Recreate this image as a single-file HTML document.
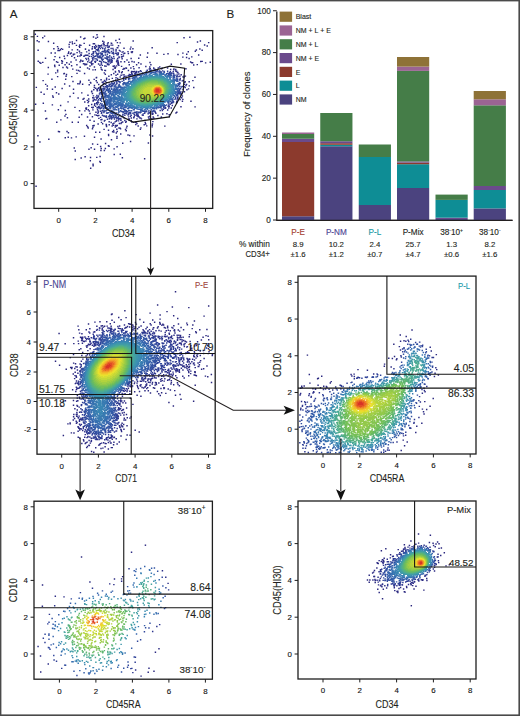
<!DOCTYPE html><html><head><meta charset="utf-8"><style>html,body{margin:0;padding:0;background:#fff;width:520px;height:716px;overflow:hidden}svg{display:block}</style></head><body><svg width="520" height="716" viewBox="0 0 520 716" font-family="'Liberation Sans', sans-serif">
<rect x="0" y="0" width="520" height="716" fill="#fff"/>
<g fill="none" stroke-width="1.45"><path stroke="#2a267c" d="M143.9 158.8h1.45m-110 27.5h1.45"/><path stroke="#2a277d" d="M34.6 34.3h1.45m7.8 1.8h1.45m-8.6 0.3h1.45m3.9 1.4h1.45m-7 2.9h1.45m94.5 0.3h1.45m-95.6 0.7h1.45m168.2 0.9h1.45m-2.9 3.4h1.45m-56.5 1.8h1.45m-5.9 5.1h1.45m7.8 0.3h1.45m9.6 0.6h1.45m-5.6 0.6h1.45m-18.1 2.8h1.45m61.6 5h1.45m-6.1 0.7h1.45m-12.1 14.4h1.45m-160.1 10.1h1.45m153.2 13.9h1.45m-156.8 2.9h1.45m158 2.7h1.45m-151.1 4.2h1.45m-0.2 7.4h1.45m-2.4 0.4h1.45m9.6 3.3h1.45m106.6 3.9h1.45m-107.8 5.3h1.45m-0.5 0.3h1.45m89.1 3.2h1.45m-113.5 0.8h1.45m113.2 0.3h1.45m-85.8 1.2h1.45m-4.4 0.5h1.45m-17.9 1.6h1.45m80.3 2.2h1.45m-92.1 0.4h1.45m107 1h1.45m-29.5 11.3h1.45m0.6 3.5h1.45m-48.6 1.7h1.45m14 8.8h1.45"/><path stroke="#2a277f" d="M96.3 34.7h1.45m5.5 1.7h1.45m-24.8 0.5h1.45m11.4 0.1h1.45m2.6 0.2h1.45m90.9 0.1h1.45m-7.3 0.5h1.45m-100.6 0.4h1.45m-2.4 0.5h1.45m34 0.6h1.45m-44.3 1.2h1.45m122.4 0.4h1.45m-153.4 0.6h1.45m22.4 0.4h1.45m123.8-0h1.45m-129 0.4h1.45m105.8 0.3h1.45m-125 0.7h1.45m17.4 0.4h1.45m-4.8 0.7h1.45m134 0.6h1.45m-148.5 1.6h1.45m71.9 0.5h1.45m-74 1.4h1.45m1.6 0.1h1.45m-9 0.2h1.45m77.6-0h1.45m65.5 0.2h1.45m-140.9 0.8h1.45m134.5 0.2h1.45m-159.7 0.2h1.45m162.6-0h1.45m-145.6 0.2h1.45m-0 0.2h1.45m134.4 0.7h1.45m-141.6 1.6h1.45m-5.4 0.1h1.45m130.2 0.1h1.45m2.4 1.1h1.45m-10.2 0.3h1.45m-39.1 0.5h1.45m56.9-0h1.45m-145.1 1.6h1.45m135.3 0.3h1.45m-10.4 0.2h1.45m2.3 0.4h1.45m-142.5 0.8h1.45m91.8-0h1.45m48.9 0.2h1.45m-136.5 1.2h1.45m-17.3 1.6h1.45m162.5 0.1h1.45m-2.9 0.1h1.45m-145.6 0.2h1.45m132.6 0.3h1.45m-149.3 0.4h1.45m13.6-0h1.45m-19.6 0.1h1.45m108.9-0h1.45m-12.9 0.2h1.45m52.6-0h1.45m-2.2 0.1h1.45m-152.5 0.5h1.45m138.6 0.7h1.45m-11 0.2h1.45m24.5 0.4h1.45m-5 0.4h1.45m-140.5 0.3h1.45m3.1-0h1.45m-5.8 1.1h1.45m-8 1h1.45m13.2 0.1h1.45m121.5 1.2h1.45m-114.6 0.4h1.45m-16.6 1.1h1.45m-1.4 1.7h1.45m-3.4 1h1.45m7.2 0.5h1.45m11.2-0h1.45m6.1 0.1h1.45m-22.1 0.3h1.45m-17.3 0.3h1.45m17 0.3h1.45m-1.9 1.8h1.45m-9.9 0.4h1.45m12.7-0h1.45m-21.3 2.7h1.45m12.3-0h1.45m-24 1.3h1.45m148.3-0h1.45m-114 0.6h1.45m-8.8 0.2h1.45m5.8 1.2h1.45m-3.8 1.2h1.45m0.2 0.1h1.45m-16.3 0.2h1.45m16.5 0.1h1.45m-38.4 0.2h1.45m0.2 1.7h1.45m20.8-0h1.45m-15.8 0.9h1.45m137.1 0.6h1.45m-133.1 1h1.45m-16.3 0.5h1.45m24.8 0.1h1.45m-22.5 0.1h1.45m-12.8 2.9h1.45m13.9 0.5h1.45m15.6 0.5h1.45m-16.2 0.8h1.45m-16.1 0.2h1.45m7.1 1.7h1.45m15.9 0.6h1.45m-18.3 0.7h1.45m23.5 0.9h1.45m-11.5 3.8h1.45m-26.2 1.3h1.45m7.6 1.7h1.45m6.8 0.7h1.45m118.9 1.2h1.45m-107.5 0.6h1.45m-18 2.4h1.45m5.5 0.8h1.45m12.8 0.1h1.45m95.8 1.6h1.45m-2.3 0.8h1.45m-111.5 1.3h1.45m-2.4 1.7h1.45m102.9 0.7h1.45m-91.6 0.4h1.45m-13.2 0.5h1.45m-8 2.2h1.45m10 2.3h1.45m4.5 0.1h1.45m72.5 2.9h1.45m-67 0.4h1.45m-0.5 1.1h1.45m63.1 0.2h1.45m-65.4 1.2h1.45m50.7 1.2h1.45m-74.8 2.2h1.45m-0 1.3h1.45m58.1 2.3h1.45m0.2 0.4h1.45m2.9 0.4h1.45m-51 0.3h1.45m31.1 0.3h1.45m-42.3 0.4h1.45m16.9 0.3h1.45m-24.5 0.7h1.45m44 0.3h1.45m-6.9 1.6h1.45m9.8 3.4h1.45m-18.6 0.3h1.45m-14.4 0.5h1.45m3.5 0.4h1.45m9.4 1.4h1.45m-0.8 0.5h1.45m-9.9 0.3h1.45m15 0.1h1.45m-27.4 1h1.45m-18.3 0.4h1.45m25.5 0.4h1.45m2.7-0h1.45m7.3 0.4h1.45m-26.6 0.3h1.45m4.1-0h1.45m8.4 1.3h1.45m-4.9 0.1h1.45m-27.1 0.4h1.45m37.5 3.5h1.45m-15.6 2.1h1.45m-16.4 0.1h1.45m10.2 0.7h1.45m-7.7 0.2h1.45m-10.8 0.5h1.45m7.7 2.7h1.45m8.1 0.6h1.45m-1 1h1.45m-8.7 1.8h1.45m-1.4 1.5h1.45"/><path stroke="#2b2880" d="M95.2 38.3h1.45m18.5 2.2h1.45m0.1 2.1h1.45m1.3 0.3h1.45m-47 0.5h1.45m8.1 0h1.45m-5.8 1.6h1.45m-4.8 0.4h1.45m3 0h1.45m-3.1 1h1.45m-11.5 0.6h1.45m59.7 2h1.45m-69.2 0.4h1.45m8.1 0.5h1.45m54.4 1.7h1.45m58.8 0.1h1.45m-57.3 0.1h1.45m-2.5 0.2h1.45m-64.1 0.1h1.45m61.8 0.4h1.45m-62.2 0.5h1.45m-4.4 0.4h1.45m0.6 0.4h1.45m2.8 0.3h1.45m-2.7 0.2h1.45m-1.3 0.4h1.45m-7.5 0.7h1.45m-4.7 0.8h1.45m6.2 0h1.45m-13.6 1.2h1.45m13.4 0.3h1.45m-11.3 0.7h1.45m65 0.1h1.45m-70.9 2.2h1.45m68.9 0.7h1.45m-71 0.1h1.45m7.1 0.4h1.45m61.7-0h1.45m-6.8 0.3h1.45m-63.5 0.6h1.45m-6.2 0.5h1.45m77.5 0.6h1.45m-73.1 0.4h1.45m-5.7 0.4h1.45m10.4-0h1.45m50.9 0.1h1.45m5.9-0h1.45m12.8-0h1.45m-80.7 0.9h1.45m60.3 0.9h1.45m-68.2 0.3h1.45m12.1 0.4h1.45m-14.1 0.6h1.45m18.6 0.1h1.45m0.3 1h1.45m-14.2 1.1h1.45m0.4 0.3h1.45m-0 0.7h1.45m104.1 5h1.45m-90.3 1.4h1.45m-1.7 0.2h1.45m-3.6 1.7h1.45m-6.7 0.8h1.45m98.8 1.5h1.45m-100.2 0.7h1.45m-1.1 0.6h1.45m-3 1.8h1.45m98.6 1.1h1.45m-2.2 3h1.45m-108.2 4h1.45m0.8 5.7h1.45m-2.4 0.7h1.45m97.9 2h1.45m-99.1 0.8h1.45m0.3 5.8h1.45m-2.1 0.3h1.45m-1.1 1.1h1.45m-2.8 1.6h1.45m80.6 2.9h1.45m-86.7 0.7h1.45m86.1 0.3h1.45m-9.3 2.1h1.45m-75.3 0.1h1.45m72.3 0.4h1.45m-72.7 2.8h1.45m61.4 1.4h1.45m-9.1 0.9h1.45m5.8 1.4h1.45m-8.2 0.1h1.45m-11.4 0.6h1.45m7 0.2h1.45m-51.6 0.7h1.45m-2.1 0.2h1.45m-1.9 0.1h1.45m52.3 0.1h1.45m-10 0.1h1.45m-46.7 1.4h1.45m32.2 0.5h1.45m12.9 0h1.45m-49.9 0.9h1.45m31.6 0.8h1.45m-0.7 1.2h1.45m-10.5 0.8h1.45m-6.1 0.2h1.45m-0.2 0.2h1.45m-19.5 0.3h1.45m2.5 0h1.45m15.1 0.6h1.45m3 1.1h1.45m-13.6 0.4h1.45m-1.4 1h1.45m-9 3.6h1.45"/><path stroke="#2b2982" d="M102 41.3h1.45m-0.5 0.8h1.45m-1 0h1.45m2.6 0.7h1.45m1.6 0.3h1.45m-1 0.3h1.45m-19.8 0.4h1.45m-0.3 0h1.45m22.6 2h1.45m-40.3 1.5h1.45m42.9 0.9h1.45m-47.9 1.6h1.45m0.4 1.5h1.45m-3.8 1.3h1.45m1.4 0.3h1.45m47 0.6h1.45m-48.9 1.2h1.45m-2.4 1.3h1.45m-3.7 0.3h1.45m-3.1 3.7h1.45m49.5 0h1.45m-47.7 0.2h1.45m0.7 0.8h1.45m-2.1 0.2h1.45m-3.6 0.6h1.45m43 0h1.45m-42.5 2h1.45m-0.4 0.1h1.45m-0 0.3h1.45m-0.8 0h1.45m-1.5 0.2h1.45m-1.7 0.2h1.45m-2.9 0.1h1.45m32.5 0.5h1.45m-30.3 0.8h1.45m30.1 0.4h1.45m22.8 0.2h1.45m12.5 0.4h1.45m-45.7 0.3h1.45m22.1 0.4h1.45m-14.6 0.2h1.45m3.5 0.2h1.45m-5.9 0.1h1.45m-12.7 0.2h1.45m7.3 0.1h1.45m-0.9 0.2h1.45m8 0.1h1.45m38.6 0.3h1.45m-74 0.2h1.45m20.1 0.1h1.45m51.3 0.1h1.45m-64.1 0.1h1.45m-19.2 0.2h1.45m-3.8 0.1h1.45m79.2 0h1.45m-72.9 0.1h1.45m1.2 0.4h1.45m-0.8 0.1h1.45m21.5 0h1.45m-11 0.3h1.45m-4.9 0.8h1.45m5.4 0.1h1.45m-8.2 0.3h1.45m2.4 0.1h1.45m0.8 0.7h1.45m-18.8 0.1h1.45m-0.4 1.3h1.45m74.4 0.5h1.45m1.5 1.5h1.45m-89.3 4.6h1.45m-0.5 1.7h1.45m87.9 1.9h1.45m-93.6 1.1h1.45m90.1 0.1h1.45m-93.1 2h1.45m-2 2.2h1.45m91.7 0h1.45m-96.6 1.4h1.45m-1.6 0.6h1.45m-5.1 3.5h1.45m-0.7 3.7h1.45m92.7 0.4h1.45m-97 1h1.45m-0.1 0.8h1.45m-2.1 1.4h1.45m-0.8 3.1h1.45m1.6 1.7h1.45m78.1 0.6h1.45m-84.5 1.7h1.45m78 0.4h1.45m-79.8 1h1.45m-0.8 2.5h1.45m71.3 0.4h1.45m-6.3 1.5h1.45m-66.9 1.2h1.45m59.3 0.3h1.45m-5.6 1.3h1.45m3.4 0h1.45m-3.4 0.5h1.45m-8.5 1.6h1.45m-52.2 0.9h1.45m40.5 0.7h1.45m-5.7 0.1h1.45m0.5 0.3h1.45m0.4 0.2h1.45m-0.1 0.9h1.45m-40.3 0.5h1.45m16.8 2.1h1.45m9.2 0.2h1.45m-21.9 0.3h1.45m7.3 0.5h1.45m2.2 0.9h1.45m-0.2 0.3h1.45m-1.1 0.6h1.45m-5.2 0.4h1.45m-14.2 0.1h1.45m3 0.9h1.45m3.6 0.3h1.45"/><path stroke="#2b2a83" d="M102.6 43.7h1.45m2.8 0.2h1.45m-5.3 0.1h1.45m-1 0.5h1.45m5.5 0.6h1.45m0.1-0h1.45m-24.5 0.1h1.45m4.7 0.2h1.45m-4.7 1.3h1.45m23.3 0.9h1.45m-1 0.1h1.45m-33.7 1.3h1.45m-1.4 0.4h1.45m32.4 1h1.45m-0.6 0.7h1.45m1.5 0.8h1.45m-2.5 0.2h1.45m-42 0.8h1.45m41.7 0.3h1.45m-2.6 0.7h1.45m-3.5 0.7h1.45m-41.6 0.7h1.45m1.7 0.6h1.45m37.4 0.1h1.45m-40.9 0.3h1.45m36.6 0.5h1.45m-1.9 0.3h1.45m-37.1 1.3h1.45m34.8 0.3h1.45m-37 0.8h1.45m-0.2 2.2h1.45m31.7 0h1.45m-5.3 0.3h1.45m-0.3 0h1.45m-29.9 0.4h1.45m0 0.9h1.45m25.7 0.1h1.45m-27 0.4h1.45m23.3 0.1h1.45m-0.9 0.6h1.45m-27.9 0.2h1.45m6.8 0.5h1.45m15.2 0.7h1.45m-3.6 0.2h1.45m-9.9 0.2h1.45m5.7-0h1.45m-20.2 0.7h1.45m53.9 0.1h1.45m-50.2 0.3h1.45m-1.5 0.1h1.45m12.1 0.4h1.45m51.6 0.2h1.45m1.6 1.4h1.45m3.6 1.6h1.45m-0.4 0.2h1.45m-43.7 0.1h1.45m0.6 0h1.45m-6.2 0.1h1.45m-0.1 0.3h1.45m-0.1 0h1.45m-4.5 0.4h1.45m45 0.2h1.45m-2 0.3h1.45m-65 0.8h1.45m63.6 0.5h1.45m-62.6 0.2h1.45m-7.8 0.5h1.45m10.3 0.2h1.45m-0.3 0h1.45m-9.6 0.4h1.45m3.6-0h1.45m-13.7 1h1.45m72.6 0.6h1.45m-0.4 0.7h1.45m-78.8 0.6h1.45m-7 1.5h1.45m80.7 0.9h1.45m0.5 1.1h1.45m-1.9 0.6h1.45m-1.7 1.9h1.45m-87.2 0.3h1.45m85 3h1.45m-91 0.8h1.45m-0 1.1h1.45m85.9 2.4h1.45m-93.4 1.8h1.45m-0.5 2.3h1.45m87.5 0.2h1.45m-91.1 1.6h1.45m87.2 0.1h1.45m-1.1 0h1.45m-89.2 0.2h1.45m84.7 1.5h1.45m-88.3 0.8h1.45m-1.6 0.8h1.45m82.1 1.2h1.45m-1.6 0.7h1.45m-86.3 1.5h1.45m79.2 1h1.45m-80.6 1.8h1.45m-1.9 0.6h1.45m74.6 0.1h1.45m-77.3 1.9h1.45m1.6 2.3h1.45m-2.5 2.7h1.45m0.2 0.3h1.45m0.8 0.2h1.45m-2.4 0.4h1.45m50.6 0.4h1.45m-2.9 0.8h1.45m-10 1h1.45m-0.7 0h1.45m-10.8 0.1h1.45m-33.9 0.3h1.45m36.6 0.5h1.45m3.1 0h1.45m-13.6 0.1h1.45m-2.2 0.1h1.45m-0.9 0.3h1.45m-28.7 0.2h1.45m-2.3 0.2h1.45m26.6 0.2h1.45m0.7 0.8h1.45m-28.3 0.2h1.45m20.4 0.5h1.45m-5 0.5h1.45m1.6 0.3h1.45m-25.7 0.1h1.45m18.6 0.2h1.45m-9.1 0.7h1.45m5.7 0.2h1.45m-3.1 0.1h1.45m-18.2 0.2h1.45m8.7 0.3h1.45m-7.9 0.3h1.45m-1.6 0.2h1.45m1.6 0.1h1.45m2.9 0.7h1.45m0.6 0h1.45m0.2 0.1h1.45m-12.3 0.1h1.45m4.3 0.5h1.45"/><path stroke="#2c2e88" d="M100.9 45.3h1.45m-4.7 0.1h1.45m-0 0.3h1.45m4.6 0h1.45m0.2 0.1h1.45m-4.9 0.1h1.45m-4.9 0.2h1.45m7.2 0.2h1.45m-16.1 0.4h1.45m0.4 0.1h1.45m-1.2 0.1h1.45m0.7 0.1h1.45m8.6 0.3h1.45m-15 0.7h1.45m-2 0.2h1.45m-3.9 0.2h1.45m17.3 0.1h1.45m0.3 0.1h1.45m-22.2 0.4h1.45m22.5 0.6h1.45m-28.7 0.6h1.45m-1.2 0.4h1.45m25.5 0.5h1.45m-30.8 0.8h1.45m29.8 1h1.45m-1 0.1h1.45m-30.7 0.5h1.45m27.6 1.1h1.45m-33.1 0.6h1.45m-0.2-0h1.45m-3.8 0.1h1.45m2.4 1.1h1.45m28.3 0.6h1.45m-1.3 0.2h1.45m-1.5 0.3h1.45m-32.2 0.8h1.45m27.8 0.2h1.45m-30.3 1.5h1.45m2.6-0h1.45m22.7 0.3h1.45m-0.5 0.2h1.45m-2.4 0.4h1.45m-26.7 0.3h1.45m23.4 0.2h1.45m-23.1 0.1h1.45m-5 0.6h1.45m2.5 0.2h1.45m15.1-0h1.45m-2.9 0.8h1.45m-1.4-0h1.45m-4.1 0.4h1.45m-10.7 0.5h1.45m1.3 0.1h1.45m4.7 0.5h1.45m0.1-0h1.45m-1.9 0.1h1.45m-7.7 0.7h1.45m1 0.6h1.45m47.5 2h1.45m3.1 0.1h1.45m2.4 0.1h1.45m-13.3 0.6h1.45m2.3 0.1h1.45m6.2 0h1.45m-13.8 0.1h1.45m-10.3 1.8h1.45m31.3 0.9h1.45m-35.8 0.1h1.45m-3.9 0.4h1.45m-2.2 0.1h1.45m-5.4 1.4h1.45m1.4 0.3h1.45m-6.7 0.4h1.45m-0 0.3h1.45m-3 0.3h1.45m-2.2 0.8h1.45m-1.8 0.1h1.45m-3.6 0.3h1.45m52.4 0.1h1.45m-57.1 0.2h1.45m-1.3 0.3h1.45m-5.6 0.3h1.45m-5.6 0.7h1.45m6 0h1.45m-12.6 0.6h1.45m3.9 0.2h1.45m-10 0.8h1.45m-4 0.3h1.45m-3.5 0.7h1.45m-1.5 0.5h1.45m76.3 0h1.45m-78.1 0.5h1.45m-3.5 0.6h1.45m-2.7 0.2h1.45m-0.4 1.6h1.45m79.4 3h1.45m-86.6 1h1.45m-2 0.5h1.45m-2.4 0.9h1.45m84.1 0.4h1.45m-87.3 0.1h1.45m-1.5 1h1.45m-1.1 0.2h1.45m83.1 1h1.45m-1.7 1.9h1.45m-86.4 1.6h1.45m-2.2 1.7h1.45m-0.7 1.4h1.45m-3.9 1.2h1.45m0.1 0.3h1.45m79.7 0h1.45m-1.8 1.8h1.45m-81.7 1.6h1.45m-3.2 0.3h1.45m-1.7 1.5h1.45m-0.4 1.2h1.45m72.2 0.1h1.45m-5 1.5h1.45m-2.1 0.2h1.45m-3.1 1.1h1.45m-67.3 0.3h1.45m63.4 0.9h1.45m-65.7 0.6h1.45m55.7 1.2h1.45m-58.5 0.1h1.45m56.2 0.9h1.45m-59.5 0.1h1.45m53.5 0.2h1.45m-1.3 0h1.45m-1.7 0.6h1.45m-11.8 0.9h1.45m-6.9 0.2h1.45m4.8 0h1.45m-9.6 0.1h1.45m1.8 0.3h1.45m-2.8 0.2h1.45m-7.8 0.4h1.45m5.9 0.2h1.45m-5.1 0.3h1.45m-7.1 0.1h1.45m9.2 0.1h1.45m-40.1 0.4h1.45m31.7 0.4h1.45m-11.1 0.3h1.45m-4.7 1.9h1.45m-1.3 0.2h1.45m-17.5 0.2h1.45m10.4 0.1h1.45m6.6 0.1h1.45m-7.7 0.3h1.45m-3.9 0.4h1.45m-8.4 0.4h1.45m4.5 0.2h1.45m-5.4 0.6h1.45"/><path stroke="#2d368e" d="M100.8 47.1h1.45m-1.3 0h1.45m4.7 0h1.45m-1.3 0.1h1.45m-10.1 0.1h1.45m4.7 0.6h1.45m-4.1 0.3h1.45m-5.9 0.3h1.45m2.9 0h1.45m-3.7 0.1h1.45m2.8 0.5h1.45m2.2 0.3h1.45m-13.6 0.4h1.45m-0.1 0h1.45m-0.6 0h1.45m9 0h1.45m3.1 0.2h1.45m-17.3 0.6h1.45m-3.6 0.9h1.45m14.6 0.1h1.45m-19.7 0.2h1.45m-1-0h1.45m18.3 0.4h1.45m-21.4 0.6h1.45m21.6 0.4h1.45m-2.2 0.1h1.45m-23.8 0.4h1.45m18.9 0h1.45m-22.8 0.2h1.45m-0.9-0h1.45m19.1 0.1h1.45m-23.3 0.4h1.45m23.9 0.3h1.45m-0.8 0.1h1.45m-1.6 0.1h1.45m-25.8 0.8h1.45m-3.3 0.7h1.45m20.9 0.2h1.45m-21.9 1.1h1.45m-2.3 0.4h1.45m18.5 0.3h1.45m-1.4 0.1h1.45m0.3 0.1h1.45m-20.5 0.1h1.45m-3.8 0.4h1.45m15.8 0.2h1.45m0.2 0.2h1.45m-15.7 0.6h1.45m-1.5 0.1h1.45m10.6 0.1h1.45m1.4 0.5h1.45m-5.7 0.2h1.45m1.2-0h1.45m-12.5 0.2h1.45m10.6-0h1.45m-17.4 0.2h1.45m3.9 0.1h1.45m1.2 0.3h1.45m3.9-0h1.45m-1.9 0.1h1.45m-4.8 0.5h1.45m-0.5 0.3h1.45m-6.1 0.1h1.45m52.3 6.6h1.45m-9.5 0.8h1.45m-7.5 1.4h1.45m27.7 0.1h1.45m-33.5 0.3h1.45m-3.8 1.4h1.45m36.3 0.2h1.45m-39.8 0.1h1.45m-1.5 0.1h1.45m-4.5 0.4h1.45m-1.6 0.7h1.45m43.6 0.2h1.45m-48.6 0.4h1.45m-1.4 0.8h1.45m46.6 0.2h1.45m-53.7 1.9h1.45m53 0.2h1.45m-58.1 0.8h1.45m54.9 0.3h1.45m-65.7 0.2h1.45m0.5 0.7h1.45m-3.7 0.1h1.45m-3.5 0.4h1.45m-8.4 1.7h1.45m1.3 0.1h1.45m-6.9 1.4h1.45m0.5 0.1h1.45m-5 1.5h1.45m-1.4-0h1.45m0.1 0.5h1.45m77.2 0.2h1.45m-83.4 0.6h1.45m-1.4 0.6h1.45m-2.1 1.4h1.45m0.2 0.1h1.45m-3.3 1.2h1.45m79 1.8h1.45m-1 0.3h1.45m-1.8 0.6h1.45m-1.2 1.7h1.45m-83.2 1h1.45m-1.9 0.3h1.45m-1.7 0.6h1.45m78.6 0.2h1.45m-1.9 0.3h1.45m-81.1 0.2h1.45m78.4 0.1h1.45m-81.8 0.2h1.45m79.1 1h1.45m-2 0.1h1.45m-80.3 0.9h1.45m-2.2 1.3h1.45m-1.4 1.4h1.45m-2.6 0.3h1.45m0.4-0h1.45m-2.6 0.1h1.45m-1.2 0h1.45m72.2 0.3h1.45m-2.6 1.1h1.45m-74.4 0.2h1.45m70.2 1.3h1.45m-2.2 0.5h1.45m-71.1 0.4h1.45m-0.1 0.4h1.45m-4.2 0.7h1.45m66.8-0h1.45m-68.5 0.1h1.45m-0.5 0.2h1.45m59.5 2.4h1.45m-61.2 0.7h1.45m-0.1 1h1.45m46.5 0.8h1.45m-0.4-0h1.45m-50.6 0.1h1.45m41.6 0.1h1.45m-44.7 0.2h1.45m45.3 0.3h1.45m1.3 0.3h1.45m-15.8 0.1h1.45m0.1 0h1.45m-5.4 0.1h1.45m-7 0.2h1.45m6.7 0h1.45m-3.9 0.1h1.45m-7.7 0.6h1.45m-27.1 0.2h1.45m21 0.1h1.45m4.9 0h1.45m-29.2 0.6h1.45m-0.5 0.1h1.45m15.8 0.3h1.45m-17.8 0.1h1.45m15.3 0h1.45m-0.6 0.1h1.45m-18.1 0.1h1.45m-1.3 0.6h1.45m-1.3 0h1.45m10.1 0.6h1.45m-9.5 0.2h1.45m0.2 0h1.45m3.7 0h1.45m2.5 0.4h1.45m-12.9 0.1h1.45m8 0h1.45m-10.9 0.1h1.45m6 0h1.45m1.4 0.1h1.45m-9.6 0.2h1.45m1.5 0.1h1.45m-8.5 0.2h1.45m9.9 0h1.45"/><path stroke="#2e3e95" d="M103.9 50.2h1.45m1.3 0.3h1.45m-4.3 0.3h1.45m-0.4 0.1h1.45m-8.1 0.1h1.45m7.1 0.3h1.45m-6.3 0.3h1.45m-0.7 0h1.45m3.8 0h1.45m-6.8 0.1h1.45m2.9 0h1.45m-1.2 0h1.45m-7.2 0.1h1.45m-0.3 0h1.45m-0.6 0h1.45m-1.9 0.1h1.45m0.9 0.1h1.45m1.1 0.2h1.45m-4.7 0.5h1.45m2.9 0h1.45m-10.6 0.2h1.45m-5.8 0.1h1.45m11.8 0.1h1.45m1.6-0h1.45m-15.1 0.1h1.45m0.7 0.2h1.45m9.8-0h1.45m-16.9 0.1h1.45m4.1 0.3h1.45m-6.7 0.3h1.45m-0.1-0h1.45m-1.9 0.1h1.45m1.7-0h1.45m4.8-0h1.45m-11.8 0.8h1.45m3.7 0.1h1.45m1.7-0h1.45m3 0.6h1.45m-10.8 0.2h1.45m-6 0.1h1.45m0.6-0h1.45m-4.1 0.2h1.45m2.8-0h1.45m-1.2-0h1.45m5.7 0.1h1.45m-5.8 0.4h1.45m3.1-0h1.45m-14.2 0.1h1.45m6.6-0h1.45m-6.3 0.2h1.45m9.8-0h1.45m-10.5 0.1h1.45m10.2 0.2h1.45m-12.2 0.2h1.45m9.2-0h1.45m-13.9 0.1h1.45m8.7 0.2h1.45m-10.5 0.1h1.45m-0-0h1.45m2.1 0.1h1.45m0.8 0.1h1.45m-2.6 0.1h1.45m-6 0.2h1.45m-6.2 0.6h1.45m8.9 0.1h1.45m-6.7 0.1h1.45m-0.2 0.1h1.45m2.6 0.1h1.45m-0.1 0.5h1.45m-7.5 0.6h1.45m47.2 9.7h1.45m-2.5 0.1h1.45m3.2-0h1.45m-4.2 0.1h1.45m4-0h1.45m-4.7 0.1h1.45m-0-0h1.45m-1.5 0.2h1.45m5.6 0.2h1.45m-4.3 0.1h1.45m6.4 0.2h1.45m-22.8 0.2h1.45m-1.4 0.1h1.45m16.4 0.1h1.45m-19.3 0.1h1.45m21.9 1.1h1.45m-1.2-0h1.45m-28.6 0.1h1.45m25.7 0h1.45m0.3 0.1h1.45m-1.1 0.4h1.45m-2.2 0.3h1.45m-34.8 0.6h1.45m-1.8 0.1h1.45m-3.3 0.3h1.45m36.5 0.2h1.45m-0.2 0.3h1.45m-42.9 0.2h1.45m-1.2 0.5h1.45m-3.2 0.4h1.45m43.5 0h1.45m-1.8 0.1h1.45m-49.6 1.9h1.45m-4.1 1.1h1.45m52.6 0.7h1.45m-57.5 0.1h1.45m-3.1 1.2h1.45m-4.4 0.1h1.45m-2.2 0.1h1.45m-3.3 0.1h1.45m-6.3 0.4h1.45m7 0h1.45m-1.7 0.4h1.45m-6.9 0.3h1.45m-1.8 0.4h1.45m1.4 0h1.45m61.6 0h1.45m-69.2 0.2h1.45m-0.1 0.3h1.45m-1.8 0.2h1.45m-3.8 0.1h1.45m4.2 0h1.45m-8.1 0.7h1.45m-2.2 0.1h1.45m-4.1 0.9h1.45m-0.6 0h1.45m-1.5 0.2h1.45m-2 0.4h1.45m-2.8 0.5h1.45m-0.1 0.1h1.45m73 0.2h1.45m-78.7 0.9h1.45m-2.5 0.4h1.45m-0.5 0.2h1.45m-0.6 0.1h1.45m74.4 0.1h1.45m-77.1 0.2h1.45m-3.4 0.1h1.45m-3.1 1.3h1.45m0.1 0.9h1.45m75.6 0.8h1.45m-79.8 0.3h1.45m-2.9 0.2h1.45m0.3 0.6h1.45m-2.1 0.2h1.45m76.6 0.1h1.45m-1.3 0h1.45m-1 0.2h1.45m-81.9 0.3h1.45m0.5 0.5h1.45m-3.2 3.9h1.45m74.5 0h1.45m-76.5 0.4h1.45m73 0.6h1.45m-75.9 0.8h1.45m71.5 1.5h1.45m-2.6 0.2h1.45m-0.2 0.1h1.45m-3.3 0.5h1.45m-0.5 0.4h1.45m-73.4 0.6h1.45m66.3 0.5h1.45m-1.1 0.1h1.45m-70.8 0.8h1.45m0.9 2.3h1.45m60.5 0.3h1.45m-64.8 0.8h1.45m-0.8 0h1.45m-2.3 0.5h1.45m60.2 0.2h1.45m-61.1 1.8h1.45m-0 0.1h1.45m48.9 0.1h1.45m-0.5 0.2h1.45m-3.6 0.3h1.45m-50.2 0.3h1.45m42.8 0.2h1.45m2.5 0h1.45m-9 0.1h1.45m-11.1 0.1h1.45m13 0.1h1.45m-20.4 0.1h1.45m2.4 0.1h1.45m-0.8 0h1.45m-0.8 0h1.45m-33.3 0.1h1.45m24.1 0.2h1.45m-24.3 0.3h1.45m18.5 0h1.45m8.8 0h1.45m-12.5 0.1h1.45m1.4 0h1.45m-4.4 0.1h1.45m5.9 0h1.45m-8.2 0.1h1.45m-3 0.3h1.45m0.5 0h1.45m2.2 0.1h1.45m-0.9 0.1h1.45m11 0h1.45m-21.7 0.3h1.45m-5 0.7h1.45m-11 0.1h1.45m11.4 0h1.45m-8.4 0.3h1.45m-7.6 0.1h1.45m4.7 0.1h1.45m2.6 0h1.45m-1.3 0h1.45m-15.1 0.5h1.45m1.9 0h1.45m-0.3 0h1.45m1.4 0.1h1.45m-4 0.2h1.45m-0.8 0h1.45m-4.5 0.3h1.45m-1.2 0.2h1.45m8 0h1.45m-3.7 0.3h1.45m-6.7 0.3h1.45m2.8 0h1.45m-3.6 0.1h1.45m-2.7 0.4h1.45m1.3 0h1.45m1.5 0h1.45"/><path stroke="#30479c" d="M102.7 55.4h1.45m54.2 15.7h1.45m-4.5 0.1h1.45m3.4 0.4h1.45m-11.6 0.2h1.45m4.5 0h1.45m-0.4 0.1h1.45m-12.6 0.7h1.45m-1.2 0h1.45m-3.2 0.1h1.45m-0.6 0.1h1.45m22.4 0.6h1.45m-2.5 0.4h1.45m0.3 0.3h1.45m-32.1 0.1h1.45m28.8 0h1.45m-33.4 0.5h1.45m-1.2 0.3h1.45m33.6 0.6h1.45m-0.5 0.5h1.45m1.1 1.8h1.45m-1.7 0.2h1.45m-48.4 0.2h1.45m-1.3 0.4h1.45m46.4 0.5h1.45m-1.9 0.3h1.45m-50.1 0.2h1.45m-6.2 2.7h1.45m54.3 0.2h1.45m-56.8 0.2h1.45m-1.8 0.2h1.45m-2.3 0.8h1.45m54.7 0h1.45m-67.1 0.3h1.45m4.2 0.4h1.45m58.9 0h1.45m-68 0.2h1.45m0.9 0.2h1.45m-4.5 0.4h1.45m-2.3 0.1h1.45m-0.4 0.1h1.45m1 0.2h1.45m-7.1 0.1h1.45m1.2 0h1.45m-5.7 0.6h1.45m2.6 0h1.45m-4.3 0.2h1.45m69.4 0h1.45m-74 0.2h1.45m2 0h1.45m-5.9 0.3h1.45m-0.3 1.1h1.45m70.7 1.1h1.45m-74.2 0.3h1.45m70.9 0.1h1.45m-1.1 0h1.45m-76.8 0.1h1.45m-2.4 0.5h1.45m74.9 0.5h1.45m-1.9 0.2h1.45m-2 1.1h1.45m-76.2 0.6h1.45m-2.8 0.1h1.45m-0.9 0.2h1.45m0.6 0h1.45m72.1 0.3h1.45m-76.9 0.5h1.45m73.2 0.4h1.45m-2 0.4h1.45m-1.1 0.2h1.45m-1.3 0.7h1.45m-2.6 0.3h1.45m-75.9 0.1h1.45m-0.9 0.2h1.45m-2.5 0.6h1.45m72.5 0.9h1.45m-75.2 0.5h1.45m-1.1 0.1h1.45m-1.5 0.1h1.45m-1.8 0.5h1.45m69.5 1.7h1.45m-72.5 0.7h1.45m-1 2.8h1.45m-1.9 0.9h1.45m-1.8 0.6h1.45m0.9 0.1h1.45m-1.8 0.2h1.45m60.5 0h1.45m-64.1 0.3h1.45m59.5 0.4h1.45m-1 0.1h1.45m-62.1 0.2h1.45m0 0.6h1.45m-2.5 1h1.45m-1.4 0h1.45m-1.4 0.4h1.45m-2.2 0.1h1.45m2.3 1.4h1.45m45.4 0h1.45m-29.6 0.3h1.45m-0.5 0.1h1.45m-21.8 0.2h1.45m-2.9 0.1h1.45m20.3 0h1.45m18.1 0h1.45m4.4 0h1.45m-6.9 0.1h1.45m-1.4 0.1h1.45m-4.2 0.1h1.45m-0.5 0.1h1.45m-25 0.1h1.45m2.4 0h1.45m-4.5 0.1h1.45m-0.2 0.2h1.45m1.9 0h1.45m-0.3 0h1.45m7.8 0h1.45m7.5 0.1h1.45m-24.6 0.2h1.45m-0.4 0.2h1.45m13.4 0h1.45m-0.2 0h1.45m-0.4 0h1.45m-5.6 0.4h1.45m1.9 0h1.45m-33.1 0.1h1.45m-2.2 0.1h1.45m9.1 0.1h1.45m-3.4 0.1h1.45m-6.3 0.1h1.45m2.2 0.1h1.45m-9.5 0.1h1.45m4.7 0.2h1.45m0.3 0.1h1.45m-3.6 0.2h1.45m0.8 0.8h1.45m0.7 0.1h1.45m-6.4 0.6h1.45m0 0.5h1.45"/><path stroke="#3151a1" d="M150.2 72.1h1.45m8.7 0h1.45m-10.1 0.2h1.45m10.5 0h1.45m-17 0.2h1.45m9.1 0h1.45m-11.7 0.1h1.45m10.2 0h1.45m-0.9 0h1.45m-15.1 0.2h1.45m2.2 0.2h1.45m15.1 0.3h1.45m-26 0.5h1.45m21.9 0h1.45m0.9 0.5h1.45m-2 0.5h1.45m0.2 0.2h1.45m-31.8 0.3h1.45m30.3 0h1.45m-35.2 0.1h1.45m-1.6 0.2h1.45m31.8 0.1h1.45m-35.8 0.4h1.45m-1.7 0.3h1.45m-2.6 0.3h1.45m36.6 0.1h1.45m-39.8 0.3h1.45m38 0h1.45m-42.5 0.5h1.45m40 0.3h1.45m-41.9 0.1h1.45m37.5 0h1.45m-42.4 0.2h1.45m42.4 1.3h1.45m-0.6 1.1h1.45m-1.5 0.4h1.45m-0.6 0.1h1.45m-1.3 0.2h1.45m-55.2 2.3h1.45m53 0h1.45m-2 0.1h1.45m-56.3 1h1.45m-5.5 0.4h1.45m58 0h1.45m-1.9 0.4h1.45m-61.2 0.4h1.45m-0.5 0.1h1.45m-4.9 0.2h1.45m-3.1 0.4h1.45m4.3 0.1h1.45m-5.5 0.2h1.45m1.5 0h1.45m-2.8 0.5h1.45m-3.1 0.5h1.45m-5.7 0.4h1.45m1.1 0h1.45m62.9 0h1.45m-70.7 0.2h1.45m68 0.1h1.45m-70.5 0.5h1.45m0.8 0.1h1.45m-1.6 0.1h1.45m-4.8 0.1h1.45m-1.9 0.2h1.45m-1.1 0.2h1.45m-0.7 0.1h1.45m-4 0.4h1.45m-0 0.6h1.45m69 0h1.45m-70.8 0.1h1.45m67.1 0.1h1.45m-73.9 0.2h1.45m1.9 0.1h1.45m-4.4 0.4h1.45m70.1 0.6h1.45m-74.1 0.8h1.45m71.8 0.5h1.45m-74.1 0.2h1.45m0 0h1.45m-3.7 1h1.45m70.9 0h1.45m-72.8 0.2h1.45m-1.4 0.3h1.45m-0.9 0.1h1.45m-1.7 0.7h1.45m-2.5 0.6h1.45m-1.8 0.3h1.45m-0.7 0.4h1.45m66 1.6h1.45m-1.1 0h1.45m-2.2 0.5h1.45m-0.6 0.3h1.45m-69.4 1.6h1.45m64.2 0.1h1.45m-68 0.2h1.45m62.6 0.5h1.45m-0.9 0.1h1.45m-1.7 0.3h1.45m-64.7 1.6h1.45m-0.7 0h1.45m-2.9 0.4h1.45m60.6 0.3h1.45m-62.1 0.6h1.45m55.9 0h1.45m-0.2 0.3h1.45m-60.9 0.6h1.45m55.1 0.1h1.45m-1.9 0.2h1.45m-3.1 0.6h1.45m-55.1 0.2h1.45m53.1 0h1.45m-0.9 0.1h1.45m-55.2 0.1h1.45m-2.6 0.1h1.45m-2.1 0.2h1.45m49.5 0h1.45m-50.9 0.1h1.45m-1.8 0.1h1.45m0.2 0.5h1.45m47 0h1.45m-34.3 0.4h1.45m-0.5 0h1.45m-1.9 0.2h1.45m-0.7 0.5h1.45m-17.9 0.2h1.45m1.4 0.3h1.45m36.1 0h1.45m-29.7 0.3h1.45m2.3 0h1.45m2.7 0h1.45m-0.2 0h1.45m0.2 0.1h1.45m-1.3 0.1h1.45m-14.3 0.1h1.45m-7.8 0.1h1.45m26.9 0h1.45m0.7 0.3h1.45m-32.3 0.1h1.45m-3.5 0.3h1.45m-0.6 0.1h1.45m1 0h1.45m-4.6 0.1h1.45m0 0h1.45m6.1 0h1.45m-10.2 0.6h1.45m2.4 0h1.45m-5.3 0.1h1.45m0.5 0.1h1.45"/><path stroke="#335aa7" d="M153 72.1h1.45m-0 0h1.45m-3.2 0.1h1.45m0.2 0.4h1.45m-1.1 0h1.45m-3.8 0.2h1.45m9 0.4h1.45m-1.3 0.1h1.45m-1.8 0.1h1.45m-18.5 0.1h1.45m16.1 0.4h1.45m-21 0.6h1.45m20.5 0h1.45m-25.5 0.3h1.45m-2.8 0.3h1.45m-1.8 0.2h1.45m-0.6 0.4h1.45m27.1 0.1h1.45m-35.3 1.9h1.45m-3.5 0.9h1.45m-1.1 0h1.45m38.3 0.8h1.45m0.3 0.7h1.45m-2.1 0.1h1.45m-0.2 0.8h1.45m-47.9 0.3h1.45m-2.7 0.5h1.45m-2.1 0.6h1.45m-1.7 0.2h1.45m-3.8 0.4h1.45m-0.4 0h1.45m-0.5 0h1.45m-2.1 0.4h1.45m-1.4 0.2h1.45m-3.1 0.8h1.45m50.5 1.5h1.45m-1.2 0.1h1.45m-58.4 0.2h1.45m55.7 0h1.45m-1.6 0.3h1.45m-57 0.7h1.45m-5 0.1h1.45m1 0.1h1.45m-2.1 0.2h1.45m-0.7 0.1h1.45m-5.5 0.5h1.45m-1.8 0.4h1.45m59.4 0.4h1.45m-60.8 0.1h1.45m-4.5 0.2h1.45m-2.7 0.2h1.45m62.2 0h1.45m-65 0.1h1.45m1.1 0.1h1.45m-0.1 0.1h1.45m-5 0.2h1.45m61.9 0h1.45m-65.5 0.2h1.45m-0.8 0.2h1.45m0.2 0h1.45m-6.8 0.2h1.45m1.2 0h1.45m0.9 0.2h1.45m-7.3 0.5h1.45m-0.9 0.2h1.45m-0.1 0.4h1.45m-0.2 0h1.45m-1.1 0h1.45m-1.5 0.1h1.45m61.9 0.1h1.45m-69.4 0.1h1.45m0.3 0.2h1.45m-1.4 0.3h1.45m-2.2 0.8h1.45m-0.1 0.1h1.45m-2.4 0.1h1.45m-1.8 0.4h1.45m64.9 0.2h1.45m-70.6 1.2h1.45m-0.1 0.2h1.45m64.9 0h1.45m-67.2 0.1h1.45m64.8 0.5h1.45m-68.5 0.4h1.45m-2.2 0.1h1.45m-1.7 0.8h1.45m65.1 0h1.45m-69.7 0.5h1.45m0.1 1.3h1.45m-2.2 0.3h1.45m64.5 0h1.45m-67.6 0.8h1.45m0.4 0h1.45m-4 0.4h1.45m62.2 0.6h1.45m-62.4 0.2h1.45m59.8 0.1h1.45m-64.5 0.1h1.45m-0.6 0.1h1.45m-3.1 0.1h1.45m0.4 0.3h1.45m-1.4 0.3h1.45m-3.4 0.6h1.45m-1 0h1.45m0.6 0.7h1.45m-2.6 0.2h1.45m56.3 0.6h1.45m-59.2 0.1h1.45m-0.9 0.1h1.45m-1.3 0h1.45m1.3 0.4h1.45m51 0h1.45m-3.5 0.8h1.45m-53.2 0.1h1.45m-0.7 0.5h1.45m-0.2 0h1.45m-2.1 0.1h1.45m13.9 0.1h1.45m-13.5 0.1h1.45m0.5 0h1.45m-0.5 0h1.45m40.5 0h1.45m-46.3 0.1h1.45m2.3 0h1.45m6.4 0.1h1.45m-1.7 0.1h1.45m-0.1 0.1h1.45m30.2 0h1.45m-0.5 0.2h1.45m-38.9 0.1h1.45m-12.4 0.2h1.45m-0.9 0h1.45m2 0h1.45m5 0h1.45m1.2 0.1h1.45m7.3 0h1.45m-23.6 0.1h1.45m42.2 0h1.45m-36.6 0.1h1.45m1.2 0.1h1.45m5.2 0h1.45m-7.6 0.1h1.45m4.8 0h1.45m25.5 0h1.45m-46.3 0.1h1.45m7.1 0h1.45m3.5 0h1.45m-6.1 0.1h1.45m8.5 0.1h1.45m-20 0.1h1.45m1.4 0h1.45m7.4 0h1.45m31.5 0h1.45m-40.8 0.1h1.45m17.3 0h1.45m-16.7 0.1h1.45m30.8 0.5h1.45m-1 0h1.45m-39.2 0.1h1.45m-0.5 0h1.45m0.2 0h1.45m15.5 0.1h1.45m-0.6 0h1.45m-17.3 0.2h1.45m21.6 0.5h1.45m-0.7 0.1h1.45m-1 0.1h1.45m-3.1 0.1h1.45m-0.9 0.1h1.45"/><path stroke="#3564ad" d="M158.6 73.1h1.45m0.7 0.1h1.45m-12.3 0.1h1.45m8.6 0.1h1.45m-1.2 0h1.45m-1.6 0.1h1.45m-11.2 0.1h1.45m3.4 0h1.45m-2.3 0.2h1.45m-1.2 0h1.45m0.3 0.1h1.45m-12.5 0.2h1.45m-0.9 0.1h1.45m15.2 0.1h1.45m-18.7 0.4h1.45m17.2 0.2h1.45m-1 0.1h1.45m2.2 0.7h1.45m-2.3 0.1h1.45m-28.5 0.5h1.45m26.9 0.2h1.45m0.4 0.7h1.45m-36.8 0.9h1.45m36.3 1h1.45m-1.4 0.1h1.45m-40.9 0.4h1.45m-2.7 0.7h1.45m40 0h1.45m-1.3 0.2h1.45m-1.4 0.2h1.45m-47.6 1.7h1.45m-2.4 1.3h1.45m0.1 0h1.45m-1.3 0.2h1.45m-4 0.3h1.45m48.2 0.3h1.45m-0.9 0.9h1.45m-1.3 0.4h1.45m-1.3 0.2h1.45m-54.2 1h1.45m-3.3 0.7h1.45m-1 0h1.45m52.4 0.9h1.45m-56.9 0.3h1.45m-0.5 0.1h1.45m-2.7 0.2h1.45m53.7 0.2h1.45m-0.5 0.1h1.45m-58.7 0.2h1.45m-1.8 0.7h1.45m-1.6 0.1h1.45m-3.6 0.1h1.45m1.7 0.1h1.45m-4 0.1h1.45m-0.9 0.5h1.45m-3.9 0.2h1.45m-0.6 0h1.45m-3.2 0.2h1.45m58.9 0.1h1.45m-62.4 0.2h1.45m0.2 0h1.45m-2.3 0.2h1.45m-0.8 0h1.45m-0.3 0h1.45m-0.4 0.1h1.45m-6.2 0.3h1.45m-1.1 0h1.45m0.8 0.1h1.45m58.6 0.6h1.45m-65 0.2h1.45m1.5 0h1.45m-3.7 0.1h1.45m61.2 0h1.45m-61.1 0.1h1.45m-2.1 0.4h1.45m-5.6 0.1h1.45m1 0.1h1.45m0.3 0h1.45m-4.1 0.1h1.45m1.5 0h1.45m-3.8 0.3h1.45m-3.2 0.3h1.45m0.4 0h1.45m-5.8 0.1h1.45m62.9 0.1h1.45m-61.7 0.1h1.45m58.7 0h1.45m-1.6 0.1h1.45m-65.6 0.1h1.45m1 0h1.45m0.9 0.1h1.45m-1.4 0.3h1.45m-4 0.2h1.45m-3.9 0.3h1.45m-0.9 0.6h1.45m-0.6 0h1.45m-3.7 0.3h1.45m-0.7 0.3h1.45m0.4 0.2h1.45m-0.3 0.1h1.45m-1.4 0.2h1.45m-2.7 0.4h1.45m59.9 0.3h1.45m-62.9 0.1h1.45m-3 0.1h1.45m60 0.2h1.45m-60.5 0.1h1.45m-3 0.2h1.45m-1.1 0h1.45m-0.6 0.1h1.45m-1.8 0.2h1.45m58.6 0.1h1.45m-64.1 0.2h1.45m2.4 0.1h1.45m55.7 0.3h1.45m-61.3 0.2h1.45m0.1 0h1.45m-1.8 0.4h1.45m55.5 0.1h1.45m-58.3 0.1h1.45m-1 0.2h1.45m-1.9 0.1h1.45m-0.8 0.1h1.45m55 0.2h1.45m-59.6 0.1h1.45m-2.8 0.3h1.45m-1.4 0.6h1.45m1.1 0.3h1.45m2.2 0h1.45m-0.5 0.1h1.45m-1.5 0.1h1.45m-7.2 0.1h1.45m4.6 0.2h1.45m-8.1 0.2h1.45m2.2 0h1.45m-2 0.1h1.45m2.9 0h1.45m45.4 0h1.45m-54.1 0.1h1.45m0.6 0h1.45m8.5 0h1.45m39.2 0.1h1.45m-45.9 0.1h1.45m1.6 0h1.45m-4.2 0.1h1.45m0.6 0.1h1.45m0 0h1.45m-14.7 0.1h1.45m52.4 0h1.45m-44.4 0.1h1.45m1.4 0h1.45m37.9 0h1.45m-54.2 0.1h1.45m-0 0h1.45m1.6 0h1.45m0.3 0h1.45m2.5 0h1.45m41.9 0h1.45m-49.4 0.1h1.45m3.2 0h1.45m2.2 0.1h1.45m-3.5 0.1h1.45m2.5 0h1.45m-15.6 0.1h1.45m-1.4 0h1.45m6.4 0.1h1.45m-7 0.1h1.45m2.4 0h1.45m0 0h1.45m40.1 0h1.45m-51.3 0.1h1.45m7.3 0h1.45m3.4 0.1h1.45m-14.6 0.1h1.45m7.7 0h1.45m-11 0.1h1.45m-0.1 0h1.45m4.9 0h1.45m1.2 0.1h1.45m-0.1 0h1.45m37.8 0h1.45m-42 0.1h1.45m36.3 0h1.45m-47.5 0.1h1.45m3.7 0h1.45m-1.3 0.2h1.45m-7.3 0.1h1.45m7.4 0h1.45m2.5 0h1.45m-0.1 0.3h1.45m-16 0.1h1.45m2.6 0h1.45m9.4 0h1.45m-5.7 0.1h1.45m-0.9 0h1.45m-7.8 0.1h1.45m11.6 0.1h1.45m25.4 0h1.45m-26.5 0.1h1.45m-1.9 0.2h1.45m21.6 0h1.45m-26.8 0.1h1.45m-0.1 0h1.45m24.3 0.1h1.45m-25.5 0.1h1.45m22.7 0h1.45m-26.6 0.2h1.45m-0.3 0.1h1.45m1.5 0h1.45m-0.8 0.1h1.45m-2.2 0.2h1.45m16.4 0h1.45m-1.5 0h1.45m-13.6 0.8h1.45m-3.9 0.1h1.45m2.3 0h1.45m-3.7 0.1h1.45m4.2 0h1.45m-6.3 0.2h1.45m5.5 0.1h1.45m-7.4 0.1h1.45m1.9 0.3h1.45"/><path stroke="#366fb0" d="M162.1 74h1.45m-14.8 0.2h1.45m8.9 0h1.45m1.5 0h1.45m-3.3 0.1h1.45m-3 0.1h1.45m-10.9 0.2h1.45m10.6 0.2h1.45m2 0.5h1.45m-1.1 0.2h1.45m-21.4 0.4h1.45m-6.1 0.3h1.45m25 0.1h1.45m-0.1 0.2h1.45m-29.2 0.1h1.45m24.9 0.1h1.45m-1.7 0.3h1.45m1.2 0h1.45m-32 0.6h1.45m28.7 0h1.45m-33.7 0.6h1.45m31.4 0.5h1.45m-36.3 1.2h1.45m-2.1 0.1h1.45m37.4 0.1h1.45m-41.6 0.1h1.45m38.3 0.4h1.45m-40.9 0.1h1.45m38.6 0h1.45m-43.4 0.7h1.45m40.6 0h1.45m-0.9 0.2h1.45m-43.2 0.2h1.45m-3.3 0.3h1.45m41.9 0.6h1.45m-44.9 0.2h1.45m-2.3 1h1.45m-4.5 1.2h1.45m-1.5 0.1h1.45m-0.6 0h1.45m-2.1 0.4h1.45m-1.2 0h1.45m-2.5 0.1h1.45m48.3 0h1.45m-49.7 0.1h1.45m46.5 0.1h1.45m-50.9 0.1h1.45m47.9 0.9h1.45m-52.5 0.7h1.45m-0.1 0h1.45m-1.6 0.2h1.45m48.8 0h1.45m-52.9 0.3h1.45m-1.3 0h1.45m-2.5 0.4h1.45m50.2 0h1.45m-54.5 0.6h1.45m51.6 0.3h1.45m-0.8 0.1h1.45m-55 0.1h1.45m-0.2 0.2h1.45m-1.1 0h1.45m-3.5 1.2h1.45m-3 0.1h1.45m0.2 0.3h1.45m-4 0.7h1.45m-0.1 0.1h1.45m-0.9 0h1.45m-4 0.1h1.45m0.3 0h1.45m-1.4 0h1.45m-3.6 0.2h1.45m0.5 0.2h1.45m-3 0.2h1.45m0.9 0h1.45m52.3 0h1.45m-57.8 0.2h1.45m-0.6 0.1h1.45m-3.1 0.1h1.45m55.3 0h1.45m-59.7 0.7h1.45m-1 0h1.45m1.6 0.3h1.45m-1.2 0h1.45m-4.7 0.1h1.45m55 0.6h1.45m-56.2 0.2h1.45m-5.1 0.3h1.45m2.5 0h1.45m-2.7 0.2h1.45m-4.5 0.1h1.45m-0.9 0.3h1.45m-2.5 0.4h1.45m-0.3 0.2h1.45m3.1 0h1.45m-2.4 0.1h1.45m-5.6 0.1h1.45m-2.6 0.2h1.45m56.2 0h1.45m-56 0.4h1.45m-3 0.1h1.45m0.2 0h1.45m-1.4 0.1h1.45m-4.9 0.2h1.45m56.2 0.1h1.45m-59.7 0.1h1.45m-0.1 0h1.45m0.5 0h1.45m-0.1 0h1.45m-4.4 0.1h1.45m4.1 0h1.45m49.2 0h1.45m-58.1 0.1h1.45m4 0h1.45m-2.8 0.1h1.45m-5.9 0.1h1.45m55.7 0.1h1.45m-52.5 0.1h1.45m-8 0.1h1.45m0.6 0.1h1.45m1.4 0h1.45m51.3 0h1.45m-56.6 0.3h1.45m52.4 0h1.45m-52.8 0.2h1.45m-6.5 0.1h1.45m2.5 0h1.45m-1.5 0.2h1.45m-3.8 0.1h1.45m-0.8 0h1.45m-2.5 0.2h1.45m1.4 0.1h1.45m1.2 0.2h1.45m-0.1 0.2h1.45m-3.8 0.1h1.45m48.7 0h1.45m-52.3 0.4h1.45m-6.4 0.3h1.45m-1.2 0h1.45m6.5 0.1h1.45m-8.4 0.1h1.45m-0.8 0.1h1.45m-2.7 0.1h1.45m2.4 0h1.45m-2.9 0.2h1.45m3.5 0.1h1.45m0.7 0.1h1.45m40 0h1.45m-45.9 0.1h1.45m-3.5 0.1h1.45m-6.2 0.1h1.45m4.3 0.2h1.45m-4.1 0.1h1.45m5.1 0h1.45m-3.6 0.2h1.45m-4.2 0.1h1.45m43.9 0h1.45m-46.2 0.1h1.45m-0.1 0.1h1.45m1.5 0.1h1.45m38.9 0h1.45m-48.3 0.1h1.45m3.8 0h1.45m-2.5 0.1h1.45m-2.2 0.1h1.45m-1.6 0.1h1.45m1.2 0.1h1.45m-4.4 0.1h1.45m-3.4 0.1h1.45m42.5 0h1.45m-1.3 0h1.45m-37 0.8h1.45m32.4 0.3h1.45m-33.9 0.1h1.45m-1.2 0h1.45m-2.2 0.2h1.45m-0.2 0.2h1.45m-1.8 0.1h1.45m-0.9 0h1.45m-2.6 0.3h1.45m1.4 0.2h1.45m-2.4 0.1h1.45m-1.5 0h1.45m26.4 0.2h1.45m-7.1 0.6h1.45m-17.3 0.1h1.45m14.5 0h1.45m-0.7 0h1.45m-20.4 0.1h1.45m-0.5 0h1.45m15.6 0.1h1.45m0.4 0.2h1.45m-1.2 0.1h1.45m-2.3 0.1h1.45m-1.2 0h1.45m-18.6 0.1h1.45m-4.5 0.1h1.45m3.1 0.1h1.45m9 0h1.45m1 0.1h1.45m-5.5 0.2h1.45m-1.2 0h1.45m-0.6 0h1.45m-11.7 0.1h1.45m3.9 0h1.45m3.5 0h1.45m-0.7 0.1h1.45m-2 0.1h1.45m-12 0.1h1.45m4.6 0.1h1.45"/><path stroke="#387ab1" d="M155.4 74.1h1.45m-0.9 0.1h1.45m-5 0.2h1.45m-0.2 0.1h1.45m1.8 0.2h1.45m-3.8 0.1h1.45m-7.8 0.5h1.45m-3.4 0.1h1.45m0.5 0.1h1.45m-1.3 0.1h1.45m10.6 0h1.45m-19.2 0.5h1.45m-0.2 0.1h1.45m19.7 0h1.45m-22.6 0.2h1.45m20 0.2h1.45m-24 0.2h1.45m-1.2 0h1.45m21.6 0.1h1.45m-27.4 0.2h1.45m-1.6 0.1h1.45m-1 0.6h1.45m-4.5 0.8h1.45m30.2 0.3h1.45m-1.1 0.1h1.45m-34.7 1h1.45m-3.7 0.1h1.45m-1 0h1.45m34.6 0.1h1.45m-0.1 0h1.45m-39.4 0.1h1.45m35.7 0.1h1.45m-37.5 0.2h1.45m34.1 0.1h1.45m-38.2 0.1h1.45m-0.5 0.2h1.45m36 0h1.45m-1.8 0.9h1.45m-42.4 0.5h1.45m40.9 0.7h1.45m-1.4 0.2h1.45m-2.2 0.2h1.45m-44 0.2h1.45m-1.4 0h1.45m-2.8 0.3h1.45m42.8 0h1.45m-0.1 0.5h1.45m-2.2 0.2h1.45m-46.8 0.5h1.45m-1.8 0.4h1.45m-2.6 1.3h1.45m-2.7 0.9h1.45m-3.3 1.3h1.45m49.2 0.1h1.45m-53.2 1h1.45m-0.6 0h1.45m49 0.3h1.45m-1.7 0.3h1.45m-52.3 0.3h1.45m50 0.8h1.45m-53.9 0.1h1.45m0.2 0.5h1.45m-2.2 0.3h1.45m48.4 0h1.45m-50.7 0.1h1.45m-2.6 0.2h1.45m-2.3 0.2h1.45m50.1 0.5h1.45m-0.9 0.1h1.45m-1.9 0.1h1.45m-52.9 0.1h1.45m-1.2 0.1h1.45m49.1 0.1h1.45m-51.5 0.3h1.45m-1.3 0.1h1.45m-2.8 0.2h1.45m-1.1 0.1h1.45m-1.6 0.6h1.45m-1.5 0.4h1.45m48.1 0h1.45m-50.8 0.2h1.45m48.2 0.1h1.45m-1.7 0.5h1.45m-0.9 0h1.45m-2.5 0.2h1.45m-50.3 0.1h1.45m-2.8 0.1h1.45m-0.9 0h1.45m-1.4 0h1.45m-0.7 0h1.45m46.7 0.1h1.45m-50.5 0.1h1.45m0.3 0h1.45m-1.9 0.4h1.45m46.5 0.1h1.45m-2 0.3h1.45m-49.2 0.2h1.45m-2.4 0.2h1.45m47.3 0h1.45m-49.7 0.2h1.45m-2.8 0.1h1.45m-0.9 0h1.45m0.7 0.1h1.45m-2 0.1h1.45m-3.6 0.3h1.45m-0.9 0h1.45m-1 0.2h1.45m-0.6 0.2h1.45m0.5 0.3h1.45m41.2 0h1.45m-2 0.1h1.45m-46.1 0.4h1.45m43.8 0.2h1.45m-45.9 0.5h1.45m-0.8 0h1.45m-1.3 0.2h1.45m-0.5 0h1.45m-3.2 0.2h1.45m41.7 0.2h1.45m-42.8 0.3h1.45m37.2 1.1h1.45m-38.5 0.1h1.45m34.5 0.1h1.45m-36.3 0.2h1.45m34.6 0.3h1.45m-36.4 0.1h1.45m31.3 0h1.45m-34.1 0.1h1.45m-1.3 0.1h1.45m31.2 0h1.45m-34.2 0.3h1.45m-1.7 0.3h1.45m-1 0h1.45m-1 0h1.45m1.7 0.1h1.45m22.9 0.1h1.45m-0.4 0.1h1.45m-2 0.3h1.45m-27.1 0.2h1.45m-1 0h1.45m-3.8 0.1h1.45m-0.5 0h1.45m3.3 0.3h1.45m-2.6 0.2h1.45m19.6 0h1.45m-22.7 0.1h1.45m-1 0h1.45m-2.8 0.3h1.45m20.4 0h1.45m-21.9 0.1h1.45m-3.3 0.1h1.45m0.8 0h1.45m4.2 0.1h1.45m-2.5 0.1h1.45m10.1 0h1.45m-4 0.1h1.45m-11.5 0.1h1.45m-2.8 0.1h1.45m2.5 0h1.45m5.1 0h1.45m-1.2 0.1h1.45m-0 0h1.45m0.6 0.1h1.45m-14.2 0.1h1.45m8.1 0.1h1.45m-12.1 0.1h1.45m7.7 0h1.45"/><path stroke="#3985b3" d="M156.8 75.1h1.45m-2.6 0.2h1.45m2.1 0h1.45m-9.5 0.1h1.45m-1.3 0.1h1.45m-3 0.1h1.45m-1.3 0h1.45m5.5 0.1h1.45m1.6 0h1.45m-2.8 0.1h1.45m-5.4 0.1h1.45m2.7 0h1.45m-8.9 0.1h1.45m-1.2 0h1.45m1.6 0h1.45m3.8 0h1.45m-14.1 0.2h1.45m-2.5 0.1h1.45m-3.3 0.2h1.45m-0.9 0h1.45m15 0.3h1.45m-0.1 0h1.45m1.7 0.2h1.45m-24 0.1h1.45m-3 0.3h1.45m22.5 0h1.45m-24.6 0.1h1.45m22.5 0.6h1.45m-27.7 0.1h1.45m-2.5 0.2h1.45m-0.8 0.6h1.45m-3 0.3h1.45m-2.8 0.3h1.45m-0.5 0h1.45m-1.5 0h1.45m-1.9 0.2h1.45m-1.2 0h1.45m30.1 0.2h1.45m-34.5 0.2h1.45m-3.9 1.1h1.45m35.5 0.2h1.45m-39.3 0.5h1.45m-2 0.8h1.45m-1.3 0h1.45m-0.6 0.1h1.45m37.7 0.3h1.45m-1.8 0.3h1.45m-42.3 0.5h1.45m40 0.5h1.45m-1.2 0.2h1.45m-1.1 0.8h1.45m-47.2 1.2h1.45m-1 0.3h1.45m43.8 0h1.45m-1.6 0.3h1.45m-48.5 0.8h1.45m45.2 0.1h1.45m-1 0.9h1.45m-2.1 0.2h1.45m-49.5 0.4h1.45m-0.4 0h1.45m46.2 0h1.45m-2.2 0.7h1.45m-1.3 0.1h1.45m-48.7 0.5h1.45m46.5 0h1.45m-51.3 0.1h1.45m-1 0h1.45m-0.5 0.3h1.45m-2.5 0.1h1.45m-0.9 0.2h1.45m-1.1 0.1h1.45m46.1 0.3h1.45m-1.4 0.6h1.45m-50.1 0.6h1.45m46.6 0h1.45m-49.4 0.1h1.45m-0.8 0.3h1.45m-2.8 0.1h1.45m47.5 0h1.45m-50 0.1h1.45m-0.8 0h1.45m44.9 0.2h1.45m-47.5 0.1h1.45m-2.8 0.2h1.45m-1.3 0h1.45m-0.4 0h1.45m-2.6 0.3h1.45m45.3 0.3h1.45m-1 0.5h1.45m-48.8 0.1h1.45m-1.5 0.1h1.45m45.6 0.8h1.45m-47 0.7h1.45m42.2 0.8h1.45m-1.4 0.4h1.45m-1.9 0.2h1.45m-46.4 0.1h1.45m0.2 0.1h1.45m-1.4 0.3h1.45m-2.3 0.1h1.45m40.5 0.1h1.45m0 0.1h1.45m-45.1 0.1h1.45m42.5 0h1.45m-2.2 0.1h1.45m-43.6 0.1h1.45m-0.4 0h1.45m-2 0.1h1.45m40.8 0.2h1.45m-3.6 0.4h1.45m-42.7 0.2h1.45m39.5 0h1.45m-2 0.4h1.45m-39.5 0.3h1.45m36.9 0.3h1.45m-4 0.5h1.45m-1 0.3h1.45m-35.9 0.1h1.45m-3.5 0.5h1.45m1.8 0.1h1.45m29.4 0h1.45m-1.2 0h1.45m-33.5 0.3h1.45m-1.1 0.2h1.45m29.7 0.2h1.45m-32.9 0.1h1.45m-0.6 0h1.45m-0.8 0.2h1.45m-1.2 0.1h1.45m-0.3 0h1.45m25.7 0.1h1.45m-3.1 0.4h1.45m-25.4 0.4h1.45m20 0h1.45m-23.4 0.4h1.45m20.1 0h1.45m-23.5 0.2h1.45m22.4 0h1.45m-3 0.1h1.45m-19.1 0.3h1.45m12 0h1.45m-0.7 0h1.45m-15.7 0.1h1.45m-0.6 0.7h1.45m2.8 0.2h1.45m-0.6 0h1.45m0.5 0.1h1.45m-2.3 0.4h1.45m0.5 0.1h1.45m-5.8 0.1h1.45"/><path stroke="#3b8fb1" d="M159.9 76.1h1.45m-0.7 0h1.45m-13.2 0.1h1.45m-0.8 0h1.45m7.5 0.1h1.45m-0.4 0h1.45m-1.1 0h1.45m-1.1 0h1.45m-0.9 0.3h1.45m-1.3 0.1h1.45m-13.4 0.1h1.45m-1.3 0.1h1.45m7.2 0h1.45m-15.7 0.1h1.45m3.8 0h1.45m8.7 0h1.45m2.2 0h1.45m-19.1 0.2h1.45m-1.2 0h1.45m-2.9 0.1h1.45m-0.2 0h1.45m17.3 0h1.45m-2.5 0.1h1.45m-19 0.1h1.45m16.1 0.1h1.45m-1.1 0.3h1.45m-22.3 0.9h1.45m22.5 0h1.45m-26.6 0.2h1.45m23.9 0.2h1.45m-29.3 0.1h1.45m-0.9 0h1.45m-2 0.1h1.45m27.1 0h1.45m-0.9 0h1.45m-2.6 0.1h1.45m-0.4 0.1h1.45m-30.5 0.1h1.45m26.5 0.1h1.45m-33.1 1.3h1.45m-1.5 0h1.45m-1.8 0.2h1.45m34.2 0h1.45m-36.6 0.1h1.45m-1.9 0.2h1.45m33.6 0h1.45m-0.3 0.4h1.45m-38.6 0.5h1.45m-1 0.2h1.45m-1.6 0.1h1.45m-2.4 0.9h1.45m-3.7 0.5h1.45m-0.7 0.5h1.45m39.4 0h1.45m-2.1 1h1.45m-1.3 0.1h1.45m-1.2 0.5h1.45m-44.5 0.2h1.45m41.2 0h1.45m-44.4 0.3h1.45m41.4 0.2h1.45m-44.6 0.5h1.45m-2 0.1h1.45m43 0.2h1.45m-45.5 0.4h1.45m-3.2 0.2h1.45m0.1 0h1.45m-1.6 0.1h1.45m-2.2 0.2h1.45m43.6 0.1h1.45m-46.6 0.7h1.45m-1.8 0.4h1.45m43.7 0h1.45m-47.5 0.4h1.45m44.9 1.2h1.45m-2.6 0.9h1.45m-1.1 0.1h1.45m-47.4 1h1.45m43.9 0.1h1.45m-47.4 0.1h1.45m44.7 0h1.45m-47.7 0.4h1.45m-1.6 0.3h1.45m-1.2 0.3h1.45m-1.1 0h1.45m-3.1 0.4h1.45m-0.7 0h1.45m-2 0.1h1.45m-0.7 0h1.45m-1.3 0h1.45m-1.1 0.1h1.45m-2.3 0.3h1.45m-1.2 0h1.45m-0.4 0.3h1.45m-2.7 0.1h1.45m-1.1 0.4h1.45m-1.8 0.1h1.45m-0.3 0.1h1.45m42.2 0h1.45m-46.4 0.1h1.45m-1.2 0.1h1.45m-0.9 0.1h1.45m41.2 0.5h1.45m-42.6 0.6h1.45m39.1 0h1.45m-0.5 0h1.45m-44.7 0.6h1.45m-0.9 0.1h1.45m-0.8 0.8h1.45m37.7 0.1h1.45m-40.7 0.7h1.45m-0.1 0h1.45m-2.1 0.1h1.45m-0.6 0.1h1.45m-2.3 0.1h1.45m34.4 0.5h1.45m-2.2 0.2h1.45m-1.1 0.2h1.45m-0.5 0h1.45m-2.7 0.1h1.45m-36.3 0.1h1.45m31.5 0.5h1.45m-0.8 0.3h1.45m-2.1 0.1h1.45m-0.9 0.3h1.45m-1.8 0.1h1.45m-30.9 0.1h1.45m-1 0h1.45m-2 0.1h1.45m26 0.4h1.45m-28.4 0.1h1.45m25.8 0.1h1.45m-3.8 0.3h1.45m-0.9 0.1h1.45m-1.5 0h1.45m-2.5 0.2h1.45m-0.6 0.4h1.45m-5.7 0.4h1.45m-1.7 0.2h1.45m-1.3 0.1h1.45m-16.6 0.1h1.45m-2 0.2h1.45m-0.7 0h1.45m-1.8 0.2h1.45m3.4 0h1.45m-3.1 0.1h1.45m1 0h1.45m3.2 0h1.45m1.3 0h1.45m-9.8 0.1h1.45m-1.1 0h1.45m0.5 0h1.45m-0.1 0h1.45m-0.3 0h1.45m-0.8 0h1.45m-0.7 0h1.45m-5.7 0.1h1.45m-2.3 0.1h1.45m0.1 0h1.45m-3.3 0.2h1.45m4.1 0h1.45m-0.4 0h1.45m-4.8 0.1h1.45m-0 0h1.45m0.1 0h1.45m-3.3 0.1h1.45"/></g>
<g fill="none" stroke-width="1" transform="translate(0 .5)"><path stroke="#3b8fb1" d="M151 76h1"/><path stroke="#3e96ab" d="M152 76h6m-12 1h3m11 0h3m-20 1h2m19 0h2m-26 1h2m24 0h1m-29 1h2m27 0h2m-33 1h2m31 0h1m-35 1h1m34 0h1m-37 1h1m35 0h1m-39 1h1m38 0h1m-41 1h1m39 0h1m-42 1h1m40 0h1m-43 1h2m40 0h1m-43 1h1m41 0h1m-44 1h1m42 0h1m-45 1h2m42 0h1m-45 1h1m43 0h1m-46 1h2m42 0h1m-45 1h1m43 0h1m-45 1h1m42 0h1m-44 1h1m41 0h1m-43 1h1m41 0h1m-43 1h2m39 0h1m-41 1h1m37 0h2m-40 1h2m35 0h1m-37 1h2m33 0h1m-35 1h2m30 0h1m-32 1h2m27 0h1m-28 1h2m22 0h2m-24 1h3m16 0h2m-17 1h5m4 0h5"/><path stroke="#419da4" d="M149 77h11m-15 1h2m14 0h3m-22 1h2m20 0h2m-26 1h1m25 0h1m-29 1h1m28 0h2m-33 1h1m31 0h2m-35 1h1m33 0h1m-37 1h2m35 0h1m-39 1h1m37 0h1m-40 1h1m38 0h1m-40 1h1m38 0h1m-41 1h1m-2 1h1m40 0h1m-42 1h1m40 0h1m-43 1h1m41 0h1m-43 1h1m40 0h1m-43 1h2m40 0h1m-43 1h2m39 0h1m-42 1h2m38 0h1m-41 1h2m38 0h1m-40 1h1m37 0h1m-39 1h2m34 0h1m-36 1h1m33 0h1m-34 1h1m30 0h2m-32 1h2m27 0h1m-29 1h2m23 0h2m-25 1h2m18 0h2m-19 1h3m10 0h3m-10 1h4"/><path stroke="#44a49d" d="M147 78h4m7 0h3m-17 1h2m16 0h2m-23 1h2m21 0h2m-27 1h2m25 0h1m-30 1h2m28 0h1m-32 1h1m31 0h1m-34 1h1m33 0h1m-37 1h2m34 0h1m-38 1h2m35 0h1m-38 1h1m-2 1h1m38 0h1m-41 1h1m38 0h1m-40 1h1m38 0h1m-41 1h1m39 0h1m-41 1h1m38 0h1m-40 1h1m38 0h1m-40 1h1m37 0h1m-39 1h1m36 0h1m-38 1h1m36 0h1m-38 1h1m34 0h2m-36 1h1m32 0h1m-34 1h2m30 0h1m-32 1h2m27 0h1m-28 1h1m24 0h2m-26 1h2m19 0h2m-21 1h3m13 0h2m-14 1h10"/><path stroke="#4bab92" d="M151 78h7m-12 1h2m12 0h2m-19 1h2m18 0h1m-23 1h1m22 0h2m-27 1h1m26 0h1m-30 1h1m29 0h1m-32 1h1m30 0h2m-34 1h1m32 0h1m-35 1h1m33 0h1m-36 1h1m34 0h2m-38 1h1m36 0h1m-39 1h1m36 0h1m-38 1h1m36 0h1m-39 1h1m37 0h1m-39 1h1m-1 1h1m36 0h1m-38 1h1m35 0h1m-37 1h1m34 0h1m-36 1h1m34 0h1m-36 1h2m31 0h1m-33 1h1m30 0h1m-31 1h1m27 0h2m-29 1h1m25 0h1m-26 1h2m20 0h2m-22 1h2m15 0h2m-16 1h5m3 0h5"/><path stroke="#55b081" d="M148 79h12m-15 1h2m13 0h3m-21 1h2m19 0h1m-24 1h2m22 0h2m-28 1h2m25 0h2m-30 1h1m28 0h1m-31 1h1m30 0h1m-33 1h1m31 0h1m-34 1h1m32 0h1m-35 1h1m34 0h1m-37 1h1m34 0h1m-36 1h1m34 0h1m-37 1h1m35 0h1m-37 1h1m35 0h1m-37 1h1m34 0h1m-36 1h1m33 0h1m-35 1h1m-1 1h2m30 0h2m-33 1h1m29 0h1m-31 1h2m27 0h1m-29 1h2m24 0h1m-26 1h2m21 0h2m-23 1h2m16 0h2m-18 1h4m8 0h3m-9 1h3"/><path stroke="#5eb571" d="M147 80h4m6 0h3m-16 1h2m15 0h2m-21 1h1m20 0h1m-24 1h1m23 0h1m-27 1h2m25 0h1m-29 1h1m28 0h1m-31 1h1m29 0h1m-32 1h1m30 0h1m-33 1h1m31 0h2m-35 1h2m31 0h1m-34 1h1m32 0h1m-35 1h2m32 0h1m-35 1h1m33 0h1m-35 1h1m32 0h1m-34 1h1m-1 1h1m31 0h1m-32 1h1m-1 1h1m27 0h1m-28 1h1m24 0h2m-26 1h1m22 0h1m-23 1h2m17 0h2m-19 1h3m11 0h2m-12 1h8"/><path stroke="#68bb61" d="M151 80h6m-11 1h3m9 0h3m-18 1h2m16 0h2m-22 1h2m19 0h2m-24 1h1m23 0h1m-27 1h2m24 0h2m-29 1h1m27 0h1m-30 1h1m28 0h1m-31 1h1m-1 1h1m-2 1h1m-1 1h1m30 0h1m-33 1h2m30 0h1m-33 1h1m-1 1h1m30 0h1m-32 1h2m28 0h1m-30 1h1m27 0h1m-29 1h2m24 0h1m-26 1h2m21 0h1m-23 1h2m18 0h2m-20 1h3m12 0h2m-14 1h11"/><path stroke="#75c056" d="M149 81h9m-13 1h3m10 0h3m-18 1h2m16 0h1m-21 1h2m19 0h2m-24 1h1m22 0h1m-26 1h2m24 0h1m-28 1h2m-3 1h2m27 0h1m-30 1h1m28 0h1m-31 1h1m29 0h1m-31 1h1m-1 1h1m-2 1h2m28 0h1m-31 1h2m27 0h1m-29 1h1m-1 1h2m24 0h1m-26 1h1m22 0h1m-23 1h2m17 0h2m-20 1h3m12 0h3m-15 1h4m3 0h5"/><path stroke="#84c450" d="M148 82h10m-13 1h2m11 0h3m-18 1h2m16 0h1m-21 1h2m19 0h1m-23 1h1m22 0h1m-25 1h1m24 0h1m-27 1h1m25 0h1m-28 1h1m-2 1h2m-2 1h1m-1 1h1m27 0h1m-29 1h1m-1 1h1m-1 1h2m24 0h1m-26 1h1m22 0h1m-24 1h2m18 0h2m-20 1h2m13 0h2m-15 1h4m5 0h3m-8 1h3"/><path stroke="#93c949" d="M147 83h11m-13 1h2m13 0h1m-18 1h2m-4 1h2m-3 1h2m-3 1h2m-3 1h2m24 0h1m-27 1h1m25 0h1m-28 1h2m25 0h1m-28 1h2m-2 1h2m24 0h1m-27 1h2m-1 1h1m-1 1h2m-1 1h3m12 0h3m-16 1h4m5 0h4m-9 1h5"/><path stroke="#a2ce43" d="M147 84h13m-15 1h3m13 0h1m-19 1h3m16 0h1m-21 1h2m19 0h1m-23 1h2m-3 1h2m-3 1h2m-2 1h2m-2 1h1m-1 1h2m-2 1h2m21 0h1m-24 1h3m19 0h1m-22 1h3m15 0h2m-18 1h12m-9 1h5"/><path stroke="#b3d33d" d="M148 85h6m6 0h1m-15 1h6m-8 1h3m-4 1h2m18 0h1m-22 1h2m-3 1h2m-2 1h2m-3 1h3m20 0h1m-23 1h2m-2 1h3m-2 1h4m5 0h2m-10 1h15"/><path stroke="#c5d838" d="M154 85h2m3 0h1m-8 1h2m7 0h1m-15 1h5m10 0h1m-18 1h6m-7 1h7m12 0h1m-21 1h7m13 0h1m-21 1h7m13 0h1m-21 1h8m-8 1h9m-8 1h9m-7 1h5m2 0h2m5 0h1"/><path stroke="#d6dd33" d="M156 85h3m-5 1h1m-3 1h1m-2 1h1m-1 1h1m-2 1h2m-2 1h2m-1 1h1m0 1h1m9 0h1m-10 1h1m7 0h1m-7 1h1m3 0h1"/><path stroke="#e8e22e" d="M160 86h1m-8 1h1m-2 1h1m9 0h1m-11 1h1m-1 3h1m3 3h3"/><path stroke="#eed62c" d="M155 86h1m5 1h1m-9 1h1m8 1h1m-11 1h1m-1 1h1m9 1h1m-10 1h1m0 1h1m5 0h1"/><path stroke="#f0c62b" d="M156 86h4m-6 1h1m7 3h1m-1 1h1m-10 1h1m7 1h1m-7 1h1"/><path stroke="#f2b52a" d="M160 87h1m0 1h1m-9 1h1m-1 1h1m-1 1h1m0 2h1m1 1h1m2 0h1"/><path stroke="#f19d29" d="M155 87h1m-2 1h1m6 1h1m-1 3h1m-2 1h1m-4 1h2"/><path stroke="#ee8128" d="M156 87h4m0 1h1m-7 1h1m6 1h1m-1 1h1m-8 1h1m0 1h1m3 0h1"/><path stroke="#e96627" d="M155 88h1m3 0h1m0 1h1m-7 1h1m-1 1h1m5 0h1m-6 1h1m4 0h1m-5 1h3"/><path stroke="#e14d26" d="M156 88h3m-4 1h1m3 0h1m-5 1h1m3 0h2m-6 1h1m3 0h1m-4 1h4"/><path stroke="#d93426" d="M156 89h3m-3 1h3m-3 1h3"/></g>
<g fill="none" stroke-width="1.45"><path stroke="#2a267c" d="M174.8 291.8h1.45m31.7 14.1h1.45m-154.6 55.4h1.45m2.6 4h1.45m132.6 36h1.45"/><path stroke="#2a277d" d="M156.9 304.9h1.45m13.3 2h1.45m15 0.7h1.45m-65.4 3.1h1.45m40.7 0.9h1.45m-18.4 1.5h1.45m-39.4 0.8h1.45m-2.1 0.6h1.45m23.2 0.1h1.45m66.5 1.5h1.45m-11.1 4.8h1.45m-136.8 12.5h1.45m13 21h1.45m-4.7 3.2h1.45m1.9 5.5h1.45m-4.4 4.3h1.45m-0.1-0h1.45m-1.8 1.2h1.45m-6.9 0.6h1.45m143.7 5.3h1.45m-1.3 7.9h1.45m-32.9 12.1h1.45m-6 0.7h1.45m4 4h1.45m-117 1.6h1.45m-3.7 0.5h1.45m104.3 1.2h1.45m3 3.4h1.45m-113.2 0.3h1.45m72.1 24.1h1.45m2.6 1.7h1.45m-77.3 3.5h1.45"/><path stroke="#2a277f" d="M159.4 314.9h1.45m12.1 0.8h1.45m-56.4 1.7h1.45m5.9 0.2h1.45m50.2 0.9h1.45m-19.1 0.6h1.45m-21.6 0.4h1.45m-20.3 0.2h1.45m-10.5 0.6h1.45m-13.5 1.5h1.45m-6.5 0.3h1.45m90.4 1h1.45m-99.7 0.9h1.45m97.4 0.8h1.45m4 0.1h1.45m-116.2 1.2h1.45m127.4 3.4h1.45m-8.6 0.2h1.45m4.8 5.9h1.45m0.6 0.6h1.45m-0.8 3.5h1.45m-145 4h1.45m12.6 6h1.45m131.8 4.9h1.45m-132.1 0.8h1.45m129 0h1.45m-138.2 8.4h1.45m-2.2 4.7h1.45m129.2 7.6h1.45m0.9 0.7h1.45m-14 8.5h1.45m-17.3 0.4h1.45m-12.6 3.3h1.45m0.7 1h1.45m2.9 0.6h1.45m-18.8 0.9h1.45m2.8 1.3h1.45m-12.6 0.3h1.45m13.9 0.3h1.45m-8.5 0.4h1.45m-23.1 1.5h1.45m21.7 0.3h1.45m-20.8 0.6h1.45m-12 2h1.45m1.1 6.2h1.45m-3.2 12.5h1.45m-62.5 6.1h1.45m-1.4 0.8h1.45m-3.7 0.1h1.45m2 9h1.45m54.3 2.1h1.45m1.5 0.2h1.45m-5.4 4.4h1.45m-36 12h1.45m11.1 0.4h1.45m-11.8 0.3h1.45"/><path stroke="#2b2880" d="M152 320h1.45m-47.4 1.8h1.45m6.1 0.4h1.45m27.9 0h1.45m9.5 0h1.45m-20.6 0.2h1.45m22.8 0.1h1.45m-1 0.9h1.45m-11.4 0.4h1.45m26.8 0.2h1.45m-19.8 0.2h1.45m1.3 0.1h1.45m9.5 1.5h1.45m5.8 1.6h1.45m9.7 1.2h1.45m-10.1 1.1h1.45m-106.2 0.1h1.45m115.5 2h1.45m-0.9 1h1.45m5.3 4.5h1.45m-131 0.5h1.45m126.4 2.1h1.45m-129 3.7h1.45m133 0.1h1.45m-2.1 1.7h1.45m-0.7 0.7h1.45m-3.3 1.8h1.45m0.4 0.7h1.45m-129 0.2h1.45m121 1.7h1.45m4.3 1.3h1.45m-127.8 0.7h1.45m119.5 0.9h1.45m3.1 0.2h1.45m-5.5 4.9h1.45m1.4 7.4h1.45m-132.4 0.9h1.45m126.2 2h1.45m-3.5 0.5h1.45m-8 2.4h1.45m-1.8 0.2h1.45m-121 0.3h1.45m118.6 0.3h1.45m-123.4 1.5h1.45m119.5 1h1.45m-0.2 0.3h1.45m-8.2 0.5h1.45m6.2 0h1.45m-20.4 7h1.45m-7.9 1.1h1.45m5.6 0.5h1.45m-5.8 0.3h1.45m-12.3 0.5h1.45m-10.8 2.5h1.45m8.9 0h1.45m-0.9 0.3h1.45m-11.2 0.3h1.45m4.9 0.2h1.45m1.5 0h1.45m-18.6 0.1h1.45m-75.6 1.1h1.45m70.9 1h1.45m1.9 0h1.45m-19.9 0.6h1.45m8.2 0.1h1.45m-6.3 0.4h1.45m-6.2 1.9h1.45m-57.9 6.7h1.45m-1.4 4.8h1.45m52.3 12.5h1.45m1.2 0.4h1.45m-58.1 1.8h1.45m52.3 5.9h1.45m-54.5 7.1h1.45m2.8 4.4h1.45m39.6 4.6h1.45m-38.9 1.5h1.45m2 0.1h1.45m30.4 0.4h1.45m-5 0.8h1.45m-26.1 0.6h1.45m-1 0.3h1.45m-3.4 0.9h1.45m-2.2 1.1h1.45m23.2 0h1.45m-0.5 0h1.45m-18 0.1h1.45m5.7 0.4h1.45m-3.3 0.3h1.45m5.9 0.5h1.45"/><path stroke="#2b2982" d="M127.9 323.6h1.45m-19.8 0.2h1.45m17.7 0.2h1.45m5.5 0.1h1.45m-7.5 0.2h1.45m-7.3 0.7h1.45m6.8 0h1.45m16.9 0h1.45m11.1 0h1.45m-3.2 0.3h1.45m-60.8 0.4h1.45m37.1 0.2h1.45m-41.3 0.1h1.45m-5.8 0.2h1.45m69.3 0.1h1.45m-10.9 0.4h1.45m4.7 0.8h1.45m6.2 0h1.45m-19.7 0.1h1.45m-1.7 0.2h1.45m12.8 0h1.45m-11.7 0.1h1.45m6.6 0.1h1.45m6 0.1h1.45m-84.6 0.7h1.45m-5 0.9h1.45m86.8 0.1h1.45m2.3 0.1h1.45m-5.6 0.7h1.45m-0.9 0.3h1.45m3.5 0.2h1.45m-101.5 2h1.45m0.9 0.6h1.45m106.2 0.9h1.45m-1.8 2.2h1.45m-110.1 0.5h1.45m-3.8 3.8h1.45m117.9 0.6h1.45m-116.6 1.6h1.45m-5.3 0.3h1.45m119 0.6h1.45m-4.5 0.2h1.45m-1 1h1.45m-111 1.9h1.45m110.3 2.9h1.45m-112.2 0.4h1.45m110.9 0.4h1.45m-4 3.1h1.45m1.2 1.4h1.45m-4.4 1.1h1.45m-2.8 1.5h1.45m-114.6 1h1.45m116.3 1.5h1.45m-120.7 0.7h1.45m117 1h1.45m-3.2 0.6h1.45m-119.4 1.1h1.45m117.8 0.7h1.45m-6.3 0.2h1.45m2.8 1.5h1.45m-2 0.1h1.45m-122.5 0.5h1.45m116.6 0.6h1.45m-7.2 1.9h1.45m-113.5 0.5h1.45m108.9 0.1h1.45m1.6 1h1.45m-3.6 0.4h1.45m-1.3 0.9h1.45m0.4 1.2h1.45m-117.1 2h1.45m106.3 0.7h1.45m-7.3 1.4h1.45m5.8 0.2h1.45m-111 0.7h1.45m93.1 1h1.45m-1.2 0.1h1.45m-3.2 0.5h1.45m2.2 0.4h1.45m-8.6 0.5h1.45m-4.7 0.2h1.45m9 1.1h1.45m-17.4 0.1h1.45m-0.7 0.3h1.45m1.2 0.2h1.45m-84.9 0.6h1.45m79.4-0h1.45m-5.4 0.3h1.45m2.8 0.6h1.45m-2.9 0.6h1.45m-10 0.2h1.45m-10.7 0.1h1.45m1.4-0h1.45m8.4 0.1h1.45m-10.8 0.4h1.45m3.5 0.8h1.45m-9.3 0.2h1.45m5.8 0.1h1.45m-14.9 0.1h1.45m9.1 0.3h1.45m4.2 0.2h1.45m-5.5 0.3h1.45m-6.7 0.6h1.45m-64.1 2.9h1.45m49.8-0h1.45m-3.4 2.3h1.45m-2.1 7.2h1.45m-0.2 2.1h1.45m-0.5 5h1.45m-53.2 0.7h1.45m47.9 3.8h1.45m0.8 1.9h1.45m-54.1 0.1h1.45m-1.7 2.2h1.45m49.3 1.6h1.45m-51.2 0.1h1.45m48 1.5h1.45m0.1-0h1.45m-50.6 3.3h1.45m45.8 1.3h1.45m-1.2 4.7h1.45m-4.1 0.9h1.45m-44.6 1.1h1.45m42 0.3h1.45m-2 4.5h1.45m-42.8 1.9h1.45m35.1 0.9h1.45m-34.2 0.9h1.45m-1.1 1.2h1.45m1.9 1.2h1.45m25.3 0.2h1.45m-29.3 0.5h1.45m23 0.1h1.45m-0.9-0h1.45m-22.2 0.2h1.45m6.9 2h1.45m5 1.6h1.45"/><path stroke="#2b2a83" d="M118.9 325.9h1.45m-13.9 0.2h1.45m-4 0.1h1.45m27 0h1.45m-23.4 0.1h1.45m5.3 0.1h1.45m8.2 0.1h1.45m6.2 0.2h1.45m-7 0.2h1.45m-27.6 0.2h1.45m34.1 0.1h1.45m6.7-0h1.45m-22.1 0.2h1.45m-2.2 0.1h1.45m5.6 0.2h1.45m-34.8 0.2h1.45m45.1 0.9h1.45m5.4 0.4h1.45m-4.8 0.4h1.45m17.3 0.6h1.45m-10.7 0.3h1.45m5.8 0.2h1.45m2.5 0h1.45m-15.7 0.1h1.45m3.7 0.3h1.45m-73.6 0.9h1.45m74.8 0.5h1.45m8.3 0.5h1.45m-7.2 0.3h1.45m8.2 1.9h1.45m-6.3 0.1h1.45m1.7 0h1.45m1.9 0.1h1.45m-1.8 1.5h1.45m-96.7 0.1h1.45m-3.6 0.3h1.45m98.9-0h1.45m-103 0.1h1.45m98.1-0h1.45m-101.2 0.3h1.45m96.2-0h1.45m-97.9 0.9h1.45m-2.3 0.1h1.45m-0.9 1.4h1.45m99.9 0.3h1.45m-103.5 0.2h1.45m0.3 0.6h1.45m-0.9-0h1.45m99.9-0h1.45m-102.4 0.3h1.45m104.4-0h1.45m-5.1 0.4h1.45m-99.4 2.4h1.45m-2.2 1.1h1.45m-1.8 0.3h1.45m102 0.1h1.45m-105.9 0.2h1.45m106.7-0h1.45m-5.6 1.1h1.45m-0.1 1.2h1.45m-103.1 0.4h1.45m99-0h1.45m-1.7 1.2h1.45m0.1 0.2h1.45m1 1.6h1.45m-1.1 1.6h1.45m0.3 0.5h1.45m-3.7 0.2h1.45m-108.2 0.8h1.45m104.9 0.8h1.45m1.7-0h1.45m-112.3 0.4h1.45m106.3 0.4h1.45m-0.8 0.4h1.45m-6.6 2.2h1.45m-1 0.2h1.45m1.4 0.1h1.45m0.4 0.7h1.45m-6.9 1.5h1.45m1.4 0.2h1.45m-4.2 0.3h1.45m3.4 1h1.45m-5 0.4h1.45m1.6 0.4h1.45m-6.1 0.6h1.45m-4 0.4h1.45m-3.7 1.2h1.45m1.8 0.3h1.45m0.8 0.2h1.45m-1.7 0.4h1.45m-4.2 0.1h1.45m-3.1 0.4h1.45m2.2 0.1h1.45m-3 1.1h1.45m-5.5 1.4h1.45m-5.1 0.3h1.45m-1.6 1.2h1.45m-1.1 0.8h1.45m-103 0.9h1.45m93.9 0.7h1.45m-3.6 0.4h1.45m0.1 1.1h1.45m1.6 0.4h1.45m-100.9 0.1h1.45m94.4 0.1h1.45m-5.4 0.3h1.45m-93.5 0.4h1.45m-1.1 0.5h1.45m92.1 0.8h1.45m-9.7 0.6h1.45m1.6 0.2h1.45m-5.7 0.6h1.45m0.2 1.2h1.45m-87.2 0.3h1.45m70.6 1.4h1.45m0.1 0.1h1.45m1-0h1.45m-77.9 0.5h1.45m59.5 0.2h1.45m-4.1 0.5h1.45m10.9 0.3h1.45m-7.2 0.7h1.45m3.5 0.3h1.45m-14.8 1h1.45m-3.5 0.5h1.45m-55.6 0.9h1.45m-1 0.7h1.45m50.1 0.3h1.45m-53.4 1.3h1.45m49.6 0.3h1.45m-5 4.3h1.45m-48 1.2h1.45m43.6 0.8h1.45m-46.6 1.9h1.45m-0.9 2.7h1.45m42.5 0.1h1.45m-46.6 0.4h1.45m44.9 1.4h1.45m-47.4 2.7h1.45m-0.9 0.8h1.45m44.4 3.3h1.45m-47.6 0.4h1.45m44 0h1.45m-47.3 2.5h1.45m44.1 0.5h1.45m-46.8 1.4h1.45m-2.2 0.1h1.45m46.1 0.6h1.45m-47.8 1.1h1.45m-2.3 0.2h1.45m-1.9 5h1.45m-0.6 1.2h1.45m43.6 0.8h1.45m-2.3 1.7h1.45m-0.6 0.9h1.45m-1.6 0.6h1.45m-45.3 0.1h1.45m43.1 0.1h1.45m-46.1 0.2h1.45m-1.3 0.1h1.45m40.4 0.5h1.45m-42.4 0.5h1.45m-1.7 0.3h1.45m-0 0.3h1.45m39.2 0.9h1.45m-42.7 0.4h1.45m3.6 7.3h1.45m28.2-0h1.45m-1.9 0.2h1.45m-3.1 1.9h1.45m-24.6 1.2h1.45m19.4 0.6h1.45m-20.2 0.5h1.45m15.7 0.8h1.45m-6.2 0.3h1.45m-3.5 0.4h1.45m2.3 0.4h1.45m-6.6 0.1h1.45m4.5 0h1.45m-7.9 1.1h1.45"/><path stroke="#2c2e88" d="M107.2 328h1.45m26 0h1.45m-37 0.1h1.45m1 0h1.45m5.6 0h1.45m-0.6 0.1h1.45m-0.2-0h1.45m5.6-0h1.45m5 0.1h1.45m-6.5 0.3h1.45m-1-0h1.45m0.4-0h1.45m10.5 0.2h1.45m2-0h1.45m-41.7 0.6h1.45m3.4-0h1.45m28.4-0h1.45m9.6 0.4h1.45m-11.5 0.1h1.45m-32.3 0.1h1.45m-7 0.3h1.45m45.8 0.4h1.45m2.7-0h1.45m1.7 0.6h1.45m-57.9 0.4h1.45m51.7 0.1h1.45m-54.7 0.2h1.45m-2.5 0.1h1.45m58.3-0h1.45m-1.3-0h1.45m-0.4 0.8h1.45m-66.2 0.1h1.45m62.9 0.7h1.45m13.8 0.5h1.45m-5.6 0.5h1.45m5.1 1.3h1.45m-6.1 0.1h1.45m-4.2 0.3h1.45m-77.3 0.3h1.45m75.8 0.1h1.45m4 0.2h1.45m-2.3 0.1h1.45m5.6 0.1h1.45m-10.4 0.3h1.45m0.3 0.1h1.45m-0.4 0.2h1.45m4.9 0.2h1.45m-93.4 0.3h1.45m85.4 0.2h1.45m-86.4 0.1h1.45m-0.3 0.5h1.45m-3.6 0.1h1.45m92.7 0.2h1.45m-2 0.1h1.45m-4 0.1h1.45m-1.7 0.4h1.45m3.4-0h1.45m-93.9 0.1h1.45m86.3 0.1h1.45m-93.1 0.8h1.45m94.8 0.6h1.45m-93.7 0.1h1.45m88.6 1.3h1.45m-90.3 0.2h1.45m86.9-0h1.45m0.3-0h1.45m-2.3 0.2h1.45m3.3 0.1h1.45m-96.2 0.8h1.45m92.3-0h1.45m-95.8 0.4h1.45m92.8-0h1.45m-4 0.1h1.45m-90.5 0.4h1.45m0.1 1.1h1.45m89 0.2h1.45m1.6 0.1h1.45m-2.1 0.5h1.45m-0.6 4.6h1.45m-1.3 0.6h1.45m-0.2 0.3h1.45m-4.4 0.1h1.45m-2 0.8h1.45m-97.4 0.4h1.45m96 4.5h1.45m-0.9 0.5h1.45m-5.2 0.8h1.45m3.1 0.2h1.45m-1.9 0.5h1.45m-6.8 0.8h1.45m3.3 0.8h1.45m-5.2 0.9h1.45m-103.9 1.7h1.45m97.5 0.1h1.45m0 0.3h1.45m-101.7 0.1h1.45m99.8-0h1.45m-5.7 0.4h1.45m3.6 0.9h1.45m-2 0.2h1.45m-103.9 0.8h1.45m99.6 0.8h1.45m-6.6 0.5h1.45m-3.4 0.4h1.45m1.8-0h1.45m-6.9 0.1h1.45m5.9 0.4h1.45m-5.3 0.7h1.45m0.4-0h1.45m-2.9 0.1h1.45m0.3 0.5h1.45m-8.7 0.1h1.45m-1.7 0.2h1.45m4.4 0.6h1.45m-4.5 0.3h1.45m-7 0.7h1.45m0.2-0h1.45m-1.3 1.4h1.45m-11.7 0.5h1.45m3.2 0.1h1.45m1 0.2h1.45m2.3-0h1.45m-9 0.8h1.45m-9.7 0.5h1.45m6.2-0h1.45m-4.6 0.1h1.45m3.8 0.2h1.45m-10.7 1.1h1.45m0.1 0.2h1.45m-5 0.4h1.45m-2.5 0.5h1.45m-4.9 0.2h1.45m0.9 0.1h1.45m-1 0.4h1.45m-9.5 0.5h1.45m3.5 0.5h1.45m1.5 0.3h1.45m-8.3 0.1h1.45m-3.6 0.3h1.45m-2.8 0.1h1.45m-4.3 0.1h1.45m-1.4 0.1h1.45m6.7 0.3h1.45m-12.5 0.3h1.45m-58.4 1.1h1.45m49.9 2.7h1.45m-51.6 2.3h1.45m-2.9 0.2h1.45m47.6 0.4h1.45m-2.4 1.8h1.45m-2.9 0.7h1.45m-3.4 2.1h1.45m-44.1 0.7h1.45m-1.6 3h1.45m-1.2 1.3h1.45m39.8-0h1.45m-1.6 1.8h1.45m-1.4 1.6h1.45m-1.1 4.7h1.45m-43.4 0.6h1.45m40 1.7h1.45m-0.5 1.8h1.45m-43.4 1.6h1.45m39.6 2.9h1.45m-42.9 1h1.45m-2.5 1.6h1.45m-0.9 0.3h1.45m0.5 1.5h1.45m-2.6 0.3h1.45m-1.5 1.4h1.45m-1.4 3h1.45m0.4 0.3h1.45m-2.5 0.9h1.45m37.6 0.4h1.45m-0.9 1.2h1.45m-4.2 1.4h1.45m-37.3 0.6h1.45m-0.1 1.5h1.45m32.4 0.5h1.45m-2.1 0.1h1.45m-32.5 0.6h1.45m-1 2.9h1.45m25.7 1.5h1.45m-25.8 0.4h1.45m21.9 0.2h1.45m-25.1 0.2h1.45m0.6 0.1h1.45m20.7-0h1.45m-26.4 0.6h1.45m21.7 0.1h1.45m-0.5 0.4h1.45m-21.3 0.1h1.45m16.8-0h1.45m-4.6 1.3h1.45m0.1 0.5h1.45m-18 0.4h1.45m-1.4 0.3h1.45"/><path stroke="#2d368e" d="M109.9 329.1h1.45m-1.2 0.2h1.45m2.7 0h1.45m-4.6 0.1h1.45m1.9-0h1.45m5.6 0.4h1.45m-12.5 0.1h1.45m-13.3 0.2h1.45m20.5 0h1.45m-9.1 0.1h1.45m6.7-0h1.45m0.2 0.1h1.45m-16.1 0.1h1.45m11.5-0h1.45m-20.1 0.1h1.45m2-0h1.45m2.4-0h1.45m9.5 0.1h1.45m-8.7 0.1h1.45m19.8 0.1h1.45m7.9 0.9h1.45m-2.8 0.5h1.45m-2.8 0.2h1.45m6.1 0.1h1.45m-5.3 0.2h1.45m-3.3 0.2h1.45m0 0.1h1.45m6 0.4h1.45m-7 0.1h1.45m0.7 0.2h1.45m-57.6 0.5h1.45m56.1 0.1h1.45m-1.6 0.5h1.45m0.4 0.6h1.45m-60.2 0.6h1.45m60.3-0h1.45m-2.4 0.1h1.45m2.1 0.1h1.45m-0.9-0h1.45m-66.2 0.1h1.45m60.6-0h1.45m4.7 0.1h1.45m-10 0.1h1.45m4.9 0.1h1.45m-2.1 0.1h1.45m-6.7 0.2h1.45m2.8 0.6h1.45m-68.4 0.3h1.45m62.5 0.1h1.45m5-0h1.45m-3.1 0.6h1.45m0.9 0.1h1.45m-74.6 0.1h1.45m78-0h1.45m-10.5 0.1h1.45m5.1 0.8h1.45m-5.6 0.1h1.45m7.3 0.4h1.45m-5.2 0.4h1.45m-3.8 0.3h1.45m3.9-0h1.45m2.9 0.1h1.45m-6.4 0.1h1.45m-2 0.2h1.45m-80 0.3h1.45m79.5-0h1.45m-5.1 0.1h1.45m5.1-0h1.45m-82.1 0.1h1.45m-1.8 0.2h1.45m81.2 0.1h1.45m-8 0.2h1.45m-77.3 0.5h1.45m75.7 0.2h1.45m3.3-0h1.45m-3.2 0.5h1.45m-80.2 0.3h1.45m-0.3 0.4h1.45m80.2 0.3h1.45m-84.8 0.1h1.45m80.6 0.8h1.45m-1.3-0h1.45m-83.4 0.1h1.45m-0.2-0h1.45m80.7 1.6h1.45m0.4 0.8h1.45m-3.6 0.2h1.45m2.6 1.1h1.45m-89.1 0.5h1.45m84 0.1h1.45m0.3 2.7h1.45m-2.6 0.6h1.45m-91.1 0.2h1.45m89.2 0.1h1.45m-1.2 0.1h1.45m0.2 0.2h1.45m-2.7 0.3h1.45m-1.9 0.4h1.45m-2.8 1h1.45m1.3 0.6h1.45m-5.5 1.7h1.45m1.9 0.1h1.45m-2.5 0.2h1.45m1.3 0.1h1.45m-1.6 0.2h1.45m-98.3 0.3h1.45m90.8 0.4h1.45m1 0.3h1.45m-2 0.4h1.45m-3.3 0.6h1.45m-0.7 0.2h1.45m-4.9 1.2h1.45m-2.3 0.3h1.45m2.1-0h1.45m-0.9 0.1h1.45m-97.4 1.4h1.45m92 0.2h1.45m1 0.1h1.45m-7 1.1h1.45m-2.6 0.3h1.45m1.7 0.1h1.45m0.7-0h1.45m-6.6 0.4h1.45m0.2 0.3h1.45m-0.1 0.4h1.45m-96.2 0.1h1.45m90.8 0.1h1.45m-3.9 1.5h1.45m-1-0h1.45m1-0h1.45m-6.5 1.1h1.45m-7.4 0.3h1.45m4-0h1.45m-7.6 0.1h1.45m1.8 0.1h1.45m-3.2 0.3h1.45m3.3 0.5h1.45m-2.1 0.2h1.45m-89.1 0.2h1.45m80.3 0.1h1.45m5.5-0h1.45m-90.4 0.5h1.45m76.1 0.1h1.45m7.5 0.2h1.45m-2.7 0.1h1.45m-4.5 0.2h1.45m-9.1 0.9h1.45m-1.2 0.3h1.45m-1.8 0.3h1.45m4.8-0h1.45m-6.6 0.2h1.45m-5.2 0.5h1.45m0.1 0.2h1.45m-1.8 0.8h1.45m-4.4 1.1h1.45m0.8 0.1h1.45m-8.2 1.3h1.45m-4.9 0.5h1.45m2.2 0.2h1.45m-2.4 0.4h1.45m2.8 0.2h1.45m-13.8 0.1h1.45m3.6-0h1.45m0.4 0.1h1.45m-7.9 0.9h1.45m-60 1h1.45m-1 0.5h1.45m-1.5 0.5h1.45m-2 0.8h1.45m51.7 0.3h1.45m-54.6 0.9h1.45m-1.2 0.7h1.45m50.3 0.2h1.45m-4.3 1.1h1.45m-49.3 1.3h1.45m43.6 1.6h1.45m-2.8 1.8h1.45m-44.3 0.4h1.45m-1.1 2h1.45m-1.5 0.5h1.45m37.2 0.6h1.45m-39.2 1.7h1.45m-2 3.1h1.45m36.3 1.7h1.45m-1.6 2.6h1.45m-0.2-0h1.45m-2.2 1h1.45m-39 0.3h1.45m36.8 0.2h1.45m-40.1 0.1h1.45m-1.3 0.5h1.45m35.6 2.2h1.45m-0.6 0.4h1.45m-39.9 0.7h1.45m36.3 0.1h1.45m-0.5 0.4h1.45m-3 0.4h1.45m-0.6 0.4h1.45m-39.4 1.8h1.45m-0.7 0.3h1.45m35.3 0.7h1.45m-0 0.5h1.45m-2.9 3h1.45m-38.9 1.8h1.45m35.8-0h1.45m-38.4 1h1.45m-1.2 0.1h1.45m-0.3 0.4h1.45m-2.3 0.3h1.45m35.6 2.4h1.45m-2.3 0.5h1.45m-1.7 1h1.45m-35.9 2.7h1.45m-1.4 0.7h1.45m-1.5 1.1h1.45m0.5 1.4h1.45m-1.1 0.1h1.45m-0.3 1.4h1.45m26.2 0.7h1.45m-29.2 0.8h1.45m0.2 0.5h1.45m-2.2 0.6h1.45m22.1 1h1.45m-0.9 0.7h1.45m-4.7 1.4h1.45m-13.8 0.2h1.45m-2.9 0.6h1.45m10.6-0h1.45m-0.7-0h1.45m-15.8 0.4h1.45m6 0.3h1.45m-0-0h1.45m2.8-0h1.45m-11 0.3h1.45m-1.4 0.1h1.45m-2.8 0.2h1.45m-0.8 0.3h1.45m1.6-0h1.45m-3.2 0.1h1.45m5.9 0.2h1.45"/><path stroke="#2e3e95" d="M118 331.1h1.45m-2.2 0.1h1.45m-1.4 0.1h1.45m2.2-0h1.45m8.7-0h1.45m-22.5 0.1h1.45m13.6-0h1.45m-19.7 0.1h1.45m16.7-0h1.45m-0.2-0h1.45m-24.2 0.1h1.45m6.3-0h1.45m-0.2 0.3h1.45m-11.6 0.1h1.45m21.7 0.4h1.45m-25.5 0.2h1.45m21.7 0.3h1.45m-2.8 0.1h1.45m4.8-0h1.45m5.8 0.1h1.45m-1.6 0.1h1.45m4 0.6h1.45m-41.5 0.2h1.45m-5 1.1h1.45m-3.7 0.1h1.45m46.8-0h1.45m-1.1 0.1h1.45m2 0.5h1.45m-5 0.1h1.45m1.5 0.2h1.45m-55.8 0.1h1.45m2.4 0.3h1.45m49.9 0.4h1.45m-56.3 0.2h1.45m57.7 0.1h1.45m-1.8 0.1h1.45m-61.3 0.4h1.45m57.1 0.1h1.45m-56.8 0.7h1.45m-4.6 0.1h1.45m58.4-0h1.45m-60.1 0.2h1.45m-0.2 0.3h1.45m57.7 0.1h1.45m-0.1-0h1.45m-62.4 0.5h1.45m58.8 0.9h1.45m-1.1 0.2h1.45m-2.6 0.2h1.45m8.5-0h1.45m-70 0.5h1.45m-3.5 0.1h1.45m-0.3 0.2h1.45m-1.6 0.2h1.45m0.8 0.5h1.45m58.8 0.1h1.45m-63.2 0.2h1.45m0.9-0h1.45m62.4 0.1h1.45m-65 0.1h1.45m66.7-0h1.45m-69.8 0.1h1.45m63.4-0h1.45m-0.9 0.2h1.45m-66.9 0.2h1.45m59.3 0.3h1.45m2.3-0h1.45m-4.9 0.1h1.45m-63.4 0.5h1.45m73.1-0h1.45m-2.8 0.1h1.45m-6 0.8h1.45m2.6 0.4h1.45m0.3 0.2h1.45m-8.8 0.1h1.45m4.2 0.5h1.45m1.9 0.1h1.45m-2 0.2h1.45m-5.5 0.1h1.45m0.7 0.8h1.45m1 0.1h1.45m0.4 0.6h1.45m-6.3 0.6h1.45m1.4 0.1h1.45m-1.5 0.1h1.45m-3.4 0.1h1.45m2.9 0.2h1.45m-1.1 0.4h1.45m-7.5 0.5h1.45m3.4 0.3h1.45m-1.1 0.1h1.45m-0.4-0h1.45m-6.5 0.3h1.45m-79.4 0.5h1.45m-0.9-0h1.45m78.3 0.4h1.45m-2.9 0.3h1.45m-81.3 0.4h1.45m79.1 0.5h1.45m0.8 0.5h1.45m0.7 0.1h1.45m-0.8-0h1.45m-5.2 0.5h1.45m-85.8 0.8h1.45m84.4-0h1.45m-1.2 0.5h1.45m-1.7 0.8h1.45m-5.7 0.2h1.45m-1.7 0.1h1.45m2.2 0.2h1.45m-1.2-0h1.45m-2.4 0.2h1.45m1.4-0h1.45m-5.8 0.7h1.45m-1.3 0.5h1.45m-0.3-0h1.45m1.2 0.7h1.45m-91.3 0.6h1.45m82 0.4h1.45m-0.9 0.7h1.45m0.8 1h1.45m-7.3 0.6h1.45m-1.4 0.7h1.45m1.5-0h1.45m-6.5 0.2h1.45m1.9-0h1.45m1.5 0.2h1.45m-7.5 0.4h1.45m-1.5 0.4h1.45m1.3 0.2h1.45m0.6 0.2h1.45m-4.6 0.6h1.45m-4.2 0.2h1.45m-4.6 0.1h1.45m-0.2-0h1.45m-1.3-0h1.45m-1.6 0.8h1.45m-1.2 0.3h1.45m-2.5 0.3h1.45m0.9 0.3h1.45m-0.6 0.4h1.45m-7.3 0.4h1.45m-2.6 0.1h1.45m2.8 0.2h1.45m-81.5 0.5h1.45m77.5-0h1.45m-3.4 0.1h1.45m-5 0.4h1.45m-1.1-0h1.45m-0.6 0.4h1.45m-76.8 0.2h1.45m74.9 0.1h1.45m-0.4 0.4h1.45m-1.3 0.1h1.45m-5.8 0.3h1.45m-4.3 0.4h1.45m-72.4 0.2h1.45m-1.6 0.2h1.45m-1.1 0.3h1.45m70.2 0.9h1.45m-3.2 0.3h1.45m-2.9 1.5h1.45m-4.6 0.4h1.45m-1.6 0.1h1.45m1.6 0.1h1.45m-6.2 0.5h1.45m0.3-0h1.45m-0-0h1.45m-3.7 0.7h1.45m-8.6 1h1.45m2.7-0h1.45m-6.2 0.1h1.45m3.8-0h1.45m-64 1.7h1.45m51.4 1.6h1.45m-3.4 1.8h1.45m-3.4 1h1.45m-50.6 0.3h1.45m47 0.9h1.45m-7.1 5.3h1.45m-6.1 4.6h1.45m-2.1 1.5h1.45m-35.8 1h1.45m-1.6 0.9h1.45m-1.9 0.5h1.45m33.7 0.2h1.45m-35.6 0.5h1.45m31.3 2.1h1.45m0.2 0.8h1.45m-36.7 0.3h1.45m33.5 0.4h1.45m-2.4 0.6h1.45m-1.3 0.1h1.45m-0.9 2h1.45m-36.6 4.1h1.45m-1.3 0.2h1.45m33.4 4.2h1.45m-36.1 0.7h1.45m32.1 0.1h1.45m-0.9 0.3h1.45m-0.2 0.3h1.45m-1.3 0.7h1.45m-2.5 0.4h1.45m-2.3 0.7h1.45m-34.7 0.4h1.45m33 0.2h1.45m-2.3 0.6h1.45m-35.2 0.1h1.45m33.8 0.2h1.45m-35.4 1.1h1.45m30.6 0.1h1.45m-0.5 0.3h1.45m-35 1.7h1.45m-0.8 0.3h1.45m-1.7 0.7h1.45m-0.3 0.2h1.45m29.6 0.1h1.45m-32.3 1.9h1.45m27.8 0.1h1.45m-0-0h1.45m-33 0.9h1.45m0.7 0.2h1.45m-1.6 1.4h1.45m26.8-0h1.45m-4 0.6h1.45m-1 0.5h1.45m-26.2 0.3h1.45m22.5 0.9h1.45m-0.2 0.5h1.45m-27 0.3h1.45m1.1 0.9h1.45m18 0.3h1.45m-0.2 0.1h1.45m-21.1 0.4h1.45m-4.2 0.1h1.45m-0.6 0.3h1.45m-1.4 0.3h1.45m-0.8 0.3h1.45m1.3 0.1h1.45m11.6 0.9h1.45m1.6 0.1h1.45m-18 0.2h1.45m1.7 1h1.45m1.2-0h1.45m-0.6 0.4h1.45m1.8 0.4h1.45m-8.3 0.1h1.45m2.8 0.1h1.45m-7.3 0.1h1.45m4.5 0.3h1.45m-2.1 0.4h1.45m-0.1-0h1.45m-0.5-0h1.45"/><path stroke="#30479c" d="M121.2 332.4h1.45m-13.2 0.2h1.45m-1 0.2h1.45m1.9 0.2h1.45m0.1 0.1h1.45m2.3 0h1.45m-9 0.1h1.45m20.8 0.1h1.45m-11.7 0.2h1.45m9.2 0.1h1.45m-5.2 0.1h1.45m4.3-0h1.45m-25.2 0.1h1.45m4.8-0h1.45m13.6 0.1h1.45m-31.6 0.1h1.45m6.7-0h1.45m4.9-0h1.45m8-0h1.45m8.2 0.1h1.45m1.9-0h1.45m-10.1 0.1h1.45m-23.8 0.2h1.45m19.5-0h1.45m1.9 0.1h1.45m-4.2 0.1h1.45m-29.8 0.2h1.45m2.6-0h1.45m-5.5 0.2h1.45m35-0h1.45m-40.4 0.1h1.45m0.1-0h1.45m3.4 0.3h1.45m-6.3 0.1h1.45m40.8-0h1.45m-42.7 0.1h1.45m0.4 0.1h1.45m34.1 0.1h1.45m-39.2 0.9h1.45m-2.7 0.2h1.45m-2.1 0.2h1.45m-0.8 0.4h1.45m46.4 0.5h1.45m-51.4 0.2h1.45m49.8 0.2h1.45m-49.6 0.1h1.45m-3.5 0.3h1.45m-2.1 0.5h1.45m49.2-0h1.45m-52.7 0.4h1.45m1.4 0.1h1.45m-2.3 0.2h1.45m46.8 0.6h1.45m2.3-0h1.45m-54.1 0.3h1.45m52.7 0.1h1.45m-54.1 0.3h1.45m49.8 0.3h1.45m-56.6 0.1h1.45m52.5 0.1h1.45m-2.1 0.2h1.45m3.6 0.2h1.45m-57.4 0.5h1.45m54.5 0.8h1.45m0.9 0.2h1.45m-4.5 0.2h1.45m-2.6 0.2h1.45m1.6-0h1.45m-58.4 0.1h1.45m57 0.2h1.45m-61.1 0.1h1.45m-0.1-0h1.45m53.9-0h1.45m-59.3 0.8h1.45m58.3 0.4h1.45m-60.3 0.3h1.45m56.8-0h1.45m3.7-0h1.45m-1.4 0.5h1.45m-1 0.1h1.45m-0.6 0.2h1.45m-5.6 0.4h1.45m1.6-0h1.45m-5.1 0.3h1.45m-0.8-0h1.45m-63.9 0.4h1.45m66.3-0h1.45m-7.2 0.2h1.45m-2.1 0.5h1.45m1.2-0h1.45m-66.8 0.3h1.45m66.1-0h1.45m-0.9 0.1h1.45m-2 0.1h1.45m-69.6 0.2h1.45m65.8 0.6h1.45m-2.4 0.2h1.45m4 0.3h1.45m-8.6 0.1h1.45m-0.6 0.2h1.45m0.9-0h1.45m-0.4-0h1.45m-1.7 0.1h1.45m4 0.1h1.45m-2.3 0.1h1.45m-9 0.5h1.45m3.1 0.2h1.45m-73.5 0.5h1.45m69.4 0.3h1.45m2.8 0.4h1.45m-77.6 0.2h1.45m-1.4 0.3h1.45m71.4 0.2h1.45m1.4-0h1.45m-8.4 0.1h1.45m5.5-0h1.45m-6.9 0.1h1.45m3.1-0h1.45m0 0.3h1.45m-1.8 0.6h1.45m-7.6 0.1h1.45m6.6 0.1h1.45m-7.5 0.6h1.45m4.9 0.2h1.45m-8.5 0.1h1.45m3.3 0.1h1.45m0.6 0.2h1.45m-6.2 0.1h1.45m-3.4 0.2h1.45m2.1 0.2h1.45m-5.8 0.3h1.45m-1.4-0h1.45m-0.8 0.4h1.45m-3.8 0.1h1.45m-0.8-0h1.45m4-0h1.45m-0.5-0h1.45m-6.3 0.1h1.45m3.3 0.7h1.45m-6.5 0.1h1.45m-3.6 0.1h1.45m2.8-0h1.45m-2.2 0.4h1.45m-77.9 0.5h1.45m70.7-0h1.45m3.1 0.4h1.45m-1-0h1.45m-7.5 0.4h1.45m3.7 0.4h1.45m0.6-0h1.45m-2.6 0.5h1.45m-80.6 0.2h1.45m72.2 0.2h1.45m-3.7 1h1.45m-0.9-0h1.45m-0.7-0h1.45m-1.2 0.2h1.45m-2.3 0.1h1.45m-2.3 0.5h1.45m2 0.5h1.45m-6 0.1h1.45m3.7-0h1.45m-7.8 0.5h1.45m-1.1 1h1.45m-2.3 0.1h1.45m-1.4-0h1.45m-0.7-0h1.45m-2.2 0.6h1.45m-0.3 0.6h1.45m-4.1 0.9h1.45m-0.6-0h1.45m-2.9 0.4h1.45m-1.2 0.3h1.45m-71.2 0.2h1.45m67.4 0.3h1.45m-70.6 0.3h1.45m68.9 0.2h1.45m-72.1 0.2h1.45m67.4 0.3h1.45m-2.7 0.3h1.45m-0.7 0.6h1.45m-4.5 0.4h1.45m-3 1h1.45m-2.8 1.3h1.45m1 0.4h1.45m-2.1 0.1h1.45m-2.1 0.1h1.45m-0.7-0h1.45m-67.8 0.1h1.45m57.6 0.7h1.45m-0.1 0.3h1.45m-62.1 0.1h1.45m56.7 0.5h1.45m1.4 0.2h1.45m-4.9 0.7h1.45m-58.1 0.4h1.45m53.1 0.7h1.45m-6.1 4h1.45m-51.5 0.1h1.45m48.3 0.3h1.45m-2.6 0.2h1.45m-50.2 0.3h1.45m46.8 0.9h1.45m-2 0.1h1.45m-49.2 0.3h1.45m45.6 0.3h1.45m-1.3 0.4h1.45m-49 2h1.45m-1.6 0.4h1.45m42.5 1.2h1.45m-2.2 0.5h1.45m-3.6 1.4h1.45m-40.9 0.4h1.45m-0.6-0h1.45m37.4 0.1h1.45m-2 0.1h1.45m-40.5 0.1h1.45m37.1 1.3h1.45m-2.4 0.7h1.45m-1.8 0.2h1.45m-38.4 0.1h1.45m-0.6 0.2h1.45m-0.6 0.2h1.45m32.2 0.8h1.45m-1.4 0.4h1.45m-35.4 0.5h1.45m-2 1.4h1.45m0.2 0.5h1.45m28 0.2h1.45m-0.6 0.2h1.45m-1.1 0.7h1.45m-2.7 0.9h1.45m-30.5 1h1.45m-1.6 0.4h1.45m-1.6 0.6h1.45m28.3-0h1.45m-1-0h1.45m-30.7 0.1h1.45m28.3-0h1.45m-1.7 1h1.45m-32.3 0.5h1.45m-1.7 0.3h1.45m0.2 0.5h1.45m27.1 1h1.45m-0.7 1h1.45m-0.8 2.2h1.45m-1.9 0.5h1.45m-1.2 1.7h1.45m-1.9 0.1h1.45m0.2 1h1.45m-34 0.4h1.45m-0.6-0h1.45m-2 0.9h1.45m30 1.3h1.45m-1.9 0.4h1.45m-0.9 0.2h1.45m-33 0.5h1.45m-0.9 0.2h1.45m28.7-0h1.45m-1.9 0.5h1.45m-1.2 0.1h1.45m-32.1 0.1h1.45m29.2 0.6h1.45m-30.7 0.9h1.45m28.3 0.1h1.45m-32.1 0.3h1.45m-0.2-0h1.45m-2.4 0.2h1.45m-2.3 0.1h1.45m28.7 0.5h1.45m-30.4 1h1.45m28.6 0.7h1.45m-3.4 0.4h1.45m-0.1 0.4h1.45m-31.2 0.3h1.45m26.5 0.4h1.45m-28.4 0.6h1.45m26.5 0.4h1.45m-0.7 0.4h1.45m-29.3 1.8h1.45m23.6 0.1h1.45m-1.3 0.1h1.45m-1.6 0.5h1.45m-25.5 0.3h1.45m-1.9 0.1h1.45m-1.9 0.2h1.45m-1.1-0h1.45m0.1 0.6h1.45m21 0.1h1.45m-1.2-0h1.45m-24.3 0.3h1.45m19.8 0.7h1.45m-22.5 0.1h1.45m20.8 0.5h1.45m-23.9 0.6h1.45m-0.7 0.3h1.45m-2.5 0.8h1.45m18.5 0.1h1.45m-20.7 0.6h1.45m19.6 0.1h1.45m-3.6 0.1h1.45m-19.1 0.1h1.45m-0.8 0.3h1.45m16.4 0.6h1.45m-17.1 0.4h1.45m1 0.4h1.45m10.9-0h1.45m-3.9 0.2h1.45m-10 0.2h1.45m0.2-0h1.45m-4.6 0.2h1.45m-3.1 0.3h1.45m-0.5 0.1h1.45m2.4 0.2h1.45m3.4 0.1h1.45m-10.3 0.1h1.45m2 0.1h1.45m-1.4-0h1.45m0.9 0.2h1.45m-5.7 0.3h1.45m1.2 0.2h1.45m1.5 0.8h1.45"/><path stroke="#3151a1" d="M112.5 334h1.45m0.8 0h1.45m-1.5 0.3h1.45m1.1 0.1h1.45m-1-0h1.45m0.6 0.2h1.45m6.5 0.1h1.45m-7.5 0.1h1.45m1.2 0.1h1.45m-7.8 0.1h1.45m-6 0.1h1.45m1.6-0h1.45m6-0h1.45m9.5-0h1.45m-10.6 0.1h1.45m-14.2 0.1h1.45m1-0h1.45m2.6 0.1h1.45m-0.9 0.1h1.45m1.6-0h1.45m-15.5 0.1h1.45m18.1-0h1.45m-13.8 0.2h1.45m6.2-0h1.45m-18.6 0.1h1.45m19-0h1.45m0.9-0h1.45m9 0.2h1.45m-5.8 0.3h1.45m0.4 0.1h1.45m2.4-0h1.45m-7.9 0.1h1.45m3.5 0.1h1.45m-36.3 0.3h1.45m-3.8 0.1h1.45m-0.7 0.2h1.45m35.2-0h1.45m-37.2 0.2h1.45m-1.8 0.1h1.45m0.8-0h1.45m35.3-0h1.45m-1.4-0h1.45m-1.1 0.5h1.45m0.8-0h1.45m-1.3 0.1h1.45m-41.7 0.1h1.45m-0.7-0h1.45m38.3 0.1h1.45m-4.1 0.1h1.45m-0.1 0.2h1.45m-1.7 0.5h1.45m-43.8 0.1h1.45m0.1 0.2h1.45m0.1-0h1.45m39.5 0.4h1.45m-44.4 0.2h1.45m41.4-0h1.45m-43.2 0.1h1.45m41.3 0.4h1.45m-46.2 0.4h1.45m0-0h1.45m-2.9 0.1h1.45m-1 0.2h1.45m43.4 0.5h1.45m-47.5 0.3h1.45m48-0h1.45m-2.3 0.3h1.45m-50.6 0.6h1.45m48.4 0.1h1.45m-50.1 0.1h1.45m47 0.1h1.45m-1.4-0h1.45m-1.7 0.2h1.45m-0.1 0.9h1.45m-3.4 0.1h1.45m1.7 0.7h1.45m-3.5 0.1h1.45m-1.3-0h1.45m-0.2 0.1h1.45m-0.5 0.4h1.45m-0.5 1h1.45m-2.4 0.5h1.45m-0.3-0h1.45m-2.1 0.7h1.45m0.8-0h1.45m-60 0.1h1.45m-0.7 0.1h1.45m56.8-0h1.45m-1.9 0.1h1.45m-60.8 0.9h1.45m-1.8 0.2h1.45m54.9 0.3h1.45m1.1-0h1.45m-59.9 0.1h1.45m59.9 0.5h1.45m-4.2 0.8h1.45m-1.2-0h1.45m0.9 0.4h1.45m-1.2 0.4h1.45m-2.4 0.2h1.45m-2 0.2h1.45m-2.8 0.1h1.45m-3.4 0.2h1.45m4.7-0h1.45m-1.7 0.3h1.45m-1 0.2h1.45m-4.4 0.5h1.45m1.4 0.5h1.45m-1.2 0.2h1.45m-69.2 0.4h1.45m61.3 0.4h1.45m-1.1-0h1.45m3.3-0h1.45m-5.1 0.2h1.45m-0.2 0.4h1.45m-3.2 0.5h1.45m-67.4 0.4h1.45m68-0h1.45m-70.8 0.3h1.45m62.8 0.8h1.45m1.2-0h1.45m-3.7 0.1h1.45m0.5 0.1h1.45m-2.8 0.1h1.45m0-0h1.45m1-0h1.45m-5.4 0.5h1.45m0.9 0.1h1.45m-3.6 0.2h1.45m-0.1 0.1h1.45m-70.7 0.5h1.45m65.7 0.1h1.45m-1.5 0.5h1.45m1.5 0.2h1.45m-5.1 0.1h1.45m0.6 0.5h1.45m-70.8 0.2h1.45m64.7-0h1.45m-0.6 0.2h1.45m-1 0.1h1.45m-2.3 0.1h1.45m-1 0.1h1.45m0.4-0h1.45m-4.4 0.5h1.45m-68.5 0.2h1.45m68 0.1h1.45m-2.5 0.5h1.45m-70 0.2h1.45m-0.8-0h1.45m-3.1 0.3h1.45m66.2 0.8h1.45m-1.4 0.2h1.45m-68.6 0.4h1.45m65.5-0h1.45m-2 0.5h1.45m-1.2 0.1h1.45m-2.7 0.3h1.45m1.4 0.1h1.45m-3 0.5h1.45m-2.5 0.3h1.45m-0.9 0.2h1.45m-0.7 0.2h1.45m-3.5 0.4h1.45m-0.7-0h1.45m-4.4 0.8h1.45m-66.5 0.3h1.45m65.7-0h1.45m-3 0.7h1.45m-2.7 0.1h1.45m-2.1 1.6h1.45m-65.4 0.2h1.45m-2 0.2h1.45m60.3 0.5h1.45m-5.4 0.8h1.45m-0.1 0.1h1.45m-1.1 0.6h1.45m-1.2 0.3h1.45m-2.4 0.3h1.45m-6.6 0.5h1.45m0.7-0h1.45m-58.4 0.5h1.45m-1.3 0.2h1.45m-1.8 0.7h1.45m54.2 0.2h1.45m-3.7 0.2h1.45m-1.2 0.1h1.45m-55.1 0.6h1.45m-0.7 0.2h1.45m-2.1 0.4h1.45m46.9 3.9h1.45m-1.4 0.6h1.45m-49.6 0.1h1.45m-1.8 0.3h1.45m45.9 0.1h1.45m-2.6 0.9h1.45m-46.8 2.4h1.45m-1.7 0.3h1.45m-1.1 1.9h1.45m37.3 1.5h1.45m-39.8 0.5h1.45m34.2 1.4h1.45m-35.4 2.8h1.45m28.9 1.1h1.45m-1.7 0.1h1.45m-30.1 0.1h1.45m-1.8 0.4h1.45m27.5 0.1h1.45m-30.2 0.7h1.45m27 0.7h1.45m-29.1 0.1h1.45m25.9 0.3h1.45m-1.6 0.2h1.45m-2.7 0.8h1.45m0.4 1.1h1.45m-2.2 0.1h1.45m-1.1 0.1h1.45m-3 1.5h1.45m0.4 1.3h1.45m-3.3 0.1h1.45m-0.3 0.7h1.45m-1.4 0.1h1.45m-28.5 0.3h1.45m-0.9 0.2h1.45m25.7 0.1h1.45m-30 0.2h1.45m-0.9 0.1h1.45m26.1-0h1.45m-1.7 0.9h1.45m-28.8 2.4h1.45m26.3 0.1h1.45m-0.7 0.2h1.45m-30.5 0.7h1.45m-0.4 0.8h1.45m27 0.3h1.45m-30.8 0.2h1.45m27.4-0h1.45m-2.7 0.3h1.45m-29.4 0.7h1.45m-0.4 0.4h1.45m27.2-0h1.45m-30.5 0.9h1.45m26.6 0.2h1.45m-29.7 0.4h1.45m-1.9 0.9h1.45m26.6 0.4h1.45m-0.5 0.3h1.45m-28.9 1.1h1.45m-0.4 0.8h1.45m24.7 0.6h1.45m-28.8 1h1.45m24-0h1.45m-0.5 0.2h1.45m-26.7 0.2h1.45m-2.7 0.2h1.45m-1.6 0.2h1.45m24.7 2.4h1.45m-3.8 1.6h1.45m-22.5 0.7h1.45m20.4-0h1.45m-1.1-0h1.45m-24.1 0.1h1.45m-0.5 0.1h1.45m-2.9 0.1h1.45m-0.7-0h1.45m20.2-0h1.45m-22 0.2h1.45m-1.9 0.2h1.45m20.4-0h1.45m-2.5 0.8h1.45m-21.3 0.2h1.45m-1.2 0.1h1.45m-2.1 0.3h1.45m-2.9 0.1h1.45m20.4 0.1h1.45m-22.7 0.2h1.45m17.6 0.1h1.45m-20.2 0.2h1.45m18.3-0h1.45m-21.7 0.2h1.45m16.7 0.6h1.45m-1 0.1h1.45m-18.2 0.3h1.45m-0.8-0h1.45m16.2-0h1.45m-3.6 0.2h1.45m-17.6 0.2h1.45m-0.4-0h1.45m-1.3-0h1.45m12.6 0.3h1.45m-1.5 0.1h1.45m1.4 0.1h1.45m-18.4 0.1h1.45m-2.6 0.2h1.45m2.4 0.1h1.45m-2.9 0.7h1.45m-0.5 0.3h1.45m-1-0h1.45m8.6-0h1.45m-0.6-0h1.45m-14.3 0.4h1.45m11.2 0.6h1.45m-6 0.1h1.45m2.8-0h1.45m-9.4 0.2h1.45m7.2 0.1h1.45m-11.2 0.1h1.45m1.5-0h1.45m-5.9 0.2h1.45m9.2 0.2h1.45m-7.8 0.4h1.45m0.9 0.3h1.45m-0 0.1h1.45m-7.7 0.1h1.45m0.8-0h1.45m-0.3-0h1.45m-4.3 0.1h1.45m4.1 0.1h1.45"/><path stroke="#335aa7" d="M114 336h1.45m12 0h1.45m-4.3 0.1h1.45m-8.6 0.2h1.45m0.1 0h1.45m9.4 0h1.45m-14.5 0.1h1.45m-0.2-0h1.45m3.6-0h1.45m-12.7 0.1h1.45m0.3-0h1.45m-0.2-0h1.45m-4.4 0.1h1.45m15.2-0h1.45m-15.1 0.1h1.45m8.6-0h1.45m-8.7 0.1h1.45m-7 0.2h1.45m23.2 0.1h1.45m-0.8-0h1.45m-0.8-0h1.45m-24.5 0.1h1.45m20.4-0h1.45m-29.2 0.1h1.45m20.7 0.1h1.45m1.5-0h1.45m-26.9 0.1h1.45m23.8-0h1.45m-3.6 0.1h1.45m1.2-0h1.45m1.9 0.1h1.45m-1-0h1.45m-27.2 0.1h1.45m-4 0.1h1.45m2.3-0h1.45m17.5-0h1.45m3.3-0h1.45m-29.7 0.1h1.45m-3.4 0.1h1.45m28.2-0h1.45m2.2 0.2h1.45m-5.6 0.1h1.45m-30.3 0.2h1.45m2.9 0.1h1.45m25.9 0.1h1.45m-34.1 0.4h1.45m31.7-0h1.45m1.9-0h1.45m-37.6 0.2h1.45m34.2 0.4h1.45m-1.1 0.4h1.45m-38.5 0.1h1.45m35.1 0.2h1.45m-38.7 0.3h1.45m-0.9-0h1.45m-1.9 0.1h1.45m0.4 0.1h1.45m35.6 0.5h1.45m-1.7 0.4h1.45m-1.4-0h1.45m-0.6 1h1.45m-43.2 0.1h1.45m43.2 0.1h1.45m-46.6 0.1h1.45m41.7 0.1h1.45m-0.8-0h1.45m-1.2-0h1.45m-44.7 0.6h1.45m-1.4-0h1.45m42.9 1.2h1.45m-47.6 0.1h1.45m-1.4 0.3h1.45m44.1-0h1.45m-1.2-0h1.45m-48.2 0.9h1.45m47.6 0.1h1.45m-2.1 0.2h1.45m-3.2 0.1h1.45m-0.5 0.8h1.45m-0.6 0.1h1.45m-1.5 0.3h1.45m0.1 0.4h1.45m-54.8 0.6h1.45m50.9-0h1.45m0.4 0.3h1.45m-55.3 0.3h1.45m52.4-0h1.45m0.1 0.7h1.45m-3.6 1.2h1.45m-1.3 0.1h1.45m-1.1 0.1h1.45m-2.6 0.7h1.45m0.4 2.5h1.45m-62.3 0.3h1.45m58.1 0.1h1.45m1.7-0h1.45m-63.7 0.4h1.45m57.1 0.8h1.45m2.4 0.2h1.45m-4.5 0.4h1.45m0.4 0.2h1.45m-2.5 0.2h1.45m-1.6 0.5h1.45m-1.8 0.2h1.45m0.2 0.3h1.45m-3.8 0.1h1.45m-0.2-0h1.45m-1.1 1.7h1.45m-1.7 0.3h1.45m-66.1 0.4h1.45m60.9 0.5h1.45m-64.4 0.9h1.45m62.6-0h1.45m-3.5 0.1h1.45m-2 0.1h1.45m-63.3 0.1h1.45m63.3 0.1h1.45m-66.4 0.4h1.45m-1.6 0.2h1.45m62.6 0.7h1.45m-1.5 0.1h1.45m-4.6 1.1h1.45m-0.3 0.1h1.45m-3.4 0.9h1.45m0.5 0.6h1.45m-65.4 0.3h1.45m59.2-0h1.45m1.1 0.3h1.45m-4.1 0.6h1.45m-1.7 0.2h1.45m-61.7 0.3h1.45m60.2-0h1.45m-0.2 0.1h1.45m-4.3 0.3h1.45m-1.1 0.2h1.45m-63.4 0.3h1.45m60.3 0.1h1.45m-62.7 0.3h1.45m58.1-0h1.45m0.6-0h1.45m-1.1-0h1.45m-2.9 0.1h1.45m-2.8 0.2h1.45m-2.4 0.6h1.45m-2.1 0.5h1.45m-2.9 0.3h1.45m-59.1 0.4h1.45m53.5-0h1.45m-0.1 0.3h1.45m-2.2 0.2h1.45m-56.6 0.1h1.45m52.5-0h1.45m-1.6 0.4h1.45m-55.7 2h1.45m49.9 0.4h1.45m-52.4 0.1h1.45m49 0.8h1.45m-1.5 0.1h1.45m-2.2 0.1h1.45m-2.7 0.8h1.45m-1.1 0.8h1.45m-1.4-0h1.45m-51.6 2.3h1.45m44.5 2.3h1.45m-2.6 0.3h1.45m-45.1 0.2h1.45m-1.4 1.5h1.45m41.8 0.2h1.45m-44.9 0.8h1.45m38.7 2h1.45m-1 0.3h1.45m-2.5 0.4h1.45m-39.7 0.1h1.45m34.4 1.1h1.45m-37.7 0.4h1.45m34.3 0.3h1.45m-35.7 0.4h1.45m-0.8 1.7h1.45m-0.7 2.4h1.45m-0.9 0.6h1.45m-0.8 0.9h1.45m22.9 1.1h1.45m-0.7 0.2h1.45m-2.8 0.1h1.45m-0.8-0h1.45m-26 0.4h1.45m-0.1 0.7h1.45m-1.4-0h1.45m20.1 0.9h1.45m-23.5 1.1h1.45m21.8 0.1h1.45m-24.1 0.1h1.45m20.6 1.5h1.45m-24 0.1h1.45m21.5-0h1.45m-23.7 0.1h1.45m20.7 0.4h1.45m-1.1 1.1h1.45m-1 0.7h1.45m-26.1 0.1h1.45m0.3 1.3h1.45m-2.2 1h1.45m-1.8 0.2h1.45m-0.5 0.1h1.45m-2.1 0.1h1.45m22.2 0.6h1.45m-1.2 0.4h1.45m-2.1 0.3h1.45m-0.9-0h1.45m-1 0.3h1.45m-1-0h1.45m-25.8 0.5h1.45m-2.9 0.6h1.45m-0.9 0.1h1.45m-0.3 0.1h1.45m20.9-0h1.45m-0.2 0.4h1.45m-1.6 0.4h1.45m-0.6 0.1h1.45m-26 0.2h1.45m21.8 0.1h1.45m-0.7-0h1.45m-2.4 0.5h1.45m-0.7 0.1h1.45m-25.8 0.3h1.45m-0.3 0.1h1.45m21.1 0.6h1.45m-25.6 0.1h1.45m23.7 0.3h1.45m-25.2 0.2h1.45m-2.2 0.3h1.45m-1.1 0.7h1.45m-1.5 0.4h1.45m22.8-0h1.45m-1.2 0.1h1.45m-26.3 0.1h1.45m22.7-0h1.45m-23.9 0.5h1.45m-1.9 0.4h1.45m-2.4 0.1h1.45m21.6 0.1h1.45m-23 0.1h1.45m-2.3 0.1h1.45m21.2 0.9h1.45m-23.1 0.1h1.45m19.8 0.4h1.45m-22.9 0.6h1.45m-2.8 0.3h1.45m20.7-0h1.45m-1.6 0.8h1.45m-2.5 0.6h1.45m-21.6 0.3h1.45m0.1 0.6h1.45m-1.8 0.9h1.45m-0.8 0.2h1.45m-2.4 0.1h1.45m17.4-0h1.45m-2.3 0.9h1.45m-0.8 0.2h1.45m-0.9 0.6h1.45m-18.4 0.4h1.45m-1.4 0.6h1.45m-0.7 0.7h1.45m-0.8 0.2h1.45m-1.8 0.9h1.45m-1-0h1.45m-1.4-0h1.45m-0.2-0h1.45m-3.1 0.4h1.45m9.1 0.4h1.45m0.9-0h1.45m-5 0.1h1.45m-6 0.1h1.45m2.7 0.2h1.45m-3.2 0.2h1.45m-6.9 0.1h1.45m1.3 0.4h1.45m3.5 0.2h1.45m-0.1-0h1.45m-2 0.1h1.45m-0.9-0h1.45m-3.3 0.3h1.45m0-0h1.45m-4.5 0.7h1.45m-0.9 0.3h1.45m-4.8 0.1h1.45m1.7 0.1h1.45"/><path stroke="#3564ad" d="M118.4 337h1.45m8.2 0h1.45m-9.6 0.5h1.45m-0.2 0h1.45m-5.2 0.1h1.45m0.9 0h1.45m1.5 0h1.45m-6.8 0.1h1.45m1.4 0.2h1.45m1.8-0h1.45m-10.7 0.2h1.45m3.5 0.1h1.45m13.2-0h1.45m0.7-0h1.45m-20.2 0.3h1.45m8.8 0.1h1.45m3.1-0h1.45m-0.2-0h1.45m-17.9 0.1h1.45m0.6-0h1.45m-1.4 0.1h1.45m-3.7 0.2h1.45m-5.8 0.1h1.45m-0.3 0.2h1.45m18.5-0h1.45m0.4-0h1.45m-26.4 0.2h1.45m-0.4-0h1.45m-2.5 0.2h1.45m-1.5 0.1h1.45m0.5-0h1.45m23.8 0.2h1.45m-30.1 0.6h1.45m28.9 0.2h1.45m0.4-0h1.45m-1.4 0.2h1.45m-35.6 0.1h1.45m31.9-0h1.45m0.4-0h1.45m-1.6 0.1h1.45m-1.5 0.1h1.45m-1.3-0h1.45m-36.2 0.1h1.45m-0 0.1h1.45m-3.7 0.2h1.45m33.9 0.1h1.45m-35.7 0.2h1.45m-3.4 0.1h1.45m-0.4 0.5h1.45m34.7-0h1.45m-0.4-0h1.45m-3.5 0.1h1.45m-35.7 0.2h1.45m-4.1 0.1h1.45m0.2-0h1.45m-3 0.1h1.45m36.6 0.3h1.45m0.3 0.2h1.45m-40.8 0.1h1.45m-3.2 0.6h1.45m38.5-0h1.45m-41.1 0.1h1.45m40.3 0.3h1.45m-0.4 0.8h1.45m-3.7 0.1h1.45m-1.4 0.2h1.45m-1.5-0h1.45m0.7 0.1h1.45m-46.9 0.2h1.45m-0.6-0h1.45m-2.2 0.1h1.45m-2.2 1.2h1.45m43.7 0.4h1.45m-47.2 0.2h1.45m-2.2 0.2h1.45m46-0h1.45m-0.9 0.2h1.45m-48.7 0.3h1.45m45.6-0h1.45m-50.2 0.4h1.45m48.2 0.2h1.45m-0.2 0.5h1.45m-52.5 0.4h1.45m47.8 0.4h1.45m1 0.6h1.45m-3.3 0.3h1.45m-1.1 0.1h1.45m-2.1 0.3h1.45m-1.1 0.1h1.45m-0.3 0.2h1.45m-2.5 0.2h1.45m-1.1 0.3h1.45m-53.9 0.2h1.45m52.5 0.2h1.45m-1.6 0.1h1.45m-56.1 0.3h1.45m51.4 0.2h1.45m-1.8 0.1h1.45m1-0h1.45m-57.7 0.4h1.45m53.8 0.8h1.45m-2 0.1h1.45m-0.8 0.3h1.45m-1.2 0.3h1.45m-1.8 0.4h1.45m-58.6 0.2h1.45m54.2 0.9h1.45m-58 0.1h1.45m-1.9 0.5h1.45m55.2 0.3h1.45m-59.2 0.2h1.45m59-0h1.45m-2.2 0.1h1.45m-2.9 0.4h1.45m-59.8 0.1h1.45m57.5-0h1.45m-59.7 0.1h1.45m56.1 0.3h1.45m0.9 0.4h1.45m-2.8 0.3h1.45m-3.8 1.3h1.45m0.3 0.5h1.45m-0.5 0.1h1.45m-3.7 0.6h1.45m-0.3 0.1h1.45m-3 0.4h1.45m-1.9 0.6h1.45m-60.8 0.1h1.45m58.5 0.2h1.45m-0.3-0h1.45m-63.3 0.1h1.45m58.7-0h1.45m-1.2-0h1.45m-62.1 0.6h1.45m-1.4-0h1.45m-1.4 0.1h1.45m59.8 0.2h1.45m-62.8 0.2h1.45m-1.5 0.2h1.45m56.5 1.1h1.45m-60.2 0.2h1.45m57.7 0.3h1.45m-3.6 0.5h1.45m-58.5 0.1h1.45m54.8 0.3h1.45m-0.8 1.1h1.45m-3 0.1h1.45m-1.2 0.1h1.45m-1.1 0.3h1.45m-58.8 0.1h1.45m53.5-0h1.45m-0.6-0h1.45m0-0h1.45m-5.4 1h1.45m-54 0.1h1.45m50.3 0.6h1.45m-0.8 0.4h1.45m-2.7 0.6h1.45m-54.3 1.5h1.45m49.9-0h1.45m-52 1.1h1.45m46.7 0.4h1.45m-0.9 0.7h1.45m-2.8 0.3h1.45m-2.3 1.1h1.45m-1.4-0h1.45m-1 0.5h1.45m-1.4 0.2h1.45m-49.5 0.5h1.45m-2 0.5h1.45m45.9 0.5h1.45m-48.8 0.7h1.45m44 1.1h1.45m-46.7 0.5h1.45m42.7 0.8h1.45m-2.3 1.1h1.45m-44.2 0.4h1.45m40.5 0.9h1.45m-43.5 1.3h1.45m-1.4-0h1.45m37.2 1.2h1.45m-38.6 0.2h1.45m33.8 0.8h1.45m-35.6 1.7h1.45m-1.6 0.3h1.45m29.7 0.6h1.45m-3.1 1.1h1.45m-30 0.1h1.45m25.4 1.2h1.45m-0.6 0.3h1.45m-2.1 0.1h1.45m-2.6 0.2h1.45m-0.9-0h1.45m-0.6 0.5h1.45m-27.8 0.2h1.45m22.6 1.4h1.45m-1.6 0.5h1.45m-0.8 0.1h1.45m-3.3 1.9h1.45m-22.3 0.1h1.45m18.8 1.2h1.45m-21.2 0.7h1.45m-0.2 0.1h1.45m-3.1 0.1h1.45m18.4 0.3h1.45m-20.8 0.4h1.45m-0.8 0.2h1.45m-1.7 0.6h1.45m16.6 0.2h1.45m-20 0.1h1.45m-1.2 0.4h1.45m-0.7 0.1h1.45m18.4 0.1h1.45m-4 0.2h1.45m-1.4-0h1.45m-0.1-0h1.45m-20 0.1h1.45m17.4-0h1.45m-1.5 0.4h1.45m-1.7 0.5h1.45m-1.3 0.4h1.45m-0.4 0.3h1.45m-1.4 0.2h1.45m-22.9 0.8h1.45m-0.6 0.1h1.45m-1.4 0.3h1.45m-1.8 0.1h1.45m-0.5-0h1.45m17.7 0.8h1.45m-21.7 0.1h1.45m18.7 0.3h1.45m-1.6 0.6h1.45m-0.8 0.4h1.45m-21.8 0.6h1.45m-0.5 0.2h1.45m18.6 0.2h1.45m-23.4 0.1h1.45m-0.7-0h1.45m18 0.1h1.45m-21.3 0.6h1.45m-1.6 0.2h1.45m19.7 0.4h1.45m-2.4 0.2h1.45m-19.9 0.4h1.45m16.9 0.1h1.45m-20.9 0.1h1.45m-2.2 0.6h1.45m20.4 0.3h1.45m-3 0.1h1.45m-21.8 0.1h1.45m-0.7 0.8h1.45m-0.8 0.3h1.45m-2.1 0.4h1.45m19.1 0.2h1.45m-22 0.2h1.45m-0.6-0h1.45m-1.8 0.2h1.45m-1 0.6h1.45m-0.3-0h1.45m16.7-0h1.45m-20.1 0.1h1.45m-0.8 0.1h1.45m-2.8 0.1h1.45m16.9-0h1.45m-1.3-0h1.45m-19.3 0.2h1.45m-2.5 0.4h1.45m-0.8-0h1.45m-1.5 0.1h1.45m15.8 0.2h1.45m0.1-0h1.45m-1.7 0.3h1.45m-1.2 0.1h1.45m-3.5 0.7h1.45m-18.1 0.1h1.45m15.1 0.2h1.45m-18 0.2h1.45m-0.7 0.1h1.45m15 0.1h1.45m-0 0.2h1.45m-21 0.3h1.45m0.6 0.2h1.45m-2.1 0.3h1.45m13.4 0.7h1.45m-15.2 0.1h1.45m12 0.1h1.45m-0.3 0.4h1.45m0.1 0.2h1.45m-17.7 0.2h1.45m-0.3 0.2h1.45m13-0h1.45m-3 0.4h1.45m-0.5 0.2h1.45m-16.2 0.2h1.45m13.3 0.2h1.45m-1.9 0.1h1.45m-15.6 0.2h1.45m9.8 0.4h1.45m0.6 0.5h1.45m-12.4 0.5h1.45m-3.3 0.2h1.45m1.7-0h1.45m7.3 0.1h1.45m-9.2 0.1h1.45m2 0.2h1.45m-4.5 0.2h1.45m-3.6 0.3h1.45m5.8-0h1.45m-0.1-0h1.45m-2.5 0.2h1.45m-10 0.1h1.45m-1-0h1.45m4.9-0h1.45m-1.1-0h1.45m0.1-0h1.45m-10 0.1h1.45m2.4-0h1.45m2.3 0.2h1.45m-6.3 0.4h1.45m-1-0h1.45m-0.5 0.1h1.45m4.1 0.1h1.45m-9.4 0.2h1.45m-0.4 0.2h1.45m1 0.3h1.45m-1.6 0.1h1.45m-0.3 0.1h1.45m-0.8 0.2h1.45m-1.4-0h1.45m-3.9 0.1h1.45"/><path stroke="#366fb0" d="M122.8 338.1h1.45m-1.8 0.1h1.45m3.3 0.1h1.45m-9.1 0.2h1.45m4.5-0h1.45m-3.9 0.1h1.45m-9.2 0.5h1.45m0.9-0h1.45m4-0h1.45m1-0h1.45m4.5-0h1.45m-0.9-0h1.45m-1-0h1.45m-19.2 0.1h1.45m11.6-0h1.45m-0.2-0h1.45m-1.3-0h1.45m-0.4-0h1.45m-16.7 0.1h1.45m11.3-0h1.45m-1.5-0h1.45m-11.2 0.1h1.45m-3.2 0.1h1.45m-0.9-0h1.45m12.1-0h1.45m-15.8 0.1h1.45m5.5-0h1.45m-0.6 0.1h1.45m1.5-0h1.45m0.2 0.1h1.45m2.7-0h1.45m-1.5 0.3h1.45m-1.2-0h1.45m-21.1 0.4h1.45m-2.6 0.1h1.45m0.5-0h1.45m16.8 0.1h1.45m-20.8 0.1h1.45m21.4-0h1.45m-27.5 0.2h1.45m-0.4-0h1.45m-1.3-0h1.45m-2.9 0.2h1.45m-0 0.1h1.45m-1.2-0h1.45m24.7-0h1.45m-26.7 0.6h1.45m26 0.1h1.45m-30.9 0.1h1.45m-1.9 0.4h1.45m30.4-0h1.45m-4.3 0.2h1.45m-2.1 0.1h1.45m1.6 0.1h1.45m-2.7 1h1.45m-1.3-0h1.45m1.8 0.2h1.45m-37.9 0.1h1.45m-1.9 0.2h1.45m-1.6 0.4h1.45m34.6-0h1.45m-38.3 0.3h1.45m-1.4 0.1h1.45m-1.5 0.2h1.45m36.7 0.1h1.45m-2.7 0.2h1.45m0.7 0.1h1.45m-42.5 0.2h1.45m40.4 0.4h1.45m-2.9 0.2h1.45m-42.6 0.3h1.45m-1.1 0.3h1.45m-2.7 0.7h1.45m-1.1-0h1.45m42.5 0.4h1.45m-47.5 1.1h1.45m-1 0.5h1.45m45 0.1h1.45m-2.7 0.1h1.45m-1.4 0.3h1.45m-0.9 0.3h1.45m-2.8 0.3h1.45m-0.4-0h1.45m-0 0.1h1.45m-4.2 0.1h1.45m0.4 0.1h1.45m-2.3 0.1h1.45m-0.7-0h1.45m-2.2 0.1h1.45m-49.5 0.6h1.45m47.2 0.6h1.45m-51.6 0.4h1.45m-1.2 0.6h1.45m49.2-0h1.45m-1.4-0h1.45m-53.6 0.6h1.45m-1-0h1.45m49.5 0.1h1.45m-1 0.1h1.45m-1.7 0.1h1.45m-2.2 0.1h1.45m-1 0.3h1.45m-53.6 0.4h1.45m-1.6 0.5h1.45m52.6 0.4h1.45m-1.9 0.2h1.45m-0.8 0.2h1.45m-3.7 0.2h1.45m-1.4-0h1.45m0.1 1h1.45m-2.8 0.1h1.45m-56.9 0.9h1.45m53.8 0.1h1.45m-1.4 0.7h1.45m-0.2 0.8h1.45m-2.1 0.2h1.45m-0.6-0h1.45m-3.6 0.3h1.45m0.6-0h1.45m-4.4 0.1h1.45m-56.9 0.3h1.45m-0.8 0.3h1.45m53.3-0h1.45m-1.4-0h1.45m0.6-0h1.45m-1.4-0h1.45m-4 0.5h1.45m1 0.1h1.45m-60.2 0.1h1.45m57 0.1h1.45m-1.2 0.2h1.45m-3.6 0.3h1.45m-57.7 0.3h1.45m-1.1 0.5h1.45m-1.8 0.1h1.45m54.2 0.1h1.45m-0.8-0h1.45m-1.7 0.4h1.45m-1.8 0.2h1.45m-3.8 0.6h1.45m-1.2-0h1.45m-0.2 0.4h1.45m-2.8 0.2h1.45m-1.4 0.3h1.45m-57.4 0.3h1.45m52.7-0h1.45m-55 0.4h1.45m52.5-0h1.45m-0.3-0h1.45m-2.3 0.1h1.45m-5 1.2h1.45m-1.4 0.2h1.45m-0.9 0.5h1.45m-53.9 0.7h1.45m49.3 0.7h1.45m-0.8 0.2h1.45m-2.4 0.1h1.45m-0.8-0h1.45m-1.3-0h1.45m-4 0.7h1.45m-0.7 0.3h1.45m-0.4 0.4h1.45m-4 0.7h1.45m-50.5 0.2h1.45m48.1-0h1.45m-2.2 1.1h1.45m-2.3 0.2h1.45m-1.3 0.1h1.45m-50.2 0.8h1.45m45.6 1.2h1.45m-48.7 0.4h1.45m45.6-0h1.45m-48.9 0.3h1.45m45 0.2h1.45m-1.5 0.1h1.45m-1.3 0.4h1.45m-1.2 0.1h1.45m-1.6 1h1.45m-47.3 0.2h1.45m44.3-0h1.45m-1.3-0h1.45m-47.5 1.1h1.45m42.2 0.1h1.45m-44.9 0.1h1.45m42.2 0.7h1.45m-45.9 0.6h1.45m-1.5 0.2h1.45m41.8 0.1h1.45m-1 0.1h1.45m-44.2 0.2h1.45m-2.4 0.1h1.45m-0.3 2.6h1.45m-1.1 0.2h1.45m35.4 1.3h1.45m-38.6 0.4h1.45m-0.8-0h1.45m34.1 0.5h1.45m-1.2 0.8h1.45m-3.4 0.6h1.45m-1.5 0.2h1.45m-2.3 0.2h1.45m-2.2 0.2h1.45m-32.9 0.1h1.45m-0.4 0.7h1.45m-2 0.4h1.45m27.9 0.6h1.45m-3.9 1.5h1.45m-0.8-0h1.45m-1.3-0h1.45m-0.7 0.2h1.45m-2.2 0.2h1.45m-0.6-0h1.45m-1.4-0h1.45m-29.1 0.1h1.45m24.1 0.4h1.45m-26 0.2h1.45m23.2-0h1.45m-1.3 0.1h1.45m-25.4 0.5h1.45m-0.9 0.4h1.45m-2.5 0.2h1.45m-0.5 0.5h1.45m-1.1 0.2h1.45m19.1 0.4h1.45m-22.5 0.4h1.45m-0.6-0h1.45m18.2 0.8h1.45m-2.2 0.1h1.45m-2.2 0.4h1.45m-1 0.3h1.45m-2.3 0.1h1.45m-18.3 0.2h1.45m-1.4 0.1h1.45m15.1-0h1.45m-16.6 0.5h1.45m14.2 0.2h1.45m-2.3 0.1h1.45m-1.6 0.1h1.45m0.2 0.3h1.45m-1.9 0.1h1.45m-18.6 0.1h1.45m13.8-0h1.45m-16.7 0.4h1.45m-0.3 0.5h1.45m13.4 0.2h1.45m-17.6 0.2h1.45m-1.4-0h1.45m1.3-0h1.45m11 0.4h1.45m-0.3 0.1h1.45m-1.4-0h1.45m-2.2 0.1h1.45m-15.1 0.2h1.45m-1.7 0.2h1.45m12.3-0h1.45m-15.6 0.2h1.45m-0.8 0.1h1.45m11.8-0h1.45m-14.3 0.1h1.45m12.6-0h1.45m-2.5 0.3h1.45m-1-0h1.45m-14.7 0.3h1.45m11 0.2h1.45m-14.6 0.1h1.45m-1.1 0.1h1.45m11.2 0.1h1.45m-14.5 0.1h1.45m-3.1 0.1h1.45m-0.8 0.3h1.45m0.5 0.3h1.45m12-0h1.45m-1.6 0.4h1.45m-15.8 0.2h1.45m13 0.3h1.45m-1.7 0.3h1.45m-0.3-0h1.45m-18.2 0.1h1.45m13.9 0.4h1.45m-0.1 0.6h1.45m-18.1 0.4h1.45m-0.7-0h1.45m15.1-0h1.45m-17.3 0.1h1.45m13.2 0.3h1.45m-1.2 0.2h1.45m-0.6 1.1h1.45m-2.6 0.3h1.45m-16.7 0.4h1.45m13.9-0h1.45m-16.9 0.1h1.45m13.6-0h1.45m-16 0.6h1.45m-1.9 0.1h1.45m-2.6 0.5h1.45m16.3 0.4h1.45m-2.8 0.3h1.45m-0.3 0.3h1.45m-2.1 0.3h1.45m-1.9 0.1h1.45m-17.5 0.1h1.45m-1.5 0.5h1.45m14.8 0.2h1.45m-3.1 0.3h1.45m1.3 0.3h1.45m-2.2 0.6h1.45m-16 0.2h1.45m-2 0.3h1.45m14.5 0.1h1.45m-2.9 0.2h1.45m-1.6 0.1h1.45m-15.3 0.2h1.45m-2.8 1.1h1.45m-0.5-0h1.45m-0.6 0.1h1.45m11.6 0.2h1.45m-3 0.1h1.45m0.7-0h1.45m-3.7 0.1h1.45m-0.2 0.2h1.45m-2 0.1h1.45m-0.6 0.2h1.45m-1 0.1h1.45m-15.3 0.4h1.45m10.3-0h1.45m-11 0.5h1.45m8.1 0.1h1.45m-11.1 0.1h1.45m-3.4 0.1h1.45m-1.4 0.1h1.45m11.3-0h1.45m-0.9-0h1.45m-14.9 0.1h1.45m-1.7 0.2h1.45m9.5-0h1.45m1.2 0.7h1.45m-14.6 0.1h1.45m-0.3 0.1h1.45m0.1-0h1.45m6.7-0h1.45m-0.5-0h1.45m-13 0.1h1.45m1.4-0h1.45m-3.8 0.1h1.45m1 0.3h1.45m7.6-0h1.45m-2 0.1h1.45m-3.6 0.1h1.45m-0.1 0.1h1.45m-11.1 0.1h1.45m1.1 0.1h1.45m0.3 0.3h1.45m-5.1 0.2h1.45m-1.2-0h1.45m1.3-0h1.45m-4.5 0.2h1.45m-0.9-0h1.45m-1.6 0.1h1.45m-0.6-0h1.45m5-0h1.45m-9.6 0.3h1.45m8-0h1.45m-1.4-0h1.45m-3.2 0.1h1.45m-4.3 0.1h1.45m0.8 0.1h1.45m-6.8 0.1h1.45m-1-0h1.45m4.1-0h1.45m-8.7 0.1h1.45m2.9 0.2h1.45m-4.2 0.2h1.45m0.3 0.3h1.45m2.6 0.3h1.45m-3.5 0.1h1.45m0.6-0h1.45m-6.5 0.2h1.45m-0.4 0.7h1.45m-0.8 0.1h1.45m-1.2-0h1.45m0 0.1h1.45m-1.2 0.3h1.45"/><path stroke="#387ab1" d="M126.9 340h1.45m0.6 0h1.45m0.5 0.2h1.45m-9.2 0.1h1.45m4.8 0h1.45m-14.1 0.1h1.45m2.6 0.1h1.45m5.3-0h1.45m-5.8 0.1h1.45m5-0h1.45m-5.2 0.1h1.45m-5.1 0.2h1.45m-10.7 0.2h1.45m17.4 0.1h1.45m1.1 0.1h1.45m-23 0.2h1.45m1.4 0.1h1.45m14.9-0h1.45m-17.9 0.1h1.45m13.6-0h1.45m-17.1 0.1h1.45m18.8-0h1.45m-4.3 0.2h1.45m2.2 0.2h1.45m-2.1 0.1h1.45m-26.4 0.4h1.45m-1.2 0.1h1.45m23.7-0h1.45m-0.8 0.2h1.45m-28.4 0.1h1.45m25.4 0.2h1.45m-29.4 0.2h1.45m-1.3-0h1.45m26.6 0.1h1.45m-0.2-0h1.45m-0-0h1.45m-31 0.1h1.45m25.8 0.1h1.45m-1-0h1.45m-28.6 0.1h1.45m24.1-0h1.45m0.9-0h1.45m0.1 0.2h1.45m-1.4 0.5h1.45m-1.4-0h1.45m-33.2 0.1h1.45m29.5-0h1.45m-33 0.1h1.45m30.3-0h1.45m-33.6 0.2h1.45m-1.8 0.1h1.45m31.8 0.2h1.45m-0.5 1h1.45m-0 1.5h1.45m-2.6 0.8h1.45m-41.3 0.1h1.45m-1.2-0h1.45m40.2 0.6h1.45m-44.1 0.2h1.45m39.4 0.2h1.45m-1-0h1.45m-42.8 0.1h1.45m40.6 1h1.45m-0.6 0.4h1.45m-1.9 0.1h1.45m-45.2 0.3h1.45m42.3 0.3h1.45m-46.6 0.6h1.45m-1.7 0.3h1.45m-1.9 0.7h1.45m46.2 0.1h1.45m-3.4 0.2h1.45m-49 0.2h1.45m-1.3 0.1h1.45m-1.5-0h1.45m47.9-0h1.45m-2.1 0.3h1.45m-0.6 0.1h1.45m-2.8 0.2h1.45m-0.3 0.1h1.45m-3.6 0.3h1.45m1.1-0h1.45m-3.7 0.7h1.45m-0.3-0h1.45m-2 0.2h1.45m0.2-0h1.45m-4.3 0.3h1.45m-0.7 0.2h1.45m-52.1 0.5h1.45m49.1 0.1h1.45m-1.1 0.6h1.45m-52.1 0.1h1.45m48.8 0.2h1.45m-1 0.7h1.45m-0.5-0h1.45m-0.8-0h1.45m-5.1 0.5h1.45m0.1 0.1h1.45m-2.5 0.4h1.45m-0.4 0.3h1.45m-1.8 0.3h1.45m-1.3 0.1h1.45m-0.3 0.1h1.45m-55.4 1h1.45m49.4 0.2h1.45m-0.4 0.2h1.45m-53.3 0.1h1.45m51.3 0.1h1.45m-3.8 0.3h1.45m-0.4 0.1h1.45m-1.3 0.4h1.45m-2.1 0.1h1.45m-2.2 0.1h1.45m-0.5 0.1h1.45m-1.4 0.7h1.45m-1 0.1h1.45m-2.8 0.3h1.45m-53.7 0.1h1.45m50.1-0h1.45m-53.5 0.2h1.45m51.4 0.1h1.45m-54.6 0.5h1.45m51.4-0h1.45m-2.7 0.5h1.45m-54 0.1h1.45m50.5 0.6h1.45m-3.3 0.4h1.45m-52.1 0.6h1.45m-1 0.2h1.45m-1.4 0.8h1.45m46.6-0h1.45m-50 0.1h1.45m-1.3 0.5h1.45m47.8 0.4h1.45m-1.5 0.3h1.45m-2.8 1h1.45m-50.4 0.4h1.45m-1.1 0.4h1.45m46-0h1.45m-1.7 0.1h1.45m-50.1 2h1.45m-1.3-0h1.45m44.2 1.5h1.45m-46.8 0.1h1.45m44.4 0.5h1.45m-1.2 0.3h1.45m-48.1 0.2h1.45m43.3 0.2h1.45m-1.2 0.1h1.45m-45.8 0.4h1.45m-2.2 0.4h1.45m-1.3 0.2h1.45m-1.4 0.5h1.45m-1.6 0.2h1.45m42.5 0.3h1.45m-45 0.3h1.45m41.5 0.4h1.45m-44.5 0.1h1.45m-1.9 0.5h1.45m-1.4 0.2h1.45m-1.3 0.5h1.45m40.8-0h1.45m-1.3 0.2h1.45m-3.8 1.8h1.45m-1.9 0.7h1.45m-1.6 0.6h1.45m-2.9 0.8h1.45m-1.1 0.4h1.45m-38.4 1.1h1.45m-1.9 0.1h1.45m33.4 0.1h1.45m-36.1 0.1h1.45m-1.4 0.4h1.45m-0.5 0.2h1.45m-1.3 2.1h1.45m-0.7 0.2h1.45m-1.3 0.5h1.45m27.7 0.1h1.45m-30.2 1.1h1.45m-1.2 0.1h1.45m24.6-0h1.45m-0.6-0h1.45m-2.4 0.2h1.45m-27.3 0.5h1.45m-1.6 0.3h1.45m-0.7-0h1.45m-1.4-0h1.45m21.9 0.2h1.45m-1.3 0.2h1.45m-24.4 0.4h1.45m-1.1 0.8h1.45m-1.6 0.2h1.45m20.5 0.1h1.45m-22.9 0.5h1.45m-1.5 0.1h1.45m-1.1-0h1.45m18.3 0.2h1.45m-0.7 0.1h1.45m-21 0.3h1.45m-1.4 0.6h1.45m-2.6 0.1h1.45m16.9-0h1.45m-2.9 0.2h1.45m-15.7 0.2h1.45m-2.3 0.2h1.45m15.1-0h1.45m-4.7 0.6h1.45m0.3-0h1.45m-1.8 0.1h1.45m-1.3 0.1h1.45m-1.8 0.1h1.45m-15.6 0.1h1.45m12.3 0.4h1.45m-2.2 0.1h1.45m-13.4 0.1h1.45m10.2-0h1.45m-0.3 0.5h1.45m-13.9 0.3h1.45m11.5-0h1.45m-12.6 0.4h1.45m-3 0.1h1.45m-2.1 0.2h1.45m-0.6-0h1.45m-1.8 0.1h1.45m10.1 0.1h1.45m-4.3 0.3h1.45m-1.4 0.2h1.45m0.1 0.4h1.45m-0.8 0.1h1.45m-10.1 0.1h1.45m6.9-0h1.45m-11.7 0.1h1.45m1.1 0.2h1.45m4 0.1h1.45m0 0.1h1.45m-10.2 0.1h1.45m5.8 0.3h1.45m1.9-0h1.45m-11.1 0.1h1.45m-0.7-0h1.45m4.3-0h1.45m-0.2-0h1.45m-8.5 0.1h1.45m-0.3 0.1h1.45m3.3-0h1.45m-7.2 0.4h1.45m3.7-0h1.45m-0.4-0h1.45m-0.5-0h1.45m-8.8 0.1h1.45m5.7-0h1.45m-0.1-0h1.45m-8.8 0.2h1.45m3-0h1.45m0.3-0h1.45m-0.1 0.4h1.45m-12.1 0.2h1.45m9.2-0h1.45m-0.9-0h1.45m-12.2 0.2h1.45m-1.4 0.2h1.45m7.2 0.1h1.45m-0.8-0h1.45m-9.9 0.1h1.45m6 0.1h1.45m-2.4 0.2h1.45m1-0h1.45m-10.5 0.2h1.45m-2.9 0.1h1.45m8.8-0h1.45m-1.4-0h1.45m-9.9 0.1h1.45m-1.5 0.2h1.45m5.4-0h1.45m-0.2 0.2h1.45m-10.1 0.3h1.45m-1-0h1.45m6.4 0.5h1.45m-1.2 0.2h1.45m-12 0.1h1.45m0.9-0h1.45m-4.2 0.1h1.45m-0.7-0h1.45m0.5-0h1.45m6.1-0h1.45m1.1-0h1.45m-1.2 0.1h1.45m-4.6 0.1h1.45m-0.4-0h1.45m-1.7 0.1h1.45m-8.7 0.1h1.45m-4 0.2h1.45m0.9 0.1h1.45m8.8-0h1.45m-12 0.3h1.45m-3.9 0.1h1.45m-0.7 0.1h1.45m10.2 0.1h1.45m-12.7 0.2h1.45m9.2-0h1.45m-10.3 0.1h1.45m8.1 0.1h1.45m-4.2 0.1h1.45m1.1-0h1.45m-3 0.1h1.45m-11.4 0.1h1.45m-1.4 0.1h1.45m-0.3-0h1.45m-3.5 0.6h1.45m-1-0h1.45m-1.2 0.1h1.45m10.2 0.5h1.45m-4.1 0.1h1.45m-0.6 0.2h1.45m-0.8-0h1.45m-13 0.1h1.45m9.6-0h1.45m-10.6 0.1h1.45m9.5 0.1h1.45m-13.5 0.1h1.45m8.7-0h1.45m0.1 0.2h1.45m-13.9 0.1h1.45m1.5-0h1.45m6.5-0h1.45m-0.7-0h1.45m-0.8-0h1.45m-12.3 0.1h1.45m-0.1 0.1h1.45m-3 0.2h1.45m0.1 0.1h1.45m6.9-0h1.45m-13 0.2h1.45m-1-0h1.45m-0.9 0.2h1.45m0.2 0.2h1.45m-2.1 0.2h1.45m-0.4 0.1h1.45m-4.4 0.3h1.45m-1.2-0h1.45m10.1 0.1h1.45m-1.2 0.1h1.45m-3.1 0.1h1.45m-1.5 0.1h1.45m-10.4 0.2h1.45m-1.4 0.1h1.45m9.9-0h1.45m-10.4 0.1h1.45m4.7-0h1.45m-8 0.1h1.45m6.1-0h1.45m-0-0h1.45m-10.2 0.1h1.45m6.9 0.3h1.45m-11.1 0.1h1.45m-0.9-0h1.45m-0.6-0h1.45m7.4-0h1.45m-13.3 0.1h1.45m7.1-0h1.45m-7.6 0.2h1.45m6.8-0h1.45m-10.6 0.1h1.45m-1.7 0.1h1.45m0.9 0.1h1.45m4.4 0.1h1.45m-10.6 0.1h1.45m-1.6 0.1h1.45m9.1 0.3h1.45m-10.6 0.1h1.45m7.1-0h1.45m-1-0h1.45m-7.8 0.1h1.45m2-0h1.45m-4.5 0.3h1.45m-0.2-0h1.45m0.9-0h1.45m-5.1 0.1h1.45m5-0h1.45m-7 0.1h1.45m2.8-0h1.45m-10.4 0.1h1.45m6.5-0h1.45m-6.3 0.1h1.45m-0.7-0h1.45m4.4-0h1.45m-1.8 0.1h1.45m-9.8 0.1h1.45m4.7-0h1.45m0.1 0.1h1.45m-2.7 0.1h1.45m-0.3-0h1.45m-0.4-0h1.45m-5 0.1h1.45m-1.2-0h1.45m-1-0h1.45m-1-0h1.45m-6.7 0.2h1.45m1.8-0h1.45m-0.3-0h1.45m2.2-0h1.45m-9.8 0.1h1.45m-1.4-0h1.45m2.7 0.2h1.45m1 0.1h1.45m-0.4 0.3h1.45m-6.7 0.1h1.45m0.8-0h1.45m-2.5 0.2h1.45m-4 0.5h1.45m-0.5-0h1.45m3.6-0h1.45m-5.4 0.1h1.45m-2 0.1h1.45m-0.7-0h1.45m-0.9-0h1.45m-4.8 0.1h1.45m2.1 0.1h1.45m-0.3-0h1.45m-1.3-0h1.45m-5.2 0.4h1.45m-0.4 0.1h1.45m0.7-0h1.45m-4.4 0.2h1.45m1.9 0.2h1.45m-1.3 0.2h1.45m-0.8-0h1.45m-3.9 0.2h1.45m0.3-0h1.45m-4.8 0.3h1.45m1.3-0h1.45m-1.4-0h1.45m-4.4 0.1h1.45m0.6-0h1.45m-0.3 0.5h1.45m-4.9 0.1h1.45m0.5-0h1.45"/><path stroke="#3985b3" d="M116.8 341.1h1.45m13.6 1.3h1.45m-0.4 0.1h1.45m-20.5 0.3h1.45m-4.5 0.6h1.45m22.7 0.5h1.45m-2.1 0.1h1.45m2.2 1.9h1.45m-0.4 0.3h1.45m-1.5 0.5h1.45m-0.1 2.3h1.45m-1.1 0.1h1.45m-0.2 1.1h1.45m-1.5 0.4h1.45m-1.9 0.2h1.45m-0.7 0.4h1.45m-2 0.5h1.45m-1.4 1.3h1.45m-1 0.5h1.45m-2.2 1.7h1.45m-1.3 0.1h1.45m-0.7 1.3h1.45m-2.4 0.8h1.45m-1.3 1.4h1.45m-52.4 1.2h1.45m48.1 2h1.45m-1.4-0h1.45m-1.7 0.2h1.45m-1.7 0.1h1.45m-52.1 0.9h1.45m48.8-0h1.45m-2.8 1.5h1.45m-2.5 0.5h1.45m-2.6 1.2h1.45m-1.6 0.2h1.45m-1.3 0.1h1.45m-1.4-0h1.45m-51.2 2.4h1.45m46.7-0h1.45m-49.9 0.1h1.45m46.6-0h1.45m-49.2 0.5h1.45m45.2 0.7h1.45m-49.4 1.9h1.45m44.8 0.7h1.45m-4.8 4.3h1.45m-1 0.7h1.45m-45 6.4h1.45m-0.8 0.2h1.45m31.3 3.1h1.45m-31.5 2.7h1.45m21.9 2.1h1.45m-1.6 0.3h1.45m-22.6 0.4h1.45m18.9 0.1h1.45m-22.1 0.4h1.45m15.4 1.3h1.45m-15.9 0.4h1.45m-1.4 0.4h1.45m-1.3 0.2h1.45m0.3 1.5h1.45m-0.1 0.7h1.45m5.6 0.4h1.45m-0.4 0.3h1.45m-7.9 0.1h1.45m3.1 0.1h1.45m-3.9 0.4h1.45m-3 0.1h1.45m-0.9 0.2h1.45m2.6 0h1.45m-5.8 0.1h1.45m-1.2-0h1.45m-0.7 0.1h1.45m-2.7 0.8h1.45m1.1-0h1.45m-1.9 0.3h1.45m-2.1 0.1h1.45m-0.2-0h1.45m-2.8 0.2h1.45m-1.6 0.6h1.45m-2.4 0.5h1.45m0.8 0.1h1.45m-3 0.2h1.45m-0.8 0.2h1.45m-2.9 0.3h1.45m-1.3-0h1.45m-0.6 0.1h1.45m-1-0h1.45m-0.8-0h1.45m-0.6 0.6h1.45m-1.7 0.1h1.45m-4.2 0.1h1.45m-0.9 0.2h1.45m-1.7 0.4h1.45m-1.3 0.1h1.45m-0.5 0.1h1.45m1.7 0.1h1.45m-6.4 0.1h1.45m3.4 0.1h1.45m-3.5 0.1h1.45m-1.4 0.2h1.45m0.4 0.3h1.45m-4.6 0.1h1.45m0.7-0h1.45m-2.4 0.2h1.45m0.4 0.1h1.45m-6.8 0.1h1.45m3.9 0.1h1.45m-2.1 0.3h1.45m-4.8 0.2h1.45m-2.5 0.2h1.45m1.8 0.1h1.45m-0.5-0h1.45m-2.8 0.1h1.45m0.6 0.1h1.45m-4.2 0.2h1.45m-0.8 0.4h1.45m0.7-0h1.45m-3.4 0.1h1.45m-2.9 0.1h1.45m-1.4 0.2h1.45m-0.1 0.2h1.45m-0.2-0h1.45m-3.3 0.3h1.45m1.4 0.2h1.45m-2.4 0.1h1.45m-5.3 0.4h1.45m-1.4-0h1.45m0.1 0.1h1.45m-0 0.2h1.45m-2.8 0.2h1.45m-0.2 0.1h1.45m-0.8 0.3h1.45m-1.5 0.1h1.45m-3.9 0.1h1.45m-2.4 0.3h1.45m3-0h1.45m-5.5 0.2h1.45m-0.3-0h1.45m1.2 0.1h1.45m-6.2 0.4h1.45m3.4 0.1h1.45m-3.7 0.1h1.45m-1.8 0.2h1.45m0-0h1.45m-5.1 0.1h1.45m-0.8 0.1h1.45m-0.9 0.1h1.45m1.7 0.2h1.45m-3.8 0.2h1.45m-3.8 0.1h1.45m1.1 0.2h1.45m0.8 0.3h1.45m-2.5 0.1h1.45m-2.6 0.3h1.45m-0.3 0.2h1.45m-1.9 0.3h1.45m-1.9 0.1h1.45m-0.4 0.4h1.45"/></g>
<g fill="none" stroke-width="1" transform="translate(0 .5)"><path stroke="#3985b3" d="M118 341h11m-14 1h2m13 0h2m-20 1h2m18 0h3m-25 1h1m23 0h3m-29 1h1m27 0h2m-31 1h1m29 0h2m-34 1h1m32 0h2m-36 1h1m34 0h2m-2 1h2m-40 1h1m38 0h2m-42 1h1m39 0h2m-43 1h1m40 0h2m-1 1h1m-1 1h1m-1 1h1m-1 1h1m-2 1h2m-49 1h1m46 0h2m-50 1h1m47 0h1m-2 1h2m-2 1h1m-50 1h1m47 0h1m-2 1h2m-2 1h1m-50 1h1m47 0h1m-2 1h1m-49 1h1m47 0h1m-2 1h1m-2 1h1m-48 1h1m45 1h1m-2 1h1m-47 1h1m-1 1h1m44 0h1m-46 1h1m43 0h1m-3 3h1m-2 1h1m-2 1h1m-41 1h1m38 0h1m-40 1h1m37 0h1m-39 1h1m36 0h1m-2 1h1m-36 1h1m33 0h1m-35 1h1m32 0h1m-33 2h1m28 0h1m-29 1h1m26 0h1m-27 2h1m22 0h1m-23 1h1m19 0h1m-20 1h1m17 0h1m-18 1h1m14 0h2m-16 1h1m12 0h1m-13 1h2m8 0h2m-11 1h4m1 0h4m-7 1h6"/><path stroke="#3b8fb1" d="M117 342h13m-16 1h2m13 0h3m-21 1h2m18 0h3m-25 1h2m22 0h3m-28 1h1m25 0h3m-31 1h1m28 0h3m-33 1h1m30 0h3m-36 1h1m33 0h2m-37 1h1m34 0h3m-39 1h1m36 0h2m-40 1h1m37 0h2m-42 1h1m39 0h3m-44 1h1m40 0h3m-45 1h1m41 0h3m-46 1h1m42 0h3m-47 1h1m43 0h2m-2 1h2m-47 1h1m43 0h3m-48 1h1m44 0h2m-48 1h1m44 0h3m-3 1h2m-48 1h1m45 0h1m-48 1h1m45 0h2m-48 1h1m45 0h1m-48 1h1m45 0h1m-47 1h1m44 0h2m-48 1h1m45 0h1m-47 1h1m44 0h1m-1 1h1m-47 1h1m44 0h1m-46 1h1m43 0h1m-45 1h1m43 0h1m-2 1h1m-2 1h1m-44 1h1m42 0h1m-44 1h1m41 0h1m-43 1h1m40 0h1m-42 1h1m39 0h1m-41 1h1m38 0h1m-2 1h1m-38 1h1m35 0h1m-37 1h1m34 0h1m-36 1h1m33 0h1m-34 1h1m31 0h1m-33 1h1m30 0h1m-32 1h2m28 0h1m-30 1h1m26 0h1m-27 1h1m24 0h1m-26 1h2m21 0h2m-24 1h2m19 0h1m-21 1h2m16 0h1m-18 1h2m13 0h2m-16 1h3m9 0h2m-13 1h4m4 0h4m-10 1h8m-5 1h1"/><path stroke="#3e96ab" d="M116 343h13m-16 1h3m12 0h3m-20 1h2m18 0h2m-24 1h2m21 0h2m-27 1h2m24 0h2m-29 1h1m27 0h2m-32 1h2m29 0h2m-34 1h1m31 0h2m-35 1h1m33 0h2m-2 1h2m-39 1h1m36 0h2m-40 1h1m37 0h2m-41 1h1m38 0h2m-42 1h1m39 0h2m-43 1h1m40 0h2m-44 1h1m41 0h2m-2 1h1m-44 1h1m41 0h2m-45 1h1m42 0h1m-45 1h1m43 0h1m-2 1h2m-46 1h1m43 0h1m-2 1h2m-46 1h1m43 0h1m-2 1h1m-45 1h1m43 0h1m-2 1h1m-45 1h1m43 0h1m-45 1h1m42 0h1m-2 2h1m-44 1h1m41 0h1m-43 1h1m-1 1h1m40 0h1m-42 1h1m39 0h1m-41 1h1m38 0h1m-40 1h1m37 0h1m-39 1h1m-1 1h1m0 2h1m-1 1h1m31 0h1m-2 1h1m-31 1h1m28 0h1m-29 1h1m25 0h2m-28 1h1m24 0h1m-25 1h1m21 0h2m-23 1h1m19 0h1m-20 1h1m16 0h2m-18 1h2m12 0h2m-15 1h3m7 0h3m-11 1h9m-7 1h4"/><path stroke="#419da4" d="M116 344h12m-15 1h2m13 0h3m-20 1h2m17 0h2m-23 1h1m21 0h2m-26 1h1m24 0h2m-28 1h1m26 0h2m-31 1h1m28 0h2m-32 1h1m30 0h2m-35 1h1m32 0h2m-36 1h1m33 0h2m-37 1h1m34 0h2m-38 1h1m36 0h1m-39 1h1m37 0h1m-40 1h1m37 0h2m-41 1h1m38 0h2m-42 1h1m39 0h2m-2 1h1m-42 1h1m40 0h1m-43 1h1m40 0h2m-44 1h1m41 0h1m-43 1h1m41 0h1m-44 1h1m41 0h1m-1 1h1m-44 1h1m41 0h1m-43 1h1m41 0h1m-44 1h1m41 0h1m-43 1h1m41 0h1m-2 1h1m-43 1h1m41 0h1m-43 1h1m40 0h1m-42 1h1m39 0h1m-41 1h1m39 0h1m-41 1h1m38 0h1m-40 1h1m37 0h1m-39 1h1m36 0h1m-38 1h1m-1 1h1m35 0h1m-37 1h1m34 0h1m-36 1h1m33 0h1m-34 1h1m31 0h1m-33 1h1m29 0h1m-31 1h2m27 0h1m-29 1h1m26 0h1m-27 1h1m23 0h1m-25 1h2m21 0h1m-23 1h1m19 0h1m-20 1h2m15 0h2m-18 1h2m12 0h2m-14 1h2m7 0h3m-10 1h7"/><path stroke="#44a49d" d="M115 345h4m4 0h5m-15 1h2m12 0h3m-20 1h2m17 0h2m-23 1h2m20 0h2m-25 1h1m23 0h2m-28 1h1m26 0h1m-29 1h1m27 0h2m-32 1h1m30 0h1m-33 1h1m31 0h1m-34 1h1m32 0h1m-35 1h1m33 0h2m-37 1h1m34 0h2m-38 1h1m35 0h1m-38 1h1m36 0h1m-39 1h1m37 0h1m-40 1h1m38 0h1m-2 1h2m-41 1h1m38 0h1m-41 1h1m39 0h1m-1 1h1m-42 1h1m39 0h1m-42 1h1m40 0h1m-42 1h1m39 0h1m-1 1h1m-42 1h1m39 1h1m-42 1h1m39 0h1m-41 1h1m39 0h1m-41 1h1m38 0h1m-40 1h1m37 1h1m-2 1h1m-2 1h1m-37 2h1m34 0h1m-36 1h1m33 0h1m-35 1h1m32 0h1m-34 1h1m31 0h1m-32 1h1m29 0h1m-31 1h1m27 0h1m-28 1h1m25 0h1m-27 1h1m24 0h1m-25 1h1m21 0h1m-22 1h1m18 0h2m-21 1h2m15 0h2m-17 1h2m11 0h2m-14 1h3m6 0h3m-10 1h7"/><path stroke="#4bab92" d="M119 345h4m-8 1h3m6 0h3m-15 1h2m13 0h2m-19 1h1m17 0h2m-22 1h1m21 0h1m-25 1h2m22 0h2m-27 1h1m25 0h1m-29 1h2m26 0h2m-31 1h1m29 0h1m-32 1h1m30 0h1m-33 1h1m31 0h1m-34 1h1m32 0h1m-35 1h1m33 0h1m-36 1h1m34 0h1m-37 1h1m35 0h1m-38 1h1m36 0h1m-39 1h1m36 0h1m-1 1h1m-39 1h1m37 0h1m-40 1h1m38 0h1m-2 1h1m-40 1h1m38 0h1m-41 2h1m38 0h1m-40 1h1m38 0h1m-41 1h1m38 0h1m-40 1h1m-1 1h1m37 0h1m-2 1h1m-1 1h1m-39 1h1m36 0h1m-38 1h1m35 0h1m-37 1h1m-1 1h1m34 0h1m-2 1h1m-34 1h1m31 0h1m-33 1h1m30 0h1m-32 1h1m29 0h1m-30 1h1m27 0h1m-29 1h1m25 0h1m-26 1h1m23 0h1m-25 1h1m21 0h2m-23 1h1m19 0h1m-20 1h2m15 0h1m-17 1h2m11 0h2m-13 1h3m5 0h3m-9 1h6"/><path stroke="#55b081" d="M118 346h6m-10 1h3m7 0h3m-16 1h2m13 0h2m-19 1h2m17 0h2m-22 1h1m20 0h1m-24 1h1m22 0h2m-26 1h1m24 0h1m-28 1h1m26 0h2m-30 1h1m28 0h1m-31 1h1m29 0h1m-32 1h1m30 0h1m-1 1h1m-1 1h1m-35 1h1m33 0h1m-36 1h1m33 0h2m-37 1h1m34 0h1m-37 1h1m35 0h1m-1 1h1m-38 1h1m36 0h1m-39 1h1m36 0h1m-38 1h1m36 0h1m-39 1h1m37 0h1m-39 1h1m36 0h1m-1 1h1m-39 1h1m36 0h1m-38 1h1m36 0h1m-2 1h1m-38 1h1m-1 1h1m35 0h1m-37 1h1m34 0h1m-36 1h1m33 0h1m-35 1h1m33 0h1m-35 1h1m32 0h1m-34 1h1m31 0h1m-32 1h1m29 0h1m-31 1h1m28 0h1m-30 1h1m27 0h1m-28 1h1m24 0h2m-27 1h1m23 0h1m-24 1h1m20 0h2m-23 1h2m18 0h1m-20 1h2m15 0h2m-17 1h2m11 0h2m-14 1h3m5 0h3m-8 1h5"/><path stroke="#5eb571" d="M117 347h7m-11 1h3m8 0h2m-15 1h2m13 0h2m-19 1h1m17 0h2m-22 1h1m20 0h1m-23 1h1m22 0h1m-26 1h1m24 0h1m-27 1h1m25 0h2m-29 1h1m27 0h1m-1 1h1m-32 1h1m30 0h1m-33 1h1m31 0h1m-1 1h1m-34 1h1m31 0h1m-34 1h1m32 0h1m-35 1h1m33 0h1m-36 1h1m34 0h1m-36 1h1m34 0h1m-37 1h1m34 0h1m-1 1h1m-37 1h1m35 0h1m-2 1h1m-37 1h1m35 0h1m-37 1h1m34 0h1m-1 1h1m-37 1h1m34 0h1m-36 1h1m34 0h1m-36 1h1m33 0h1m-35 1h1m32 0h1m-34 1h1m-1 1h1m31 0h1m-33 1h1m30 0h1m-32 1h1m29 0h1m-30 1h1m27 0h1m-29 1h1m26 0h1m-28 1h1m24 0h2m-26 1h1m22 0h1m-24 1h2m20 0h1m-22 1h1m18 0h1m-19 1h2m14 0h2m-17 1h2m11 0h2m-13 1h3m4 0h4m-9 1h5"/><path stroke="#68bb61" d="M116 348h8m-11 1h2m9 0h2m-16 1h2m13 0h2m-19 1h2m17 0h1m-21 1h1m19 0h2m-24 1h1m22 0h1m-25 1h1m23 0h1m-26 1h1m24 0h2m-29 1h1m26 0h2m-30 1h1m28 0h1m-31 1h1m29 0h1m-32 1h1m30 0h1m-2 1h1m-32 1h1m30 0h1m-33 1h1m31 0h1m-34 1h1m32 0h1m-1 1h1m-35 1h1m32 0h1m-35 1h1m33 0h1m-35 1h1m33 0h1m-36 1h1m33 0h1m-35 1h1m33 0h1m-2 1h1m-35 1h1m33 0h1m-35 1h1m32 0h1m-34 1h1m32 0h1m-34 1h1m31 0h1m-33 1h1m30 0h1m-32 1h1m30 0h1m-32 1h1m29 0h1m-31 1h1m28 0h1m-30 1h1m27 0h1m-28 1h1m25 0h1m-27 1h1m23 0h2m-26 1h2m21 0h1m-23 1h1m20 0h1m-21 1h1m17 0h2m-20 1h2m14 0h2m-16 1h2m10 0h2m-13 1h4m3 0h4m-8 1h4"/><path stroke="#75c056" d="M115 349h9m-12 1h2m9 0h2m-15 1h2m13 0h2m-19 1h2m16 0h1m-21 1h2m18 0h2m-23 1h1m21 0h1m-24 1h1m22 0h1m-26 1h1m24 0h1m-27 1h1m25 0h2m-29 1h1m26 0h2m-30 1h1m27 0h2m-31 1h1m28 0h1m-1 1h1m-31 1h1m29 0h1m-32 1h1m30 0h1m-33 1h1m31 0h1m-2 1h1m-33 1h1m31 0h1m-1 1h1m-34 1h1m31 0h1m-33 1h1m31 0h1m-34 1h1m31 0h1m-33 1h1m31 0h1m-33 1h1m30 0h1m-32 1h1m30 0h1m-32 1h1m29 0h1m-31 1h1m28 0h1m-30 1h1m27 0h2m-30 1h1m26 0h2m-29 1h1m26 0h1m-28 1h1m24 0h2m-26 1h1m22 0h2m-25 1h1m21 0h1m-22 1h1m19 0h1m-21 1h2m16 0h2m-19 1h2m13 0h2m-16 1h3m9 0h2m-12 1h10m-7 1h3"/><path stroke="#84c450" d="M114 350h9m-11 1h2m9 0h2m-15 1h1m13 0h2m-18 1h1m16 0h1m-20 1h1m19 0h1m-22 1h1m20 0h1m-24 1h2m21 0h1m-25 1h1m23 0h1m-26 1h1m24 0h1m-27 1h1m25 0h1m-28 1h1m26 0h1m-29 1h1m27 0h1m-1 1h1m-30 1h1m28 0h1m-31 1h1m29 0h1m-32 1h1m29 0h1m-31 1h1m29 0h1m-32 1h1m30 0h1m-32 1h1m29 0h1m-1 1h1m-32 1h1m29 0h1m-31 1h1m29 0h1m-31 1h1m28 0h1m-30 1h1m27 0h2m-2 1h1m-29 1h1m26 0h1m-28 1h1m25 0h1m-27 1h1m24 0h1m-26 1h1m23 0h2m-26 1h2m21 0h1m-23 1h1m20 0h1m-22 1h2m17 0h2m-20 1h2m15 0h2m-18 1h2m12 0h2m-15 1h3m7 0h3m-11 1h9"/><path stroke="#93c949" d="M114 351h9m-12 1h2m9 0h2m-15 1h2m12 0h2m-18 1h2m15 0h2m-20 1h1m18 0h1m-21 1h1m19 0h1m-23 1h1m21 0h1m-24 1h1m22 0h1m-25 1h1m23 0h1m-26 1h1m24 0h1m-27 1h1m25 0h1m-28 1h1m26 0h1m-1 1h1m-29 1h1m26 0h2m-30 1h1m27 0h1m-1 1h1m-30 1h1m27 0h2m-2 1h1m-30 1h1m28 0h1m-30 1h1m27 0h1m-29 1h1m26 0h2m-2 1h1m-2 1h1m-28 1h1m25 0h2m-27 1h1m24 0h1m-26 1h1m23 0h1m-25 1h1m22 0h1m-24 1h2m19 0h2m-22 1h1m18 0h2m-21 1h2m16 0h2m-19 1h2m13 0h2m-16 1h2m10 0h3m-14 1h4m4 0h4m-10 1h7"/><path stroke="#a2ce43" d="M113 352h9m-11 1h2m8 0h2m-14 1h1m12 0h2m-17 1h2m14 0h2m-19 1h1m17 0h1m-21 1h1m19 0h1m-22 1h1m20 0h1m-23 1h1m21 0h1m-24 1h1m22 0h1m-25 1h1m23 0h1m-26 1h1m24 0h1m-27 1h1m25 0h1m-2 1h1m-27 1h1m25 0h1m-28 1h1m26 0h1m-28 1h1m25 0h1m-28 1h1m26 0h1m-28 1h1m25 0h2m-28 1h1m25 0h1m-2 1h1m-27 1h1m24 0h2m-27 1h1m24 0h1m-26 1h1m23 0h1m-24 1h1m21 0h2m-24 1h1m20 0h2m-23 1h1m19 0h2m-21 1h1m16 0h2m-19 1h2m14 0h2m-17 1h2m11 0h3m-15 1h3m6 0h4m-12 1h10m-7 1h4"/><path stroke="#b3d33d" d="M113 353h8m-11 1h3m7 0h2m-13 1h1m12 0h1m-16 1h1m14 0h2m-19 1h2m16 0h1m-20 1h1m18 0h1m-21 1h1m19 0h1m-22 1h1m20 0h1m-23 1h1m21 0h1m-24 1h1m22 0h1m-25 1h1m22 0h2m-26 1h1m23 0h1m-25 1h1m23 0h1m-26 1h1m23 0h2m-2 1h1m-26 1h1m23 0h2m-26 1h1m23 0h1m-2 1h2m-26 1h1m22 0h2m-25 1h1m22 0h1m-24 1h1m21 0h2m-24 1h2m19 0h2m-22 1h1m18 0h2m-21 1h1m16 0h3m-20 1h2m14 0h3m-18 1h2m11 0h3m-15 1h3m6 0h5m-13 1h11m-9 1h6"/><path stroke="#c5d838" d="M113 354h7m-10 1h2m7 0h3m-14 1h2m11 0h1m-15 1h1m13 0h2m-18 1h1m16 0h1m-19 1h1m17 0h1m-20 1h1m18 0h1m-21 1h1m19 0h1m-22 1h1m19 0h2m-23 1h1m20 0h1m-23 1h1m21 0h1m-1 1h1m-24 1h1m21 0h1m-24 1h1m22 0h1m-24 1h1m21 0h1m-2 1h2m-24 1h1m20 0h2m-23 1h1m20 0h1m-22 1h1m19 0h2m-22 1h1m17 0h3m-20 1h1m15 0h3m-19 1h1m14 0h3m-18 1h2m11 0h3m-15 1h3m6 0h5m-13 1h11m-9 1h6"/><path stroke="#d6dd33" d="M112 355h7m-9 1h2m6 0h3m-13 1h1m11 0h1m-15 1h2m12 0h2m-17 1h1m14 0h2m-18 1h1m16 0h1m-2 1h2m-2 1h1m-20 1h1m18 0h1m-21 1h1m19 0h1m-22 1h1m19 0h2m-2 1h1m-22 1h1m19 0h2m-22 1h1m19 0h1m-22 1h1m19 0h1m-21 1h1m18 0h1m-20 1h1m17 0h2m-20 1h1m16 0h2m-19 1h1m14 0h2m-16 1h1m12 0h2m-15 1h2m8 0h4m-13 1h4m1 0h6m-9 1h6"/><path stroke="#e8e22e" d="M112 356h6m-9 1h2m6 0h3m-12 1h1m10 0h1m-14 1h1m12 0h1m-15 1h1m13 0h2m-18 1h1m15 0h1m-18 1h1m16 0h1m-1 1h1m-1 1h1m-20 1h1m17 0h1m-20 1h1m18 0h1m-20 1h1m17 0h1m-2 1h2m-20 1h1m16 0h2m-19 1h1m15 0h2m-18 1h1m14 0h2m-17 1h1m13 0h2m-16 1h2m10 0h2m-13 1h2m7 0h3m-11 1h8m-5 1h1"/><path stroke="#eed62c" d="M111 357h6m-8 1h2m5 0h3m-12 1h1m10 0h1m-13 1h1m11 0h1m-15 1h1m13 0h1m-16 1h1m14 0h1m-17 1h1m15 0h1m-18 1h1m16 0h1m-2 1h1m-18 1h1m16 0h1m-2 1h1m-18 1h1m15 0h1m-17 1h1m14 0h1m-16 1h1m13 0h1m-15 1h1m12 0h1m-14 1h1m10 0h2m-12 1h1m7 0h2m-9 1h7"/><path stroke="#f0c62b" d="M111 358h5m-8 1h2m6 0h2m-11 1h1m9 0h1m-13 1h1m11 0h1m-14 1h1m12 0h1m-15 1h1m13 0h1m-16 1h1m14 0h1m-17 1h1m14 0h1m-16 1h1m14 0h1m-17 1h1m14 0h1m-16 1h1m13 0h1m-15 1h1m12 0h1m-14 1h1m11 0h1m-13 1h1m9 0h2m-12 1h2m6 0h2m-9 1h7"/><path stroke="#f2b52a" d="M110 359h6m-8 1h1m6 0h2m-11 1h1m9 0h1m-12 1h1m10 0h1m-13 1h1m11 0h1m-14 1h1m12 0h1m-15 1h1m12 0h1m-1 1h1m-15 1h1m12 0h1m-14 1h1m11 0h1m-2 1h1m-12 1h1m8 0h2m-11 1h1m7 0h1m-8 1h6"/><path stroke="#f19d29" d="M109 360h6m-8 1h2m5 0h2m-10 1h1m8 0h1m-11 1h1m9 0h1m-12 1h1m10 0h1m-13 1h1m10 0h1m-13 1h1m11 0h1m-13 1h1m10 0h1m-2 1h1m-12 1h1m9 0h1m-10 1h1m6 0h1m-8 1h7"/><path stroke="#ee8128" d="M109 361h5m-7 1h1m5 0h2m-9 1h1m7 0h1m-1 1h1m-11 1h1m8 0h1m-11 1h1m9 0h1m-11 1h1m8 0h1m-11 1h1m8 0h1m-10 1h2m5 0h2m-8 1h2m1 0h3"/><path stroke="#e96627" d="M108 362h5m-6 1h1m4 0h2m-9 1h2m5 0h2m-9 1h1m6 0h1m-9 1h1m7 0h1m-9 1h1m6 0h1m-9 1h2m4 0h2m-7 1h5m-4 1h1"/><path stroke="#e14d26" d="M108 363h4m-5 1h2m1 0h2m-6 1h1m4 0h1m-7 1h1m4 0h2m-7 1h1m3 0h2m-6 1h4"/><path stroke="#d93426" d="M109 364h1m-3 1h4m-5 1h4m-4 1h3"/></g>
<g fill="none" stroke-width="1.45"><path stroke="#2a277d" d="M306.7 355.1h1.45m79.9 3.1h1.45"/><path stroke="#2a277f" d="M411.3 330h1.45m-13.2 4.9h1.45m-7.9 9.3h1.45m-2.9 14.4h1.45m39.4 40h1.45m-4.6 7.6h1.45"/><path stroke="#2b2880" d="M393.8 356.5h1.45m-11.4 7.6h1.45m-1.7 2.1h1.45m-27.8 3.4h1.45m-50.1 4.8h1.45m127.6 0.6h1.45m-118.1 1.2h1.45m-4.8 2h1.45m-2.2 0.6h1.45m107.6 30.6h1.45m-6.3 13.9h1.45m-7.5 9.2h1.45m-10 9.4h1.45m-4.1 3.8h1.45m-4.8 4.7h1.45"/><path stroke="#2b2982" d="M405.5 336.5h1.45m-7.1 4.7h1.45m34.3 13.4h1.45m-40.9 4.2h1.45m-30.9 11.5h1.45m-17.8 4.2h1.45m-21.3 7.1h1.45m-2.4 1.3h1.45m-21.8 0.2h1.45m-7.2 2.8h1.45m-3.9 0.4h1.45m-1 1.3h1.45m-2.9 0.7h1.45m122.6 13.3h1.45m-2.7 10.2h1.45m-0.9 2.1h1.45"/><path stroke="#2b2a83" d="M403.3 340.7h1.45m-6.1 5.9h1.45m29.4 0.6h1.45m-0.4 3.7h1.45m-36.3 8.9h1.45m-6.7 7.1h1.45m44.1 2.7h1.45m-3.1 3.6h1.45m-82.4 0.9h1.45m-3.7 1.9h1.45m81.1 0.5h1.45m-117.8 8.7h1.45m4.2 1h1.45m1.2 0.3h1.45m-7.3 1.2h1.45m-6.4 1h1.45m-4.1 0.1h1.45m110.7 2.9h1.45m-125.9 1.8h1.45m-2 1.4h1.45m120.9 14.2h1.45m-7.1 17.2h1.45m-15 13.8h1.45"/><path stroke="#2c2e88" d="M405.1 341.3h1.45m-6.8 8.8h1.45m33.9 17.7h1.45m-63.6 6.1h1.45m-20.8 2.6h1.45m71 10h1.45m-101.3 0.7h1.45m-2.8 1.7h1.45m-11.6 0.4h1.45m6.6 0.2h1.45m-1.5 0.1h1.45m99.5 0.9h1.45m-112.2 1.2h1.45m-1.2 0.5h1.45m-2.3 0.8h1.45m107.9 0.3h1.45m-114.4 0.5h1.45m-2 1.7h1.45m-8.8 5.9h1.45m117.4 0.6h1.45m-2.9 15.5h1.45m-14.7 17.8h1.45m-18 14.9h1.45"/><path stroke="#2d368e" d="M410 339.2h1.45m-4.1 1h1.45m-0.8 1.3h1.45m9.4 0.6h1.45m-1.3 0h1.45m-18.6 6.9h1.45m-3.1 6.8h1.45m31.1 1.6h1.45m-2.8 0.1h1.45m-1.1-0h1.45m-40 11.2h1.45m-37.3 8.6h1.45m0 0.4h1.45m-4.2 0.6h1.45m-3.9 0.5h1.45m-15.6 6.4h1.45m-1.1-0h1.45m-6.3 1.8h1.45m86.9 1.2h1.45m-96.4 1h1.45m2.2 0.8h1.45m-14.8 2.7h1.45m-9.5 3.8h1.45m-1.7 0.8h1.45m-7.8 4.5h1.45m-0.7 0.9h1.45m-4.4 2.9h1.45m-1.6 0.8h1.45m115.5-0h1.45m-119.9 1.8h1.45m-1.6 1.6h1.45m112.3 9.7h1.45m-1.8 3h1.45m-1.7 0.8h1.45m-5.5 4.8h1.45m-0.5 0.1h1.45m-8.7 7.7h1.45m-8 6.2h1.45m-10.4 5.9h1.45m-1.9 2h1.45m-3.5 1.3h1.45m-82.1 0.5h1.45m77.4 0.4h1.45"/><path stroke="#2e3e95" d="M414.9 342.4h1.45m5.6 2.7h1.45m-1.7 1.3h1.45m-19.9 2.1h1.45m20.8 0.8h1.45m-24.9 2.4h1.45m-2.9 5.2h1.45m-25.7 17.1h1.45m-0.8 0.8h1.45m-11.8 2.1h1.45m-3.4 0.4h1.45m-9.3 0.7h1.45m2.9 0.2h1.45m-16.3 5h1.45m-7.2 2.4h1.45m-1.3 0.6h1.45m-6.6 2.5h1.45m84.2 0.7h1.45m-93.5 2.4h1.45m-8.6 2.8h1.45m-0.9 1.2h1.45m94.8 0.8h1.45m-105.6 1.9h1.45m-2.3 1.6h1.45m102.8 0.5h1.45m-112.9 1.5h1.45m-3.3 2.5h1.45m-0 2.2h1.45m-0.5 0h1.45m-3.4 1.7h1.45m-4.5 1.5h1.45m-4.5 5h1.45m-1.4 6.2h1.45m-1.8 6.1h1.45m109 0.6h1.45m-5.7 4.3h1.45m-4 1.5h1.45m-11.5 8.7h1.45m-94.8 0.3h1.45m1.4 1.9h1.45m-0.8 0.5h1.45m-1.8 3.2h1.45m1.1 0h1.45m74.3 4h1.45m-74.4 0.2h1.45"/><path stroke="#30479c" d="M416.7 344.2h1.45m-11.1 0.1h1.45m0.7 0.1h1.45m9.7 1.3h1.45m-18.5 2.1h1.45m20.9 3.9h1.45m1.7 4h1.45m1 6.4h1.45m-31.8 0.1h1.45m29.6 3.9h1.45m-1.6 1.2h1.45m-2 4.7h1.45m-52.8 3.2h1.45m48 0.1h1.45m-54.1 1.2h1.45m-5.9 0.2h1.45m-1 0.5h1.45m-2.8 0.1h1.45m-7 0.1h1.45m60.2 1.4h1.45m-77.7 3.4h1.45m-2.3 0.4h1.45m71.8 1.3h1.45m-0.8 0.3h1.45m-83.3 2.3h1.45m-3.7 2.5h1.45m-5.1 0.9h1.45m-7.1 4.6h1.45m84.4 0.6h1.45m-94.9 3.2h1.45m-0.9 0.1h1.45m-11.9 2.9h1.45m100.5 1.3h1.45m-0.9 0.6h1.45m-107 0.7h1.45m-1 2.3h1.45m-3.1 0.2h1.45m-3.5 4h1.45m-3.3 0.9h1.45m-1.3 0.1h1.45m-4.8 5.6h1.45m-2.4 3.2h1.45m-1.6 0.1h1.45m-1.7 3.3h1.45m106 1.9h1.45m-109 1.1h1.45m0 2.5h1.45m-2.2 0.8h1.45m-1.3 1.6h1.45m98.2 1.8h1.45m-99.4 8.5h1.45m-1 0.4h1.45m-1.5 0.6h1.45m-1.3 0.1h1.45m1 0.6h1.45m-1.9 2.3h1.45m75.9 4.1h1.45m-71.9 0.9h1.45m2.5 0.3h1.45m-2.2 1.1h1.45m3.7 0.3h1.45"/><path stroke="#3151a1" d="M416.1 344.2h1.45m-1.2 0h1.45m-4.8 0.2h1.45m-1.6 0.2h1.45m-4.3 0.6h1.45m7.1 0.9h1.45m-0.2 1h1.45m-16.8 3.2h1.45m-1.9 1.4h1.45m19.5 1h1.45m-23.6 1.6h1.45m23.1 1h1.45m-25.9 2.6h1.45m25.1 3.6h1.45m-1.2 0.9h1.45m-30.6 3.2h1.45m27.8 3.9h1.45m-39.5 3h1.45m36.9 0.3h1.45m-2.7 0.6h1.45m-54.9 3.6h1.45m50.3 1.4h1.45m-9 7.6h1.45m-0.7 0.9h1.45m-2.1 0.7h1.45m-88.2 5.7h1.45m-8 4.5h1.45m-1.6 0.8h1.45m-5.1 1.4h1.45m-1.1 0.7h1.45m-3.7 2.8h1.45m-4.4 1.6h1.45m94.4 0.4h1.45m-101.1 0.4h1.45m-0.5 0.8h1.45m97.8 1.1h1.45m-101.3 0.6h1.45m-4.6 2.4h1.45m-3.7 0.3h1.45m-2.5 0.7h1.45m-2.9 0.8h1.45m-2.5 2.5h1.45m104 1.3h1.45m-3.1 5.1h1.45m-105.4 4.2h1.45m-1.8 0.4h1.45m-4 0.3h1.45m-0 1.9h1.45m-1.8 0.2h1.45m0.7 3.9h1.45m92.4 0.4h1.45m-95.9 0.4h1.45m92.6 0.5h1.45m-2.7 1.8h1.45m-3.4 2.1h1.45m-91.6 0.5h1.45m-0.3 1.6h1.45m-0.4 1h1.45m-1.2 1h1.45m80.6 0.7h1.45m-84.3 0.1h1.45m1.5 1.8h1.45m-2.1 0.1h1.45m76.6 0.4h1.45m-73.7 2.5h1.45m-0.4 0h1.45m0.1 1.1h1.45m0.4 0h1.45m-5.5 0.8h1.45m1.5 0.1h1.45m7.3 2.9h1.45m0.6 0h1.45m-1.5 0.2h1.45m-4.4 0.1h1.45m7 0.1h1.45"/><path stroke="#335aa7" d="M410.9 345h1.45m1.6 1.9h1.45m-7.4 1.4h1.45m-1.6 0.4h1.45m-2.6 0.6h1.45m13.4 1.1h1.45m-17.2 1.5h1.45m19.7 4.1h1.45m-0.4 2h1.45m-27.8 7.1h1.45m27 1h1.45m-32.2 0.9h1.45m-7.2 5.9h1.45m33.1 0.1h1.45m-1.7 0.1h1.45m-38.1 0.5h1.45m35 0.7h1.45m-3.2 2.8h1.45m-59.4 3.9h1.45m52.2 1.5h1.45m-69.6 1.7h1.45m64.3 3.2h1.45m-77.8 2.2h1.45m-13.6 7.5h1.45m-1.5 1.8h1.45m-2.2 0.1h1.45m81.3 0.6h1.45m-87.3 0.1h1.45m85.1 0.2h1.45m-2.5 1h1.45m-91.1 3.4h1.45m-5.7 1.6h1.45m-3.6 1h1.45m-2.2 0.1h1.45m-5.6 4.5h1.45m1.9-0h1.45m-2.7 0.8h1.45m-1 0.1h1.45m95.1 0.3h1.45m-100 0.7h1.45m-2.8 0.3h1.45m0.1 0.5h1.45m-1 0.5h1.45m-3.5 1.4h1.45m-2 0.1h1.45m-0.1 0.4h1.45m-0.9 0.4h1.45m-2.4 0.7h1.45m-3.5 0.2h1.45m-2 0.1h1.45m98 0.2h1.45m0.1 0.7h1.45m-103.5 0.2h1.45m1 0.2h1.45m-1 0.7h1.45m-5 0.8h1.45m0.2 0.3h1.45m-1.4 1h1.45m95.7 1.2h1.45m-1.4 0.7h1.45m-2.7 1h1.45m-96.7 0.9h1.45m93.7 0.8h1.45m-98.1 1.1h1.45m92.4 1h1.45m-2.4 0.7h1.45m-0.7 0.3h1.45m-0.5 0h1.45m-98.3 1.1h1.45m0.4-0h1.45m-1.4 1.1h1.45m1 1.5h1.45m-1.7 0.4h1.45m-3.2 0.2h1.45m-2.5 0.6h1.45m-1 0.5h1.45m85.8 1h1.45m-85.6 0.1h1.45m82.1 0.6h1.45m-84.4 2.3h1.45m78.3 0.5h1.45m-77.3 1.6h1.45m72.2 0.4h1.45m-77.3 0.4h1.45m-0.7 0.2h1.45m1.1 0.5h1.45m-2.7 1.1h1.45m69 0.3h1.45m-70.2 0.3h1.45m65.3 1.5h1.45m-68.1 0.1h1.45m-0.6-0h1.45m-0.5 0.1h1.45m1 0.5h1.45m-5.6 0.2h1.45m63 0.2h1.45m-58 0.4h1.45m-3 0.2h1.45m-5 0.1h1.45m2.8 0.1h1.45m-2.6 0.1h1.45m53.2 1.3h1.45m-51.8 0.5h1.45m1.5 0.1h1.45m4.8 0.1h1.45m-6 0.5h1.45m40.4 1.2h1.45m-35 0.4h1.45m-2.5 0.3h1.45m0.1 0.1h1.45"/><path stroke="#3564ad" d="M414.3 347.1h1.45m-6.1 0.2h1.45m2.1 0.6h1.45m1.9 1h1.45m0.8 1h1.45m2.4 2.6h1.45m0.1 2.3h1.45m-20.6 1.9h1.45m20.1 1.3h1.45m-1.2 0.2h1.45m-23.5 0.4h1.45m21.3 5.1h1.45m0 1.6h1.45m-2.9 1.9h1.45m-0.8 0.9h1.45m-29.2 0.4h1.45m-2.6 2.1h1.45m26.7 1h1.45m-33.7 0.9h1.45m-3.9 1h1.45m-0.9 0.2h1.45m29.8 2.7h1.45m-0.2 0.4h1.45m-42.8 0.2h1.45m-0.6 0.2h1.45m-0.5 0.4h1.45m-4.3 0.4h1.45m-5.4 1.8h1.45m-1.8 0.1h1.45m43.1 0h1.45m-55.3 0.7h1.45m50.5 0h1.45m-53 0.6h1.45m48.1 2.4h1.45m-1.5 0.7h1.45m-2.6 0.1h1.45m-68 1.1h1.45m-4.5 1.8h1.45m67 0.6h1.45m-75.9 2.4h1.45m70.6 0.7h1.45m-75 0.7h1.45m-5.1 1.4h1.45m-1.7 0.2h1.45m-3.2 1.7h1.45m-0.4 0.9h1.45m-5 0.4h1.45m-4.5 3.3h1.45m79.6 1.2h1.45m-84.9 2.1h1.45m-4.7 0.6h1.45m84.7 0.1h1.45m-87.4 2h1.45m84.8 0.2h1.45m-2.7 2.2h1.45m-1 0.3h1.45m-91.8 0.9h1.45m-3.4 0.8h1.45m-0.2 0.3h1.45m89.6 1h1.45m-94.8 0.4h1.45m90.2 0h1.45m-91.2 0.1h1.45m-6.9 3.2h1.45m-1.6 0.9h1.45m-1.5 0.1h1.45m-1.6 0.5h1.45m92.5 0.6h1.45m-1.5 0.7h1.45m-97.5 2.2h1.45m-1 1.1h1.45m91 2.8h1.45m-94.4 0.8h1.45m89.5 1.4h1.45m-91.4 0.8h1.45m-1 0.2h1.45m86.7 1h1.45m-91.6 1h1.45m86.2 2.7h1.45m-89.6 1h1.45m85.2 0.9h1.45m-84.7 0.4h1.45m79.8 0h1.45m-81.8 1.1h1.45m79.8 0.3h1.45m-84.5 0.7h1.45m0.7 0.6h1.45m-1.1 0.2h1.45m75.6 0.6h1.45m-80.2 0.6h1.45m-0.7 0.2h1.45m0.7 0.4h1.45m2.5 1.3h1.45m-2.3 0.5h1.45m-4.3 0.6h1.45m-2.1 0.1h1.45m3.6 0.1h1.45m-2.1 0.2h1.45m-2.4 1.7h1.45m64.7 0.5h1.45m-63.7 0.2h1.45m-0.7 0.4h1.45m55.2 1.3h1.45m-53.8 1.3h1.45m3.5 0.2h1.45m42.6 0.1h1.45m-43.7 0.7h1.45m-4.1 0.3h1.45m3.6 0.9h1.45m-2.3 0.4h1.45m-2.1 0.1h1.45m36.2 0.2h1.45m-3.9 0.3h1.45m-1 0.1h1.45m-24.2 2h1.45"/><path stroke="#366fb0" d="M411 348.7h1.45m4.9 0.6h1.45m-0.9 0.2h1.45m-9.3 0.4h1.45m-4.2 3.2h1.45m15.3 3.9h1.45m0 1.4h1.45m-1 0.4h1.45m-1.8 0.5h1.45m-23.6 5.8h1.45m-2.5 2.1h1.45m-4.8 4.8h1.45m-7.4 2.5h1.45m30.6 1h1.45m-39.7 1.8h1.45m33.9 1.9h1.45m-42.8 0.2h1.45m-3.3 1.3h1.45m-0.7 0h1.45m-9 0.9h1.45m-4.9 0.7h1.45m-3.8 0.2h1.45m0.1 0.1h1.45m-0.6 0.1h1.45m0.4 0h1.45m-10 0.6h1.45m2 0.7h1.45m-7.4 0.5h1.45m56.3 0.5h1.45m-0.9 0.3h1.45m-2.8 1.4h1.45m-2.6 0.8h1.45m-70.2 1.7h1.45m-1.5 0.6h1.45m-1 0h1.45m66.6 0h1.45m-1.6 1.2h1.45m-74.2 1.2h1.45m-3.6 1.9h1.45m-5.9 2.8h1.45m-0.1 0.1h1.45m72.3 4.5h1.45m-85.3 3.2h1.45m81.7 0.9h1.45m-3 0.3h1.45m-84 1.7h1.45m-7.4 6.2h1.45m-3.8 0.3h1.45m0.4 0.1h1.45m-3 0.3h1.45m-0.3 0.4h1.45m-2.6 0.3h1.45m86.2 0h1.45m-88.3 1h1.45m-4.5 0.4h1.45m1 1h1.45m-4.1 1.2h1.45m87.9 0.3h1.45m-89.7 0.4h1.45m-2.1 0.2h1.45m-3.1 3.2h1.45m86.9 0.5h1.45m-88.1 0.5h1.45m-1.2 1.1h1.45m-2.2 0.5h1.45m84.7 0.1h1.45m-89.3 0.4h1.45m-1.5 1.2h1.45m0.5 2.8h1.45m-2.6 1.3h1.45m-2.6 0.5h1.45m81 0.1h1.45m-83.4 0.3h1.45m-0.3 0.3h1.45m-0.8 0.9h1.45m76.4 1h1.45m-78 0.3h1.45m-2.1 0.2h1.45m-1.3 0.3h1.45m-1.8 0.2h1.45m0.1 1.4h1.45m2.2 0.4h1.45m-4.9 0.2h1.45m69.9 0.9h1.45m-70.1 0.6h1.45m1.1 0.7h1.45m-0.7 0.4h1.45m60.7 0.5h1.45m-65 0.1h1.45m0.6 0.1h1.45m-0.7 0.3h1.45m-2.2 0.4h1.45m-0.1 0.2h1.45m56.5 0.7h1.45m-3.2 1h1.45m-1.8 0.2h1.45m-0.8 0h1.45m-0.6 0.4h1.45m-55.3 0.2h1.45m49.2 0.3h1.45m-1.5 0.2h1.45m-3.3 1.3h1.45m-46.2 0.7h1.45m2.8 0.9h1.45m-1.2 0.4h1.45m35.8 0h1.45m-36.1 0.3h1.45m-2.5 0.6h1.45m29.8 0.4h1.45m-31.6 0.6h1.45m2.1 0h1.45m26.3 0h1.45m-4.8 0.4h1.45m-26.8 0.5h1.45m20.8 0.2h1.45m-4.7 0.2h1.45m-14.5 0.1h1.45m10 0.5h1.45m-14.6 0.2h1.45m13.4 0h1.45m-7.7 0.7h1.45"/><path stroke="#387ab1" d="M416.6 351.1h1.45m3.6 3.9h1.45m-15.2 1.7h1.45m14.6 0.6h1.45m-0.8 2.6h1.45m-0.4 3.9h1.45m-1.4 3.9h1.45m-1.4 0.7h1.45m-24.6 1.5h1.45m21.9 1.9h1.45m-29.1 0.9h1.45m24.9 0.3h1.45m-30.5 1.4h1.45m26.8 0.2h1.45m-3.8 2.4h1.45m-37.2 2.8h1.45m-1.4 0.1h1.45m-4.1 0.6h1.45m-6.6 1h1.45m-13.7 2.8h1.45m-5.9 0.2h1.45m3.5 0.2h1.45m-8.8 0.6h1.45m1.2 0.5h1.45m-6.9 0.5h1.45m-0.1 0.3h1.45m-3.1 0.1h1.45m-3.5 0.7h1.45m59.1 0h1.45m-64.3 0.6h1.45m62.1 0.5h1.45m-64.6 0.3h1.45m-4.6 0.4h1.45m-5.8 2h1.45m-1.3 0h1.45m-0.1 0.1h1.45m-2.7 0.7h1.45m65.9 1.8h1.45m-72.6 0.7h1.45m-0 0.2h1.45m-4.9 2.2h1.45m70.5 0.7h1.45m-76.3 0.5h1.45m-1 0h1.45m-2.3 0.2h1.45m-0.9 0.4h1.45m72.5 0.2h1.45m-77 1.4h1.45m73.5 0.3h1.45m-76.8 0.3h1.45m73.8 0.7h1.45m-78.8 0.8h1.45m75.1 0.3h1.45m-79.5 2.1h1.45m-6.1 3.7h1.45m-0.7 0.5h1.45m-2 0.7h1.45m79.1 0.1h1.45m-82 0.1h1.45m-4.9 1.5h1.45m-0.6 0.5h1.45m-0.7 0.1h1.45m80.6 0.1h1.45m-85.6 0.2h1.45m82.8 0.2h1.45m-0.6 0.3h1.45m-1.4 0.1h1.45m-4.1 1.5h1.45m0.1 0.1h1.45m-86 0.5h1.45m-1.3-0h1.45m81.7 0.8h1.45m-1.2 1.9h1.45m-85.8 0.2h1.45m-2.6 1.7h1.45m82 0.4h1.45m-1.5 1.5h1.45m-84.3 0.3h1.45m78.8 1.8h1.45m-84.6 0.5h1.45m82.2 0.1h1.45m-1.5 0.5h1.45m-84.6 0.9h1.45m-1.8 2h1.45m0.2 0.7h1.45m-0.4 0.3h1.45m-1.7 0.8h1.45m75.9-0h1.45m-81.9 0.2h1.45m0.3 0.4h1.45m75 0.1h1.45m-76.8 0.6h1.45m-0.6 0.5h1.45m-4.1 0.8h1.45m73.7 0.4h1.45m-76.8 0.3h1.45m74.4-0h1.45m-2.4 0.3h1.45m-2.4 0.2h1.45m-73.4 1.1h1.45m2.9 1.2h1.45m-3.3 1.3h1.45m-1.7 0.9h1.45m2.5 0.3h1.45m-0.7 0.1h1.45m-2.9 0.2h1.45m0.7 0.8h1.45m57.2 0.8h1.45m-2.8 0.2h1.45m-1.3 0.6h1.45m-58.1 0.1h1.45m-2.8 0.1h1.45m-1.2 0.3h1.45m1.8 0.1h1.45m0.1 0.9h1.45m-1.2 0.3h1.45m-2.4 0.4h1.45m-1.9 0.4h1.45m-1-0h1.45m47.4 0.3h1.45m-3.5 1.2h1.45m-46.4 0.2h1.45m0.3 0.1h1.45m0.8 0.2h1.45m-0.3 0.2h1.45m36.1 0.1h1.45m-41 0.4h1.45m37.7 0.7h1.45m-38.4 0.1h1.45m-2.8 0.1h1.45m2.3 0.3h1.45m29.3 0.8h1.45m-27.6 0.3h1.45m-1.5 0.3h1.45m1 0.4h1.45m18.8 0.3h1.45m-12.3 0.7h1.45m-3.1 0.6h1.45m1.7 0.2h1.45"/><path stroke="#3985b3" d="M412.7 351.2h1.45m-0.5 0h1.45m-2.1 1.8h1.45m-3.6 0.9h1.45m-3.7 1h1.45m-1.3 1.7h1.45m-1.4 0.2h1.45m-2.7 3.7h1.45m15.9 0.8h1.45m-18 0.3h1.45m-3.1 0.9h1.45m-1.3 1.8h1.45m16.2 3h1.45m-21.4 1.6h1.45m-2.2 0.6h1.45m19.6 1h1.45m-3 0.7h1.45m0.2 0.2h1.45m-2.2 0.7h1.45m-3 2.1h1.45m-1 0.1h1.45m-28.4 1h1.45m-2.6 0.1h1.45m-1.5 0.1h1.45m-5.3 2.3h1.45m-0.9 0.2h1.45m-9.7 2.1h1.45m34.2 0.1h1.45m-36.3 0.7h1.45m32.5 0.2h1.45m-37.2 0.8h1.45m-8.9 1.2h1.45m-1.5 0.6h1.45m0.7 0.3h1.45m-10.3 0.1h1.45m45.8 0.1h1.45m-51.4 0.8h1.45m-3.4 0.2h1.45m49.8 0.2h1.45m-53.5 0.1h1.45m-0.7-0h1.45m-2.1 0.1h1.45m49 0.6h1.45m-55 0.1h1.45m0.2 0.4h1.45m51 0.9h1.45m-62.9 1h1.45m-1 0.2h1.45m-7.7 2.4h1.45m-3.1 2.2h1.45m-3.7 1.3h1.45m64.8 4h1.45m-72.6 1h1.45m68.1 0.6h1.45m-72.9 0.4h1.45m-3.2 2.7h1.45m71 0.3h1.45m-0.4 0.2h1.45m-76.9 0.2h1.45m-1.5 1.6h1.45m-2.4 1.4h1.45m73.7-0h1.45m-76.9 0.6h1.45m-2.8 0.2h1.45m-1.1 0.1h1.45m74.4 0.1h1.45m-1.7 1.2h1.45m-0.7 0.4h1.45m-2.3 0.9h1.45m-80.9 2.1h1.45m-1.3 1h1.45m-3 0.1h1.45m-1.1 0.3h1.45m-3.7 1.6h1.45m-0.3 0.6h1.45m-1.9 0.2h1.45m78.3 0.1h1.45m-80.7 1.4h1.45m-2.3 0.3h1.45m-2.2 1.3h1.45m-0.6 0.4h1.45m-4.2 0.2h1.45m78.8-0h1.45m-78.8 0.9h1.45m-3.4 1.1h1.45m-1.6 0.7h1.45m0.6 0.2h1.45m-3.4 0.2h1.45m76.1 0.6h1.45m-1.1 0.6h1.45m-80.3 1.1h1.45m76.3-0h1.45m-77.8 0.1h1.45m-2.1 1h1.45m0 0.4h1.45m-3.4 2.1h1.45m1.8 0.1h1.45m-2.7 0.6h1.45m-2.1 0.6h1.45m0.2 0.1h1.45m66.7 0.4h1.45m-0.3 0.3h1.45m-72.5 1.3h1.45m1.2 0.3h1.45m0.4 1.3h1.45m-1.9 1.1h1.45m-2.8 0.4h1.45m-0.4 0.1h1.45m-1.2 0.1h1.45m60.1-0h1.45m-62.2 0.1h1.45m-2.6 0.3h1.45m-0.7 0.5h1.45m1.6 0.3h1.45m-3.5 0.1h1.45m-0.1 0.5h1.45m-1.8 0.1h1.45m-0.8 0.4h1.45m-0.5 0.2h1.45m52.2-0h1.45m-0.4-0h1.45m-2.8 1.3h1.45m-54 0.8h1.45m0.5 0.2h1.45m-2.1 0.2h1.45m47.1-0h1.45m-2.6 0.1h1.45m-0.4 0.1h1.45m-47.6 0.8h1.45m44.4 0.8h1.45m-45.6 0.1h1.45m-0.5 0.3h1.45m-2.9 0.8h1.45m0.3 0.5h1.45m35.9 0.4h1.45m-34.1 1.3h1.45m0.8 0.2h1.45m26.3-0h1.45m-31.2 0.1h1.45m27.6 0.5h1.45m-2.6 0.4h1.45m-3.1 0.2h1.45m-26.7 0.2h1.45m-1.6 0.1h1.45m1.7 0.3h1.45m18.8 0.2h1.45m-18.7 0.3h1.45m15.7-0h1.45m-15.5 1h1.45m5-0h1.45m1.2 0.1h1.45m-0.5-0h1.45"/><path stroke="#3b8fb1" d="M414.9 353.1h1.45m-5 0.2h1.45m2.5 0.1h1.45m-4.3 0.1h1.45m-0.7 0.1h1.45m-3.9 2.3h1.45m-2.9 1.3h1.45m-0.5 0.9h1.45m-2.4 0.7h1.45m11 0.2h1.45m-0.4 2.3h1.45m-0.1 1.4h1.45m-17.4 1.7h1.45m-1.8 0.3h1.45m14.6-0h1.45m-2 0.5h1.45m-18.1 0.4h1.45m-0.9 0h1.45m14.6 0.6h1.45m-1.1 1.8h1.45m-20.1 2.9h1.45m-2.4 0.8h1.45m-2 0.2h1.45m-3.2 0.7h1.45m18.8 0.6h1.45m-24.6 0.9h1.45m-1.1 0.1h1.45m21.3 0.4h1.45m-25 0.2h1.45m-1.8 0.9h1.45m21.2 0.3h1.45m-28.3 1.3h1.45m-1.9 0.7h1.45m-2.7 0.5h1.45m23.9 1h1.45m-1.3 0.5h1.45m-32.6 0.3h1.45m-2.6 0.9h1.45m-5.1 1.2h1.45m33.1 0.3h1.45m-41.2 1.8h1.45m-6.5 0.6h1.45m-2.5 0.1h1.45m-4.5 0.5h1.45m3.8-0h1.45m-8.5 1.1h1.45m-6.9 0.6h1.45m-1.5 0.5h1.45m50.1 0.6h1.45m-55.1 0.3h1.45m52.2 0.3h1.45m-61.5 1.1h1.45m57.5-0h1.45m-0.9 0.1h1.45m-1.3 0.9h1.45m-66.7 2.2h1.45m-3.3 0.9h1.45m-1.1 0.1h1.45m62.9 2h1.45m-69.1 1.3h1.45m-3.5 2.1h1.45m-4.7 2.2h1.45m-2.4 1.9h1.45m-4.3 2.3h1.45m-0.9 0.3h1.45m-0.6 0.3h1.45m70.8-0h1.45m-75.1 0.5h1.45m71.1 0.9h1.45m-75.4 0.4h1.45m-1.3 0.8h1.45m72.8 0.6h1.45m-78.1 0.2h1.45m-0.2 0.1h1.45m-3 2.2h1.45m-0.2 0.7h1.45m71.8 0.3h1.45m-1 0.4h1.45m-3.2 0.9h1.45m-77.2 1.7h1.45m-1 0.2h1.45m-0.4 0.3h1.45m-4 0.7h1.45m74.8 0.2h1.45m-77.2 0.2h1.45m-2 0.3h1.45m-0.8-0h1.45m-1.2 0.8h1.45m-1 1.3h1.45m-3.7 0.3h1.45m73.4 1.4h1.45m-1.6 0.2h1.45m-74.6 0.2h1.45m-2.1 1.8h1.45m-2.3 1.5h1.45m-0.1 0.9h1.45m68 0.4h1.45m-72.1 0.7h1.45m-0.6 0.2h1.45m-1.8 0.7h1.45m0.6 0.7h1.45m-1.1 0.3h1.45m65.1 0.1h1.45m-69 0.6h1.45m0.2 0.5h1.45m-0.7 0.9h1.45m-2.9 0.7h1.45m61.2 0.6h1.45m-63.8 0.4h1.45m58.8 0.5h1.45m-62.1 0.6h1.45m56.8 2.1h1.45m-1.7 0.5h1.45m-4.4 1.8h1.45m-51.7 0.4h1.45m3.1 0.6h1.45m-3 0.2h1.45m42.2 1.2h1.45m-41.1 1.1h1.45m37.4 0.2h1.45m-2.5 0.4h1.45m-39.1 0.3h1.45m0.4 0.1h1.45m-2.6 0.3h1.45m1.8 0.5h1.45m-4 0.3h1.45m30.3-0h1.45m-0.9 0.4h1.45m-29.4 0.1h1.45m24.6-0h1.45m-29.3 0.7h1.45m26.3-0h1.45m-2.6 0.2h1.45m-24.5 0.1h1.45m-3.1 0.6h1.45m22 0.2h1.45m-4.5 0.2h1.45m-14.6 0.3h1.45m8.2 0.1h1.45m-10.3 0.3h1.45m-4.5 0.1h1.45m7.8 0.1h1.45m-8.1 0.1h1.45m0.7-0h1.45m1.5 0.4h1.45m3 0.2h1.45m-1.9 0.1h1.45"/><path stroke="#3e96ab" d="M413.9 355.1h1.45m-1.7 0.3h1.45m1.7 0.1h1.45m-2.2 0.2h1.45m-5.3 0.8h1.45m-0.6-0h1.45m3.7 0.1h1.45m0.7 1.6h1.45m-1.7 0.1h1.45m-1.3-0h1.45m-10.4 1.1h1.45m8.6 1h1.45m-13.5 0.4h1.45m10 0.2h1.45m-0.3 0.2h1.45m-13.8 0.4h1.45m10.6 0.7h1.45m-0.4 0.4h1.45m-15.4 0.5h1.45m-0.6 0.1h1.45m11.9 1.7h1.45m-2 0.2h1.45m-0.8 1.7h1.45m-15.7 0.1h1.45m-3.7 2h1.45m14.6 1h1.45m-2.1 0.6h1.45m-0.4 0.4h1.45m-20.7 1.8h1.45m15.7 1.1h1.45m-23.5 1.2h1.45m18.9 0.1h1.45m-0.9 0.3h1.45m-1.3 0.3h1.45m-2.7 0.3h1.45m-22.8 0.4h1.45m-1.4 0.2h1.45m19 0.6h1.45m-23.6 0.5h1.45m21.3-0h1.45m-27.4 0.2h1.45m-0.8 0.3h1.45m-2.6 1.3h1.45m-4 1h1.45m-1.6 0.4h1.45m23.1 1.1h1.45m-0.3 0.7h1.45m-2.8 0.6h1.45m-34.1 0.1h1.45m0.2 0.3h1.45m30-0h1.45m-35.2 0.8h1.45m-4 0.1h1.45m33.6 0.3h1.45m-39.8 0.1h1.45m-6.9 1.1h1.45m0 0.3h1.45m-5.1 0.5h1.45m-0.8-0h1.45m42.1-0h1.45m-45.5 0.2h1.45m-3.8 0.1h1.45m1.6 0.1h1.45m42-0h1.45m-1.5 0.4h1.45m-49.3 0.3h1.45m-5.8 0.5h1.45m-1.1 0.2h1.45m-6.7 2h1.45m54.7 0.4h1.45m-2.2 0.3h1.45m-62.1 0.6h1.45m-2.2 1.3h1.45m59.5-0h1.45m-65.1 1.8h1.45m-1.6 0.3h1.45m61.2 1h1.45m-67.1 1.4h1.45m-0.4-0h1.45m-1.8 0.1h1.45m-2.7 0.7h1.45m-2.9 0.5h1.45m65.2 0.1h1.45m-2.7 0.8h1.45m-67.6 0.1h1.45m65.1 1.1h1.45m-1.4-0h1.45m-69.4 0.9h1.45m-2.6 1.2h1.45m66.4 1.1h1.45m-2.5 1h1.45m-1.5 1.1h1.45m-2.4 2.4h1.45m-72.4 1.5h1.45m-0.3 0.1h1.45m-2.7 0.3h1.45m69.5-0h1.45m-1.2-0h1.45m-73.9 2.3h1.45m69.1 0.4h1.45m-1.7 0.1h1.45m-71.1 1.1h1.45m-2.7 0.9h1.45m-2.4 0.1h1.45m-0.3 0.6h1.45m69.3 0.4h1.45m-2.7 0.6h1.45m-74.2 1h1.45m71.5 0.2h1.45m-73.8 0.1h1.45m70.8 0.1h1.45m-72.8 0.5h1.45m-2 0.2h1.45m68.7 0.1h1.45m-72.1 0.9h1.45m0.4 0.1h1.45m-2.6 0.2h1.45m-0.7-0h1.45m66.5 1.1h1.45m-70.1 0.6h1.45m66.1-0h1.45m-69 0.2h1.45m-1.5 0.4h1.45m-1.4 0.1h1.45m-2.7 0.2h1.45m67.6 0.8h1.45m-3.5 0.9h1.45m-1.7 0.3h1.45m-68.1 0.7h1.45m0.1 0.2h1.45m-1-0h1.45m-2.8 0.8h1.45m-1.3 0.6h1.45m63.8 0.1h1.45m-66.2 0.1h1.45m-1.2 0.6h1.45m62.1 1.4h1.45m-65.9 0.9h1.45m0.3-0h1.45m-1.6 0.8h1.45m-0.2 0.5h1.45m-0.5 0.1h1.45m54.7-0h1.45m-0.9 0.2h1.45m-58.6 0.3h1.45m-3.3 0.1h1.45m1.6 0.2h1.45m-2.7 0.5h1.45m-2 0.2h1.45m0.7 0.6h1.45m50.7 0.3h1.45m-54.1 1.4h1.45m-0.5 0.1h1.45m-0.1 0.2h1.45m47.5 0.5h1.45m-49.6 0.8h1.45m44.9 0.3h1.45m-47.6 0.1h1.45m43.2 0.2h1.45m-46 0.4h1.45m41.1 0.7h1.45m-1.7 0.5h1.45m-42.6 0.4h1.45m0.8-0h1.45m37.6 0.3h1.45m-2.2 0.2h1.45m-0.2 0.2h1.45m-41 0.4h1.45m0.8 1.2h1.45m30.4 0.1h1.45m-29.9 0.6h1.45m-1.1 1h1.45m25 0.1h1.45m-2.4 0.1h1.45m-24.3 0.2h1.45m20.1 0.4h1.45m0.1-0h1.45m-22.1 0.3h1.45m-2.2 0.1h1.45m-5 0.1h1.45m3.4-0h1.45m15.3 0.3h1.45m-11.6 0.3h1.45m7.6-0h1.45m-8.9 0.3h1.45m3 0.2h1.45m-1.2 0.4h1.45m-4.5 0.8h1.45"/><path stroke="#419da4" d="M413.7 356.3h1.45m2 0.7h1.45m-3.8 0.4h1.45m0.9 0h1.45m-0.6 0h1.45m-1.5 0.1h1.45m-3.3 0.4h1.45m0.8 0.4h1.45m-2.6 0.1h1.45m-6.7 1h1.45m6.2 0h1.45m-1.7 0.1h1.45m-2.3 0.5h1.45m-9.1 0.8h1.45m7.1 0h1.45m-9.8 1h1.45m-1.3 2.1h1.45m9 0.5h1.45m-13.4 2.2h1.45m-1.4 0.8h1.45m11 0.3h1.45m-2.1 1.6h1.45m-15.4 0.5h1.45m11.4 0.3h1.45m-15.5 0.7h1.45m-1.3 0.6h1.45m-3.4 1.6h1.45m13.1 0.2h1.45m-16.8 1.5h1.45m11.6 1.6h1.45m-19 0.6h1.45m15.6 0.4h1.45m-0.7-0h1.45m-3.3 0.8h1.45m-20.6 0.2h1.45m-4.4 1.2h1.45m-3.8 0.9h1.45m-0.5 0.3h1.45m-4.3 0.5h1.45m-6.7 2.1h1.45m0.4 0.3h1.45m24.6 0.4h1.45m-30.5 0.1h1.45m-1.2 0.4h1.45m27.9 0.1h1.45m-34.6 0.9h1.45m-0.4 0.1h1.45m-1.1-0h1.45m-6.9 0.8h1.45m0.3-0h1.45m-1 0.2h1.45m-1.9 0.1h1.45m-6.9 0.6h1.45m-3.4 0.1h1.45m0.9-0h1.45m-6.9 0.7h1.45m-0.4 0.2h1.45m-3.3 0.4h1.45m0.4 0.1h1.45m-6.6 0.4h1.45m46.3 0.2h1.45m-51.6 0.1h1.45m1-0h1.45m45.4-0h1.45m-52 0.3h1.45m-0.3 0.1h1.45m-5.4 0.7h1.45m51.6 0.4h1.45m-59.4 1.1h1.45m-4.9 2.2h1.45m57.8 1h1.45m-2.2 1.1h1.45m-62.2 0.4h1.45m59 1.2h1.45m-65.3 1.6h1.45m-2.1 0.6h1.45m61.7 3.3h1.45m-66.6 0.2h1.45m62 1.5h1.45m-67.2 0.7h1.45m64.3 0.4h1.45m-67.3 0.9h1.45m65.1 0.1h1.45m-68.4 0.1h1.45m-1.4 0.4h1.45m-0.9 0.1h1.45m-3.1 0.2h1.45m65.1 0.6h1.45m-1.9 0.4h1.45m-68 0.5h1.45m-2.5 0.1h1.45m-1.5 0.1h1.45m65.8 1.2h1.45m-68.6 0.4h1.45m-2 0.1h1.45m-2.1 0.9h1.45m66 0.5h1.45m-70 1.4h1.45m66.2 0.5h1.45m-69.6 0.6h1.45m-0.4 0.3h1.45m-2.9 0.6h1.45m-0.5 0.5h1.45m65 0.1h1.45m-67.9 0.1h1.45m-1 0.4h1.45m-1.6 0.6h1.45m-3.4 0.5h1.45m67 0.4h1.45m-69 1.6h1.45m-1.9 0.8h1.45m64.4-0h1.45m-68.8 0.4h1.45m64.2 0.2h1.45m-1 0.1h1.45m-1.7 0.1h1.45m-65.6 0.1h1.45m-0.7 0.7h1.45m-1.5 0.2h1.45m60.9 0.7h1.45m-64 0.1h1.45m62.3-0h1.45m-3.2 0.1h1.45m-0.9 0.3h1.45m-1.9 0.1h1.45m-63.9 0.5h1.45m-0.8-0h1.45m-3.7 0.2h1.45m-1.9 0.1h1.45m62.8 0.5h1.45m-2.3 0.3h1.45m-63.9 0.3h1.45m0.3 0.4h1.45m58.1 0.4h1.45m-1.9 0.9h1.45m-60.5 0.4h1.45m56.7 1h1.45m-1.5 0.4h1.45m-59.7 1.3h1.45m0.5 0.7h1.45m-0.6 0.2h1.45m-1.2 0.2h1.45m-4 0.8h1.45m50.7 0.5h1.45m-52.5 0.6h1.45m-1.5 0.1h1.45m48.8-0h1.45m-48.1 1.4h1.45m-2.1 0.7h1.45m-0 0.2h1.45m41.5 1h1.45m-45.2 0.1h1.45m0.9 0.6h1.45m38 0.2h1.45m-1.5 0.3h1.45m-2.2 0.5h1.45m-3.1 0.1h1.45m-37.9 0.1h1.45m0.3-0h1.45m-2.5 0.2h1.45m34.5 0.9h1.45m-2.1 0.1h1.45m-35.4 0.1h1.45m33.1 0.1h1.45m-3.3 0.1h1.45m-33 0.9h1.45m-1.4 0.6h1.45m27.5 0.1h1.45m-1.9 0.3h1.45m-25.4 0.5h1.45m-0.8 0.6h1.45m14.7 0.4h1.45m-17.6 0.3h1.45m17.4 0.1h1.45m-4.1 0.1h1.45m2.3-0h1.45m-11.1 0.4h1.45m-6.7 0.1h1.45m1-0h1.45m4.7 0.2h1.45m-2.2 0.2h1.45m-9.4 0.1h1.45m8.9-0h1.45"/><path stroke="#44a49d" d="M416.3 358.1h1.45m-4.2 1.6h1.45m1.2 0.2h1.45m-0.9 0.2h1.45m-3.7 0.6h1.45m-0.8 0.1h1.45m-1.4 0.1h1.45m-1.5 0.6h1.45m1.3-0h1.45m-2.4 0.3h1.45m-4.5 0.1h1.45m2.6 0.1h1.45m-7.8 0.3h1.45m4.9 0.5h1.45m-7.8 0.6h1.45m7.1 1.6h1.45m-9.6 0.3h1.45m7.5 0.5h1.45m-10.5 1.6h1.45m-3.2 0.8h1.45m-0.5 0.3h1.45m-2.4 1h1.45m8.2 0.8h1.45m-11.3 0.4h1.45m8.3-0h1.45m-3.5 1.4h1.45m-10.7 0.2h1.45m-1.7 0.5h1.45m-4.2 0.8h1.45m10.1 0.3h1.45m-1.1-0h1.45m-14.1 0.2h1.45m-1.2 0.8h1.45m-1.5 0.6h1.45m8.1 0.4h1.45m-12 0.1h1.45m8.6 0.2h1.45m0.6 0.2h1.45m-2.6 0.3h1.45m-2.3 0.6h1.45m-0.4 0.2h1.45m-15.9 0.5h1.45m11.9 0.1h1.45m-18.2 0.8h1.45m-2.4 0.5h1.45m-2.9 0.1h1.45m16.4-0h1.45m-0.9 0.5h1.45m-20.6 0.1h1.45m-2 0.5h1.45m-0.9 0.2h1.45m16.3 0.1h1.45m-22.2 0.6h1.45m-3.5 0.7h1.45m-0.8 0.1h1.45m-1.7 0.1h1.45m-0.6 0.4h1.45m20-0h1.45m-26.4 0.2h1.45m-2.3 1.5h1.45m22.7 0.2h1.45m-0.9 0.1h1.45m-2 0.1h1.45m-28.4 0.4h1.45m-3.3 0.3h1.45m-4.8 0.5h1.45m29.6 0.2h1.45m-31.5 0.2h1.45m0.8 0.3h1.45m26.5 0.3h1.45m-35.3 0.8h1.45m0.3-0h1.45m-9.4 1.1h1.45m-6.3 0.4h1.45m2.5 0.1h1.45m-1 0.1h1.45m-7.3 0.3h1.45m43.4 1.5h1.45m-59.1 1.8h1.45m-0.1 0.5h1.45m-2.8 0.3h1.45m-2 0.3h1.45m54.7 0.4h1.45m-58.3 0.3h1.45m-5.4 2.5h1.45m57.4 0.9h1.45m-62.4 0.7h1.45m-3.4 2.2h1.45m60.7 0.2h1.45m-63.8 0.3h1.45m-1.8 1.4h1.45m60 0.1h1.45m-0.8-0h1.45m-1-0h1.45m-64.1 0.1h1.45m61.7 0.1h1.45m-2.9 0.2h1.45m-63.2 0.1h1.45m-1.9 1.6h1.45m61 0.3h1.45m-2.8 0.3h1.45m-1.5 0.5h1.45m-1.5 0.7h1.45m-62.7 0.6h1.45m59.5 0.4h1.45m-1.8 1.2h1.45m-2 1h1.45m-1.4 0.5h1.45m-64.2 0.5h1.45m60.5-0h1.45m-65.7 0.4h1.45m0.1 0.3h1.45m61.1 0.1h1.45m-65.1 0.4h1.45m62.6-0h1.45m-2.5 1.8h1.45m-65.5 0.5h1.45m-0.4 0.6h1.45m60.3 0.1h1.45m-63.9 1h1.45m-2.5 0.9h1.45m60.6 0.6h1.45m-1.7 0.3h1.45m-1.1 0.3h1.45m-63 0.3h1.45m60.8-0h1.45m-2.4 0.1h1.45m-1.9 0.3h1.45m-1.9 0.7h1.45m-64.1 0.3h1.45m0.3 0.4h1.45m-2.3 0.1h1.45m61.3-0h1.45m-3.2 0.4h1.45m-2.1 0.8h1.45m-1.5 0.3h1.45m-60.9 0.5h1.45m58.2 0.7h1.45m-2.8 0.3h1.45m-1.8 0.2h1.45m-0.8 0.5h1.45m-61.6 0.7h1.45m56.6 0.3h1.45m-1.4 0.3h1.45m-57.2 0.3h1.45m-2.6 0.2h1.45m-1.2-0h1.45m54 0.5h1.45m-0.8 1.1h1.45m-57.4 0.5h1.45m52.9 0.4h1.45m0.3-0h1.45m-57.7 0.5h1.45m52.1-0h1.45m-54.6 1.3h1.45m49 0.3h1.45m-0.3 0.2h1.45m-0.4 0.3h1.45m-4.9 1.4h1.45m-48.1 0.1h1.45m45.1-0h1.45m-48.9 0.5h1.45m-1.6 0.1h1.45m45 0.2h1.45m0.1 0.1h1.45m-2.7 0.1h1.45m-2.6 0.3h1.45m-0.7 0.2h1.45m-2.3 0.8h1.45m-3.3 0.1h1.45m-42.6 0.1h1.45m38.8 0.6h1.45m-39.5 0.1h1.45m-2 0.2h1.45m-2.5 0.1h1.45m38.2 0.1h1.45m-40.8 1.3h1.45m-1 0.1h1.45m35.1 0.9h1.45m-5.9 1.4h1.45m-0.7 0.5h1.45m-27.5 0.2h1.45m-1.5 0.5h1.45m21.6 0.2h1.45m-25.7 0.2h1.45m23.4 0.2h1.45m-23.9 0.1h1.45m21-0h1.45m-3.9 0.1h1.45m-0.7 0.1h1.45m-19.3 0.1h1.45m12.7 0.6h1.45m-13.2 0.2h1.45m1.1 0.1h1.45m-2.7 1h1.45m0.1-0h1.45"/><path stroke="#4bab92" d="M416.1 362.1h1.45m-2.9 0.2h1.45m0.1 0.6h1.45m-2.5 0.4h1.45m1 0.1h1.45m-3.4 0.1h1.45m0.9 0.3h1.45m-2.4 0.8h1.45m-3.2 0.8h1.45m0.4 0.6h1.45m-2.3 0.4h1.45m-2.2 0.5h1.45m0.3 0.4h1.45m-5.1 0.2h1.45m1.5-0h1.45m-5.5 0.3h1.45m1.4 0.2h1.45m-4.7 0.4h1.45m-0.3-0h1.45m-3 0.4h1.45m5.6 0.1h1.45m-4.1 0.7h1.45m-6.2 0.2h1.45m4.9 0h1.45m-3.4 0.1h1.45m-5.1 0.1h1.45m-0.5 0.1h1.45m-1.3-0h1.45m0.7 0.6h1.45m-1.7 0.1h1.45m0.9-0h1.45m-6.7 0.4h1.45m1.4-0h1.45m-4.9 1.6h1.45m-4.4 1.1h1.45m0.8 0.4h1.45m-4.7 0.1h1.45m1.3 0.2h1.45m-1.7 0.1h1.45m-2.6 0.1h1.45m0.3 0.3h1.45m-4 0.2h1.45m2.9 0.1h1.45m-8.5 0.3h1.45m2.5 0.3h1.45m0.7-0h1.45m-6.2 0.4h1.45m-2.3 0.1h1.45m3.2 0.2h1.45m-5.2 0.3h1.45m2.9-0h1.45m-3.7 1h1.45m1.6-0h1.45m-1.2-0h1.45m-3 0.2h1.45m-1.9 0.2h1.45m-10.3 0.2h1.45m8.3-0h1.45m-11.8 0.3h1.45m-3.9 0.2h1.45m-3.5 0.8h1.45m13-0h1.45m-15.5 0.3h1.45m12.8 0.2h1.45m-16.5 0.5h1.45m11.9-0h1.45m-18.4 0.3h1.45m16.1-0h1.45m-1.7 0.2h1.45m0.1 0.5h1.45m-4.2 0.8h1.45m-0.1-0h1.45m-21.2 0.4h1.45m-3.5 1h1.45m-3.1 0.8h1.45m-2.7 0.3h1.45m21.7 0.2h1.45m-25.5 0.2h1.45m22.7 0.2h1.45m-1.6 0.1h1.45m-23.5 0.1h1.45m-5.6 0.5h1.45m-1.2 0.1h1.45m-4.5 0.7h1.45m-1.9 0.2h1.45m-1.1-0h1.45m-1.9 0.2h1.45m-4.1 0.4h1.45m30.5-0h1.45m-2.3 0.1h1.45m-33.6 0.1h1.45m-0.6-0h1.45m-1.1 0.1h1.45m-0.3 0.2h1.45m-2 0.1h1.45m28.2 0.1h1.45m-37.6 0.4h1.45m1 0.2h1.45m-0.7-0h1.45m-3.4 0.2h1.45m-0.6-0h1.45m-1.5 0.3h1.45m-12.2 0.3h1.45m-0.7 0.1h1.45m-1.6 0.2h1.45m-5.8 1.4h1.45m-4.1 0.2h1.45m-6.8 2.8h1.45m52.7 2.1h1.45m-59.8 0.5h1.45m56.6-0h1.45m-1.8 0.7h1.45m-2.5 2h1.45m-1.2 0.2h1.45m-61.5 0.1h1.45m58.3 0.4h1.45m-2.9 2.4h1.45m-2.8 2.1h1.45m0 0.4h1.45m-1.2-0h1.45m-3.6 2.8h1.45m-60.6 0.2h1.45m57 0.3h1.45m-60.9 0.3h1.45m-1.6 0.5h1.45m-2.5 1.6h1.45m-1.8 0.8h1.45m-0.8-0h1.45m58.2 0.3h1.45m-61.1 1.1h1.45m-1.2 0.3h1.45m-3.9 0.8h1.45m59.8-0h1.45m-62.7 0.1h1.45m-1.8 0.7h1.45m58.4-0h1.45m-60.2 0.1h1.45m56.9 0.2h1.45m-61.5 0.6h1.45m-0.2-0h1.45m-1.7 0.1h1.45m-1.8 0.2h1.45m-1.7 0.1h1.45m-0.8 0.8h1.45m-2.3 0.1h1.45m56.9 0.5h1.45m-58.6 0.4h1.45m-2.9 0.2h1.45m-1.3 0.3h1.45m-1.5 0.4h1.45m-1.6 0.1h1.45m-1 0.3h1.45m-3.2 0.3h1.45m-0.6-0h1.45m56.5 0.6h1.45m-1.7 0.6h1.45m-1.4 0.2h1.45m-57.4 1h1.45m53.6 0.8h1.45m-58.7 0.6h1.45m53.3 0.9h1.45m-54.9 0.2h1.45m51.3 1.8h1.45m-54.5 0.4h1.45m51.2 0.2h1.45m-52.2 0.9h1.45m45.8 0.6h1.45m-1 0.1h1.45m-50 0.4h1.45m0.6 0.4h1.45m-2.5 0.3h1.45m-0.8 1.8h1.45m-0.9-0h1.45m-0.7-0h1.45m-1.9 0.2h1.45m40.8-0h1.45m-44.9 0.3h1.45m-1.4 0.1h1.45m41.6 0.6h1.45m-2.2 0.5h1.45m-3 0.4h1.45m-1.2 0.6h1.45m-38.9 0.2h1.45m-0.9 0.3h1.45m34.1 0.2h1.45m-37.4 0.3h1.45m35 0.1h1.45m-37.5 0.4h1.45m-0.9 0.1h1.45m-0.5-0h1.45m-1.7 0.2h1.45m-0.4 0.4h1.45m28.6 0.8h1.45m-2.3 0.7h1.45m-1 0.1h1.45m-3.3 0.1h1.45m-29.4 0.3h1.45m26.8 0.3h1.45m-2.8 0.5h1.45m-26 0.4h1.45m1.7 0.1h1.45m-3.6 0.2h1.45m-1.3 0.2h1.45m0.3-0h1.45m-4.3 0.1h1.45m1.8 0.2h1.45m-2.7 0.1h1.45m14-0h1.45m-1.5-0h1.45m-14.8 0.1h1.45m15.6-0h1.45m-0.4-0h1.45m-2.9 0.2h1.45m-4.1 0.3h1.45m2.7-0h1.45m-21 0.1h1.45m1.2 0.5h1.45m-0.5-0h1.45m-0.6-0h1.45m3.8-0h1.45m-1.7 0.1h1.45m2.8 0.2h1.45m1.2 0.1h1.45m-13 0.2h1.45m0.4 0.1h1.45m2.1 0.1h1.45m-1.5 0.8h1.45"/><path stroke="#55b081" d="M406 377.8h1.45m-3.1 0.4h1.45m3.3 0.2h1.45m-2.4 0.1h1.45m-0.9 0.1h1.45m-4 0.2h1.45m1 0.3h1.45m-7.5 0.2h1.45m2.3 0h1.45m-1.5 0.1h1.45m-6.5 0.1h1.45m2.6-0h1.45m-6.6 0.1h1.45m6.2-0h1.45m-8.3 0.1h1.45m1.4-0h1.45m-3.3 0.1h1.45m-0-0h1.45m-7 0.7h1.45m8.9 0.1h1.45m-2.5 0.1h1.45m-2.7 0.2h1.45m-1 0.4h1.45m-0 0.1h1.45m-14.5 0.2h1.45m-0 0.1h1.45m10.5 0.1h1.45m-14.3 0.1h1.45m-1.7 0.1h1.45m0.7-0h1.45m8.8-0h1.45m-1 0.4h1.45m-1.3 0.6h1.45m-16.4 0.2h1.45m-5.7 1.5h1.45m-2.6 0.4h1.45m17.3 0.4h1.45m-20.5 0.5h1.45m-0.7-0h1.45m17.5 0.5h1.45m-22.7 0.1h1.45m-5.5 0.9h1.45m0.4-0h1.45m-3.4 0.2h1.45m-4 0.4h1.45m-1.7 0.1h1.45m-0.6 0.2h1.45m-2.9 1h1.45m-2.7 0.5h1.45m-4.5 0.2h1.45m-1.9 0.1h1.45m1.1 0.1h1.45m-1.9 0.1h1.45m-5.4 0.4h1.45m-6.8 0.6h1.45m3.2 0.1h1.45m-9.9 0.1h1.45m-0.7 0.1h1.45m40 1.2h1.45m-52.9 0.8h1.45m47.7 2.6h1.45m-2.5 1.2h1.45m-57.1 0.6h1.45m54.2-0h1.45m-57.3 0.3h1.45m54.5 1.1h1.45m-1.6 1.1h1.45m-59.2 0.6h1.45m56.1 0.9h1.45m-60.1 0.2h1.45m56.6-0h1.45m-59.1 0.5h1.45m56.1-0h1.45m-1.6 1.1h1.45m-60.1 0.5h1.45m-1.1 0.4h1.45m55.2-0h1.45m-58.6 0.3h1.45m56.3 0.3h1.45m-58.8 1.2h1.45m-2.7 1h1.45m55.6 1h1.45m-0.8 0.1h1.45m-58.4 0.6h1.45m54.3 0.4h1.45m-58 0.1h1.45m53.6 0.3h1.45m-56.2 0.1h1.45m-2.5 1.8h1.45m-1.8 0.1h1.45m-1.1 0.1h1.45m52.3 1h1.45m-1 0.3h1.45m-55.4 0.2h1.45m-3.5 0.4h1.45m0.3 1.1h1.45m-3.6 0.3h1.45m53.3 0.2h1.45m-55 0.1h1.45m52.7 0.7h1.45m-2.8 0.7h1.45m-0.2 0.5h1.45m-2 0.1h1.45m-3.3 0.8h1.45m-0.4 0.8h1.45m-56.6 0.1h1.45m-0.8-0h1.45m-1.2 1h1.45m51.1 0.1h1.45m-52.9 0.3h1.45m48.6 0.9h1.45m-1.8 0.4h1.45m-52.9 0.3h1.45m52.1 0.1h1.45m-4 0.2h1.45m-52.1 1.1h1.45m-1.2 0.5h1.45m47.8-0h1.45m-50.6 1.2h1.45m-0.9 0.1h1.45m-0.8 0.2h1.45m-3.4 0.8h1.45m-0.5 0.4h1.45m44.8-0h1.45m-1.6 0.5h1.45m-46.9 0.3h1.45m-1.4 0.1h1.45m0.4 0.5h1.45m-1.4 0.1h1.45m41.6-0h1.45m-45.2 0.2h1.45m-1.7 0.2h1.45m-2.2 0.1h1.45m-0.2 0.2h1.45m-2.2 0.2h1.45m-2.1 0.2h1.45m-0.3 0.4h1.45m-0.9-0h1.45m39 0.2h1.45m-1.1-0h1.45m-41.2 0.1h1.45m39.5-0h1.45m-2.7 1.2h1.45m-2 0.1h1.45m-43.2 0.2h1.45m-0.9 0.1h1.45m-0.6-0h1.45m-1-0h1.45m38.4-0h1.45m-1.7 0.6h1.45m-2.5 0.9h1.45m-1 0.3h1.45m-4.5 0.3h1.45m-0.9 0.3h1.45m-34 0.4h1.45m29.7-0h1.45m-33.3 0.1h1.45m-2.4 0.2h1.45m0.8 0.2h1.45m29.6 0.1h1.45m-34.8 0.1h1.45m-0.3-0h1.45m-1.3 0.1h1.45m-0.3 0.4h1.45m26.6 0.3h1.45m-31 0.1h1.45m-1 0.2h1.45m26.2 0.4h1.45m-27.6 0.1h1.45m-2.1 0.6h1.45m-0.5 0.1h1.45m26 0.1h1.45m-28.4 0.2h1.45m0.4-0h1.45m-2.4 0.8h1.45m-0.6-0h1.45m18.8 0.7h1.45m-2 0.2h1.45m-2.8 0.1h1.45m-18.3 0.1h1.45m17.2-0h1.45m-16.8 0.1h1.45m2.3-0h1.45m-6.6 0.1h1.45m7.8-0h1.45m4.5-0h1.45m-12.3 0.3h1.45m0.8-0h1.45m6.6-0h1.45m-17.5 0.1h1.45m0.9-0h1.45m1.9-0h1.45m0.8 0.1h1.45m-1.3-0h1.45m-1.2 0.1h1.45m3.8 0.1h1.45m-5.5 0.1h1.45m-0.5-0h1.45m-8 0.5h1.45m5-0h1.45m-7.3 0.1h1.45m-1-0h1.45m1.4-0h1.45m1.4-0h1.45m-0.9-0h1.45m-2.6 0.2h1.45m1 0.2h1.45"/><path stroke="#5eb571" d="M402.8 380h1.45m0.4 0.2h1.45m-5.3 1h1.45m3.1 0h1.45m-6.1 0.1h1.45m1.8 0h1.45m-2.6 0.1h1.45m0.9 0.2h1.45m-6.4 0.1h1.45m-3.2 0.2h1.45m3.5 0.1h1.45m-1.3 0.2h1.45m-2 0.2h1.45m-7.7 0.1h1.45m4.5 0.2h1.45m-0-0h1.45m-6.5 0.2h1.45m3.4 1.1h1.45m-13.1 0.6h1.45m-2.9 0.2h1.45m0.8 0.1h1.45m-5.9 0.1h1.45m1.1 0.7h1.45m12.1 0.1h1.45m-19.6 0.4h1.45m-0.6 0.7h1.45m-1.1-0h1.45m-3 0.4h1.45m16.8 0.2h1.45m-21.1 0.3h1.45m18-0h1.45m-22.3 0.4h1.45m19.3-0h1.45m-1.9 0.2h1.45m-21.1 0.6h1.45m18.5 0.3h1.45m-24.9 0.6h1.45m22 0.5h1.45m-29.3 0.8h1.45m-3.9 0.3h1.45m27.5 0.8h1.45m-43.6 0.1h1.45m4.1-0h1.45m-6.9 0.1h1.45m1.6 0.1h1.45m-0.7-0h1.45m-8.1 0.1h1.45m6.7-0h1.45m-1 0.1h1.45m3.9-0h1.45m30.9-0h1.45m-4 1.4h1.45m-0.4 0.6h1.45m-2.1 1.2h1.45m-2.7 2.4h1.45m-1.8 0.3h1.45m-1.7 0.5h1.45m-0.8-0h1.45m-1.2 0.1h1.45m-1.4 0.6h1.45m-2.9 1.9h1.45m-3.5 1.4h1.45m-55.8 1.3h1.45m53.3-0h1.45m-56.8 0.1h1.45m-1.3 1.5h1.45m52.2 1.3h1.45m-1.7 0.2h1.45m-1.8 0.3h1.45m-1.9 0.5h1.45m-1.5 0.4h1.45m-53.4 0.8h1.45m-2 0.4h1.45m49.1 0.4h1.45m-51.6 0.6h1.45m-1.3-0h1.45m48.6 1h1.45m-53.4 0.3h1.45m-1.5 0.5h1.45m-1.4 0.4h1.45m49.3 0.3h1.45m-51.9 0.1h1.45m-1.9 0.5h1.45m48.8 0.2h1.45m0 0.2h1.45m-2.2 0.8h1.45m-1.6 0.6h1.45m-53.7 0.4h1.45m-1.6 0.2h1.45m-0.6 0.2h1.45m-0.9-0h1.45m-2.5 0.3h1.45m-1.3-0h1.45m0.5 0.2h1.45m-3.5 0.4h1.45m48.9-0h1.45m-52.1 0.5h1.45m48.2-0h1.45m-0.8-0h1.45m-50.5 0.1h1.45m-1.8 0.1h1.45m-0.9 0.2h1.45m-2.4 1.4h1.45m44.6 0.2h1.45m0.3 0.2h1.45m-50.2 0.1h1.45m46 0.1h1.45m0.4 0.2h1.45m-2.7 0.4h1.45m-47.7 0.1h1.45m-3.5 0.2h1.45m-1.3-0h1.45m45.8-0h1.45m-48.8 1.1h1.45m-2.3 0.2h1.45m0.7 0.1h1.45m-0.7-0h1.45m43.8-0h1.45m-3 0.4h1.45m-45.1 0.2h1.45m-3.6 0.2h1.45m0.5-0h1.45m-3.7 0.3h1.45m-0.6-0h1.45m42.8 0.1h1.45m-0.7 0.3h1.45m-1.7 0.2h1.45m-0.8 0.2h1.45m-2 0.1h1.45m-0.6-0h1.45m-46.2 0.4h1.45m41.8-0h1.45m-0.1 0.2h1.45m-3.3 0.7h1.45m-45.5 0.1h1.45m40.7 0.1h1.45m-42.5 0.1h1.45m40.5 0.1h1.45m-2 0.2h1.45m-42.7 0.5h1.45m39.9-0h1.45m-1.3 0.4h1.45m-42.6 0.3h1.45m38.5 0.1h1.45m-41.7 0.2h1.45m-0.7 0.2h1.45m-2 0.1h1.45m-0-0h1.45m-2.3 0.5h1.45m36.9 0.1h1.45m-40.3 0.1h1.45m0.4 0.3h1.45m-1.3-0h1.45m36.6 0.2h1.45m-38.6 0.4h1.45m33.8-0h1.45m-37.6 0.1h1.45m34.1 0.3h1.45m-1.5 0.2h1.45m-37.8 0.5h1.45m-0.5 0.6h1.45m-1 0.2h1.45m32.3-0h1.45m-36.2 0.1h1.45m30.6-0h1.45m-1.6 0.1h1.45m1 0.1h1.45m-3.7 0.2h1.45m-30.9 0.2h1.45m28.1 0.1h1.45m-0.1 0.1h1.45m-33.2 0.6h1.45m29.4 0.1h1.45m-0.5-0h1.45m-2.3 0.1h1.45m-32.3 0.3h1.45m26.3-0h1.45m-26.5 0.3h1.45m23.7 0.3h1.45m-1.3 0.1h1.45m-28.5 0.5h1.45m26.3 0.4h1.45m-27.7 0.2h1.45m1.1 0.2h1.45m-1.9 0.4h1.45m17.2 0.9h1.45m-1.1 0.1h1.45m-20.8 0.3h1.45m-1 0.1h1.45m0.8-0h1.45m13.5 0.1h1.45m-20 0.1h1.45m14.3-0h1.45m-15.3 0.1h1.45m-0.6 0.1h1.45m-2 0.1h1.45m0.9-0h1.45m11.1 0.1h1.45m-16.8 0.2h1.45m12.1-0h1.45m-8.7 0.2h1.45m7.2-0h1.45m-10.5 0.2h1.45m-3.4 0.1h1.45m1.9-0h1.45m1.9 0.2h1.45m-9.1 0.1h1.45m11.4 0.1h1.45m-5.3 0.2h1.45m0.8 0.1h1.45"/><path stroke="#68bb61" d="M400.6 382.8h1.45m-0.2 0.2h1.45m-3.8 0.1h1.45m0.9 0.1h1.45m-3.3 0.2h1.45m-2 0.3h1.45m-7.3 0.4h1.45m5 0.1h1.45m-1.6 0.1h1.45m-6.2 0.1h1.45m5.3-0h1.45m-9.1 0.3h1.45m6.1 0.3h1.45m-10.1 0.2h1.45m-2.6 0.2h1.45m8-0h1.45m0.1 0.1h1.45m-2.6 0.1h1.45m-10.6 0.1h1.45m-0.9-0h1.45m-2.7 0.1h1.45m9.7 0.1h1.45m-2.3 0.3h1.45m-15 0.2h1.45m11.3 0.1h1.45m-1.1 0.1h1.45m-12.9 0.3h1.45m-5.4 0.2h1.45m1.3 0.2h1.45m-3.8 0.4h1.45m-1.1 0.1h1.45m-1.5 0.4h1.45m-1.4 0.2h1.45m13.8-0h1.45m-16.7 0.1h1.45m13.7 0.8h1.45m-19.6 0.4h1.45m17.2 0.1h1.45m-1.3-0h1.45m-2.5 0.1h1.45m-0.3-0h1.45m-24 0.2h1.45m20.1-0h1.45m-22.6 0.1h1.45m-2.6 0.1h1.45m-1.6 0.1h1.45m1-0h1.45m-1.7 0.1h1.45m-3.4 0.2h1.45m21.5 0.1h1.45m-1.3 0.4h1.45m-2.9 0.7h1.45m-27.5 0.2h1.45m0.1 0.2h1.45m-4.9 0.2h1.45m0.7 0.2h1.45m-0.7-0h1.45m-5.4 0.1h1.45m-0.9-0h1.45m0.8-0h1.45m-6 0.4h1.45m29.5-0h1.45m-45.1 0.2h1.45m8.8-0h1.45m30.9 0.1h1.45m-31.4 0.2h1.45m-0.8-0h1.45m-15.9 0.2h1.45m42.8 0.5h1.45m-1.6 0.3h1.45m-3.2 1.7h1.45m0.5 0.1h1.45m-54.1 1h1.45m50.1 0.4h1.45m-54.3 0.3h1.45m49.7 0.7h1.45m-1.3 0.4h1.45m-53.8 0.9h1.45m50.7-0h1.45m-53.8 0.1h1.45m50.7 2.6h1.45m-54.9 0.1h1.45m50.3 0.1h1.45m-54.5 1.2h1.45m50.6-0h1.45m-0.2 0.1h1.45m-2 0.4h1.45m-1.5 0.4h1.45m-54.2 1.1h1.45m-1.1 0.7h1.45m47.9 2.8h1.45m-1-0h1.45m-3.2 0.4h1.45m-0.8 0.5h1.45m-50.4 0.8h1.45m46.5 0.2h1.45m-2 0.4h1.45m-0.6-0h1.45m-1.4-0h1.45m-1.5 0.4h1.45m-3.1 0.8h1.45m-46.8 0.5h1.45m-2.9 0.6h1.45m45.8 0.1h1.45m-48.6 0.2h1.45m-2.2 0.1h1.45m0.5 0.1h1.45m43.5 0.6h1.45m-48.5 0.1h1.45m45.6-0h1.45m-48.2 0.1h1.45m44.7 0.2h1.45m-1.5 0.2h1.45m-1.9 0.4h1.45m-46 0.2h1.45m-1.4-0h1.45m-0.6 0.1h1.45m-1.4 0.4h1.45m40.9-0h1.45m0.4 0.7h1.45m-46.9 0.2h1.45m40.6 0.2h1.45m1-0h1.45m-3.5 0.4h1.45m-43 0.3h1.45m39.2 0.1h1.45m-44 1.5h1.45m39.3-0h1.45m-1.4-0h1.45m-40.8 0.1h1.45m-2.8 0.3h1.45m38.5 0.3h1.45m0.4-0h1.45m-40.9 0.1h1.45m39.1 0.1h1.45m-0.8-0h1.45m-3 0.1h1.45m-41.7 0.2h1.45m-4.4 0.3h1.45m41.2-0h1.45m-41.3 0.1h1.45m-2.9 0.3h1.45m38.8 0.1h1.45m0.2-0h1.45m-41.9 0.3h1.45m37 0.2h1.45m-41.5 0.1h1.45m39.1 0.1h1.45m-40.5 0.2h1.45m35.8 0.2h1.45m-1.5-0h1.45m-40.5 0.1h1.45m-1.5-0h1.45m0.2 0.2h1.45m36.9 0.2h1.45m-38.5 0.4h1.45m-4.4 0.1h1.45m-2.3 0.2h1.45m1.6 0.5h1.45m-0.7 0.1h1.45m34.3-0h1.45m-38.1 0.1h1.45m33.9 1h1.45m-36.2 0.4h1.45m33-0h1.45m-3 0.1h1.45m-35.5 0.3h1.45m-0 0.1h1.45m-1.9 0.4h1.45m32.8-0h1.45m-35.5 0.1h1.45m30 0.1h1.45m0.7-0h1.45m-2.2 0.5h1.45m-33.6 0.3h1.45m-2.4 0.3h1.45m-0.4-0h1.45m30.8-0h1.45m-33.9 0.1h1.45m28.4 0.1h1.45m-0.5-0h1.45m-1.3 0.1h1.45m-33.3 0.1h1.45m31.5 0.3h1.45m-2.7 0.3h1.45m-2.1 0.1h1.45m-31.6 0.1h1.45m29.2 0.2h1.45m-1.3-0h1.45m-31.2 0.3h1.45m-2.6 0.1h1.45m-0.6-0h1.45m26.3-0h1.45m-0.7-0h1.45m-30.9 0.1h1.45m26.8-0h1.45m0.1 0.2h1.45m-2.4 0.1h1.45m-31.3 0.1h1.45m27 0.3h1.45m-27.3 0.2h1.45m-1.7 0.1h1.45m24.2-0h1.45m-0-0h1.45m-1.9 0.3h1.45m-25.7 0.3h1.45m21.4 0.1h1.45m-0.3 0.4h1.45m-26.2 0.1h1.45m20.9-0h1.45m-0.8-0h1.45m-25.5 0.3h1.45m22.9 0.1h1.45m-25.3 0.2h1.45m18.9 0.2h1.45m1.2 0.6h1.45m-2.1 0.1h1.45m-22.8 0.1h1.45m19.5-0h1.45m-23.4 0.1h1.45m-1-0h1.45m-1-0h1.45m17.7-0h1.45m-17.6 0.1h1.45m13.5 0.4h1.45m-18.8 0.1h1.45m0.1-0h1.45m1 0.3h1.45m12.2-0h1.45m-14.9 0.1h1.45m8.7 0.1h1.45m-6.3 0.1h1.45m-5.4 0.1h1.45m0.2-0h1.45m-1.4 0.2h1.45m4.7-0h1.45m2.4 0.1h1.45m-10.9 0.1h1.45m6.8-0h1.45m-16.4 0.1h1.45m-0.1-0h1.45m11-0h1.45m-9.6 0.1h1.45m1.1-0h1.45m-1.2 0.1h1.45m2.6-0h1.45m-9.3 0.3h1.45m-0.8-0h1.45m5.6-0h1.45m-3.8 0.5h1.45m-2.1 0.1h1.45m2.2-0h1.45m-11.3 0.1h1.45m4.6 0.2h1.45m-1.4-0h1.45m-2.3 0.2h1.45m0.5-0h1.45"/><path stroke="#75c056" d="M399.3 385.1h1.45m-5.4 0.2h1.45m-2.4 0.1h1.45m2.8 0.1h1.45m-4.6 0.3h1.45m4.2 0.1h1.45m-9.9 0.1h1.45m2.5-0h1.45m0.5-0h1.45m-5 0.1h1.45m-1.5-0h1.45m-1.6 0.1h1.45m4.5 0.2h1.45m-4.1 0.1h1.45m-7.5 0.2h1.45m7.3 0.1h1.45m-3.8 0.6h1.45m-9.6 0.2h1.45m-3.2 0.4h1.45m10.2 0.1h1.45m-0.2 0.1h1.45m-2.6 0.4h1.45m-12.4 0.2h1.45m11.4-0h1.45m-3.7 0.2h1.45m-1.3 0.1h1.45m-0.5 0.1h1.45m-16.4 0.1h1.45m-1 0.3h1.45m-3 0.3h1.45m-1.4 0.2h1.45m-1.4 0.1h1.45m-2 0.1h1.45m-1.2 0.6h1.45m14.8-0h1.45m-22.1 0.6h1.45m19 0.2h1.45m-21.4 0.4h1.45m-1.9 0.1h1.45m-0.8-0h1.45m18 0.1h1.45m-21.6 0.2h1.45m18.8-0h1.45m-21 0.3h1.45m-23.9 0.2h1.45m20-0h1.45m-3.7 0.1h1.45m-16.3 0.1h1.45m13.4-0h1.45m-15.4 0.1h1.45m2.3-0h1.45m-6.5 0.1h1.45m1.2-0h1.45m7.6 0.1h1.45m2.5-0h1.45m-4.3 0.1h1.45m-11 0.1h1.45m-5 0.1h1.45m4-0h1.45m-5.1 0.1h1.45m12.2-0h1.45m-24.1 0.1h1.45m42.5-0h1.45m-1.1 0.1h1.45m-25.7 0.1h1.45m-21.1 0.1h1.45m13.7-0h1.45m-0-0h1.45m-3.2 0.1h1.45m26.6 0.1h1.45m-25.7 0.1h1.45m-19.5 0.1h1.45m18.6-0h1.45m-2 0.1h1.45m-21.3 0.1h1.45m13.4 0.1h1.45m-19.6 0.4h1.45m44.8 1h1.45m-1.4 0.6h1.45m-50.8 0.7h1.45m48.3-0h1.45m-4.1 1.4h1.45m-49.8 0.3h1.45m46.8 0.4h1.45m-50.2 0.1h1.45m47.2 0.6h1.45m-1.1 0.4h1.45m-1.7 0.4h1.45m-51.8 0.2h1.45m48.1 0.1h1.45m0.2-0h1.45m-52.6 0.4h1.45m47.5 1.2h1.45m-1.2 1.2h1.45m-1.8 1.1h1.45m-3.4 1.4h1.45m-2.7 0.8h1.45m-1.6 0.1h1.45m-0.6 0.1h1.45m-3.6 0.1h1.45m-0.7 0.2h1.45m-0.7 0.1h1.45m-0.8-0h1.45m-1.7 0.2h1.45m-2.8 0.2h1.45m-48 0.5h1.45m-1.3 0.2h1.45m45.6-0h1.45m-2.6 0.1h1.45m-1 0.4h1.45m-1.4 0.1h1.45m-3 0.2h1.45m-45.4 0.2h1.45m43.9 0.2h1.45m-2.8 0.5h1.45m-46.5 0.2h1.45m-1.1 0.4h1.45m-0.6 0.4h1.45m41.9 0.1h1.45m-2.8 0.3h1.45m-43.3 0.8h1.45m-1.6 0.1h1.45m41.7 0.1h1.45m-44.4 0.2h1.45m39.7 0.2h1.45m-0.9 0.1h1.45m-3 0.2h1.45m0.4-0h1.45m-2.8 0.1h1.45m-41.3 0.1h1.45m37.5-0h1.45m0.2 0.1h1.45m-43.3 0.1h1.45m0.1 0.2h1.45m-0.2 0.4h1.45m36.6-0h1.45m-41 0.2h1.45m-2.7 0.2h1.45m-1.1-0h1.45m37.5-0h1.45m-0.8 0.7h1.45m-40.8 0.1h1.45m0.1-0h1.45m34.8-0h1.45m-39.3 0.2h1.45m-0.4 0.4h1.45m35 0.1h1.45m-1.7 0.6h1.45m-1.3-0h1.45m1.5 0.2h1.45m-38.5 0.4h1.45m31.7-0h1.45m-36.9 0.1h1.45m33.2-0h1.45m2.1 0.1h1.45m-40.9 0.1h1.45m33.2 0.4h1.45m-33.5 0.7h1.45m30.9 0.1h1.45m-1.9 0.4h1.45m-33.4 0.3h1.45m30.2-0h1.45m-0.5 0.4h1.45m-0-0h1.45m-35.4 0.1h1.45m30.6-0h1.45m-35 0.1h1.45m-2.7 0.5h1.45m33.9-0h1.45m-36.5 0.1h1.45m33.9-0h1.45m-1.1 0.2h1.45m-37.5 0.1h1.45m34.3 0.1h1.45m-4.4 0.1h1.45m-33.5 0.2h1.45m30.4 0.2h1.45m-32.3 0.3h1.45m31.5 0.3h1.45m-0.9-0h1.45m-1 0.1h1.45m-37.3 0.1h1.45m-0.9-0h1.45m31.9 0.3h1.45m-34.4 0.1h1.45m31.7 0.2h1.45m-32.8 0.3h1.45m-0.7 0.1h1.45m-2.8 0.1h1.45m26.6 0.1h1.45m0.5 0.1h1.45m-2 0.2h1.45m-32.9 0.2h1.45m1.7 0.1h1.45m-4 0.2h1.45m1.8 0.2h1.45m26-0h1.45m-29.1 0.1h1.45m25.1-0h1.45m1 0.3h1.45m-1-0h1.45m-3.2 0.5h1.45m-1-0h1.45m-0.8 0.1h1.45m-33.8 0.2h1.45m30.2-0h1.45m-32.9 0.2h1.45m2.4 0.1h1.45m25.1-0h1.45m-4.2 0.1h1.45m-25 0.2h1.45m23.2-0h1.45m-30.7 0.3h1.45m29.5-0h1.45m-31.8 0.1h1.45m0.5-0h1.45m27 0.1h1.45m-29.7 0.3h1.45m24.4 0.4h1.45m0.3-0h1.45m-29.9 0.2h1.45m0.7 0.1h1.45m25.2-0h1.45m-30.4 0.2h1.45m26-0h1.45m-28.7 0.2h1.45m22.7-0h1.45m-24.7 0.3h1.45m-0.4 0.2h1.45m-2.4 0.2h1.45m21.8-0h1.45m-23.3 0.2h1.45m-2.6 0.2h1.45m-0.4-0h1.45m-3.6 0.1h1.45m22.1 0.4h1.45m-21.2 0.2h1.45m0.1 0.1h1.45m15.2-0h1.45m-22.1 0.1h1.45m2.8-0h1.45m16.3 0.1h1.45m-2.2 0.1h1.45m-1.7 0.2h1.45m-22.4 0.1h1.45m20.4-0h1.45m-0.6-0h1.45m-21.9 0.1h1.45m18.7-0h1.45m-2.6 0.5h1.45m-18.1 0.1h1.45m14.7 0.4h1.45m-2 0.1h1.45m-19.9 0.1h1.45m10.5 0.1h1.45m-0.6-0h1.45m-0.8 0.1h1.45m3.7 0.1h1.45m-19.5 0.1h1.45m-0.3 0.1h1.45m11.1 0.2h1.45m-15.5 0.1h1.45m9.8 0.2h1.45m-7.6 0.1h1.45m2.3-0h1.45m2.6-0h1.45m1.9-0h1.45m-5.5 0.1h1.45m2.7-0h1.45m-12.5 0.1h1.45m-0.9-0h1.45m-1.1-0h1.45m7.8-0h1.45m-0.6-0h1.45m-14.1 0.1h1.45m3.7 0.1h1.45m-8.6 0.1h1.45m-0.3-0h1.45m2.1-0h1.45m7.7-0h1.45m-3.3 0.1h1.45m-7.6 0.1h1.45m-4.2 0.3h1.45m3.2-0h1.45m-6.2 0.2h1.45m-3.2 0.1h1.45m8.5-0h1.45m-5.3 0.1h1.45m0.1 0.1h1.45m-8.7 0.3h1.45"/><path stroke="#84c450" d="M394.1 387.4h1.45m-2.2 0.5h1.45m-3.3 0.2h1.45m-2.3 0.2h1.45m2.3 0h1.45m0.8 0h1.45m-4.9 0.1h1.45m-1.2 0.2h1.45m1.5 0.2h1.45m-5.3 0.1h1.45m4.7 0h1.45m-9.7 0.1h1.45m4.3 0.1h1.45m-7.3 0.2h1.45m0.9 0.3h1.45m-2.1 0.3h1.45m-0.7 0.1h1.45m1.3-0h1.45m-0.1 0.8h1.45m-0.6-0h1.45m0-0h1.45m-11.6 0.1h1.45m7.1-0h1.45m-0.3 0.1h1.45m-15.2 0.3h1.45m0.9-0h1.45m-3.1 0.2h1.45m-0.8 0.1h1.45m-4.5 0.9h1.45m-0.5 0.2h1.45m-2.2 0.1h1.45m-2.4 0.1h1.45m-3 0.1h1.45m15.1-0h1.45m-19.4 0.4h1.45m17.5-0h1.45m-20.6 0.4h1.45m16.7-0h1.45m-34.1 0.2h1.45m12.5-0h1.45m-13.8 0.1h1.45m-2.1 0.1h1.45m11.2 0.1h1.45m-0.6-0h1.45m-0.8 0.1h1.45m-14.5 0.2h1.45m-0.9-0h1.45m10-0h1.45m-1.5-0h1.45m17.5-0h1.45m-2.6 0.1h1.45m-0.9 0.1h1.45m-34.4 0.1h1.45m12.3 0.1h1.45m-7.4 0.3h1.45m2-0h1.45m-4.6 0.1h1.45m22.7 0.1h1.45m-0.5 0.3h1.45m-28.5 0.1h1.45m-0.4-0h1.45m23.4 1.3h1.45m-1.7 0.1h1.45m-0.5 1h1.45m-3.7 0.9h1.45m-1 0.4h1.45m-1.8 0.8h1.45m-48.7 0.1h1.45m45.9 1.3h1.45m-49.2 0.7h1.45m-2.4 0.4h1.45m45 0.1h1.45m-1.5 0.3h1.45m-0.9-0h1.45m-1.4-0h1.45m-1.6 0.3h1.45m-1 0.2h1.45m-1.3 0.2h1.45m-2.7 0.4h1.45m-2.5 0.1h1.45m-47.6 0.4h1.45m44.1 0.2h1.45m-1.9 0.3h1.45m-45.6 0.7h1.45m41.7-0h1.45m-0.7 0.1h1.45m-46.2 0.2h1.45m-1-0h1.45m42.3 0.2h1.45m-0 0.2h1.45m-2.2 0.5h1.45m-2.4 0.8h1.45m-1.8 0.3h1.45m-44.7 0.7h1.45m40.9 0.1h1.45m-42.8 0.9h1.45m39.9 0.3h1.45m-1.7 0.2h1.45m-0.4-0h1.45m-5.3 0.4h1.45m0.8-0h1.45m-40.9 0.1h1.45m36.3-0h1.45m-40.5 0.5h1.45m37.1-0h1.45m-0.4 0.2h1.45m-39.5 0.1h1.45m36.6 0.1h1.45m-39.9 0.4h1.45m34.4-0h1.45m-0.7 0.6h1.45m-1.4 0.1h1.45m-1.6 0.1h1.45m0.5 0.1h1.45m-38.6 0.2h1.45m-1.6 0.2h1.45m33.2-0h1.45m-0.3-0h1.45m-38.3 0.1h1.45m33.5 0.1h1.45m-36.9 0.1h1.45m34.2 0.1h1.45m-34.2 0.1h1.45m31.6-0h1.45m-4.1 0.1h1.45m0.2 0.5h1.45m-3.3 0.1h1.45m-1.5 0.4h1.45m-30.7 0.6h1.45m25.3 0.2h1.45m-0.5-0h1.45m-2.5 0.3h1.45m3.1-0h1.45m-31.6 0.4h1.45m-2.9 0.1h1.45m27.8-0h1.45m-28.9 0.1h1.45m-0.9-0h1.45m-4.9 0.4h1.45m26.8-0h1.45m-3.9 0.2h1.45m3.1-0h1.45m-30.9 0.3h1.45m-1.3 0.1h1.45m2 0.1h1.45m-2 0.1h1.45m21-0h1.45m2.8-0h1.45m-29.8 0.2h1.45m-3.3 0.1h1.45m28.2-0h1.45m-29.5 0.3h1.45m-1.5 0.3h1.45m26.3 0.1h1.45m-30 0.1h1.45m-0.2-0h1.45m23.9 0.1h1.45m0.8 0.2h1.45m-5.2 0.1h1.45m-1.1-0h1.45m-0.1-0h1.45m-25.6 0.1h1.45m23.4 0.1h1.45m-28.7 0.2h1.45m24.5-0h1.45m-2.1 0.1h1.45m-26.9 0.1h1.45m-0.2-0h1.45m-1.2-0h1.45m-0.3-0h1.45m16.5-0h1.45m-22.3 0.1h1.45m21.9 0.2h1.45m1.1 0.1h1.45m-28.1 0.1h1.45m-0.8 0.1h1.45m3.2-0h1.45m15.9-0h1.45m2.8-0h1.45m-4.3 0.3h1.45m2-0h1.45m-7.1 0.2h1.45m-23 0.1h1.45m3.2-0h1.45m20.8-0h1.45m-27.1 0.1h1.45m2.3 0.1h1.45m14.2-0h1.45m3.9 0.1h1.45m-28.2 0.2h1.45m0-0h1.45m18.4-0h1.45m4.1-0h1.45m-1.4-0h1.45m-22.6 0.2h1.45m17-0h1.45m-0.4-0h1.45m0.3-0h1.45m-27.4 0.2h1.45m-0.9 0.1h1.45m0.9-0h1.45m-3.9 0.1h1.45m20.2-0h1.45m0.5-0h1.45m-22.8 0.1h1.45m20.2-0h1.45m-25.7 0.1h1.45m23.4-0h1.45m-26.6 0.1h1.45m19.7-0h1.45m-0.7-0h1.45m1.3-0h1.45m-1.1 0.2h1.45m-1 0.1h1.45m-25.7 0.1h1.45m-2 0.3h1.45m-0.9-0h1.45m-0.1-0h1.45m0.1 0.1h1.45m18.5 0.1h1.45m-4.4 0.1h1.45m0.4 0.1h1.45m-19.6 0.1h1.45m-2.8 0.1h1.45m-2.1 0.2h1.45m14.5-0h1.45m2.9-0h1.45m-23.6 0.1h1.45m16.8-0h1.45m-1.8 0.1h1.45m0-0h1.45m-2.6 0.1h1.45m-19.8 0.1h1.45m-0.8 0.1h1.45m18-0h1.45m-17.5 0.1h1.45m-2.5 0.1h1.45m14.6-0h1.45m-21.7 0.2h1.45m19.9-0h1.45m-16.6 0.1h1.45m11.6-0h1.45m-1-0h1.45m1.3 0.2h1.45m-0.1-0h1.45m-24.1 0.1h1.45m0.9 0.1h1.45m-2.9 0.1h1.45m15.2-0h1.45m-1.2-0h1.45m0.3-0h1.45m-1.2-0h1.45m-0.8-0h1.45m1.1-0h1.45m-5 0.1h1.45m-20.5 0.1h1.45m-0.6-0h1.45m0.3-0h1.45m-1 0.1h1.45m14.9 0.1h1.45m-5.9 0.1h1.45m-11.6 0.1h1.45m10.9-0h1.45m1.9-0h1.45m-19.6 0.1h1.45m18-0h1.45m-7 0.1h1.45m-1.9 0.1h1.45m3.8-0h1.45m-24.6 0.2h1.45m1.8-0h1.45m19.2-0h1.45m-22.5 0.2h1.45m2.2-0h1.45m-1.4-0h1.45m13.9 0.1h1.45m-19.5 0.1h1.45m13.1-0h1.45m-16.6 0.4h1.45m-0.3-0h1.45m13.1-0h1.45m-3.7 0.3h1.45m-1.1-0h1.45m1.3-0h1.45m-17 0.1h1.45m2.1-0h1.45m7.5-0h1.45m0.2-0h1.45m-1.3-0h1.45m-1.3-0h1.45m-16.7 0.2h1.45m-1.9 0.1h1.45m11.3 0.2h1.45m-15.1 0.2h1.45m6.5 0.1h1.45m0.5-0h1.45m4.2-0h1.45m-11.3 0.1h1.45m0.3-0h1.45m4.2-0h1.45m1.7-0h1.45m-17.1 0.1h1.45m0.6-0h1.45m-3.3 0.1h1.45m5.5-0h1.45m6.3-0h1.45m-10.1 0.1h1.45m3.1 0.1h1.45m-10.9 0.1h1.45m6.7-0h1.45m2 0.1h1.45m-7 0.1h1.45m-4.9 0.1h1.45m3.4-0h1.45m4-0h1.45m-1.8 0.1h1.45m-10.6 0.1h1.45m8.3 0.1h1.45m-15.4 0.1h1.45m-0-0h1.45m12.4-0h1.45m-15.4 0.1h1.45m-1.1-0h1.45m1.6-0h1.45m8.8-0h1.45m-11.5 0.2h1.45m4.4 0.1h1.45m-11.4 0.1h1.45m3.2-0h1.45m0.3-0h1.45m-1.1 0.2h1.45m2.4-0h1.45m-5.6 0.1h1.45m-1.4-0h1.45m0 0.1h1.45m-5.8 0.1h1.45m6-0h1.45m0.6 0.1h1.45m-14.5 0.1h1.45m6.3-0h1.45m-3.6 0.1h1.45m4.3-0h1.45m-12.5 0.2h1.45m1.7-0h1.45m-1.6 0.2h1.45m0.3 0.1h1.45m-1.3-0h1.45m-0.2-0h1.45m-3.7 0.1h1.45m-0.1-0h1.45m-3 0.1h1.45m2.6 0.1h1.45m-5.5 0.1h1.45m-4 0.2h1.45m0.4-0h1.45m-1.3 0.2h1.45m6.6-0h1.45m-7.3 0.1h1.45m-1.4 0.3h1.45m1.5 0.2h1.45m-3.3 0.2h1.45m-2.2 0.1h1.45m-1.3 0.1h1.45"/><path stroke="#93c949" d="M390.3 390.1h1.45m-2.4 0.3h1.45m-1.2 0.2h1.45m0.3 0.1h1.45m-2.9 0.1h1.45m3.1-0h1.45m-4.6 0.1h1.45m-1.2 0.1h1.45m-2.7 0.1h1.45m-3.2 0.3h1.45m0.5-0h1.45m0.2 0.1h1.45m2.7-0h1.45m-0.5-0h1.45m-7.7 0.2h1.45m2.6 0.1h1.45m-5.6 0.1h1.45m-1.2-0h1.45m-5.1 0.1h1.45m3.9-0h1.45m1.8 0.1h1.45m-0.9-0h1.45m-4 0.2h1.45m-9.8 0.1h1.45m-0.7-0h1.45m4.8-0h1.45m-5 0.1h1.45m-4.1 0.1h1.45m5.5-0h1.45m-5.1 0.1h1.45m2.7 0.1h1.45m-5.3 0.2h1.45m1-0h1.45m-10.7 0.1h1.45m0.4 0.1h1.45m8 0.1h1.45m-13.8 0.1h1.45m1.8-0h1.45m-2.1 0.2h1.45m-3.2 0.2h1.45m2.7-0h1.45m4.9-0h1.45m-11 0.1h1.45m11.5-0h1.45m-35 0.1h1.45m22.2-0h1.45m-25.6 0.1h1.45m30.3 0.1h1.45m-33.7 0.2h1.45m18-0h1.45m0.1 0.2h1.45m11.2-0h1.45m-14.4 0.1h1.45m-4.3 0.1h1.45m0.7 0.1h1.45m10.8-0h1.45m-14.4 0.3h1.45m-3.1 0.2h1.45m0.4-0h1.45m-2.1 0.2h1.45m-14.8 0.2h1.45m25-0h1.45m-26.1 0.1h1.45m8.8-0h1.45m-9.5 0.2h1.45m6.3-0h1.45m-0.4-0h1.45m-1.1-0h1.45m-6.3 0.1h1.45m0.2-0h1.45m16.9 0.1h1.45m-3.3 0.1h1.45m-0.2 0.1h1.45m-44.7 0.1h1.45m-1.5-0h1.45m21.6 0.1h1.45m0.2-0h1.45m-0.9-0h1.45m-3.8 0.1h1.45m-23.7 0.2h1.45m-1.4-0h1.45m21.1 0.3h1.45m18.1 0.1h1.45m-2.2 0.1h1.45m-20.3 0.3h1.45m17.2-0h1.45m-18.6 0.1h1.45m15.5 0.2h1.45m-0.9 0.7h1.45m-46 0.2h1.45m-1.2-0h1.45m-3.3 0.6h1.45m-0.7 0.1h1.45m43.2 0.2h1.45m-3.3 0.2h1.45m-0.2 0.1h1.45m-1.7 0.4h1.45m-2.4 0.2h1.45m-0.1 0.1h1.45m-46.9 1.1h1.45m40.9 0.3h1.45m-1.1 0.6h1.45m-1-0h1.45m-45.2 0.9h1.45m40.6 0.6h1.45m-0.4-0h1.45m-1-0h1.45m-1.4-0h1.45m-3 0.3h1.45m-0.3-0h1.45m-3.9 0.4h1.45m-42.7 0.1h1.45m41 0.1h1.45m-2.8 0.1h1.45m-1 0.1h1.45m-1.8 1.7h1.45m-42.9 0.4h1.45m37.6 0.2h1.45m-1.1 0.2h1.45m-0.6-0h1.45m-41.5 0.4h1.45m-1.4 0.1h1.45m36.2 0.2h1.45m-1.3 0.1h1.45m-1.1-0h1.45m1.3 0.1h1.45m-1.9 0.1h1.45m-7.3 0.5h1.45m0.1-0h1.45m-0.9-0h1.45m1.7 0.1h1.45m-3.2 0.5h1.45m-2.9 0.1h1.45m-2.7 0.1h1.45m0.7 0.5h1.45m-6 0.2h1.45m-1-0h1.45m-2.7 0.1h1.45m2.2-0h1.45m-0.3 0.2h1.45m-7.5 0.4h1.45m-1-0h1.45m2.8-0h1.45m-5.4 0.1h1.45m4.1-0h1.45m-37 0.2h1.45m32-0h1.45m-0.4 0.1h1.45m-5 0.1h1.45m-0.5 0.1h1.45m1.2-0h1.45m-35.7 0.1h1.45m28.7-0h1.45m2-0h1.45m-34.9 0.1h1.45m29.1-0h1.45m-1.4 0.1h1.45m1.7 0.2h1.45m-34.3 0.1h1.45m-1.5 0.1h1.45m28.3-0h1.45m-31.7 0.1h1.45m25-0h1.45m3.8 0.2h1.45m-8.7 0.1h1.45m1.1 0.1h1.45m0.7-0h1.45m1.3-0h1.45m-8.2 0.1h1.45m2.1-0h1.45m-1.2-0h1.45m-3 0.1h1.45m0.6-0h1.45m1.7 0.1h1.45m-1.2 0.1h1.45m-33.8 0.1h1.45m19.8-0h1.45m1.6-0h1.45m-4.1 0.1h1.45m6.9 0.1h1.45m-6.7 0.1h1.45m-24.2 0.2h1.45m20.5-0h1.45m2.3-0h1.45m0.8-0h1.45m-7.7 0.2h1.45m2 0.1h1.45m-0.1-0h1.45m-3.3 0.1h1.45m-26.3 0.3h1.45m0.7-0h1.45m14-0h1.45m-1 0.2h1.45m-0.5-0h1.45m4.2 0.1h1.45m-5.3 0.1h1.45m-18.3 0.6h1.45m8.8-0h1.45m-1.5-0h1.45m4.4-0h1.45m-0.3-0h1.45m-9.4 0.1h1.45m3 0.1h1.45m2.6-0h1.45m0.3-0h1.45m-18.9 0.1h1.45m10.3 0.1h1.45m0.6-0h1.45m-9.6 0.1h1.45m-1.3-0h1.45m0.9-0h1.45m-0.9-0h1.45m6.8-0h1.45m-21.7 0.1h1.45m10.1-0h1.45m-14.2 0.1h1.45m-0.5-0h1.45m8.7-0h1.45m5.5-0h1.45m-1.1-0h1.45m-9.1 0.1h1.45m-0.2-0h1.45m1.2-0h1.45m-2.1 0.1h1.45m-1.1-0h1.45m3.4-0h1.45m-14.5 0.1h1.45m11.6-0h1.45m-10.9 0.1h1.45m1.5-0h1.45m1.4-0h1.45m5.1-0h1.45m-12.6 0.1h1.45m-0.2-0h1.45m7.8-0h1.45m-10.3 0.1h1.45m-0.5-0h1.45m2-0h1.45m-0.6-0h1.45m-18 0.1h1.45m7.8-0h1.45m-11.8 0.1h1.45m9.2-0h1.45m-10.2 0.1h1.45m5.8-0h1.45m-9.5 0.1h1.45m3.2-0h1.45m7.4-0h1.45m4.5-0h1.45m-14.8 0.1h1.45m9.7-0h1.45m-9.1 0.1h1.45m-1.8 0.1h1.45m-0.5-0h1.45m7.2-0h1.45m-11.2 0.1h1.45m-1-0h1.45m3.4-0h1.45m-0.7-0h1.45m-13.6 0.1h1.45m0-0h1.45m-0.9-0h1.45m-5.8 0.1h1.45m1.6-0h1.45m1.7-0h1.45m5.4-0h1.45m-10.9 0.1h1.45m2.2-0h1.45m-8.9 0.1h1.45m9.6-0h1.45m3.7-0h1.45m-3.5 0.1h1.45m1.3 0.1h1.45m-3.1 0.1h1.45m-1.3-0h1.45m0.8-0h1.45m-18 0.1h1.45m-1.4-0h1.45m-0.2-0h1.45m3.6-0h1.45m-1.2-0h1.45m-2.9 0.1h1.45m0.8-0h1.45m-4.7 0.1h1.45m11.2-0h1.45m-2.8 0.1h1.45m-1-0h1.45m-14 0.2h1.45m7.1-0h1.45m-10 0.1h1.45m11.2-0h1.45m-0.4-0h1.45m-12.2 0.1h1.45m2.7 0.1h1.45m0.9-0h1.45m-10.9 0.2h1.45m1.8 0.2h1.45m4.3-0h1.45m-9.1 0.1h1.45m7.3-0h1.45m-8.6 0.1h1.45m-1.1-0h1.45m-5.4 0.2h1.45m6.9-0h1.45m-12.1 0.1h1.45m8.7-0h1.45m-6.9 0.1h1.45m5-0h1.45m-1.4 0.1h1.45m-8.8 0.1h1.45m-0.8-0h1.45m-1.3-0h1.45m2.2 0.1h1.45m-3.6 0.1h1.45m-3.1 0.1h1.45m-0.6-0h1.45m-1.9 0.1h1.45m0.3-0h1.45m-3.6 0.2h1.45m1.4-0h1.45m-0.5-0h1.45m-5.4 0.2h1.45m1.1-0h1.45m-5.2 0.1h1.45m4.8-0h1.45m-7.7 0.2h1.45m8.5 0.1h1.45m-8 0.1h1.45m-1.3-0h1.45m0.8-0h1.45m-10.4 0.1h1.45m-0.5 0.1h1.45m4.8-0h1.45m1-0h1.45m0.1 0.1h1.45m-9.6 0.1h1.45m4.4-0h1.45m-10.1 0.2h1.45m9.2-0h1.45m-0.2-0h1.45m-1-0h1.45m-11.2 0.1h1.45m4.4-0h1.45m-9.7 0.1h1.45m9.6-0h1.45m-6.1 0.1h1.45m-8 0.1h1.45m-0.6-0h1.45m5.6-0h1.45m-4.6 0.2h1.45m-0.1-0h1.45m-0.7 0.1h1.45m-9.7 0.1h1.45m1 0.1h1.45m-0.8-0h1.45m0.7-0h1.45m1.9 0.1h1.45m3.2-0h1.45m-12.6 0.1h1.45m1.7 0.1h1.45m2.4-0h1.45m0.2-0h1.45m-6.5 0.1h1.45m-3 0.2h1.45m-1.6 0.1h1.45m-3 0.2h1.45m8.1-0h1.45m-5.2 0.1h1.45m-1.1-0h1.45m0.2-0h1.45m-8.5 0.2h1.45m2.5-0h1.45m1 0.2h1.45m-0.1-0h1.45m-0.8-0h1.45m-9.2 0.3h1.45m3.7 0.1h1.45m0.9-0h1.45m-9.9 0.2h1.45m3.3-0h1.45m2-0h1.45m-11 0.3h1.45m4.4-0h1.45m-6.3 0.5h1.45m3.4-0h1.45m-4 0.1h1.45m4.3-0h1.45m-5.3 0.1h1.45m-3.3 0.2h1.45m-3.5 0.2h1.45m2.1 0.1h1.45m0.8-0h1.45m-5.9 0.1h1.45m-1.5 0.3h1.45m-3.5 0.1h1.45m3.3 0.4h1.45m-2 0.1h1.45"/><path stroke="#a2ce43" d="M391.2 392.6h1.45m-1.2 0.3h1.45m-1.5 0.1h1.45m-2.7 0.1h1.45m-1.2 0.1h1.45m-4.1 0.1h1.45m-0.9 0.1h1.45m-0.2-0h1.45m-2.2 0.1h1.45m-4 0.5h1.45m-2.3 0.3h1.45m1.5-0h1.45m-3.2 0.2h1.45m3.1-0h1.45m-6.1 0.2h1.45m-2.1 0.2h1.45m3.2-0h1.45m-27 0.1h1.45m19.9-0h1.45m-3.1 0.1h1.45m1.8-0h1.45m4.3-0h1.45m-10.9 0.1h1.45m3.5-0h1.45m1.4-0h1.45m0.2-0h1.45m-37.1 0.1h1.45m4.9-0h1.45m0.1-0h1.45m17.2-0h1.45m-0.2-0h1.45m-3.8 0.1h1.45m-1.5-0h1.45m-18.7 0.1h1.45m23.9-0h1.45m-33.7 0.1h1.45m27.3-0h1.45m-0.7-0h1.45m0-0h1.45m0.7-0h1.45m-0.6 0.1h1.45m-29.6 0.1h1.45m-0.6-0h1.45m24.2 0.2h1.45m-1-0h1.45m0.3-0h1.45m-26.9 0.1h1.45m17.7-0h1.45m-18.9 0.1h1.45m11.5-0h1.45m8.7-0h1.45m-26.1 0.1h1.45m0.2-0h1.45m18.7-0h1.45m-24.1 0.1h1.45m0.5-0h1.45m17.5-0h1.45m0.6-0h1.45m-4.1 0.1h1.45m-7 0.1h1.45m-0.7-0h1.45m-1.1 0.2h1.45m-1.2-0h1.45m0.2 0.1h1.45m0.8-0h1.45m-18.1 0.1h1.45m9.4-0h1.45m0.9-0h1.45m5.6-0h1.45m-3.2 0.1h1.45m-1.4-0h1.45m-38.8 0.1h1.45m25.3-0h1.45m0.6-0h1.45m3.3-0h1.45m-8.8 0.1h1.45m5.4-0h1.45m-8.2 0.2h1.45m1.5-0h1.45m-31.2 0.1h1.45m18 0.1h1.45m6.6-0h1.45m-0.7-0h1.45m-7.3 0.2h1.45m17-0h1.45m-22.4 0.1h1.45m2.4 0.1h1.45m-0.3-0h1.45m0.7-0h1.45m9.6-0h1.45m-40.3 0.1h1.45m40.1-0h1.45m-4.6 0.1h1.45m1.9-0h1.45m-43.2 0.2h1.45m36.7-0h1.45m-0.9-0h1.45m-14.6 0.1h1.45m15-0h1.45m-43.8 0.1h1.45m37.2-0h1.45m2.4-0h1.45m-5.4 0.1h1.45m-39.5 0.1h1.45m38.6-0h1.45m-11.2 0.2h1.45m-7.7 0.1h1.45m3.5 0.3h1.45m-5.1 0.1h1.45m4-0h1.45m-1.2-0h1.45m-1.8 0.1h1.45m-4.5 0.1h1.45m12.2-0h1.45m-44.3 0.1h1.45m37.6 0.4h1.45m-12.4 0.1h1.45m-1 0.2h1.45m8.8-0h1.45m1-0h1.45m-4.3 0.1h1.45m1.2 0.1h1.45m-3 0.2h1.45m-1-0h1.45m-4.2 0.3h1.45m-1.7 0.2h1.45m0.6 0.5h1.45m-1.6 0.1h1.45m-2.4 0.2h1.45m-0-0h1.45m-0.4-0h1.45m-1.4 0.4h1.45m-43.3 0.1h1.45m39.5 0.1h1.45m-43 0.2h1.45m39.3 0.2h1.45m-1.4 0.1h1.45m-42.3 0.2h1.45m35.8-0h1.45m-0.5 0.1h1.45m2-0h1.45m-6.5 0.3h1.45m0-0h1.45m1.6-0h1.45m-4.1 0.1h1.45m-1.3-0h1.45m-0.5-0h1.45m-0.9-0h1.45m-4.6 0.3h1.45m-4.2 0.1h1.45m4.2 0.3h1.45m-5.6 0.1h1.45m-1.2-0h1.45m-0.8-0h1.45m-1.3-0h1.45m-3.2 0.1h1.45m-36.4 0.1h1.45m38.4 0.1h1.45m-2.1 0.1h1.45m-5.5 0.1h1.45m1.2-0h1.45m-2.4 0.1h1.45m-0.2 0.3h1.45m-0.9 0.2h1.45m-9.1 0.1h1.45m0.5-0h1.45m2.2 0.2h1.45m-5.5 0.1h1.45m-0.4-0h1.45m0.2-0h1.45m-5.2 0.1h1.45m2.8 0.1h1.45m-2.7 0.2h1.45m-35.7 0.3h1.45m30.1 0.1h1.45m3-0h1.45m-4.2 0.2h1.45m0.7-0h1.45m-4.7 0.1h1.45m-0.5-0h1.45m-1.4-0h1.45m0.9-0h1.45m-5.9 0.1h1.45m-32.1 0.3h1.45m32.6 0.1h1.45m-4.9 0.2h1.45m2.8 0.2h1.45m-7.9 0.1h1.45m2.2-0h1.45m1.3-0h1.45m-1.2-0h1.45m-36.5 0.1h1.45m32.5 0.1h1.45m-4.2 0.1h1.45m1.7 0.1h1.45m-35.6 0.1h1.45m-0.9 0.1h1.45m25.2-0h1.45m-1.3-0h1.45m-1.1-0h1.45m-1.3-0h1.45m1.2 0.1h1.45m-31.1 0.1h1.45m26.2-0h1.45m0.5 0.1h1.45m-1.5 0.1h1.45m-1 0.2h1.45m-0.9 0.2h1.45m-32.1 0.3h1.45m28.6 0.1h1.45m-4 0.1h1.45m-2.6 0.1h1.45m0.3-0h1.45m-28.6 0.1h1.45m24.2 0.1h1.45m-0.6-0h1.45m0.6-0h1.45m-4.6 0.3h1.45m-3.1 0.1h1.45m-1.3-0h1.45m-0.6-0h1.45m-25.1 0.1h1.45m20.7-0h1.45m-24.3 0.4h1.45m-0.6-0h1.45m21.4-0h1.45m0.1 0.3h1.45m-0.3-0h1.45m-26.6 0.1h1.45m17.4-0h1.45m2.3-0h1.45m-2.4 0.1h1.45m-24.3 0.1h1.45m0.2-0h1.45m17 0.1h1.45m-20.1 0.1h1.45m-2.6 0.1h1.45m18.9 0.1h1.45m1.8 0.2h1.45m-3.1 0.1h1.45m-23.3 0.1h1.45m18.8-0h1.45m-19.2 0.1h1.45m-2.8 0.1h1.45m13.9 0.1h1.45m1.8-0h1.45m-18.8 0.1h1.45m16.2-0h1.45m-0.7-0h1.45m-20.6 0.1h1.45m17.6-0h1.45m-1.3-0h1.45m-1.2 0.1h1.45m-1-0h1.45m-5.1 0.1h1.45m-0.7-0h1.45m-2.2 0.1h1.45m1.1-0h1.45m0.1-0h1.45m-20.6 0.1h1.45m0.1 0.1h1.45m8.7-0h1.45m5.3-0h1.45m-19.2 0.2h1.45m12.6 0.1h1.45m-15.4 0.1h1.45m12.9-0h1.45m-15.5 0.3h1.45m11.4-0h1.45m-0-0h1.45m-0.7-0h1.45m-16.5 0.1h1.45m-2.7 0.1h1.45m10.9-0h1.45m0.2-0h1.45m-12.8 0.2h1.45m2.9-0h1.45m1-0h1.45m-7.3 0.1h1.45m1.2-0h1.45m6.9-0h1.45m-13.9 0.1h1.45m-0.7-0h1.45m-0 0.1h1.45m-0.4 0.1h1.45m0.4 0.1h1.45m-0.1-0h1.45m1.8-0h1.45m-6 0.1h1.45m2.2 0.1h1.45m1.9 0.1h1.45m-8.4 0.4h1.45m0.6 0.2h1.45m-1.9 0.1h1.45m-4.7 0.1h1.45m-1.3-0h1.45m0.5 0.1h1.45"/><path stroke="#b3d33d" d="M359.5 395.3h1.45m-0.4 0h1.45m-2.1 0.2h1.45m-1.4 0h1.45m0.8 0.1h1.45m3 0.8h1.45m-15.6 0.8h1.45m16.2 0.3h1.45m-17.6 0.3h1.45m-2.8 0.1h1.45m33.7 0.1h1.45m-18.7 0.2h1.45m-1.1-0h1.45m15.1-0h1.45m-37.1 0.3h1.45m34.5-0h1.45m-37.6 0.1h1.45m19 0.1h1.45m-23 0.3h1.45m34.6-0h1.45m-0.1 0.1h1.45m-1.7 0.2h1.45m-16.3 0.3h1.45m-1.3 0.3h1.45m-0.5 0.1h1.45m0.3 0.2h1.45m-3.1 0.2h1.45m8.6-0h1.45m-12 0.2h1.45m9.6-0h1.45m-12 0.2h1.45m6.7 0.1h1.45m-6.9 0.1h1.45m3.1-0h1.45m-8.2 0.1h1.45m9.9-0h1.45m-38.3 0.1h1.45m25.5-0h1.45m-1-0h1.45m-0.9-0h1.45m1.9 0.1h1.45m2.8 0.1h1.45m-37.1 0.1h1.45m28.5-0h1.45m-4.8 0.1h1.45m0.1 0.1h1.45m-30.1 0.3h1.45m35.1-0h1.45m-11.7 0.2h1.45m-1.4-0h1.45m-0.3-0h1.45m-1.8 0.3h1.45m0.2-0h1.45m6.1-0h1.45m-7 0.1h1.45m-1.2-0h1.45m4.2-0h1.45m-3.5 0.1h1.45m-9.3 0.1h1.45m2.3-0h1.45m1.5-0h1.45m-5.8 0.2h1.45m1.1 0.1h1.45m-1.2-0h1.45m-0.7-0h1.45m-0.6-0h1.45m-5.4 0.1h1.45m1.4 0.1h1.45m-5.6 0.1h1.45m2-0h1.45m1.2 0.1h1.45m-7.9 0.1h1.45m0.4 0.2h1.45m-0 0.4h1.45m-3.3 0.2h1.45m1.2 0.4h1.45m-3.3 0.1h1.45m-4 0.6h1.45m1 0.1h1.45m-2.3 0.1h1.45m-4.4 0.2h1.45m3.1 0.1h1.45m-4.2 0.3h1.45m0.2-0h1.45m-31.1 0.2h1.45m25.6 0.2h1.45m-0.1-0h1.45m-2.5 0.1h1.45m-2.6 1.2h1.45m-2.5 0.3h1.45m0.2-0h1.45m-2.4 0.2h1.45m-1.9 0.6h1.45m-2.1 0.3h1.45m-1.6 0.2h1.45m-1.4 0.1h1.45m-0.6 0.3h1.45m-3.8 0.1h1.45m-2 0.1h1.45m0.2 0.1h1.45m-3.1 0.1h1.45m-22.1 0.1h1.45m18.9 0.7h1.45m-1.3-0h1.45m-1.5 0.1h1.45m-4 0.2h1.45m-17.7 0.1h1.45m17.2-0h1.45m-20.6 0.2h1.45m0.8 0.7h1.45m12 0.1h1.45m-1.2 0.1h1.45m-1-0h1.45m-16.8 0.1h1.45m10.9 0.2h1.45m-10.2 0.3h1.45m-0.8 0.2h1.45m5.8-0h1.45m-2.5 0.3h1.45m-1.3 0.1h1.45m-1 0.1h1.45m-3.6 0.1h1.45m-0.4-0h1.45m-5.6 0.4h1.45m-0.8 0.2h1.45m2.5-0h1.45"/><path stroke="#c5d838" d="M364.4 396h1.45m-1 0.3h1.45m-9.6 0.1h1.45m-0.2-0h1.45m-0.2 0.1h1.45m3.7-0h1.45m-3 0.1h1.45m0.1 0.1h1.45m-3.5 0.2h1.45m3.3 0.1h1.45m-1.4 0.1h1.45m-0.3-0h1.45m-15.1 0.3h1.45m-1.3 0.2h1.45m-1.6 0.2h1.45m10.4-0h1.45m1.6 0.3h1.45m-2.4 0.7h1.45m-18.6 0.2h1.45m-0.8 0.5h1.45m16.8 0.2h1.45m0.4-0h1.45m-22 0.3h1.45m19-0h1.45m-23.1 0.6h1.45m-1 0.4h1.45m20.6 0.5h1.45m-0.4-0h1.45m-25.9 0.2h1.45m22.1 0.1h1.45m-0.8-0h1.45m-1.4 0.3h1.45m-2.5 0.4h1.45m0.2 0.6h1.45m-1.8 0.5h1.45m-26.1 0.2h1.45m-1.5 0.3h1.45m23.9-0h1.45m-1.5-0h1.45m-27.5 0.2h1.45m-0.8 0.8h1.45m23.5 0.3h1.45m-2.3 1.3h1.45m-0.8-0h1.45m-2.4 0.2h1.45m-24.6 0.9h1.45m21.3 0.4h1.45m-1.7 0.4h1.45m-0.9 0.3h1.45m-23.8 0.4h1.45m18.8-0h1.45m-2.4 0.1h1.45m-1.9 0.1h1.45m-0.1-0h1.45m-21.5 0.3h1.45m17.4 0.6h1.45m-1.3-0h1.45m-3.7 0.7h1.45m-15.5 0.2h1.45m12.5 0.3h1.45m-15.2 0.3h1.45m7.7 0.1h1.45m1.3 0.2h1.45m-11.8 0.1h1.45m7.4 0.2h1.45m-9.3 0.2h1.45m-0.6-0h1.45m6.4 0.1h1.45m-3.3 0.2h1.45m-4.4 0.1h1.45m-2.6 0.2h1.45m-0.7 0.2h1.45m-0.5-0h1.45m-2.4 0.2h1.45"/><path stroke="#d6dd33" d="M359.9 396h1.45m-0.1 0.6h1.45m-1.2 0h1.45m-6.8 0.8h1.45m-2 0.1h1.45m10.5 0.7h1.45m-0.9-0h1.45m-0.7 1.4h1.45m-0.4 0.1h1.45m-1.3-0h1.45m-1.5 0.1h1.45m-0.4 0.9h1.45m-0.9 0.4h1.45m-0.9 0h1.45m-23.2 0.7h1.45m-2 0.6h1.45m-1.6 0.3h1.45m20.2 0.3h1.45m-0.7-0h1.45m-0.4-0h1.45m-2 0.1h1.45m-24.6 0.4h1.45m21.2 0.1h1.45m-0.6 0.1h1.45m-25.1 0.1h1.45m22.4 0.4h1.45m-24.5 0.1h1.45m21.7 0.2h1.45m-24.7 0.1h1.45m20.3-0h1.45m-0.5 0.2h1.45m-2.8 0.4h1.45m-1.2 0.6h1.45m-22.9 0.1h1.45m-2.1 0.8h1.45m0.3 1h1.45m16.9 0.9h1.45m-1.7 0.2h1.45m-0.6 0.1h1.45m-19.8 0.1h1.45m-1.7 0.1h1.45m-0.9 0.5h1.45m13.7 0.6h1.45m-15.4 0.1h1.45m-1.4 0.1h1.45m12.4-0h1.45m-14.6 0.6h1.45m-0.2 0.1h1.45m-0.6-0h1.45m7.1 0.1h1.45m-0.2-0h1.45m-11.2 0.1h1.45m8.3-0h1.45m-1.2-0h1.45m-4.4 0.2h1.45m-0.9 0.1h1.45m0.2 0.1h1.45m-9.9 0.2h1.45m-1.5 0.1h1.45m3.4 0.1h1.45m-3.6 0.1h1.45m-0.1-0h1.45m-5 0.1h1.45m-0.7 0.1h1.45m-0.8 0.1h1.45m0.6 0.3h1.45m-0.9-0h1.45m-2.2 0.1h1.45"/><path stroke="#e8e22e" d="M356.8 397.1h1.45m0.6 0.1h1.45m-5.2 0.9h1.45m-1.9 0.2h1.45m-1.1 0.6h1.45m-3.2 0.1h1.45m12.7-0h1.45m-15.8 0.9h1.45m15.1 0.2h1.45m-2.2 0.4h1.45m-0.4 0h1.45m-2.5 0.4h1.45m-0.5 0.4h1.45m-20.4 0.8h1.45m-1.2 0h1.45m18.2 1.5h1.45m-1 0h1.45m-1.3 0.1h1.45m-1.9 0.1h1.45m-1.3 0.1h1.45m-21.3 0.1h1.45m17.8 0.1h1.45m-1.1 0.4h1.45m-1.1 0.5h1.45m-1.4 0.5h1.45m-2.1 0.4h1.45m-2.6 0.2h1.45m-1.1 0.4h1.45m-1.1 0h1.45m-3.1 0.6h1.45m-18.1 0.6h1.45m15.6-0h1.45m-2 0.2h1.45m-18 0.1h1.45m14.4 0.6h1.45m-1.2 0.1h1.45m-0.9-0h1.45m-2.1 0.1h1.45m-0.4-0h1.45m-17.7 0.3h1.45m0-0h1.45m-1.2 0.4h1.45m-3.3 0.1h1.45m0.7 0.4h1.45m0.2-0h1.45m-1.7 0.1h1.45m7-0h1.45m-11.5 0.1h1.45m-0.3 0.1h1.45m8.4 0.2h1.45m-0.6 0.1h1.45m-2.5 0.1h1.45m-12.1 0.1h1.45m9.5 0.1h1.45m-7.7 0.1h1.45m0.4-0h1.45m-3.2 0.4h1.45m-0.6-0h1.45m0.6 0.1h1.45m-4.3 0.1h1.45m0.3-0h1.45m-4 0.1h1.45m0.2 0.1h1.45"/><path stroke="#eed62c" d="M361.1 397.3h1.45m-3.2 0.1h1.45m0.4 0.1h1.45m2.2 0.6h1.45m-10.9 0.2h1.45m8.2-0h1.45m-12.7 0.9h1.45m11.4 0.1h1.45m-14.8 0.6h1.45m-2.4 0.2h1.45m13.7 0.1h1.45m-1.2 0.1h1.45m-16.8 0.4h1.45m14.2-0h1.45m-1.5 0.1h1.45m-16.5 0.1h1.45m14.8 0.2h1.45m-18.4 0.3h1.45m15.1-0h1.45m-18.4 0.8h1.45m16 0.9h1.45m-1.1 0.1h1.45m-1.5 1.7h1.45m-19.1 1.2h1.45m15.2 0.1h1.45m-2.4 1.3h1.45m-2.5 0.6h1.45m-1.5 0.1h1.45m-15.1 0.4h1.45m12-0h1.45m-15 0.1h1.45m-1.8 0.1h1.45m-1.4-0h1.45m12.5 0.2h1.45m-13 0.3h1.45m9.7 0.3h1.45m-2.4 0.3h1.45m-4 0.1h1.45m-4.4 0.1h1.45m2.2-0h1.45m-2.8 0.1h1.45m-0.1-0h1.45m-5.5 0.1h1.45m2.8 0.1h1.45m-6.1 0.3h1.45m-0.1-0h1.45m-0.9 0.1h1.45m-0.2 0.1h1.45"/><path stroke="#f0c62b" d="M357.3 398.1h1.45m-0.8 0.5h1.45m-1 0h1.45m-1.1 0h1.45m2.8 0.1h1.45m-1.2-0h1.45m-2.5 0.1h1.45m-9 0.6h1.45m9.9 0.4h1.45m-1.1 0.6h1.45m-0.7 0.4h1.45m-15.5 0.4h1.45m-1.6 0.5h1.45m-1.5 0.1h1.45m13.2 0.6h1.45m0.1 0.1h1.45m-2.7 0.1h1.45m-0.7-0h1.45m-1.4-0h1.45m-1.4 0.4h1.45m-18.3 0.6h1.45m-1.8 0.7h1.45m-1.5 0.3h1.45m15.7 0.7h1.45m-17 0.7h1.45m-2.1 0.2h1.45m-1.5 0.1h1.45m14 0.2h1.45m-2 0.7h1.45m-1.4 0.1h1.45m-2.2 0.4h1.45m-0.9-0h1.45m-2.2 0.1h1.45m-14.7 0.1h1.45m-1 0.3h1.45m-0.9-0h1.45m-0.5-0h1.45m8.9 0.1h1.45m-12.7 0.1h1.45m-1.6 0.2h1.45m-0.5-0h1.45m9.9 0.4h1.45m-4.4 0.4h1.45m-1 0.5h1.45"/><path stroke="#f2b52a" d="M359.6 398.1h1.45m-5.4 0.9h1.45m-1.3 0.2h1.45m-0.6 0h1.45m6 0.4h1.45m-2.1 0.2h1.45m-1.2 0h1.45m-10.1 0.5h1.45m9.5 0.1h1.45m-1.7 0.2h1.45m-12.1 0.1h1.45m9.4 0.3h1.45m-0.6 0.5h1.45m-1.6 0.3h1.45m-0.9 0.1h1.45m-2.1 0.3h1.45m-14.9 0.6h1.45m-1.8 0.4h1.45m-1.8 0.4h1.45m-1.3 0.2h1.45m13.7 0.1h1.45m-1.4 0.3h1.45m-1.2 0.2h1.45m-16.4 1h1.45m12.1 0.9h1.45m-14.6 1.3h1.45"/></g>
<g fill="none" stroke-width="1" transform="translate(0 .5)"><path stroke="#f0c62b" d="M357 409h1m5 0h1"/><path stroke="#f2b52a" d="M367 405h1m-14 1h1m0 1h1m10 0h1m-11 1h1m7 0h2m-8 1h5"/><path stroke="#f19d29" d="M358 399h5m-7 1h1m7 0h1m-10 1h1m10 0h1m-13 1h1m11 0h1m-13 1h1m12 0h1m-14 1h1m12 0h1m-14 1h1m11 0h1m-12 1h1m10 0h1m-11 1h1m7 0h2m-9 1h7"/><path stroke="#ee8128" d="M357 400h2m3 0h2m-8 1h1m7 0h2m-11 1h1m9 0h1m-11 1h1m10 0h1m-12 1h1m10 0h1m-12 1h1m9 0h1m-10 1h1m7 0h2m-9 1h3m1 0h3"/><path stroke="#e96627" d="M359 400h3m-5 1h2m3 0h2m-8 1h1m7 0h1m-9 1h1m7 0h2m-10 1h1m7 0h2m-10 1h1m7 0h1m-8 1h2m3 0h2m-4 1h1"/><path stroke="#e14d26" d="M359 401h3m-5 1h2m3 0h2m-7 1h1m5 0h1m-7 1h1m5 0h1m-7 1h7m-5 1h3"/><path stroke="#d93426" d="M359 402h3m-4 1h5m-5 1h5"/></g>
<g fill="none" stroke-width="1.45"><path stroke="#2a277d" d="M80.8 557h1.45"/><path stroke="#2a277f" d="M144.7 545.2h1.45"/><path stroke="#2b2880" d="M41.8 584.9h1.45m110 86.4h1.45"/><path stroke="#2b2982" d="M130.8 552.2h1.45m-18.5 26.8h1.45m-26 3h1.45m67.6 66.7h1.45m-5 3.5h1.45m-7.9 16.1h1.45m-2.2 4h1.45m-8.6 3.8h1.45"/><path stroke="#2b2a83" d="M121.9 576.6h1.45m-2.5 2.3h1.45m-67.7 17.4h1.45m-14.4 9.9h1.45m-3.1 65.7h1.45"/><path stroke="#2c2e88" d="M161.7 570.8h1.45m1.9 6.4h1.45m-45.6 4.1h1.45m45 2.1h1.45m-59.8 0.5h1.45m2.7 0.7h1.45m-51.3 12.3h1.45m-27.4 49.6h1.45m1 9.5h1.45m6.3 8.1h1.45m85.9 6h1.45"/><path stroke="#2d368e" d="M128.3 568.7h1.45m-38 19.6h1.45m74.7 1.6h1.45m-115.4 15.8h1.45m-6.7 8.7h1.45m108.8 10.2h1.45m-4.3 1.9h1.45m-5.6 5h1.45m-21.3 41.1h1.45"/><path stroke="#2e3e95" d="M79.7 592.6h1.45m-34.1 31.3h1.45m-5.9 14.3h1.45m0.2 4.3h1.45m89 14.7h1.45m-82.8 2.8h1.45m1 1.3h1.45m77.2 0.9h1.45m-74.9 6.2h1.45m68.7 0h1.45m-2.5 0.2h1.45"/><path stroke="#30479c" d="M161.5 577.2h1.45m2.2 10.6h1.45m-96 11.1h1.45m92.8 8.7h1.45m-118 14.7h1.45m98.5 5.7h1.45m-6 3.8h1.45m-100.8 2.4h1.45m94.1 5.6h1.45m-4.5 1.5h1.45m-90.6 6.2h1.45m-0.8 0.2h1.45m-0.5 1.5h1.45m2.3 6.2h1.45m79 1.6h1.45m-71 8.1h1.45m62.2 0.1h1.45m-2.2 2h1.45m-52.1 8.3h1.45"/><path stroke="#3151a1" d="M153.7 568h1.45m1.8 3.3h1.45m-31.5 15.3h1.45m-26.6 4.3h1.45m61.2 5.3h1.45m-2.1 12.4h1.45m-113.8 9.9h1.45m96.4 4.7h1.45m-5.8 4.5h1.45m-98.1 6.3h1.45m-1.5 1.3h1.45m-1.4 4h1.45m77.6 22.7h1.45m-63.9 3.3h1.45m56.7 2.9h1.45m-51.2 3h1.45m46.1 0.7h1.45"/><path stroke="#335aa7" d="M150.9 568.2h1.45m-16.8 0.9h1.45m-3.5 1.6h1.45m27.2 15.3h1.45m-51.8 5.1h1.45m-34.8 7.2h1.45m-10.1 5h1.45m-13.2 11.5h1.45m-7.1 9.5h1.45m90 1.3h1.45m-94.9 19.3h1.45m79.1 3.3h1.45m-53.3 22.4h1.45m2.8 2.2h1.45"/><path stroke="#3564ad" d="M144 566.4h1.45m-5.5 2h1.45m-6.4 3.1h1.45m-2.4 3.7h1.45m23 4.6h1.45m-31.1 10.8h1.45m-3.2 0.4h1.45m-18.1 1.3h1.45m-15 0.9h1.45m25.4 0.4h1.45m-27.4 1.4h1.45m63.2 2.7h1.45m-82.2 0.6h1.45m-20.2 12.9h1.45m93.1 2.2h1.45m-104.3 8.2h1.45m-4.3 6.7h1.45m-1 0.2h1.45m82.1 5.5h1.45m-84.8 2.5h1.45m-1.2 7.4h1.45m1.5 3.5h1.45m3.3 7.9h1.45m55.2 12h1.45m-29.1 5.5h1.45m-3 0.1h1.45m4.8 0.6h1.45m-7.2 0.4h1.45"/><path stroke="#366fb0" d="M148.7 569.8h1.45m-1 0.4h1.45m2.8 4.2h1.45m-21.6 8.6h1.45m-2.2 2h1.45m-4.1 8.1h1.45m-3.3 0.1h1.45m-23.9 1h1.45m16.7 0.1h1.45m-2.6 0.3h1.45m-31.7 1.8h1.45m-12.2 2.8h1.45m-8.3 4.3h1.45m-7.4 3.1h1.45m90 0.8h1.45m-94.8 1.1h1.45m-4.1 3.1h1.45m89.7 1.2h1.45m-1 1.1h1.45m-4 0.4h1.45m-100.3 10.8h1.45m-1.2 0.9h1.45m-2.2 2.7h1.45m5.5 23h1.45m62.1 1.3h1.45m-53.5 8.7h1.45m-2.6 0.1h1.45m45.2 3.4h1.45m-8.9 3.3h1.45m-26.8 0.3h1.45m3.6 2.2h1.45m4.7 0.3h1.45m-7.6 0.1h1.45"/><path stroke="#387ab1" d="M140.2 572.9h1.45m9 0.3h1.45m-16.1 5h1.45m-4.2 8.9h1.45m25.3 5.8h1.45m-35.2 2.2h1.45m-39 3.1h1.45m-6.3 2.7h1.45m74.9 0.3h1.45m-103.5 23.1h1.45m78.1 2.3h1.45m-82.4 0.2h1.45m-0.2 18.5h1.45m2 5.6h1.45m59.1 2.2h1.45m-59 0.8h1.45m55.9 0.5h1.45m-48.7 6.7h1.45m1.5 2.1h1.45m19.3 6h1.45m-4 0.7h1.45m4.7 0.3h1.45m-10.9 0.5h1.45"/><path stroke="#3985b3" d="M140.4 573.6h1.45m12.7 6.9h1.45m2.4 8.8h1.45m-1.1 2.3h1.45m-1.4 1.9h1.45m-55.5 2.5h1.45m0.3 0.3h1.45m5.4 0.4h1.45m-14 0.5h1.45m-9.6 1h1.45m-8.4 2.1h1.45m71 4.5h1.45m-87 2.2h1.45m-5.2 3.7h1.45m78.7 2.2h1.45m-5.3 1.2h1.45m-2.8 0.3h1.45m-1.6 2.4h1.45m-83.2 1.9h1.45m71.4 8.8h1.45m-2.9 1.9h1.45m-0.5 0.6h1.45m-1.8 0.1h1.45m-77.5 0.5h1.45m-0.9 11.9h1.45m-0 1.3h1.45m1.2 5.1h1.45m-1.3 0.2h1.45m-0.5 0.7h1.45m55.1 1.8h1.45m-0.6 0.8h1.45m-50.4 5.2h1.45m42.9 2h1.45m-42.1 0.5h1.45m38.6 0.3h1.45m-41.2 1.1h1.45m34 1.3h1.45m-2.5 0.3h1.45m-27.8 1.5h1.45m20.1 2.2h1.45m-14.8 0.8h1.45m-1 0h1.45"/><path stroke="#3b8fb1" d="M150.2 576.6h1.45m3.6 6.4h1.45m-20.5 3.7h1.45m-1.5 0.2h1.45m-29.5 10.6h1.45m10.9 0.8h1.45m-4.7 0.4h1.45m6 0.7h1.45m3.2-0h1.45m-0.8 0.7h1.45m-58.1 8.1h1.45m-1.4 0.1h1.45m71.5 1.9h1.45m-3.4 1h1.45m-82.3 7.1h1.45m71.7 3.4h1.45m-76.8 1h1.45m-2.9 5.8h1.45m71 0.6h1.45m-8.4 9.6h1.45m-66 3.1h1.45m3.9 7.2h1.45m51.3 3.8h1.45m-49 2.9h1.45m4.5 4h1.45m-0.3 1.2h1.45m-0.6 0.3h1.45m29.8 0.1h1.45m-2.1 0.5h1.45m-27.5 0.9h1.45m20.8 0.5h1.45m0.2 1.7h1.45m-20.2 1.1h1.45m11.9 0.4h1.45"/><path stroke="#3e96ab" d="M147.6 578h1.45m4 3.2h1.45m-18.4 15.9h1.45m-29.8 1.9h1.45m1.6 0.2h1.45m-12.7 0.3h1.45m21.7 0.6h1.45m-0.7 0.6h1.45m-30.4 0.1h1.45m34.2 0.3h1.45m0.8 0.1h1.45m-41.9 0.6h1.45m43.4 0.7h1.45m-54.3 1.2h1.45m63.1 3.6h1.45m-79.8 5.6h1.45m66.4 2.8h1.45m-73.2 1.1h1.45m69.3 1.2h1.45m-4.7 6.5h1.45m-3.8 3.2h1.45m-6.3 7.8h1.45m-3.6 2.2h1.45m-62.6 6.7h1.45m55.7-0h1.45m-3.2 4.1h1.45m-3.7 1.1h1.45m-50.1 0.6h1.45m0.7 1.2h1.45m-1.7 0.4h1.45m4.9 4.7h1.45m30.6 4h1.45m-27.9 0.3h1.45m2.7 0.6h1.45m19.3 0.2h1.45m-20.8 0.7h1.45m12.2 0.4h1.45m-2.5 0.3h1.45"/><path stroke="#419da4" d="M145.7 578.1h1.45m-7 4.7h1.45m-2.8 1.6h1.45m14.4 3.1h1.45m-1.3 3.6h1.45m-17.5 2.4h1.45m-2 1.5h1.45m-1.2 1.2h1.45m0 2.5h1.45m13 0.4h1.45m-17.8 0.5h1.45m14.1 0.2h1.45m-56.9 1.9h1.45m25.5 0.6h1.45m-1.4 0.2h1.45m16 0.8h1.45m-59.7 0.9h1.45m0.1 0.4h1.45m56.2 0.3h1.45m-7.8 0.3h1.45m-7.8 0.3h1.45m15.7 0.1h1.45m-10.9 2.4h1.45m-2.9 1h1.45m-61.7 0.3h1.45m60.6 0.3h1.45m-63.8 0.3h1.45m59.3 1.4h1.45m-2.8 1.3h1.45m-0.7 1.2h1.45m-5.5 8.7h1.45m-3.1 2.9h1.45m-3.4 3.3h1.45m-65.6 14.2h1.45m4.8 8.2h1.45m-0.3 0.6h1.45m40.2 0.4h1.45m-4 1.3h1.45m-4.7 4h1.45m-19.2 2.8h1.45m6.7 0h1.45m-4.8 2h1.45"/><path stroke="#44a49d" d="M143.6 580.1h1.45m-1.7 1.3h1.45m2.5 0.2h1.45m-7.1 0.8h1.45m-2.2 1.2h1.45m0.8 0.1h1.45m6.1 0.5h1.45m-11.6 0.2h1.45m12.3 8.9h1.45m-1.9 2.6h1.45m-13.6 1.8h1.45m-0.2 1.1h1.45m7.7-0h1.45m-10.1 1.8h1.45m-18.8 2.5h1.45m19.7 0h1.45m-0.2 0.5h1.45m-58.2 0.1h1.45m34.3 0.7h1.45m2.6 1.8h1.45m-2.5 0.4h1.45m-2.1 0.8h1.45m0.8 0.1h1.45m-1.5 0.2h1.45m-58.9 3.9h1.45m57.3 1.1h1.45m-2.4 6.1h1.45m-66.2 0.3h1.45m61.4 5.4h1.45m-5.6 5.2h1.45m-64.2 2.3h1.45m-0.8 0.4h1.45m-1.4 3.1h1.45m54.9 2.9h1.45m-1.5 0.1h1.45m-2.2 1.5h1.45m-49.6 8.1h1.45m-0.6 1.5h1.45m0.3 1.2h1.45m34.2 1.6h1.45m-35.4 0.5h1.45m32.1 1h1.45m-2.7 0.3h1.45m-23.5 3.1h1.45m1.2 0.7h1.45m9.1 0.7h1.45m2.9 0.1h1.45"/><path stroke="#4bab92" d="M142.7 584.8h1.45m1.5 0.2h1.45m-4.5 0.4h1.45m-2 1.2h1.45m-0.5 1h1.45m-1.4 0.6h1.45m-2.2 3.1h1.45m9.5 1.2h1.45m-13.1 0.1h1.45m-0.9 1.9h1.45m-0.5 1.8h1.45m0.6 1h1.45m-4 0.6h1.45m6.5 1.1h1.45m-53.6 4.3h1.45m-6.4 1h1.45m28.8 1h1.45m3.3 2.2h1.45m-47.8 1.3h1.45m-3.9 0.4h1.45m50.1 6h1.45m-1.1 0.9h1.45m-61.8 1.2h1.45m-2 0.6h1.45m-3.6 1.8h1.45m-3.9 8.3h1.45m56.9 1.3h1.45m-3.4 5.1h1.45m-58.3 1.9h1.45m0.2 1h1.45m52.2 0.5h1.45m-57 0.3h1.45m-0.9 0.2h1.45m45.9 9.9h1.45m-2.2 0.7h1.45m-36.9 1.9h1.45m-1.7 0.2h1.45m-1.2 0.2h1.45m30.7 0.8h1.45m-3.5 0.8h1.45m-24.5 1.5h1.45m21.6 0.5h1.45m-25.3 0.9h1.45m6.8 0.3h1.45m-4.9 1h1.45m12.6 0.1h1.45m-8.9 0.4h1.45m-6.1 0.3h1.45"/><path stroke="#55b081" d="M145.5 587.3h1.45m-0 1.6h1.45m1.7 0.9h1.45m-7 0.4h1.45m1.5 0.8h1.45m-4.4 0.1h1.45m0.3 0h1.45m-2.8 2.3h1.45m2.1 1.2h1.45m-41.1 9h1.45m-8.7 0.4h1.45m-0.5 0h1.45m-8.7 0.4h1.45m8.7 0.3h1.45m9.4 0h1.45m-22.7 0.3h1.45m-11.6 3.8h1.45m41.8 1.3h1.45m-0.6 1.5h1.45m-1.7 3.2h1.45m-60.7 5.3h1.45m-3.3 4.8h1.45m-1.5 0.6h1.45m-0.4 0h1.45m-1.9 0.5h1.45m-2.7 4.3h1.45m-0.2 1.9h1.45m-2.5 0.3h1.45m52.7 1h1.45m-1.3 0.3h1.45m-3.6 0.4h1.45m-53.7 1.6h1.45m0.6 2.8h1.45m-2.7 0.8h1.45m2.5 4.5h1.45m41.8 0h1.45m-44.4 0.9h1.45m38.2 0.6h1.45m-1.5 0.4h1.45m-38 1.8h1.45m34.5 1.2h1.45m-5.5 2.7h1.45m-26.3 0.9h1.45m14.3 2.4h1.45m-13.3 0.2h1.45m1.2 0h1.45m2.7 0.1h1.45m-3 0.1h1.45m5.5 0.2h1.45"/><path stroke="#5eb571" d="M102 605.3h1.45m11.1 0.1h1.45m-24 0.7h1.45m20.8 0h1.45m3.9 0.7h1.45m-4.8 0.2h1.45m-0.9-0h1.45m-27.3 0.3h1.45m-3.6 1.1h1.45m-3.8 0.1h1.45m-0.8 0.5h1.45m35.6 1.1h1.45m-42.9 0.2h1.45m40.6 0.5h1.45m-0 0.5h1.45m-46.9 0.2h1.45m42.6 0.4h1.45m-47.6 1.6h1.45m48 1h1.45m-3.9 4.7h1.45m-56.6 2.9h1.45m-0.8 0.2h1.45m-3.3 4.2h1.45m52.6 0.5h1.45m-55.8 0.4h1.45m-1 0.6h1.45m52.2 0.9h1.45m-3.3 1.1h1.45m-2 0.1h1.45m-53.4 0.7h1.45m48.4 3.6h1.45m-1.5 0.9h1.45m-51.2 1.3h1.45m-0.5 0.5h1.45m0.7 3.3h1.45m-2 1.6h1.45m-1 0.3h1.45m0.5 1.9h1.45m35.9 0.7h1.45m-36.6 0.9h1.45m30.3 3h1.45m-30.4 0.1h1.45m-1.1 0.3h1.45m23.1 1.4h1.45m-23.5 0.1h1.45m18.4 0.4h1.45m-20.6 0.5h1.45m18.7 0.3h1.45m-18.2 0.3h1.45m14.5-0h1.45m-17.5 0.6h1.45m14.9-0h1.45m-6 0.1h1.45m-10.4 0.4h1.45"/><path stroke="#68bb61" d="M110.1 606.6h1.45m1.4 0.7h1.45m-18.6 0.2h1.45m16.9 0.2h1.45m4 0.8h1.45m-0.4 0.7h1.45m-37.7 1h1.45m37 1.5h1.45m-0.2 1.4h1.45m-1.7 0.5h1.45m-47.4 1.5h1.45m-2.7 1.7h1.45m-1.5 0.8h1.45m-1 0.1h1.45m46.6 4h1.45m-3.4 2.3h1.45m-0.9 0.2h1.45m-3.2 2h1.45m-1.5 1.7h1.45m-52.9 0.7h1.45m47.8 0.3h1.45m-51 0.2h1.45m-1.9 0.4h1.45m49 0.4h1.45m-50.9 5.5h1.45m41.3 4.6h1.45m-2.2 1h1.45m-40.9 0.8h1.45m2.6 3.7h1.45m0 2h1.45m-1.7 0.1h1.45m0.1 0.3h1.45m1.8 0.1h1.45m-0.8 1.8h1.45m13.2 0.2h1.45m-6.9 1.4h1.45m5.2-0h1.45m-9.1 1h1.45"/><path stroke="#75c056" d="M104.3 607.1h1.45m1.5 0.2h1.45m-2.7 0.5h1.45m-0.9 0.3h1.45m2.7 0.3h1.45m-17.4 0.4h1.45m-3.3 0.1h1.45m19.2 0.8h1.45m-3.2 0.1h1.45m4.6 1.1h1.45m-0.5 0h1.45m0.1 0.5h1.45m-4 0.3h1.45m0.6 0.2h1.45m-36.9 0.5h1.45m33.4 0.2h1.45m1.2 0.4h1.45m-2.1 0.7h1.45m0.6 1.9h1.45m-46.5 1.8h1.45m43.5 0.3h1.45m-46.9 0.1h1.45m43 1h1.45m-1.4 1.9h1.45m-48.1 0.1h1.45m-2.8 1h1.45m45 0.3h1.45m-1 0.5h1.45m-49.3 2.5h1.45m-2.3 1.9h1.45m44.1 1.5h1.45m-2.3 1.8h1.45m-1.8 0.7h1.45m-2.1 1.9h1.45m-45.1 0.1h1.45m41 0.8h1.45m-44.6 0.6h1.45m-1.3 0.5h1.45m40.3 0.2h1.45m-1.4 0.4h1.45m-41.9 0.2h1.45m-1.1 0.9h1.45m-1.9 0.4h1.45m38.4 1.2h1.45m-37.7 4.3h1.45m28.8 0.9h1.45m-30.3 0.5h1.45m25.2 0.8h1.45m-1.5 0.6h1.45m-2.6 1.8h1.45m-22.1 0.4h1.45m1 0h1.45m-3.8 0.1h1.45m5.2 0.5h1.45m7.5 0.1h1.45m-12.6 0.1h1.45m9.3 0h1.45m-2.3 0.3h1.45m-10.2 1.3h1.45m5.7 0.1h1.45"/><path stroke="#84c450" d="M100.8 608.1h1.45m-9.8 1.7h1.45m10.9 0.2h1.45m-16.9 0.4h1.45m25.3 1.6h1.45m-4.1 0.8h1.45m4 2.1h1.45m-1.8 0.8h1.45m1.1 1.4h1.45m-44.1 1.5h1.45m39.9 0.7h1.45m-2.8 0.4h1.45m-41.8 1.4h1.45m-3.8 1.9h1.45m41.2 0.5h1.45m-2.6 0.8h1.45m-1.2 0h1.45m-43.8 1.1h1.45m40.1 0.4h1.45m-1 1.3h1.45m-43.5 0.9h1.45m-1.1 0.7h1.45m40.3 0.3h1.45m-4.2 2.5h1.45m-1.8 1.7h1.45m-3.2 1.6h1.45m-39.4 0.2h1.45m-0.8 1.9h1.45m-0.7 0h1.45m-1.3 1.8h1.45m-0 0.7h1.45m1.1 1.6h1.45m24.1 1.3h1.45m-0.4 0.7h1.45m-27.1 0.7h1.45m-2.1 0.2h1.45m1 0.5h1.45m-0.6 0.1h1.45m-2 1.1h1.45m-0.2 0.3h1.45m-0.8-0h1.45m-1.2 0.5h1.45m11 0.2h1.45m-7.3 0.4h1.45m2.4-0h1.45m-3.6 0.2h1.45m-3.9 0.2h1.45m2.4 0.1h1.45m-8.3 0.2h1.45m-2.3 0.2h1.45m7.6 0.7h1.45"/><path stroke="#93c949" d="M98.8 609h1.45m-1.5 0.4h1.45m-8 1.1h1.45m9.8 0.4h1.45m-17.4 1.3h1.45m-1.2 0.2h1.45m-2.7 1.3h1.45m-4.8 1.6h1.45m32.4 0.2h1.45m-2.9 0.1h1.45m-33 0.3h1.45m30.1 0.2h1.45m-1.2 1.4h1.45m0.2 0.7h1.45m-39 1.5h1.45m35.2 1h1.45m-1.4 1.2h1.45m-2 4.3h1.45m-3.2 1.5h1.45m-39 0.3h1.45m36.2 0.1h1.45m-3.1 0.2h1.45m-1.2 2.2h1.45m-0.5-0h1.45m-37.9 0.5h1.45m-2.6 0.4h1.45m0.3 0.7h1.45m-1.3 1.1h1.45m-0.6 1.2h1.45m-3.3 1.9h1.45m27.9 1.1h1.45m-1.1 1h1.45m-29.9 0.5h1.45m-1.2 0.2h1.45m0.3 0.1h1.45m23.5 1.7h1.45m-4.4 1.1h1.45m-4.4 0.8h1.45m-14.2 0.6h1.45m0.2 2.3h1.45m1.2 0.2h1.45m2.2-0h1.45m-6.5 0.1h1.45m-0.1-0h1.45"/><path stroke="#a2ce43" d="M98.5 610.3h1.45m-2.9 0.1h1.45m0.3 0h1.45m0.2 0.2h1.45m-2.9 0.1h1.45m-4.8 0.1h1.45m9 0.7h1.45m-15.3 0.2h1.45m14.5 0.3h1.45m-4.4 0.7h1.45m4.5 1.8h1.45m-2.9 0.1h1.45m1.7 0.5h1.45m-3.6 0.2h1.45m-0.4 2.9h1.45m-1.4 0.5h1.45m1.2 0.9h1.45m-2 0.4h1.45m-3.2 0.9h1.45m-34.3 0.4h1.45m-0.6 1.6h1.45m30 3.7h1.45m-34.4 0.5h1.45m32.6 0.7h1.45m-3.3 1.2h1.45m-33.7 0.4h1.45m30.8 0.2h1.45m-1.4-0h1.45m-2.9 1.5h1.45m-30.1 2.1h1.45m-1.7 0.6h1.45m25 0.5h1.45m-28.6 0.2h1.45m24.7 0.1h1.45m-0 0.5h1.45m-2.9 0.4h1.45m-27.7 0.2h1.45m25.1 1.3h1.45m-24.5 0.1h1.45m-0.3 0.9h1.45m-1.5 0.8h1.45m14.6 0.9h1.45m0.9-0h1.45m-15.6 0.3h1.45m-2.4 0.1h1.45m10.8 0.4h1.45m-6.5 0.7h1.45m-9.2 0.4h1.45m5.5 0.1h1.45m5.5-0h1.45m-11.3 1.1h1.45m-2.1 1.1h1.45"/><path stroke="#b3d33d" d="M99.7 611.4h1.45m1.4 0h1.45m-3.7 0.1h1.45m2.1 0.7h1.45m-15 0.2h1.45m-1.4 0.4h1.45m12.3 0.1h1.45m-16.8 0.3h1.45m16.7 1.6h1.45m-24.3 2.8h1.45m25.7 0.6h1.45m-30.3 0.5h1.45m26.7 0.3h1.45m-2.1 0.4h1.45m-2.8 0.2h1.45m0.3 0.3h1.45m-3.2 0.2h1.45m-27.8 0.8h1.45m24.8 2.6h1.45m1 0.4h1.45m-4 0.4h1.45m-2.1 0.3h1.45m-28.3 1.1h1.45m-1.6 2.1h1.45m25 0.2h1.45m-25.9 1.9h1.45m22.9 1h1.45m-3 0.2h1.45m-1 0.1h1.45m-0.8 0.6h1.45m-24.9 0.9h1.45m20.1 0h1.45m-22.8 0.4h1.45m-0.2 0.5h1.45m-0.2 0.1h1.45m14.7 0.2h1.45m-16.3 0.3h1.45m11 0.5h1.45m-0.8 0.1h1.45m1.1 0.2h1.45m-19.2 0.2h1.45m14.1 0.1h1.45m-1.4-0h1.45m-14.7 0.3h1.45m-2.7 0.6h1.45m1.6 0.3h1.45m2.6 0.5h1.45m-0.2-0h1.45m-10.8 0.1h1.45m12.3 0.4h1.45m-0.5-0h1.45m-0.9 0.1h1.45m-16.9 0.3h1.45m1 0.1h1.45m3.2-0h1.45m5.2 0.3h1.45m-13.7 0.4h1.45m1.9 0.9h1.45m-1.2 0.2h1.45m0.1 0.7h1.45"/><path stroke="#c5d838" d="M93.2 612.1h1.45m-1.2 0h1.45m11.8 3.8h1.45m-22.7 0.2h1.45m20.1 0.5h1.45m-1.7 0.6h1.45m-1.6 0.2h1.45m-0.2 0.7h1.45m-2.9 4h1.45m-24.8 0.1h1.45m23.7 0.4h1.45m-27.5 0.3h1.45m-1.6 0.4h1.45m23 0.1h1.45m-2 0.2h1.45m-0.7 0.2h1.45m-2.8 1.9h1.45m-2.9 1.8h1.45m-21.9 1.2h1.45m18.1 0.1h1.45m0.8-0h1.45m-3.5 0.1h1.45m-4.2 0.2h1.45m-1.3 0.3h1.45m0.3 0.1h1.45m-5.4 0.6h1.45m0.4 0.6h1.45m-17 0.1h1.45m9.4 0.4h1.45m3.3-0h1.45m-15.4 0.3h1.45m13.6-0h1.45m-3.9 0.1h1.45m-8 0.5h1.45m-1 0.9h1.45m3.8 0.2h1.45m-5.1 0.4h1.45m-0.3 0.1h1.45m2 0.1h1.45m-2.3 0.8h1.45m-7 0.1h1.45m-4.5 0.1h1.45m4.8 0.1h1.45m-5.7 0.4h1.45"/><path stroke="#d6dd33" d="M95.8 612.4h1.45m4.5 0.8h1.45m-16.9 2.9h1.45m17.7 6h1.45m-2.5 0.2h1.45m-21.8 3h1.45m17.1 0.1h1.45m-20.4 0.1h1.45m18.9 0.1h1.45m-2.7 0.1h1.45m-0.3 0.1h1.45m-3.2 1.2h1.45m-2.7 0.8h1.45m-17.1 0.2h1.45m10.8 0.5h1.45m1.8 0.5h1.45m-4.4 0.1h1.45m-5.6 1.1h1.45m-7 0.2h1.45m-1.3 0.1h1.45m0.2 0.2h1.45"/><path stroke="#e8e22e" d="M97.3 613.2h1.45m-2.7 0.1h1.45m-2.6 0.2h1.45m7.9 1.9h1.45m-18.9 2.5h1.45m16.5 2.1h1.45m-4.3 4.8h1.45m-2.7 0.2h1.45m-0.4 0.3h1.45m-18.4 0.1h1.45m14.7 0.8h1.45m-11.2 1.9h1.45"/><path stroke="#eed62c" d="M96.8 613.1h1.45m4.2 3.6h1.45m-16.2 0.8h1.45m-3.2 1.6h1.45m-1.3 0.5h1.45m16 1.3h1.45m-2.3 0.7h1.45m-18 0.6h1.45m12.6 3.2h1.45m-14.6 0.2h1.45m8.3 1.1h1.45m0.7 0.1h1.45m-6.1 0.3h1.45m-0.3 0.4h1.45"/><path stroke="#f0c62b" d="M97.8 614.1h1.45m-4.5 0.2h1.45m-2.5 0.6h1.45m-3.5 1h1.45m9.5 4.2h1.45m-1.3 0.3h1.45m-2.5 2.6h1.45m-2.8 0.3h1.45m-1.6 1.1h1.45m-1.5 0.1h1.45m-3.7 1h1.45m-8.5 0.7h1.45m0.4 0.4h1.45m-1.4-0h1.45"/><path stroke="#f2b52a" d="M101.1 616.4h1.45m-0.5 3.4h1.45m-16.2 1h1.45m-2 2.1h1.45m-0.8 0.5h1.45m0.8 2h1.45m-2.8 0.2h1.45"/><path stroke="#f19d29" d="M99.5 617h1.45m-0.8 0.1h1.45m-13.4 5.4h1.45"/><path stroke="#ee8128" d="M94.3 616.2h1.45m-0.8 0.2h1.45m-4.9 0.8h1.45m6.3 1.4h1.45m-10.9 1h1.45m-2.8 1.8h1.45m1.3 2.2h1.45"/><path stroke="#e96627" d="M93.7 617h1.45m-1 0h1.45m-2.3 0.1h1.45m2.8 0h1.45m-5.7 0.5h1.45m2.9 0.4h1.45m-1 0.1h1.45m-2.1 0.6h1.45m-7.7 0.9h1.45m3.9 2.4h1.45m-1.5 0.2h1.45m-4.1 1.4h1.45"/><path stroke="#e14d26" d="M92.5 618.1h1.45m1.5 0.6h1.45m-5 0.8h1.45m3.5 0.1h1.45m-6.6 2.3h1.45m0.9 0.5h1.45m-3 0.3h1.45"/><path stroke="#d93426" d="M92.9 619.5h1.45m-1.7 1.7h1.45"/></g>
<g fill="none" stroke-width="1" transform="translate(0 .5)"></g>
<g fill="none" stroke-width="1.45"><path stroke="#2a267c" d="M410.6 605.7h1.45"/><path stroke="#2a277d" d="M417.8 533.9h1.45m10.4 1.3h1.45m-46 13.5h1.45m-5.9 2h1.45m67.5 13.1h1.45m-2.5 1.1h1.45m-4.7 1h1.45m-23.6 24.2h1.45m-42.8 8.6h1.45"/><path stroke="#2a277f" d="M410.2 541h1.45m25.2 1h1.45m0 1.8h1.45m0.9 4.2h1.45m1.5 4.7h1.45m-78.3 27.2h1.45m0.3 2.3h1.45m34.5 9.9h1.45m-27.4 0.4h1.45"/><path stroke="#2b2880" d="M428.7 542.5h1.45m2.2 0.7h1.45m1.5 0.8h1.45m-33.1 0.8h1.45m33.2 3.6h1.45m-61.3 12.2h1.45m-3.5 2.1h1.45m-0.8 0.7h1.45m-10 11.9h1.45m-0.8 4.7h1.45m55.6 0.5h1.45m-12.4 5.8h1.45m-3.4 2.7h1.45m-37.7 0.2h1.45m18.6 2.1h1.45m-2.3 0.2h1.45m5.9 0.2h1.45m-7.9 0.8h1.45"/><path stroke="#2b2982" d="M408.7 545.4h1.45m22.7 0.1h1.45m0.2 1.2h1.45m-31.7 0.7h1.45m-8.2 2.2h1.45m-9.1 5.2h1.45m48.7 0.6h1.45m-58 2.9h1.45m-3.2 1.5h1.45m-2.3 1.6h1.45m-1.7 0.2h1.45m55.9 1h1.45m-61.9 0.8h1.45m-5.2 7.1h1.45m58.6 0.4h1.45m-62.4 1.2h1.45m-2.4 0.9h1.45m-0.2 3.4h1.45m51.4 2h1.45m-53.2 1.1h1.45m-3.5 0.4h1.45m48.2 0.4h1.45m-48.8 2.1h1.45m36 3.2h1.45m-7.4 2h1.45m-4.6 1.3h1.45m-21.7 0.3h1.45m10 1.4h1.45"/><path stroke="#2b2a83" d="M417.9 543.1h1.45m-4.2 1.1h1.45m-13.8 5.1h1.45m33.2 7.6h1.45m-49.3 1h1.45m-8.3 2.3h1.45m53.5 0.6h1.45m-56 0.7h1.45m-1.7 0.6h1.45m-2.3 0.2h1.45m52 2.3h1.45m-60.8 3.5h1.45m-3.8 8.4h1.45m46.9 3.2h1.45m-3 0.1h1.45m-47.5 0.7h1.45m36.5 2.7h1.45m-3.5 1.5h1.45m-34.1 0.2h1.45m1 0.4h1.45m-1.9 0.6h1.45m24.6 0.6h1.45m-26.1 0.2h1.45m17.2 0.9h1.45m-15.4 0.4h1.45m10.9 0.6h1.45"/><path stroke="#2c2e88" d="M413.5 545.7h1.45m-3.6 1.1h1.45m-5.5 0.3h1.45m-5.2 1.9h1.45m-0.3 0h1.45m-3.8 1.9h1.45m-3 0.3h1.45m-3.2 1.6h1.45m36.8 1.4h1.45m-42.5 0.6h1.45m-5.1 1.4h1.45m-2.2 0.2h1.45m43.3 0.5h1.45m-51.5 2.4h1.45m-5.6 4.2h1.45m50 3.7h1.45m-2.7 1.7h1.45m-55.7 2.9h1.45m44.4 4.5h1.45m-48.3 0.9h1.45m-2.4 3h1.45m40 0h1.45m-1.4 0.2h1.45m-1.2 0.5h1.45m-5.7 0.9h1.45m-1.9 0.2h1.45m-37.4 0.1h1.45m31.7 0.5h1.45m-0.6 0.2h1.45m-3 1h1.45m-3.6 0.7h1.45m-27.5 0.1h1.45m0.9 1.1h1.45m8 0.4h1.45m-1.4 1.6h1.45"/><path stroke="#2d368e" d="M423.4 545.3h1.45m-4.2 0.5h1.45m7.2 1.4h1.45m-25.6 3.4h1.45m-1.7 0.4h1.45m-4 0.1h1.45m-5.5 3.1h1.45m-0.4 0h1.45m-8.1 4.6h1.45m-6.5 2.9h1.45m-2.5 0.1h1.45m47 1.8h1.45m-51.6 1.1h1.45m47.1 0.4h1.45m-52.1 0.3h1.45m49.8 0h1.45m-54.5 3.9h1.45m-2.7 0.5h1.45m48.2 0.7h1.45m-50.9 0.2h1.45m-1.8 0.7h1.45m45.1 3.2h1.45m-3.1 0.6h1.45m-1 0.2h1.45m-1.4 0.1h1.45m-46.8 3h1.45m36.1 1.3h1.45m-40.1 0.3h1.45m-1 0.7h1.45m28.9 0.4h1.45m-29 2.7h1.45m15.2 0.4h1.45m-12.9 0.1h1.45m12.9 0.3h1.45m-4.3 0.2h1.45m-0.5-0h1.45m0.8 0.1h1.45m-9.1 0.1h1.45m3.1 0.2h1.45m-6.9 0.3h1.45m-7.7 0.1h1.45m7.8 0.1h1.45"/><path stroke="#2e3e95" d="M425.7 546.1h1.45m-10 0.2h1.45m6.7-0h1.45m-17.5 1.8h1.45m-4.3 1.7h1.45m0.2 0.1h1.45m23.7 1.6h1.45m-1.8 0.3h1.45m-31.1 1h1.45m-4.5 1.5h1.45m-5 1.7h1.45m-4.1 2.8h1.45m-0.4 0.1h1.45m-3.8 0.7h1.45m40.6 0.9h1.45m-44 0.2h1.45m-3.8 1.2h1.45m43 1.6h1.45m-1.9 0.1h1.45m-48.7 0.8h1.45m-7.6 7.2h1.45m46.7 0.3h1.45m-50.2 1.9h1.45m-1.7 0.2h1.45m-0.4 2.9h1.45m35.9 2h1.45m-4.7 0.4h1.45m-33.7 1.1h1.45m27.8 0.3h1.45m-5.9 0.5h1.45m-2.6 0.1h1.45m-7.6 0.7h1.45m3.6-0h1.45m-4.3 0.5h1.45m-4.2 0.2h1.45m-2.1 0.6h1.45m-5.7 0.4h1.45m-4 0.1h1.45m4.1-0h1.45m0.5 0.1h1.45m-10.3 0.2h1.45m1.2 0.2h1.45m-0.6-0h1.45"/><path stroke="#30479c" d="M419.1 546.2h1.45m-7.7 0.8h1.45m8.4 0h1.45m2.8 0.8h1.45m-15.1 0.2h1.45m-3.6 0.6h1.45m17.1 1.2h1.45m1 1.2h1.45m-28.4 0.1h1.45m-1.5 0.7h1.45m-2.9 1h1.45m-1.3 0.1h1.45m-4.7 1.5h1.45m31.6 2.3h1.45m-37.1 0.8h1.45m-2.2 1.3h1.45m35.4 0.3h1.45m-42.2 1.5h1.45m38.8 0.2h1.45m-1.6 0.8h1.45m-43.8 0.6h1.45m-1.4 0.4h1.45m-0.7 0.2h1.45m-3 1.1h1.45m-3.9 0.3h1.45m-0.4 0.6h1.45m-6 2.4h1.45m-2.4 1.2h1.45m43.8 2h1.45m-3.4 2.2h1.45m-45.7 0.5h1.45m-0.7 1.4h1.45m-3.1 0.6h1.45m36.2 2.6h1.45m-37.8 0.2h1.45m29 1.7h1.45m-3.4 0.1h1.45m-28.7 0.8h1.45m-0.9 0.1h1.45m21.4-0h1.45m-22.4 0.6h1.45m10.6 1.4h1.45"/><path stroke="#3151a1" d="M417.3 547.8h1.45m-1.6 0.2h1.45m8.9 0.6h1.45m-16.7 0.1h1.45m-0.5 0.2h1.45m-2.1 0.1h1.45m14.5 0.7h1.45m-0.5 1.2h1.45m-26 1.4h1.45m-3.7 0.9h1.45m-3.6 2.4h1.45m-1.7 0.9h1.45m-5.8 3.3h1.45m-2.6 0.4h1.45m-1.7 0.3h1.45m-2.1 1.6h1.45m37.6 0.2h1.45m-40.3 0.2h1.45m-1.9 0.3h1.45m-5.6 1.5h1.45m40.6 0.5h1.45m-44 1.2h1.45m-2.1 0.5h1.45m40.9-0h1.45m-44.9 0.5h1.45m40.9 1.1h1.45m-44.5 0.3h1.45m-2.5 0.3h1.45m-0.6 0.3h1.45m40.7 0.5h1.45m-44.7 0.5h1.45m41.6 0.3h1.45m-43.6 0.2h1.45m-2.3 0.2h1.45m-2.3 0.3h1.45m-1.9 0.5h1.45m-1.4 1.3h1.45m-0.3 1.7h1.45m-1.9 0.3h1.45m32.8 1.4h1.45m-35.6 0.1h1.45m26.9 2.4h1.45m-30.2 0.3h1.45m1.9 0h1.45m-2.6 0.3h1.45m-0.4 0.5h1.45m19.3 0h1.45m-1.4 0h1.45m-17.4 0.2h1.45m-0.8 0.1h1.45m-7.9 0.2h1.45m0.9 0h1.45m-3.2 0.1h1.45m13.5 0h1.45m-5.1 0.4h1.45m-8.3 0.2h1.45m-1.1 0.1h1.45m-2.4 0.3h1.45m3.3 0.5h1.45m-5.2 0.1h1.45m0 0h1.45"/><path stroke="#335aa7" d="M420.3 547h1.45m-0.9 0.3h1.45m-2.5 0.4h1.45m0.2 0.3h1.45m-9.5 0.2h1.45m11 0.2h1.45m-16.2 1.1h1.45m15.7 0.3h1.45m-1 0.2h1.45m-20.8 0.3h1.45m-2.4 0.6h1.45m-3.8 1.3h1.45m-1.8 0.4h1.45m-2.9 0.7h1.45m25.8 0.2h1.45m0.1 4h1.45m-34.8 0.4h1.45m-2.9 1.4h1.45m-4 1.9h1.45m-1.7 0.5h1.45m-2 0.4h1.45m35.4 1h1.45m-41.7 2.6h1.45m37.9 0.2h1.45m-41 0.1h1.45m-2.8 0.7h1.45m-2.8 0.3h1.45m-1.3 0.2h1.45m-1.2 0.4h1.45m38.1 0.5h1.45m-42.8 4.2h1.45m32.8 1.8h1.45m-36 0.2h1.45m-1 1.4h1.45m26.9 1.5h1.45m-30.5 0.1h1.45m0.5 0.4h1.45m22.2 0.4h1.45m-26.3 0.6h1.45m2.1 0.1h1.45m7.4 0.2h1.45m2.8 0.1h1.45m0.2 0.1h1.45m-4.7 0.1h1.45m-14 0.2h1.45m-0.3-0h1.45m-0.7-0h1.45m9.1-0h1.45m-13.7 0.2h1.45m-0.2 0.1h1.45m10.3-0h1.45m-4.8 0.1h1.45m-1.2-0h1.45m-11.1 0.1h1.45m9.5-0h1.45"/><path stroke="#3564ad" d="M424 548.1h1.45m-4.1 0.6h1.45m-6 0.2h1.45m-1.7 0.1h1.45m7.8 0.6h1.45m-14.8 0.2h1.45m-0.8 0.2h1.45m-4.6 0.2h1.45m16.6 0.4h1.45m-2.1 0.1h1.45m-21.1 0.3h1.45m20.4 0.2h1.45m-22.8 0.2h1.45m19.8 0.2h1.45m-26.4 2.2h1.45m-3.5 1.6h1.45m-4.6 3.2h1.45m-2.4 2.2h1.45m-3.4 0.3h1.45m-0.7-0h1.45m-2.3 0.1h1.45m34.3 0.3h1.45m-40 2.6h1.45m-0.2-0h1.45m-1.3-0h1.45m-2 0.1h1.45m34.5-0h1.45m-0.5 0.4h1.45m-38.9 0.8h1.45m-1.9 0.3h1.45m-3.5 2.1h1.45m-0.7 0.2h1.45m-2.8 1.2h1.45m-3.5 0.6h1.45m-1.6 0.3h1.45m-0.1 0.1h1.45m-1.6 0.1h1.45m-1.1-0h1.45m-3.9 1.7h1.45m-0.5 0.5h1.45m-0.8 0.4h1.45m-2.8 0.2h1.45m-1.1 0.3h1.45m-0.9 0.2h1.45m32.5 0.2h1.45m-35.9 0.1h1.45m30.6 0.4h1.45m-32.1 0.1h1.45m-1.9 0.7h1.45m28.4 0.5h1.45m-31.5 0.3h1.45m-2.8 0.1h1.45m-0.3-0h1.45m-0.3 0.2h1.45m-1.4 0.2h1.45m-2 0.2h1.45m25-0h1.45m-25.6 0.1h1.45m23.1 0.1h1.45m-4.7 0.3h1.45m-19.9 0.1h1.45m17.9 0.1h1.45m-1.3-0h1.45m-1.9 0.2h1.45m-2.9 0.1h1.45m-23.3 0.3h1.45m4.7-0h1.45m-4.3 0.1h1.45m-1-0h1.45m18-0h1.45m-22 0.3h1.45m-1 0.1h1.45m2.8-0h1.45m6.1-0h1.45m0.2-0h1.45m-7 0.1h1.45m-3.7 0.1h1.45m-7.6 0.1h1.45m4.3-0h1.45m-0.9-0h1.45m-8.8 0.1h1.45m-0.8-0h1.45m5.1-0h1.45m6.2 0.1h1.45"/><path stroke="#366fb0" d="M418.8 548.1h1.45m0.4 0.3h1.45m-2.4 0.3h1.45m-2.8 0.1h1.45m0.7 0h1.45m-3.1 0.1h1.45m4.6 0.8h1.45m-11.7 0.2h1.45m-2.2 0.1h1.45m11.6 0.3h1.45m-19.7 1.7h1.45m-4.5 1.5h1.45m-1 0.4h1.45m23.1 0.6h1.45m-30.1 1.7h1.45m-1.2 0.2h1.45m-2.4 0.2h1.45m-1.9 0.8h1.45m29.2 2.2h1.45m-1.1 0.6h1.45m-35.5 0.8h1.45m-2.2 1.4h1.45m-3.2 0.6h1.45m-1.3 0.9h1.45m-1.3 0.6h1.45m32.4 0.9h1.45m-37.1 2.3h1.45m32.9 0.6h1.45m-3 1.4h1.45m-36 0.2h1.45m-1.6 0.2h1.45m-1.7 0.4h1.45m-1.3 0.4h1.45m-1.9 0.3h1.45m32.1 0h1.45m-34.6 0.4h1.45m-1.1 0.1h1.45m-1.7 1h1.45m-2.1 0.2h1.45m-0.4 0.2h1.45m-3.1 0.6h1.45m-2.6 0.1h1.45m0.3 0.1h1.45m0.7 0.3h1.45m-3.5 0.2h1.45m-0.4-0h1.45m0.3 0.1h1.45m23.9 0.4h1.45m-29.8 0.3h1.45m1.7 0.2h1.45m3.4 0.6h1.45m-5.1 0.1h1.45m0.6-0h1.45m-0.2-0h1.45m-6.3 0.5h1.45m-1.9 0.2h1.45m-0.2-0h1.45m5.5 0.3h1.45m4.6-0h1.45m-3.1 0.1h1.45m-4.6 0.1h1.45m5.7-0h1.45m-4.3 0.1h1.45m0.7-0h1.45m-7.1 0.1h1.45m4 0.1h1.45m-0.2-0h1.45m-1.3-0h1.45m-5.6 0.1h1.45m-6.8 0.2h1.45m4.3-0h1.45m-1.7 0.1h1.45"/><path stroke="#387ab1" d="M421.8 549.7h1.45m-5.9 0.2h1.45m5.4-0h1.45m-2.9 0.1h1.45m1.5 0.1h1.45m0.2 1h1.45m-18.8 0.1h1.45m17.3 1h1.45m-1.1 0.1h1.45m-26.8 3.3h1.45m-1.9 0.3h1.45m26.1 0.7h1.45m-30 0.6h1.45m27.1 0.2h1.45m-1.7 0.2h1.45m-30.7 0.1h1.45m27.5-0h1.45m-31.7 1.5h1.45m-2.3 1.9h1.45m-1.6 0.3h1.45m-2.8 0.6h1.45m-1.6 0.1h1.45m31.8 0.2h1.45m-1.2 0.6h1.45m-2.6 1.9h1.45m-35.2 0.4h1.45m31.6 1.1h1.45m-34.9 0.1h1.45m-2.5 1.1h1.45m-1.1 2.4h1.45m-2.2 0.6h1.45m-3.2 0.6h1.45m1 0.6h1.45m-3.7 0.1h1.45m0.1-0h1.45m-3 0.7h1.45m0.7 0.1h1.45m-1.3 0.1h1.45m-2.9 0.3h1.45m-1.6 0.2h1.45m0.3 0.5h1.45m-3.3 0.1h1.45m0.9 0.1h1.45m-1.1 0.6h1.45m-1.6 0.4h1.45m-0.6 0.3h1.45m-1.3 0.2h1.45m-2.7 0.1h1.45m19.5 0.1h1.45m-16.1 0.4h1.45m0.3-0h1.45m-1.5 0.1h1.45m6.3 0.1h1.45m0.1 0.4h1.45m-14.6 0.4h1.45"/><path stroke="#3985b3" d="M420.3 549.3h1.45m-2.8 0.2h1.45m0.5 0.2h1.45m-2.9 0.3h1.45m3.2 0.2h1.45m-10.6 0.3h1.45m7.6 0.1h1.45m-0.6 0h1.45m-12.2 0.3h1.45m-0.2 0h1.45m-6 0.3h1.45m15.8 1.6h1.45m-24 1.9h1.45m22.5 0.4h1.45m-0.9 0h1.45m-26.7 0.2h1.45m-2 1h1.45m-2.1 0.6h1.45m-1.9 0.2h1.45m-1.5 0.4h1.45m-1.3 0.1h1.45m-3.3 0.5h1.45m-1.3 0.4h1.45m-0.7 0.2h1.45m-4.3 1.4h1.45m-1.9 2.3h1.45m-1.8 0.1h1.45m-1.5 0.4h1.45m29.9 0.6h1.45m-1.3 0.2h1.45m-3 1.5h1.45m-33.3 1.5h1.45m-2.6 0.7h1.45m-0.9 0.1h1.45m-1.3-0h1.45m-1.9 0.3h1.45m-1 0.5h1.45m27.7 0.9h1.45m-1.3 0.8h1.45m-31.6 0.2h1.45m27.6 0.2h1.45m-30 0.1h1.45m-1.4-0h1.45m27.6 0.2h1.45m-30.6 0.2h1.45m-1.1-0h1.45m-0.4 0.1h1.45m24.6 0.4h1.45m-2.1 0.3h1.45m-27.2 0.2h1.45m-2.9 0.8h1.45m24.8 0.2h1.45m-25.6 0.1h1.45m-2.2 0.4h1.45m0.3 0.7h1.45m-1.5 0.1h1.45m18-0h1.45m-20.8 0.1h1.45m-0.1 0.2h1.45m-2 0.3h1.45m12.5 0.3h1.45m-0-0h1.45m-13.7 0.5h1.45m-1.1 0.1h1.45m-3.6 0.1h1.45m-1-0h1.45m-0.3 0.2h1.45m3.7 0.3h1.45m-1.1 0.1h1.45m-1.1-0h1.45m-0.4-0h1.45m-1.2-0h1.45m-2.9 0.1h1.45m1.3-0h1.45m-4.5 0.1h1.45m-0.4 0.2h1.45"/><path stroke="#3b8fb1" d="M420.4 550.1h1.45m-0.3 0.1h1.45m-6.8 0.1h1.45m-1.6 0.3h1.45m-0.4 0h1.45m-2.5 0.2h1.45m0.6-0h1.45m-3.2 0.1h1.45m-2.1 0.1h1.45m-3.9 0.2h1.45m9.8 0.2h1.45m-15.8 0.8h1.45m-2.1 0.7h1.45m17 0.4h1.45m-1.3 0.4h1.45m-2.1 0.2h1.45m-22.2 0.2h1.45m21 0.2h1.45m-1.5 0.1h1.45m-24.1 0.3h1.45m-1.4-0h1.45m-2 0.4h1.45m-1.6 0.6h1.45m-1 0.1h1.45m-1.5 0.1h1.45m20.7-0h1.45m-0.1 1.1h1.45m-1.5 0.1h1.45m-1 0.5h1.45m-1.6 1.4h1.45m-1.4 0.1h1.45m-1.6 0.3h1.45m-29.7 0.2h1.45m27.2-0h1.45m-2.3 0.3h1.45m-0.6 0.1h1.45m-1.9 0.6h1.45m-1.5 0.2h1.45m-31.3 0.2h1.45m28.6 0.1h1.45m-31.4 0.4h1.45m27.9-0h1.45m-1.4-0h1.45m-1 1.5h1.45m-32.3 1.3h1.45m-3.1 1.3h1.45m-1.3 0.7h1.45m-1 0.5h1.45m-1.9 0.1h1.45m-1 0.6h1.45m-2.6 1.7h1.45m-1 0.3h1.45m-0.6 0.6h1.45m-1.7 1.7h1.45m21.9 0.9h1.45m-22.4 0.4h1.45m14.3 1h1.45m-2.1 0.5h1.45m-0.9-0h1.45m-0.5 0.1h1.45m-11.3 0.5h1.45m4 0.3h1.45m-3.3 0.3h1.45m-1.6 0.2h1.45"/><path stroke="#3e96ab" d="M428.9 565h1.45m-3.1 2.1h1.45m-2.9 1.3h1.45m-2.1 0.9h1.45m-1.6 0.5h1.45m-2.1 0.1h1.45m-3.6 1.1h1.45"/><path stroke="#419da4" d="M428.1 565.5h1.45"/></g>
<g fill="none" stroke-width="1" transform="translate(0 .5)"><path stroke="#3e96ab" d="M419 550h2m-7 1h2m8 0h1m-14 1h2m13 0h1m-18 1h1m17 0h1m-20 1h1m19 0h1m-24 2h1m23 0h1m-26 1h1m-2 1h1m-2 2h1m-2 1h1m-2 2h1m-2 2h1m-1 1h1m-1 1h1m-2 1h1m-1 1h2m-1 1h1m-1 1h1m0 1h1m19 0h1m-20 1h2m15 0h1m-16 1h3m8 0h2m-8 1h3"/><path stroke="#419da4" d="M416 551h3m1 0h4m-11 1h1m11 0h1m-16 1h1m15 0h1m-18 1h1m17 0h1m-21 1h1m20 0h1m-23 1h1m-2 1h1m23 0h1m-26 1h1m24 0h1m-27 1h1m25 0h1m-1 1h1m-28 1h1m26 0h1m-29 1h1m27 0h1m-30 2h1m-1 1h1m-2 3h1m0 1h1m23 0h1m-25 1h1m22 0h1m-24 1h2m19 0h1m-21 1h2m16 0h1m-17 1h2m11 0h2m-12 1h8"/><path stroke="#44a49d" d="M419 551h1m-6 1h2m7 0h2m-14 1h2m12 0h1m-16 1h1m15 0h1m-19 1h1m18 0h1m-21 1h1m20 0h1m-23 1h1m21 0h1m-24 1h1m-2 1h1m-2 1h1m-2 2h1m-2 1h1m-1 1h1m26 0h1m-29 2h1m26 0h1m-28 1h1m25 0h1m-27 1h1m24 0h1m-25 1h1m-1 1h1m20 0h1m-21 1h1m17 0h1m-18 1h1m14 0h1m-14 1h2m7 0h2"/><path stroke="#4bab92" d="M416 552h7m-10 1h1m10 0h1m-14 1h1m13 0h1m-17 1h1m16 0h1m-19 1h1m18 0h1m0 2h1m-1 1h1m-25 1h1m-2 1h1m-2 2h1m25 0h1m-27 1h1m-2 1h1m25 0h1m-27 1h1m-1 1h1m-1 1h1m0 1h1m20 0h1m-22 1h1m18 0h1m-19 1h1m15 0h1m-16 1h2m10 0h2m-11 1h7"/><path stroke="#55b081" d="M414 553h2m6 0h2m-12 1h1m11 0h1m-15 1h1m15 1h1m-20 1h1m19 0h1m-22 1h1m-2 1h1m22 1h1m-25 1h1m23 0h1m-26 1h1m24 0h1m-26 1h1m-2 2h1m-1 1h1m23 0h1m-25 1h1m22 0h1m-24 1h1m21 0h1m-22 1h1m18 0h1m-20 1h2m15 0h1m-17 1h2m12 0h1m-13 1h3m5 0h2"/><path stroke="#5eb571" d="M416 553h6m-9 1h2m8 0h1m-13 1h1m13 0h1m-17 1h1m-2 1h1m17 0h1m-20 1h1m19 0h1m-22 1h1m20 0h1m-23 1h1m-2 2h1m-2 2h1m23 0h1m-25 1h1m-1 1h1m-1 1h1m-1 1h1m0 1h1m0 1h1m13 0h1m-14 1h2m8 0h2m-9 1h5"/><path stroke="#68bb61" d="M415 554h3m2 0h3m-11 1h2m9 0h2m-15 1h2m13 0h1m-17 1h1m-2 1h1m-2 1h1m-2 1h1m20 0h1m-23 1h1m21 0h1m-23 1h1m21 0h1m-24 1h1m22 0h1m-24 1h1m-1 1h1m21 0h1m-23 1h1m-1 1h1m-1 1h1m18 0h1m-19 1h1m15 0h1m-16 1h2m9 0h2m-11 1h8"/><path stroke="#75c056" d="M418 554h2m-6 1h2m6 0h1m-11 1h1m11 0h1m-15 1h1m14 0h1m-17 1h1m16 0h1m-19 1h1m-2 1h1m-2 1h1m-1 1h1m-2 1h1m-1 1h1m-1 1h1m-1 1h1m19 0h1m-21 1h1m18 0h1m-20 1h2m15 0h1m-17 1h2m11 0h2m-13 1h3m3 0h3"/><path stroke="#84c450" d="M416 555h6m-9 1h2m8 0h1m-13 1h2m11 0h1m-15 1h1m14 0h1m-17 1h1m16 0h1m-19 1h1m-2 1h1m-1 1h1m-2 1h1m-1 1h1m19 0h1m-21 1h1m-1 1h1m-1 1h1m0 1h1m13 0h1m-14 1h3m5 0h3m-8 1h3"/><path stroke="#93c949" d="M415 556h3m3 0h2m-10 1h2m-4 1h2m-3 1h2m-3 1h1m16 0h1m-19 1h2m16 0h1m-19 1h1m17 0h1m-20 1h2m17 0h1m-20 1h1m-1 1h1m17 0h1m-19 1h2m15 0h1m-18 1h2m14 0h1m-16 1h4m8 0h1m-10 1h5"/><path stroke="#a2ce43" d="M418 556h3m-6 1h2m6 0h1m-11 1h2m9 0h1m-13 1h1m12 0h1m-16 1h2m-2 1h1m-2 1h2m-2 1h1m-2 1h2m-2 1h2m-1 1h2m-2 1h4m9 0h1m-11 1h8"/><path stroke="#b3d33d" d="M417 557h2m2 0h2m-8 1h1m-3 1h2m-3 1h2m11 0h1m-15 1h2m-2 1h2m-3 1h2m-2 1h3m12 0h1m-16 1h3m-2 1h3m-1 1h3"/><path stroke="#c5d838" d="M419 557h2m-5 1h1m6 0h1m-9 1h1m8 0h1m-11 1h1m-2 1h1m11 0h1m-13 1h1m-2 1h2m11 0h1m-13 1h1m-1 1h2m9 0h1m-11 1h2m7 0h1m-8 1h3m1 0h2"/><path stroke="#d6dd33" d="M417 558h2m3 0h1m-7 1h1m-2 1h1m-2 1h1m-1 1h1m10 0h1m-12 1h1m-1 1h1m0 1h1m0 1h1m2 1h1"/><path stroke="#e8e22e" d="M419 558h3m-5 1h1m5 0h1m0 1h1m-10 1h1m-1 3h1m8 0h1m-8 2h1m4 0h1"/><path stroke="#eed62c" d="M418 559h1m3 0h1m-7 1h1m7 1h1m-10 1h1m-1 1h1m8 0h1m-9 2h1m6 0h1m-6 1h4"/><path stroke="#f0c62b" d="M419 559h3m-5 1h1m5 0h1m-8 1h1m-1 1h1m7 0h1m-9 1h1m-1 1h1m0 1h1"/><path stroke="#f2b52a" d="M423 564h1m-6 1h1m3 0h1"/><path stroke="#f19d29" d="M418 560h1m3 0h1m-6 1h1m5 0h1m-7 1h1m5 0h1m-7 1h1m5 0h1m-7 1h1m1 1h3"/><path stroke="#ee8128" d="M419 560h3m-4 1h1m3 0h1m-5 3h1m3 0h1"/><path stroke="#e96627" d="M419 561h1m-2 1h1m3 0h1m-5 1h1m3 0h1m-4 1h1m1 0h1"/><path stroke="#e14d26" d="M420 561h2m-3 1h1m-1 1h1m0 1h1"/><path stroke="#d93426" d="M420 562h2m-2 1h2"/></g>
<rect x="34" y="30.6" width="178.70" height="177.80" fill="none" stroke="#1e1e1e" stroke-width="1.3"/>
<path d="M58.70 208.40v3.4M95.40 208.40v3.4M132.10 208.40v3.4M168.80 208.40v3.4M205.50 208.40v3.4M34.00 183.60h-3.4M34.00 146.90h-3.4M34.00 110.20h-3.4M34.00 73.50h-3.4M34.00 36.80h-3.4" stroke="#1e1e1e" stroke-width="1" fill="none"/>
<text x="58.70" y="222.80" font-size="7.9" text-anchor="middle" fill="#111" stroke="#111" stroke-width="0.12" >0</text>
<text x="95.40" y="222.80" font-size="7.9" text-anchor="middle" fill="#111" stroke="#111" stroke-width="0.12" >2</text>
<text x="132.10" y="222.80" font-size="7.9" text-anchor="middle" fill="#111" stroke="#111" stroke-width="0.12" >4</text>
<text x="168.80" y="222.80" font-size="7.9" text-anchor="middle" fill="#111" stroke="#111" stroke-width="0.12" >6</text>
<text x="205.50" y="222.80" font-size="7.9" text-anchor="middle" fill="#111" stroke="#111" stroke-width="0.12" >8</text>
<text x="28.00" y="186.30" font-size="7.9" text-anchor="end" fill="#111" stroke="#111" stroke-width="0.12" >0</text>
<text x="28.00" y="149.60" font-size="7.9" text-anchor="end" fill="#111" stroke="#111" stroke-width="0.12" >2</text>
<text x="28.00" y="112.90" font-size="7.9" text-anchor="end" fill="#111" stroke="#111" stroke-width="0.12" >4</text>
<text x="28.00" y="76.20" font-size="7.9" text-anchor="end" fill="#111" stroke="#111" stroke-width="0.12" >6</text>
<text x="28.00" y="39.50" font-size="7.9" text-anchor="end" fill="#111" stroke="#111" stroke-width="0.12" >8</text>
<rect x="37" y="276.3" width="178.20" height="177.90" fill="none" stroke="#1e1e1e" stroke-width="1.3"/>
<path d="M61.70 454.20v3.4M98.40 454.20v3.4M135.10 454.20v3.4M171.80 454.20v3.4M208.50 454.20v3.4M37.00 429.50h-3.4M37.00 401.50h-3.4M37.00 372.00h-3.4M37.00 342.00h-3.4M37.00 312.00h-3.4M37.00 282.00h-3.4" stroke="#1e1e1e" stroke-width="1" fill="none"/>
<text x="61.70" y="468.60" font-size="7.9" text-anchor="middle" fill="#111" stroke="#111" stroke-width="0.12" >0</text>
<text x="98.40" y="468.60" font-size="7.9" text-anchor="middle" fill="#111" stroke="#111" stroke-width="0.12" >2</text>
<text x="135.10" y="468.60" font-size="7.9" text-anchor="middle" fill="#111" stroke="#111" stroke-width="0.12" >4</text>
<text x="171.80" y="468.60" font-size="7.9" text-anchor="middle" fill="#111" stroke="#111" stroke-width="0.12" >6</text>
<text x="208.50" y="468.60" font-size="7.9" text-anchor="middle" fill="#111" stroke="#111" stroke-width="0.12" >8</text>
<text x="31.00" y="432.20" font-size="7.9" text-anchor="end" fill="#111" stroke="#111" stroke-width="0.12" >-2</text>
<text x="31.00" y="404.20" font-size="7.9" text-anchor="end" fill="#111" stroke="#111" stroke-width="0.12" >0</text>
<text x="31.00" y="374.70" font-size="7.9" text-anchor="end" fill="#111" stroke="#111" stroke-width="0.12" >2</text>
<text x="31.00" y="344.70" font-size="7.9" text-anchor="end" fill="#111" stroke="#111" stroke-width="0.12" >4</text>
<text x="31.00" y="314.70" font-size="7.9" text-anchor="end" fill="#111" stroke="#111" stroke-width="0.12" >6</text>
<text x="31.00" y="284.70" font-size="7.9" text-anchor="end" fill="#111" stroke="#111" stroke-width="0.12" >8</text>
<rect x="298" y="276.1" width="178.00" height="177.90" fill="none" stroke="#1e1e1e" stroke-width="1.3"/>
<path d="M323.00 454.00v3.4M359.80 454.00v3.4M396.60 454.00v3.4M433.40 454.00v3.4M470.20 454.00v3.4M298.00 429.20h-3.4M298.00 392.48h-3.4M298.00 355.76h-3.4M298.00 319.04h-3.4M298.00 282.32h-3.4" stroke="#1e1e1e" stroke-width="1" fill="none"/>
<text x="323.00" y="468.40" font-size="7.9" text-anchor="middle" fill="#111" stroke="#111" stroke-width="0.12" >0</text>
<text x="359.80" y="468.40" font-size="7.9" text-anchor="middle" fill="#111" stroke="#111" stroke-width="0.12" >2</text>
<text x="396.60" y="468.40" font-size="7.9" text-anchor="middle" fill="#111" stroke="#111" stroke-width="0.12" >4</text>
<text x="433.40" y="468.40" font-size="7.9" text-anchor="middle" fill="#111" stroke="#111" stroke-width="0.12" >6</text>
<text x="470.20" y="468.40" font-size="7.9" text-anchor="middle" fill="#111" stroke="#111" stroke-width="0.12" >8</text>
<text x="292.00" y="431.90" font-size="7.9" text-anchor="end" fill="#111" stroke="#111" stroke-width="0.12" >0</text>
<text x="292.00" y="395.18" font-size="7.9" text-anchor="end" fill="#111" stroke="#111" stroke-width="0.12" >2</text>
<text x="292.00" y="358.46" font-size="7.9" text-anchor="end" fill="#111" stroke="#111" stroke-width="0.12" >4</text>
<text x="292.00" y="321.74" font-size="7.9" text-anchor="end" fill="#111" stroke="#111" stroke-width="0.12" >6</text>
<text x="292.00" y="285.02" font-size="7.9" text-anchor="end" fill="#111" stroke="#111" stroke-width="0.12" >8</text>
<rect x="34" y="501.2" width="178.40" height="178.00" fill="none" stroke="#1e1e1e" stroke-width="1.3"/>
<path d="M59.40 679.20v3.4M95.90 679.20v3.4M132.40 679.20v3.4M168.90 679.20v3.4M205.40 679.20v3.4M34.00 654.00h-3.4M34.00 617.20h-3.4M34.00 580.40h-3.4M34.00 543.60h-3.4M34.00 506.80h-3.4" stroke="#1e1e1e" stroke-width="1" fill="none"/>
<text x="59.40" y="693.60" font-size="7.9" text-anchor="middle" fill="#111" stroke="#111" stroke-width="0.12" >0</text>
<text x="95.90" y="693.60" font-size="7.9" text-anchor="middle" fill="#111" stroke="#111" stroke-width="0.12" >2</text>
<text x="132.40" y="693.60" font-size="7.9" text-anchor="middle" fill="#111" stroke="#111" stroke-width="0.12" >4</text>
<text x="168.90" y="693.60" font-size="7.9" text-anchor="middle" fill="#111" stroke="#111" stroke-width="0.12" >6</text>
<text x="205.40" y="693.60" font-size="7.9" text-anchor="middle" fill="#111" stroke="#111" stroke-width="0.12" >8</text>
<text x="28.00" y="656.70" font-size="7.9" text-anchor="end" fill="#111" stroke="#111" stroke-width="0.12" >0</text>
<text x="28.00" y="619.90" font-size="7.9" text-anchor="end" fill="#111" stroke="#111" stroke-width="0.12" >2</text>
<text x="28.00" y="583.10" font-size="7.9" text-anchor="end" fill="#111" stroke="#111" stroke-width="0.12" >4</text>
<text x="28.00" y="546.30" font-size="7.9" text-anchor="end" fill="#111" stroke="#111" stroke-width="0.12" >6</text>
<text x="28.00" y="509.50" font-size="7.9" text-anchor="end" fill="#111" stroke="#111" stroke-width="0.12" >8</text>
<rect x="298" y="501" width="178.00" height="178.00" fill="none" stroke="#1e1e1e" stroke-width="1.3"/>
<path d="M323.00 679.00v3.4M359.80 679.00v3.4M396.60 679.00v3.4M433.40 679.00v3.4M470.20 679.00v3.4M298.00 654.00h-3.4M298.00 617.20h-3.4M298.00 580.40h-3.4M298.00 543.60h-3.4M298.00 506.80h-3.4" stroke="#1e1e1e" stroke-width="1" fill="none"/>
<text x="323.00" y="693.40" font-size="7.9" text-anchor="middle" fill="#111" stroke="#111" stroke-width="0.12" >0</text>
<text x="359.80" y="693.40" font-size="7.9" text-anchor="middle" fill="#111" stroke="#111" stroke-width="0.12" >2</text>
<text x="396.60" y="693.40" font-size="7.9" text-anchor="middle" fill="#111" stroke="#111" stroke-width="0.12" >4</text>
<text x="433.40" y="693.40" font-size="7.9" text-anchor="middle" fill="#111" stroke="#111" stroke-width="0.12" >6</text>
<text x="470.20" y="693.40" font-size="7.9" text-anchor="middle" fill="#111" stroke="#111" stroke-width="0.12" >8</text>
<text x="292.00" y="656.70" font-size="7.9" text-anchor="end" fill="#111" stroke="#111" stroke-width="0.12" >0</text>
<text x="292.00" y="619.90" font-size="7.9" text-anchor="end" fill="#111" stroke="#111" stroke-width="0.12" >2</text>
<text x="292.00" y="583.10" font-size="7.9" text-anchor="end" fill="#111" stroke="#111" stroke-width="0.12" >4</text>
<text x="292.00" y="546.30" font-size="7.9" text-anchor="end" fill="#111" stroke="#111" stroke-width="0.12" >6</text>
<text x="292.00" y="509.50" font-size="7.9" text-anchor="end" fill="#111" stroke="#111" stroke-width="0.12" >8</text>
<text x="9.8" y="17.6" font-size="11.6" text-anchor="start" fill="#231f20" stroke="#231f20" stroke-width="0.12" >A</text>
<text x="226.5" y="17.6" font-size="11.6" text-anchor="start" fill="#231f20" stroke="#231f20" stroke-width="0.12" >B</text>
<path d="M276.8 11.5V220.4H512.5" stroke="#231f20" stroke-width="1.3" fill="none"/>
<path d="M273 220.00h3.8M273 178.15h3.8M273 136.30h3.8M273 94.45h3.8M273 52.60h3.8M273 10.75h3.8" stroke="#231f20" stroke-width="1" fill="none"/>
<text x="270.8" y="222.80" font-size="8.2" text-anchor="end" fill="#231f20" stroke="#231f20" stroke-width="0.12" >0</text>
<text x="270.8" y="180.95" font-size="8.2" text-anchor="end" fill="#231f20" stroke="#231f20" stroke-width="0.12" >20</text>
<text x="270.8" y="139.10" font-size="8.2" text-anchor="end" fill="#231f20" stroke="#231f20" stroke-width="0.12" >40</text>
<text x="270.8" y="97.25" font-size="8.2" text-anchor="end" fill="#231f20" stroke="#231f20" stroke-width="0.12" >60</text>
<text x="270.8" y="55.40" font-size="8.2" text-anchor="end" fill="#231f20" stroke="#231f20" stroke-width="0.12" >80</text>
<text x="270.8" y="13.55" font-size="8.2" text-anchor="end" fill="#231f20" stroke="#231f20" stroke-width="0.12" >100</text>
<text x="0" y="0" font-size="9.5" text-anchor="middle" fill="#231f20" stroke="#231f20" stroke-width="0.12" transform="translate(250.3 114.3) rotate(-90)">Frequency of clones</text>
<rect x="279.6" y="11.60" width="12.5" height="10.2" fill="#8e7237"/>
<text x="295.7" y="19.40" font-size="7.0" text-anchor="start" fill="#231f20" stroke="#231f20" stroke-width="0.12" >Blast</text>
<rect x="279.6" y="25.40" width="12.5" height="10.2" fill="#9b6493"/>
<text x="295.7" y="33.20" font-size="7.0" text-anchor="start" fill="#231f20" stroke="#231f20" stroke-width="0.12" >NM + L + E</text>
<rect x="279.6" y="39.20" width="12.5" height="10.2" fill="#457d48"/>
<text x="295.7" y="47.00" font-size="7.0" text-anchor="start" fill="#231f20" stroke="#231f20" stroke-width="0.12" >NM + L</text>
<rect x="279.6" y="53.00" width="12.5" height="10.2" fill="#6b4a8c"/>
<text x="295.7" y="60.80" font-size="7.0" text-anchor="start" fill="#231f20" stroke="#231f20" stroke-width="0.12" >NM + E</text>
<rect x="279.6" y="66.80" width="12.5" height="10.2" fill="#8c3a2d"/>
<text x="295.7" y="74.60" font-size="7.0" text-anchor="start" fill="#231f20" stroke="#231f20" stroke-width="0.12" >E</text>
<rect x="279.6" y="80.60" width="12.5" height="10.2" fill="#0e8d95"/>
<text x="295.7" y="88.40" font-size="7.0" text-anchor="start" fill="#231f20" stroke="#231f20" stroke-width="0.12" >L</text>
<rect x="279.6" y="94.40" width="12.5" height="10.2" fill="#4b437f"/>
<text x="295.7" y="102.20" font-size="7.0" text-anchor="start" fill="#231f20" stroke="#231f20" stroke-width="0.12" >NM</text>
<rect x="282" y="216.25" width="32.2" height="4.15" fill="#4b437f"/>
<rect x="282" y="142" width="32.2" height="74.25" fill="#8c3a2d"/>
<rect x="282" y="138.75" width="32.2" height="3.25" fill="#6b4a8c"/>
<rect x="282" y="134" width="32.2" height="4.75" fill="#457d48"/>
<rect x="282" y="132.5" width="32.2" height="1.50" fill="#9b6493"/>
<rect x="320.25" y="146.25" width="32.2" height="74.15" fill="#4b437f"/>
<rect x="320.25" y="144.8" width="32.2" height="1.45" fill="#0e8d95"/>
<rect x="320.25" y="143.2" width="32.2" height="1.60" fill="#8c3a2d"/>
<rect x="320.25" y="141.25" width="32.2" height="1.95" fill="#6b4a8c"/>
<rect x="320.25" y="113" width="32.2" height="28.25" fill="#457d48"/>
<rect x="358.75" y="205" width="32.2" height="15.40" fill="#4b437f"/>
<rect x="358.75" y="157" width="32.2" height="48.00" fill="#0e8d95"/>
<rect x="358.75" y="144.5" width="32.2" height="12.50" fill="#457d48"/>
<rect x="397" y="188" width="32.2" height="32.40" fill="#4b437f"/>
<rect x="397" y="164.2" width="32.2" height="23.80" fill="#0e8d95"/>
<rect x="397" y="162.6" width="32.2" height="1.60" fill="#8c3a2d"/>
<rect x="397" y="161.4" width="32.2" height="1.20" fill="#6b4a8c"/>
<rect x="397" y="70.9" width="32.2" height="90.50" fill="#457d48"/>
<rect x="397" y="66.6" width="32.2" height="4.30" fill="#9b6493"/>
<rect x="397" y="57" width="32.2" height="9.60" fill="#8e7237"/>
<rect x="435.5" y="219" width="32.2" height="1.40" fill="#4b437f"/>
<rect x="435.5" y="217.7" width="32.2" height="1.30" fill="#6b4a8c"/>
<rect x="435.5" y="199.9" width="32.2" height="17.80" fill="#0e8d95"/>
<rect x="435.5" y="194.6" width="32.2" height="5.30" fill="#457d48"/>
<rect x="473.7" y="208.4" width="32.2" height="12.00" fill="#4b437f"/>
<rect x="473.7" y="190" width="32.2" height="18.40" fill="#0e8d95"/>
<rect x="473.7" y="186" width="32.2" height="4.00" fill="#6b4a8c"/>
<rect x="473.7" y="105.3" width="32.2" height="80.70" fill="#457d48"/>
<rect x="473.7" y="99.3" width="32.2" height="6.00" fill="#9b6493"/>
<rect x="473.7" y="91" width="32.2" height="8.30" fill="#8e7237"/>
<path d="M276.8 220.4H512.5" stroke="#231f20" stroke-width="1.3" fill="none"/>
<text x="298.10" y="234.6" font-size="8.2" text-anchor="middle" fill="#a33b2e" stroke="#a33b2e" stroke-width="0.12" >P-E</text>
<text x="298.10" y="246.7" font-size="7.8" text-anchor="middle" fill="#231f20" stroke="#231f20" stroke-width="0.12" >8.9</text>
<text x="298.10" y="256.8" font-size="7.8" text-anchor="middle" fill="#231f20" stroke="#231f20" stroke-width="0.12" >&#177;1.6</text>
<text x="336.35" y="234.6" font-size="8.2" text-anchor="middle" fill="#4b4392" stroke="#4b4392" stroke-width="0.12" >P-NM</text>
<text x="336.35" y="246.7" font-size="7.8" text-anchor="middle" fill="#231f20" stroke="#231f20" stroke-width="0.12" >10.2</text>
<text x="336.35" y="256.8" font-size="7.8" text-anchor="middle" fill="#231f20" stroke="#231f20" stroke-width="0.12" >&#177;1.2</text>
<text x="374.85" y="234.6" font-size="8.2" text-anchor="middle" fill="#1597a3" stroke="#1597a3" stroke-width="0.12" >P-L</text>
<text x="374.85" y="246.7" font-size="7.8" text-anchor="middle" fill="#231f20" stroke="#231f20" stroke-width="0.12" >2.4</text>
<text x="374.85" y="256.8" font-size="7.8" text-anchor="middle" fill="#231f20" stroke="#231f20" stroke-width="0.12" >&#177;0.7</text>
<text x="413.10" y="234.6" font-size="8.2" text-anchor="middle" fill="#231f20" stroke="#231f20" stroke-width="0.12" >P-Mix</text>
<text x="413.10" y="246.7" font-size="7.8" text-anchor="middle" fill="#231f20" stroke="#231f20" stroke-width="0.12" >25.7</text>
<text x="413.10" y="256.8" font-size="7.8" text-anchor="middle" fill="#231f20" stroke="#231f20" stroke-width="0.12" >&#177;4.7</text>
<text x="451.60" y="234.6" font-size="8.2" text-anchor="middle" fill="#231f20" stroke="#231f20" stroke-width="0.12" >38<tspan font-size="5" dy="-3">-</tspan><tspan dy="3">10</tspan><tspan font-size="5" dy="-3">+</tspan></text>
<text x="451.60" y="246.7" font-size="7.8" text-anchor="middle" fill="#231f20" stroke="#231f20" stroke-width="0.12" >1.3</text>
<text x="451.60" y="256.8" font-size="7.8" text-anchor="middle" fill="#231f20" stroke="#231f20" stroke-width="0.12" >&#177;0.6</text>
<text x="489.80" y="234.6" font-size="8.2" text-anchor="middle" fill="#231f20" stroke="#231f20" stroke-width="0.12" >38<tspan font-size="5" dy="-3">-</tspan><tspan dy="3">10</tspan><tspan font-size="5" dy="-3">-</tspan></text>
<text x="489.80" y="246.7" font-size="7.8" text-anchor="middle" fill="#231f20" stroke="#231f20" stroke-width="0.12" >8.2</text>
<text x="489.80" y="256.8" font-size="7.8" text-anchor="middle" fill="#231f20" stroke="#231f20" stroke-width="0.12" >&#177;1.6</text>
<text x="269.8" y="246.7" font-size="8.3" text-anchor="end" fill="#231f20" stroke="#231f20" stroke-width="0.12" textLength="30.9" lengthAdjust="spacingAndGlyphs">% within</text>
<text x="269.8" y="256.8" font-size="8.3" text-anchor="end" fill="#231f20" stroke="#231f20" stroke-width="0.12" textLength="24.3" lengthAdjust="spacingAndGlyphs">CD34+</text>
<text x="123.35" y="236.50" font-size="10" text-anchor="middle" fill="#231f20" stroke="#231f20" stroke-width="0.12" textLength="22.9" lengthAdjust="spacingAndGlyphs">CD34</text>
<text x="0" y="0" font-size="10" text-anchor="middle" fill="#231f20" stroke="#231f20" stroke-width="0.12" textLength="49.4" lengthAdjust="spacingAndGlyphs" transform="translate(17.30 119.50) rotate(-90)">CD45(HI30)</text>
<text x="126.10" y="482.30" font-size="10" text-anchor="middle" fill="#231f20" stroke="#231f20" stroke-width="0.12" textLength="21.6" lengthAdjust="spacingAndGlyphs">CD71</text>
<text x="0" y="0" font-size="10" text-anchor="middle" fill="#231f20" stroke="#231f20" stroke-width="0.12" textLength="23.7" lengthAdjust="spacingAndGlyphs" transform="translate(18.40 365.25) rotate(-90)">CD38</text>
<text x="387.00" y="482.10" font-size="10" text-anchor="middle" fill="#231f20" stroke="#231f20" stroke-width="0.12" textLength="34.6" lengthAdjust="spacingAndGlyphs">CD45RA</text>
<text x="0" y="0" font-size="10" text-anchor="middle" fill="#231f20" stroke="#231f20" stroke-width="0.12" textLength="24" lengthAdjust="spacingAndGlyphs" transform="translate(281.10 365.05) rotate(-90)">CD10</text>
<text x="123.20" y="707.60" font-size="10" text-anchor="middle" fill="#231f20" stroke="#231f20" stroke-width="0.12" textLength="34.6" lengthAdjust="spacingAndGlyphs">CD45RA</text>
<text x="0" y="0" font-size="10" text-anchor="middle" fill="#231f20" stroke="#231f20" stroke-width="0.12" textLength="24" lengthAdjust="spacingAndGlyphs" transform="translate(17.30 590.20) rotate(-90)">CD10</text>
<text x="387.00" y="707.50" font-size="10" text-anchor="middle" fill="#231f20" stroke="#231f20" stroke-width="0.12" textLength="22.9" lengthAdjust="spacingAndGlyphs">CD34</text>
<text x="0" y="0" font-size="10" text-anchor="middle" fill="#231f20" stroke="#231f20" stroke-width="0.12" textLength="49.4" lengthAdjust="spacingAndGlyphs" transform="translate(281.10 590.00) rotate(-90)">CD45(HI30)</text>
<path d="M100.3 86.5L105 83.2L170.1 66.1L184.6 68.2L183.2 91.5L169.1 116.9L133 122.1L106 108.7Z" fill="none" stroke="#151515" stroke-width="1.1"/>
<text x="152.2" y="102.3" font-size="10" text-anchor="middle" fill="#231f20" stroke="#231f20" stroke-width="0.12" >90.22</text>
<path d="M131.6 276.3V353.5H37M135.8 276.3V353.5H215M37 357.2H131.6V394.5H37M37 398H131.2V454.3" fill="none" stroke="#151515" stroke-width="1.1"/>
<text x="39" y="351" font-size="10.4" text-anchor="start" fill="#231f20" stroke="#231f20" stroke-width="0.12" >9.47</text>
<text x="213.5" y="351" font-size="10.4" text-anchor="end" fill="#231f20" stroke="#231f20" stroke-width="0.12" >10.79</text>
<text x="39" y="392.5" font-size="10.4" text-anchor="start" fill="#231f20" stroke="#231f20" stroke-width="0.12" >51.75</text>
<text x="39" y="407.2" font-size="10.4" text-anchor="start" fill="#231f20" stroke="#231f20" stroke-width="0.12" >10.18</text>
<text x="43.3" y="287.8" font-size="10.2" text-anchor="start" fill="#4e4a95" stroke="#4e4a95" stroke-width="0.12" textLength="22.9" lengthAdjust="spacingAndGlyphs">P-NM</text>
<text x="208.3" y="287.6" font-size="9.8" text-anchor="end" fill="#a0443a" stroke="#a0443a" stroke-width="0.12" textLength="13.2" lengthAdjust="spacingAndGlyphs">P-E</text>
<path d="M386.9 276.1V374.3H476M298 388.1H476" fill="none" stroke="#151515" stroke-width="1.1"/>
<text x="470.2" y="288.6" font-size="9.2" text-anchor="end" fill="#1a9aaa" stroke="#1a9aaa" stroke-width="0.12" textLength="12.2" lengthAdjust="spacingAndGlyphs">P-L</text>
<text x="474" y="372.4" font-size="10.4" text-anchor="end" fill="#231f20" stroke="#231f20" stroke-width="0.12" >4.05</text>
<text x="474" y="397.2" font-size="10.4" text-anchor="end" fill="#231f20" stroke="#231f20" stroke-width="0.12" >86.33</text>
<path d="M123.75 501.2V594.1H212.4M34 607.8H212.4" fill="none" stroke="#151515" stroke-width="1.1"/>
<text x="205.6" y="514.1" font-size="9.8" text-anchor="end" fill="#231f20" stroke="#231f20" stroke-width="0.12" >38<tspan font-size="6.5" dy="-3.6">-</tspan><tspan dy="3.6">10</tspan><tspan font-size="6.5" dy="-3.6">+</tspan></text>
<text x="210.5" y="591.3" font-size="10.4" text-anchor="end" fill="#231f20" stroke="#231f20" stroke-width="0.12" >8.64</text>
<text x="210.5" y="618.2" font-size="10.4" text-anchor="end" fill="#231f20" stroke="#231f20" stroke-width="0.12" >74.08</text>
<text x="205.6" y="672.7" font-size="9.8" text-anchor="end" fill="#231f20" stroke="#231f20" stroke-width="0.12" >38<tspan font-size="6.5" dy="-3.6">-</tspan><tspan dy="3.6">10</tspan><tspan font-size="6.5" dy="-3.6">-</tspan></text>
<path d="M414.6 501V567H476" fill="none" stroke="#151515" stroke-width="1.1"/>
<text x="471" y="513.2" font-size="9.6" text-anchor="end" fill="#231f20" stroke="#231f20" stroke-width="0.12" textLength="24.1" lengthAdjust="spacingAndGlyphs">P-Mix</text>
<text x="473.5" y="565.5" font-size="9.8" text-anchor="end" fill="#231f20" stroke="#231f20" stroke-width="0.12" >48.52</text>
<path d="M150.6 110.5V270M119.7 375.7H168.8L233.2 410.3H287M80.1 437.7V492M340.8 438.4V491" fill="none" stroke="#231f20" stroke-width="1.1"/>
<path d="M150.60 275.60L147.00 267.20L150.60 269.40L154.20 267.20Z" fill="#111"/>
<path d="M295.00 410.30L283.60 414.80L286.20 410.30L283.60 405.80Z" fill="#111"/>
<path d="M80.10 500.20L75.30 489.40L80.10 492.00L84.90 489.40Z" fill="#111"/>
<path d="M340.80 500.40L336.00 489.20L340.80 491.80L345.60 489.20Z" fill="#111"/>
<rect x="0.6" y="0.6" width="518.6" height="714.6" fill="none" stroke="#4a4a4a" stroke-width="1.6"/>
</svg></body></html>
